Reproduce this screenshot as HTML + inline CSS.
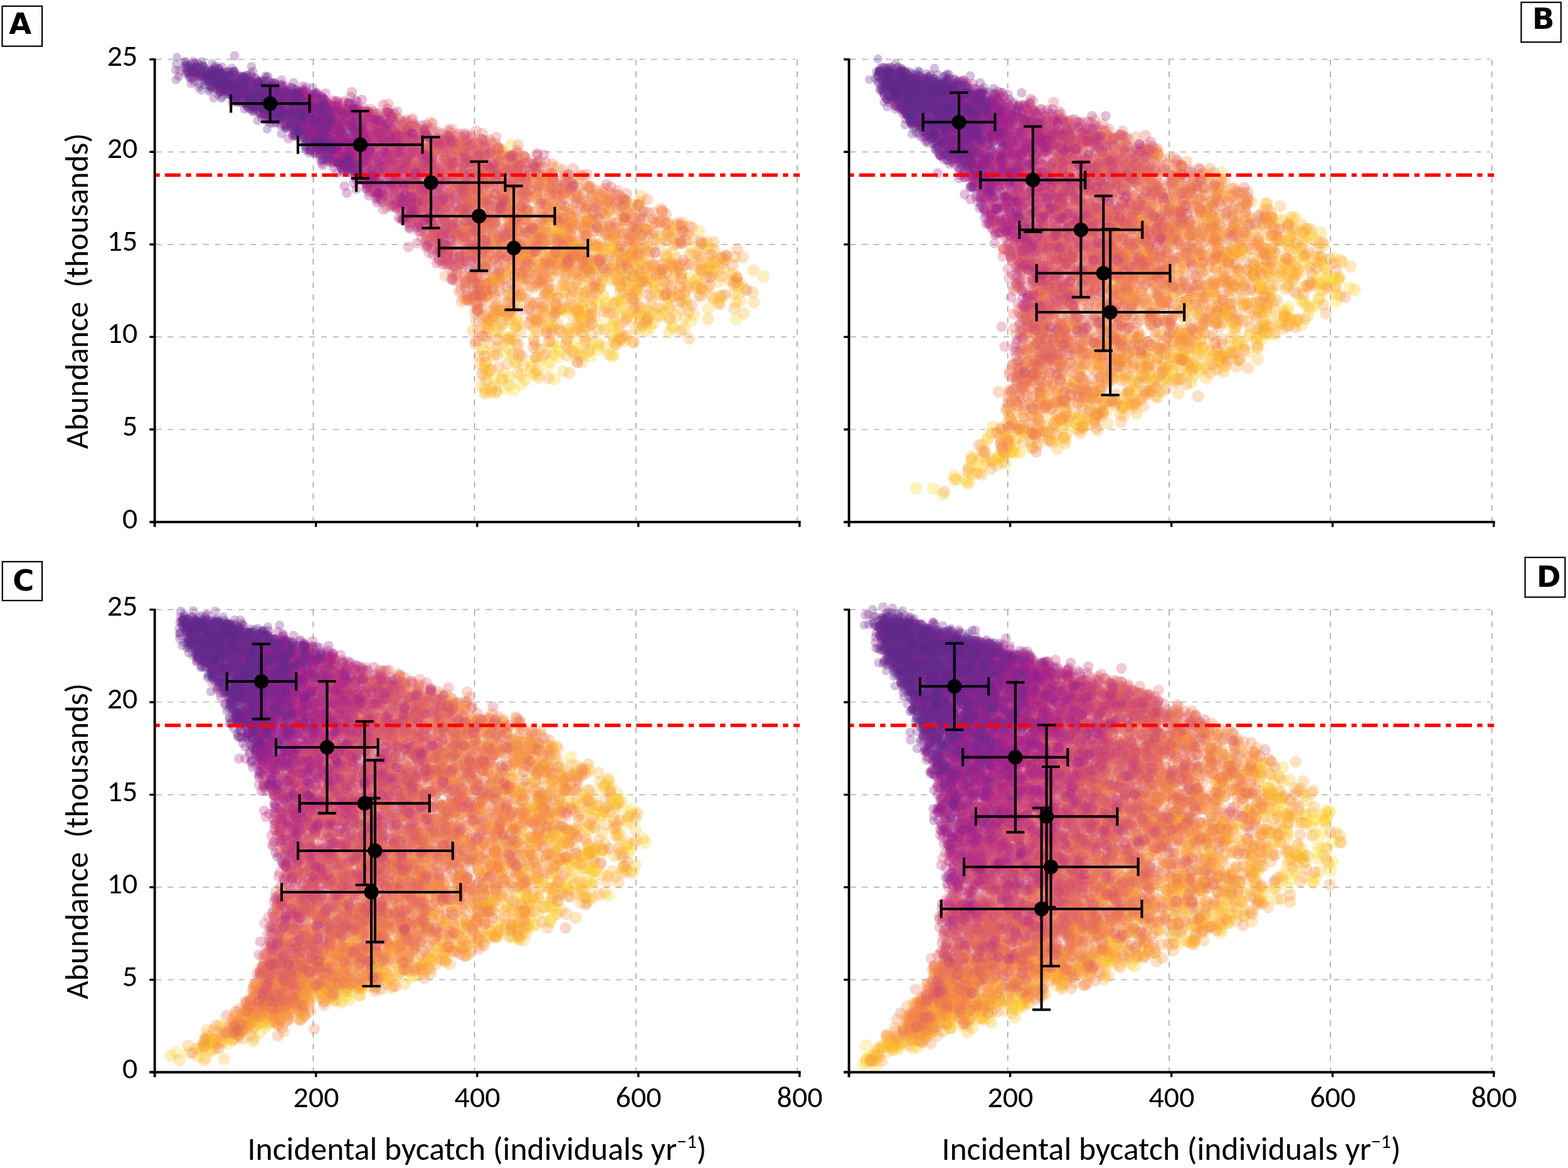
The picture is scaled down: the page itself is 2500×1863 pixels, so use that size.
<!DOCTYPE html>
<html><head><meta charset="utf-8"><title>Abundance vs incidental bycatch</title>
<style>
html,body{margin:0;padding:0;background:#fff;width:2500px;height:1863px;overflow:hidden}
svg{display:block}
.gh{stroke:#b4b6b9;stroke-width:1.7;stroke-dasharray:9 9.8}
.gv{stroke:#9c9ea1;stroke-width:1.5;stroke-dasharray:9 9.7}
.ax{stroke:#000;stroke-width:3.9;fill:none}
.tk{stroke:#000;stroke-width:3.4;fill:none}
.rl{stroke:#ff0000;stroke-width:5.4;stroke-dasharray:8.4 8.2 25.2 8.3}
.eb{stroke:#000;stroke-width:4.1;fill:none}
.tl{font-family:Carlito, 'Liberation Sans', sans-serif;font-size:48px;fill:#000}
.tt{font-family:Carlito, 'Liberation Sans', sans-serif;font-size:51px;fill:#000}
.bx{fill:none;stroke:#000;stroke-width:2.2}
.pl{font-family:'DejaVu Sans', 'Liberation Sans', sans-serif;font-weight:bold;font-size:46.5px;fill:#000}
</style></head><body>
<svg width="2500" height="1863" viewBox="0 0 2500 1863" xmlns="http://www.w3.org/2000/svg">
<rect width="2500" height="1863" fill="#fff"/>
<line x1="248.7" y1="94.7" x2="1268.1" y2="94.7" class="gh"/>
<line x1="248.7" y1="242.3" x2="1268.1" y2="242.3" class="gh"/>
<line x1="248.7" y1="389.9" x2="1268.1" y2="389.9" class="gh"/>
<line x1="248.7" y1="537.4" x2="1268.1" y2="537.4" class="gh"/>
<line x1="248.7" y1="685.0" x2="1268.1" y2="685.0" class="gh"/>
<line x1="499.4" y1="95.2" x2="499.4" y2="830.6" class="gv"/>
<line x1="756.6" y1="95.2" x2="756.6" y2="830.6" class="gv"/>
<line x1="1013.9" y1="95.2" x2="1013.9" y2="830.6" class="gv"/>
<line x1="1271.1" y1="95.2" x2="1271.1" y2="830.6" class="gv"/>
<line x1="1355.6" y1="94.7" x2="2375.6" y2="94.7" class="gh"/>
<line x1="1355.6" y1="242.3" x2="2375.6" y2="242.3" class="gh"/>
<line x1="1355.6" y1="389.9" x2="2375.6" y2="389.9" class="gh"/>
<line x1="1355.6" y1="537.4" x2="2375.6" y2="537.4" class="gh"/>
<line x1="1355.6" y1="685.0" x2="2375.6" y2="685.0" class="gh"/>
<line x1="1606.8" y1="95.2" x2="1606.8" y2="830.6" class="gv"/>
<line x1="1864.1" y1="95.2" x2="1864.1" y2="830.6" class="gv"/>
<line x1="2121.3" y1="95.2" x2="2121.3" y2="830.6" class="gv"/>
<line x1="2378.6" y1="95.2" x2="2378.6" y2="830.6" class="gv"/>
<line x1="248.7" y1="972.4" x2="1268.1" y2="972.4" class="gh"/>
<line x1="248.7" y1="1120.0" x2="1268.1" y2="1120.0" class="gh"/>
<line x1="248.7" y1="1267.6" x2="1268.1" y2="1267.6" class="gh"/>
<line x1="248.7" y1="1415.1" x2="1268.1" y2="1415.1" class="gh"/>
<line x1="248.7" y1="1562.7" x2="1268.1" y2="1562.7" class="gh"/>
<line x1="499.4" y1="972.9" x2="499.4" y2="1708.3" class="gv"/>
<line x1="756.6" y1="972.9" x2="756.6" y2="1708.3" class="gv"/>
<line x1="1013.9" y1="972.9" x2="1013.9" y2="1708.3" class="gv"/>
<line x1="1271.1" y1="972.9" x2="1271.1" y2="1708.3" class="gv"/>
<line x1="1355.6" y1="972.4" x2="2375.6" y2="972.4" class="gh"/>
<line x1="1355.6" y1="1120.0" x2="2375.6" y2="1120.0" class="gh"/>
<line x1="1355.6" y1="1267.6" x2="2375.6" y2="1267.6" class="gh"/>
<line x1="1355.6" y1="1415.1" x2="2375.6" y2="1415.1" class="gh"/>
<line x1="1355.6" y1="1562.7" x2="2375.6" y2="1562.7" class="gh"/>
<line x1="1606.8" y1="972.9" x2="1606.8" y2="1708.3" class="gv"/>
<line x1="1864.1" y1="972.9" x2="1864.1" y2="1708.3" class="gv"/>
<line x1="2121.3" y1="972.9" x2="2121.3" y2="1708.3" class="gv"/>
<line x1="2378.6" y1="972.9" x2="2378.6" y2="1708.3" class="gv"/>
<defs><marker id="k0" markerUnits="userSpaceOnUse" overflow="visible"><circle r="6.5" fill="#582c8c" fill-opacity="0.3"/></marker><marker id="k1" markerUnits="userSpaceOnUse" overflow="visible"><circle r="6.7" fill="#5b2c8c" fill-opacity="0.3"/></marker><marker id="k2" markerUnits="userSpaceOnUse" overflow="visible"><circle r="6.8" fill="#5f2c8d" fill-opacity="0.3"/></marker><marker id="k3" markerUnits="userSpaceOnUse" overflow="visible"><circle r="7.0" fill="#622c8d" fill-opacity="0.3"/></marker><marker id="k4" markerUnits="userSpaceOnUse" overflow="visible"><circle r="7.1" fill="#652c8e" fill-opacity="0.3"/></marker><marker id="k5" markerUnits="userSpaceOnUse" overflow="visible"><circle r="7.3" fill="#6b2b8e" fill-opacity="0.3"/></marker><marker id="k6" markerUnits="userSpaceOnUse" overflow="visible"><circle r="7.5" fill="#78288f" fill-opacity="0.3"/></marker><marker id="k7" markerUnits="userSpaceOnUse" overflow="visible"><circle r="7.6" fill="#852590" fill-opacity="0.3"/></marker><marker id="k8" markerUnits="userSpaceOnUse" overflow="visible"><circle r="7.8" fill="#952390" fill-opacity="0.3"/></marker><marker id="k9" markerUnits="userSpaceOnUse" overflow="visible"><circle r="7.9" fill="#a6218f" fill-opacity="0.3"/></marker><marker id="k10" markerUnits="userSpaceOnUse" overflow="visible"><circle r="8.1" fill="#b32889" fill-opacity="0.3"/></marker><marker id="k11" markerUnits="userSpaceOnUse" overflow="visible"><circle r="8.3" fill="#be3482" fill-opacity="0.3"/></marker><marker id="k12" markerUnits="userSpaceOnUse" overflow="visible"><circle r="8.4" fill="#c8407a" fill-opacity="0.3"/></marker><marker id="k13" markerUnits="userSpaceOnUse" overflow="visible"><circle r="8.6" fill="#d14c72" fill-opacity="0.3"/></marker><marker id="k14" markerUnits="userSpaceOnUse" overflow="visible"><circle r="8.7" fill="#d9586a" fill-opacity="0.3"/></marker><marker id="k15" markerUnits="userSpaceOnUse" overflow="visible"><circle r="8.9" fill="#e06461" fill-opacity="0.3"/></marker><marker id="k16" markerUnits="userSpaceOnUse" overflow="visible"><circle r="9.1" fill="#e87158" fill-opacity="0.3"/></marker><marker id="k17" markerUnits="userSpaceOnUse" overflow="visible"><circle r="9.2" fill="#ef7e4f" fill-opacity="0.3"/></marker><marker id="k18" markerUnits="userSpaceOnUse" overflow="visible"><circle r="9.4" fill="#f48b46" fill-opacity="0.3"/></marker><marker id="k19" markerUnits="userSpaceOnUse" overflow="visible"><circle r="9.5" fill="#f9993e" fill-opacity="0.3"/></marker><marker id="k20" markerUnits="userSpaceOnUse" overflow="visible"><circle r="9.7" fill="#fba735" fill-opacity="0.3"/></marker><marker id="k21" markerUnits="userSpaceOnUse" overflow="visible"><circle r="9.9" fill="#fcb72d" fill-opacity="0.3"/></marker><marker id="k22" markerUnits="userSpaceOnUse" overflow="visible"><circle r="10.0" fill="#fdc627" fill-opacity="0.3"/></marker><marker id="k23" markerUnits="userSpaceOnUse" overflow="visible"><circle r="10.2" fill="#f9d725" fill-opacity="0.3"/></marker><marker id="k24" markerUnits="userSpaceOnUse" overflow="visible"><circle r="10.3" fill="#f5e823" fill-opacity="0.3"/></marker><marker id="k25" markerUnits="userSpaceOnUse" overflow="visible"><circle r="10.5" fill="#eff821" fill-opacity="0.3"/></marker></defs>
<g id="clouds">
<g id="cA" fill="none" stroke="none">
<path marker-start="url(#k1)" marker-mid="url(#k1)" marker-end="url(#k1)" d="M308 114l6 4l38 3l-10 9l-6 8l18 6l55-19l-7 7l4 2l17-13l42 53l23 63"/>
<path marker-start="url(#k2)" marker-mid="url(#k2)" marker-end="url(#k2)" d="M318 135l20-19l0 4l-4 1l16 15l-1 1l-2 14l20-37l-1 5l11 3l-17 8l3 16l54-4l-5 23l3 3l29 3l-20 13l39-11l17-9"/>
<path marker-start="url(#k3)" marker-mid="url(#k3)" marker-end="url(#k3)" d="M285 122l26-21l-10 5l5 7l14 5l-19 1l21 3l-13 8l29-19l-3 11l7 4l-9 1l19 3l-12 2l5 1l-3 4l-4 4l25-28l0 5l25 4l-23 14l22 1l-14 0l14 10l2 4l-13 4l14-21l14 2l4 6l4 1l-12 0l2 1l15 8l-21 3l17 2l-22 8l15 7l34-27l-19 5l2 5l26 0l-8 12l-11 19l11 2l9-21l20 11l-4 0l4 37l15-62l0 59l9 12l-6 16"/>
<path marker-start="url(#k4)" marker-mid="url(#k4)" marker-end="url(#k4)" d="M281 102l18 14l29-5l-3 1l-18 1l-2 4l22 2l-11 2l12 3l15-8l8 3l-21 11l18 2l-2 0l-2 0l2 5l13 7l-2 0l25-23l-22 0l18 4l-5 4l16 4l0 1l-11 8l9 2l-16 5l-10 2l21 0l18-23l-7 0l23 1l-25 7l0 1l11 2l6 1l-18 11l6 2l22 0l-4 4l-17 0l16 0l-3 2l0 1l5 2l-11 7l-3 0l15 12l19-49l4 13l5 1l-5 0l-18 4l2 5l13 2l4 2l-7 1l-2 0l-7 7l10 5l13 5l-6 0l-7 1l-2 3l8 1l-9 0l-8 0l18 5l-9 1l4 9l-10 9l32-39l-3 10l21 9l-4 16l7 11l9-48l16 5l-11 9l16 21l-13 18l-8 6l19 12l15-7l-8 6l19 5"/>
<path marker-start="url(#k5)" marker-mid="url(#k5)" marker-end="url(#k5)" d="M296 117l-15 10l35-26l-4 6l3 16l-13 1l39-11l-4 1l-5 6l27 3l-7 2l-2 6l7 3l-9 0l5 1l-21 0l14 6l-1 1l9 1l5 0l-3 0l18-29l-12 7l0 1l23 3l-10 3l7 3l-11 1l2 1l-1 0l-12 2l16 1l3 0l-2 0l-14 1l26 2l-2 6l-4 3l0 2l0 1l-14 0l10 11l-1 1l23-57l-1 12l3 20l15 7l-28 1l28 5l-2 2l-1 2l-10 1l9 0l3 4l-23 4l14 0l8 4l-8 1l10 1l-23 2l24 2l1-39l3 5l12 1l6 1l0 3l-2 5l-15 4l2 12l19 1l-19 2l17 1l-8 7l-15 1l20 4l-4 3l-3 3l4 3l-6 5l16 4l2 13l6-67l4 3l15 5l-24 1l19 14l-15 7l7 2l-3 4l3 8l-4 1l2 1l5 3l-2 2l1 1l16 2l-25 0l22 1l-9 0l-12 1l22 6l-7 1l28-69l2 17l-10 6l7 2l-1 13l10 10l-7 5l-11 6l6 9l0 19l-8 6l21 1l4-39l8 2l-9 8l7 23l-4 4l3 2l37-44l14 43l-27 19l14 19l31-49"/>
<path marker-start="url(#k6)" marker-mid="url(#k6)" marker-end="url(#k6)" d="M293 108l8-1l14 8l-7 9l21 1l-23 1l28-8l9 6l6 2l8 3l1 11l1 5l11-36l3 5l0 0l16 11l-2 5l-1 0l-2 0l-7 1l-17 4l18 0l4 3l-14 1l-5 0l17 1l-4 4l-9 7l8 0l3 2l-2 3l1 1l13-32l21 6l-5 1l7 0l-15 1l17 5l-20 2l-3 2l23 3l-25 4l16 7l-2 1l-4 1l6 11l22-40l15 15l-23 0l15 5l5 4l-8 1l1 0l-12 3l28 0l-15 1l5 7l10 19l-2 3l-23 1l26-52l0 3l21 11l-9 3l6 7l-2 4l12 3l-19 0l-8 9l22 5l3 16l-6 4l-12 4l15 2l1 1l10-61l19 4l-15 5l4 1l4 1l7 2l-19 9l-2 2l-1 0l10 1l13 6l-15 1l4 3l12 3l-20 6l-4 2l11 1l-6 1l18 1l-12 1l9 2l-16 4l18 1l-1 0l-11 5l-1 1l-5 9l15 4l2 9l-7 8l26-69l-3 21l-4 22l19 25l-21 1l4 3l6 2l0 10l10 0l8-23l4 1l14 14l-10 1l14 8l-13 4l6 8l44 39l9-12"/>
<path marker-start="url(#k7)" marker-mid="url(#k7)" marker-end="url(#k7)" d="M317 139l37-32l-5 3l9 6l-22 3l5 5l18 18l-18 14l19-30l16 4l-11 5l19 3l-21 7l8 9l35-30l7 9l5 13l-5 4l-4 1l-15 0l-1 2l16 1l10 8l-27 2l0 1l18 1l-16 4l18 1l-4 3l11 0l-8 18l28-49l-15 3l12 6l-1 2l12 7l-1 3l0 4l-20 4l4 2l19 4l-27 3l20 1l3 1l2 4l1 10l28-52l-24 6l20 6l-11 2l-3 0l4 2l-6 2l16 9l-7 4l8 6l0 4l-23 2l18 6l10 3l1 3l-5 7l3 1l2 0l-2 1l8-66l-5 5l24 3l-1 14l-22 2l22 0l-22 0l28 1l-17 1l10 8l-10 2l-8 1l10 9l12 5l-7 3l1 0l-7 0l-10 1l3 1l22 0l-27 3l13 6l1 1l14 6l-27 0l7 7l5 1l10 0l-2 4l-1 1l-2 1l5 0l-2 7l-7 1l20-66l3 1l3 3l9 8l-8 6l4 0l-8 11l0 0l-4 10l11 10l-11 2l3 1l-1 3l15 1l0 9l-5 0l-3 1l-3 3l-5 24l48-71l-17 36l6 13l-11 1l5 3l3 2l-2 2l-5 3l-1 1l10 0l-9 5l7 5l-1 0l9 3l11 35l2-36l17 10l2 31l12-94l14 19l-13 41l-1 34"/>
<path marker-start="url(#k8)" marker-mid="url(#k8)" marker-end="url(#k8)" d="M342 108l-12 5l21 33l23-8l11 26l14-33l6 32l-6 4l50-39l-12 4l-1 5l-11 3l-2 7l11 14l-8 9l0 10l22 11l5-45l-3 1l1 1l15 2l-13 0l16 1l7 16l-3 5l-14 3l7 4l10 1l-24 2l5 1l18 3l1 16l-9 13l21-76l20 19l-21 4l9 0l0 0l9 4l-12 1l-2 4l17 1l-5 1l-11 0l-7 5l3 1l11 0l-1 1l-9 9l10 1l-10 6l7 1l7 3l-9 3l8 2l-1 0l3 4l2 0l3 3l-16 2l16 5l-16 3l16 5l0 7l-15 5l8 6l13-88l3 11l0 2l-8 5l20 0l-10 8l0 3l8 21l-7 4l-5 2l23 8l-11 3l-13 1l16 2l-5 2l-5 4l3 1l-3 6l-5 0l5 3l14 0l-21 3l23 10l-11 2l11 18l28-91l-19 25l2 10l-1 1l12 7l-3 0l-12 1l24 2l-27 15l8 2l13 12l1 7l6 3l2-87l7 3l-3 22l13 4l-17 8l0 8l4 5l15 1l-16 21l-1 24l14 9l8 17l34-125l-29 40l29 10l-16 4l15 68l-18 18l24-104l3 4"/>
<path marker-start="url(#k9)" marker-mid="url(#k9)" marker-end="url(#k9)" d="M416 135l2 20l22 10l5 13l-21 8l5 4l41-46l5 3l1 1l-22 1l23 1l-13 6l5 5l8 4l-23 23l25 11l2-50l18 2l-19 5l18 3l1 21l-6 2l-11 9l27 5l-18 16l11 5l34-56l-17 6l-1 3l20 0l0 0l-2 5l-22 6l21 4l-2 0l-1 3l-19 1l15 4l-5 2l14 2l-21 1l-4 1l23 3l-9 2l9 1l1 7l-15 3l18 6l-24 2l18 4l5 1l-2 1l-9 1l3 7l1 1l5 0l-8 2l8 4l-5 1l-9 12l10 10l34-93l-1 11l-5 2l-16 3l25 0l-11 4l-17 0l17 3l1 13l-13 8l16 2l-20 0l8 0l1 15l3 4l8 1l-15 1l16 3l-12 2l-10 2l26 1l-6 9l-10 2l-8 1l0 1l-3 1l29 25l-16 20l23-130l9 16l-4 5l6 7l-15 4l18 18l9 15l-20 0l-7 9l17 5l-7 3l13 6l1 1l-11 2l-11 9l10 8l10 3l-5 1l-1 2l11 14l11-96l-9 5l1 3l10 12l10 4l-9 7l0 22l5 11l-2 4l2 17l-8 16l53-60l9 18l15 51l25-65"/>
<path marker-start="url(#k10)" marker-mid="url(#k10)" marker-end="url(#k10)" d="M445 185l11-47l4 83l20-63l8 20l1 20l12 0l-15 5l15 8l1 32l17-94l6 29l2 9l-16 4l9 8l12 7l-9 18l0 10l-11 5l22 9l-1 9l30-84l0 2l-12 2l15 4l-20 1l20 2l-26 3l18 11l-6 3l1 4l-11 1l2 1l15 10l4 3l-18 7l14 1l5 8l4 8l-3 6l0 1l2 8l-22 2l2 11l15 5l23-90l14 0l-22 2l5 7l-4 4l-5 0l-1 3l5 1l-7 10l26 9l-14 10l0 9l-9 3l-3 0l17 0l-6 3l6 10l-13 8l6 5l-5 1l1 2l8 12l-10 0l24 3l-13 4l33-114l4 17l-14 0l-6 8l10 2l14 0l-10 22l-3 19l-7 8l13 23l2 1l-21 9l4 2l7 2l3 1l-11 14l26 1l-15 5l8 3l30-84l-17 26l-5 11l22 26l3 10l3 14l-19 6l34-125l-2 13l-4 5l10 44l-16 45l57-51l-23 64l-5 43l0 43l33 19"/>
<path marker-start="url(#k11)" marker-mid="url(#k11)" marker-end="url(#k11)" d="M454 158l45 12l-3 25l6 14l20-45l17 2l-19 10l17 0l-3 1l-1 15l-9 8l14 0l-17 10l48-47l-14 4l14 3l-24 6l6 3l-1 4l-1 2l0 2l8 12l-16 6l2 12l14 3l-15 3l7 12l19 2l-7 3l4 2l-21 7l35-72l11 7l-13 6l18 14l-25 8l12 1l-2 17l-2 3l7 3l3 2l-10 15l0 9l16 18l-3 2l0 17l6 7l21-133l-1 6l-17 2l24 1l2 5l-19 6l0 8l18 4l-6 17l10 11l-11 14l-1 1l6 3l-20 13l21 3l-9 6l-13 25l8 25l32-116l-9 4l9 12l-11 14l7 1l1 9l16 1l-2 24l3 8l-9 8l2 3l-13 1l17 4l-16 6l-2 20l17 34l1 6l20-145l-4 6l7 16l-11 27l15 7l2 21l-10 7l17 49l-13 7l-3 8l12 22l16-164l2 9l-12 29l-1 45l28 0l-9 0l-14 21l13 43l-10 18l7 11l-8 2l5 2l15 18l12-182l6 2l35-11l-17 37l25 120l19-48l70-92l33 47"/>
<path marker-start="url(#k12)" marker-mid="url(#k12)" marker-end="url(#k12)" d="M454 186l84-20l-20 18l3 19l7 9l-9 2l7 12l6 4l19-55l8 1l7 1l-5 21l8 15l-3 63l25-90l-7 31l14 13l0 8l-22 1l17 7l-2 9l-1 18l-5 6l-5 10l9 5l6 0l-10 3l30-117l5 2l4 8l-3 13l-14 7l-2 1l17 0l-14 6l-8 8l16 2l-12 4l17 30l-16 1l5 6l15 4l-21 2l20 53l0 3l9-152l9 21l-6 1l14 10l-14 4l-5 10l16 1l-16 1l26 4l-3 6l1 0l-24 3l28 0l0 31l-12 1l-17 2l1 5l5 8l2 33l-7 6l27 12l-5 4l-4 7l-7 1l9 45l9-196l29 38l-9 19l0 9l-12 6l-6 2l18 5l-7 1l-9 3l20 12l-2 5l-9 0l3 4l-5 2l3 2l-1 1l-6 7l-4 10l14 5l-15 4l7 11l-3 1l20 6l-3 19l15-160l11 12l-17 5l26 36l-21 2l6 2l10 3l-16 5l5 1l-3 17l-8 4l5 2l22 9l-17 13l-9 2l1 2l21 17l-3 10l-16 28l13 10l-9 5l-3 25l42-196l-9 16l-8 34l5 4l14 2l-3 1l-3 35l-7 1l2 58l-2 15l-3 19l24 20l14-201l-5 41l14 1l-7 3l7 65l-14 23l5 108l21-226l7 30l-6 95l3 5l14 32l11-156l12 26l-1 75"/>
<path marker-start="url(#k13)" marker-mid="url(#k13)" marker-end="url(#k13)" d="M523 166l25-4l20 50l27-34l-8 0l0 2l2 27l1 0l-6 31l10 6l-5 19l0 7l22-103l14 43l-15 11l12 13l5 10l0 18l-3 4l3 9l-23 1l-4 16l23 7l-9 9l15 1l-12 6l-1 16l29-136l-12 24l12 9l-2 16l7 15l-11 3l0 2l7 3l9 4l-12 4l3 4l-3 12l11 14l1 5l-10 0l-9 4l7 4l-11 12l0 2l10 1l-5 2l10 15l14-148l4 2l-5 29l26 5l-17 7l-3 1l18 14l-22 2l-2 6l12 8l-6 11l-2 2l23 2l-27 6l14 6l5 17l-11 1l-5 5l11 4l-13 4l25 15l1 1l2 11l-17 19l43-173l-1 10l-1 1l3 1l-3 7l3 0l-8 4l-12 3l-1 6l-2 3l26 0l0 1l-8 3l-4 3l12 23l-15 7l6 1l6 16l-12 11l12 16l-17 0l8 9l-6 9l10 1l-12 6l12 17l0 2l-13 3l10 2l9 1l-13 1l-14 2l19 15l5 1l-5 8l4 8l28-180l-4 12l-3 8l13 7l-19 2l-4 4l14 9l-12 21l11 7l11 3l-12 5l12 16l-1 13l-17 31l7 4l5 15l-18 33l44-141l-18 17l15 4l-6 1l2 1l11 20l-16 15l18 19l2 10l-11 13l6 21l-14 32l47-165l-10 4l-13 11l18 26l10 37l-10 21l26-120l-10 70l17 27l9-51l0 45l29-53l1 8l16 132l153-73"/>
<path marker-start="url(#k14)" marker-mid="url(#k14)" marker-end="url(#k14)" d="M560 184l23-6l5 4l-5 22l13 6l-23 3l16 19l9 14l28-26l1 24l-9 6l9 14l-13 13l-9 41l36-124l-10 8l4 11l2 5l18 7l-15 38l15 9l-20 1l24 14l-24 19l14 6l6 9l2 3l-1 25l5-149l7 20l17 10l-21 3l11 7l3 5l-10 12l21 5l-6 9l6 10l-3 12l-9 4l6 3l1 4l-15 5l0 2l14 7l-12 7l-11 2l22 4l-2 5l-14 12l0 20l15 11l8 0l-10 8l0 7l40-183l-8 4l-15 5l10 6l1 9l4 20l-18 3l13 1l-5 10l10 3l-18 4l10 12l-3 1l6 17l7 3l-12 0l5 9l0 6l3 8l10 27l-26 2l0 10l-3 18l9 21l8 2l4 4l21-203l11 3l6 14l-19 18l15 10l4 1l-13 2l5 6l-1 3l-8 11l-9 9l1 7l25 6l-8 0l-2 9l8 8l-7 3l2 8l-19 28l18 6l-12 5l11 7l6 6l0 17l-7 21l-18 22l1 3l19 5l-6 11l23-236l15 11l-10 1l-11 5l7 5l4 20l-1 16l9 1l-14 12l5 12l-8 5l22 6l-22 3l15 0l-10 8l15 12l-14 7l16 5l-13 9l3 5l-12 2l22 14l-17 4l20 7l-27 10l14 63l18-241l11 7l-3 28l8 8l-4 4l10 17l-20 4l4 51l11 24l-7 5l1 11l-4 11l-7 19l41-150l-1 5l12 4l-13 4l-7 20l6 39l4 28l-13 7l18 2l25-131l-12 41l-3 9l21 23l2 21l31-12l0 12l-20 12l40-57l3 30l0 22l-13 79l88-109"/>
<path marker-start="url(#k15)" marker-mid="url(#k15)" marker-end="url(#k15)" d="M596 182l20 44l20-36l8 21l-10 30l15 5l-4 20l11 32l2 8l-5 53l24-149l8 27l3 21l-16 10l17 12l-6 1l-19 13l3 9l10 4l-8 21l-2 2l10 13l1 31l26-161l9 5l-23 12l19 23l10 3l-11 26l-17 3l10 11l18 2l-12 17l-3 16l4 2l-7 5l-4 26l14 0l-11 11l4 15l10 12l-3 19l3 1l11-184l9 5l-6 7l14 8l-18 5l-3 14l3 21l10 3l6 3l9 2l-9 2l-13 6l10 12l0 7l-6 4l-10 0l14 1l-4 14l14 4l-5 3l5 5l-3 7l-14 9l3 1l11 61l0 6l3 28l0 2l4 2l20-267l-15 19l13 2l-2 13l7 0l2 3l-20 12l0 13l22 4l-7 1l2 10l-2 12l-16 8l23 1l-10 1l6 4l-13 1l-2 1l12 3l-14 22l14 0l-14 9l14 12l-18 2l25 6l-20 21l-4 6l2 8l14 12l-4 10l8 4l-11 18l-1 1l-2 20l-5 0l38-253l-10 4l13 15l-1 15l4 3l-6 21l15 5l1 19l-16 8l2 1l9 4l0 24l6 2l-19 11l2 2l-3 24l7 30l0 7l-7 15l14 18l-6 17l23-205l17 1l-20 14l2 13l13 7l2 4l4 10l-6 3l-8 4l3 35l-5 4l-7 9l12 25l6 16l-17 23l22 1l28-162l-21 5l3 8l13 14l-3 8l10 44l-5 27l-21 15l23 6l-16 8l14 47l7 20l-25 25l4 15l22-249l6 23l11 11l4 8l-15 15l19 8l-11 3l8 48l34-96l-22 121l21 2l-22 88l37-190l9 3l-3 8l-13 11l1 11l-4 41l29 37l9-89l31-2l-3 6l4 11l28 0"/>
<path marker-start="url(#k16)" marker-mid="url(#k16)" marker-end="url(#k16)" d="M631 186l17 26l10 78l-11 28l24-110l14 15l3 7l-25 62l7 57l43-119l-22 16l8 2l16 14l-6 17l-19 31l26 10l-16 12l-7 32l-2 8l10 6l16 17l-4 15l7-204l9 10l-4 9l20 18l-5 19l-15 29l12 45l-8 4l2 0l-3 7l16 7l0 9l-2 6l-16 4l21 2l-3 4l-6 37l11 28l7-215l12 34l-4 22l15 1l-16 7l-10 5l4 1l6 14l-10 5l15 4l6 23l-4 10l-12 3l20 31l-20 9l3 9l15 4l-22 27l20 16l7-208l21 1l2 8l-19 7l6 21l1 3l-10 3l17 5l-16 5l12 24l5 2l0 2l1 6l-16 17l1 3l4 8l15 17l-14 12l2 51l4 54l38-246l1 2l-25 12l15 3l-4 23l-8 27l-3 6l20 4l-16 5l17 1l-18 15l-4 2l26 1l-24 8l25 15l-26 22l27 12l-11 27l5 3l0 7l-16 8l16 115l22-289l8 17l-1 14l-7 57l4 15l-13 3l1 25l-6 25l14 22l-9 2l35-197l18 10l-18 14l2 1l-6 17l-4 29l23 16l-21 23l-3 0l25 11l-12 22l-11 14l8 10l13 66l-14 33l-10 38l44-296l-13 11l3 3l-4 34l26 13l-9 7l-14 19l19 30l9-78l12 5l-2 49l-11 65l13 32l31-150l7 0l1 3l-9 43l4 10l-6 43l-2 6l38-81l-1 16l9 21l-3 0l-18 3l17 14l-21 43l95-42l71 82"/>
<path marker-start="url(#k17)" marker-mid="url(#k17)" marker-end="url(#k17)" d="M656 193l20 102l11 67l28-83l3 117l4-179l8 20l10 16l1 36l5 39l3 34l-25 4l22 6l-4 33l-10 60l44-234l-13 10l1 24l10 19l-18 27l19 3l-4 16l-11 22l11 2l-4 4l-12 3l5 10l-7 1l6 3l8 0l-2 17l1 7l8 2l-23 11l11 1l15 18l1 21l-25 2l12 1l5 10l8 5l-20 13l3 10l-3 51l41-305l-10 5l13 19l-17 3l3 7l13 3l-1 38l-4 4l9 9l-22 4l19 47l-3 15l1 4l-19 0l12 9l-5 36l-7 2l1 5l4 2l3 19l0 19l-3 21l36-248l-8 10l7 27l13 4l-16 31l19 4l-11 15l-7 6l0 16l-3 3l7 12l-7 2l15 4l-5 10l4 1l-10 10l6 12l9 16l-8 19l-11 26l2 2l14 2l-20 4l43-218l-9 24l21 33l0 3l-9 21l-8 19l-2 17l18 0l-24 10l-2 7l28 8l-2 23l-4 69l-11 29l-1 11l32-286l0 21l-2 12l-3 0l19 2l0 7l-3 2l-6 33l1 4l9 7l-27 6l19 8l-2 7l-11 5l22 23l-15 0l11 13l-18 13l-1 10l29-162l17 32l6 13l-27 14l15 22l-14 1l6 12l-7 51l12 1l-12 1l13 12l-11 1l2 103l33-244l14 25l-16 6l-2 4l0 6l4 51l12 2l-12 32l3 5l-9 38l53-163l3 7l-15 7l0 0l1 7l14 3l-3 3l-22 2l9 4l-6 24l-5 2l17 16l-16 62l5 50l40-151l-12 6l-3 29l14 13l-1 18l-8 8l23 20l-4 66l28-161l1 64l0 19l-18 21l1 71l-3 6l49-147l-11 11l18-25l23 128"/>
<path marker-start="url(#k18)" marker-mid="url(#k18)" marker-end="url(#k18)" d="M684 248l0 45l-4 33l35-72l-25 136l59-139l-11 157l1 68l9 1l-12 4l42-217l-14 55l-5 1l20 39l-29 33l11 47l17 12l-14 0l13 3l-13 10l1 2l10 2l-14 18l16 24l-19 39l34-269l-9 57l26 23l-11 21l-13 4l14 7l-16 1l9 45l9 0l6 5l-21 2l-6 6l12 36l-10 9l20 0l-8 58l33-269l-11 13l15 12l-21 3l17 3l-8 7l1 19l-1 14l10 41l-6 1l7 14l5 4l2 9l-21 3l5 18l9 24l-20 3l1 29l2 8l14 55l42-274l-14 18l5 15l-20 12l2 1l24 13l-21 1l16 13l5 6l1 13l-2 1l-13 3l-1 6l3 21l-8 0l15 20l-6 3l-13 3l25 49l-20 14l-3 12l34-238l0 9l2 38l-10 2l11 6l1 1l13 19l-3 33l6 1l-21 17l-7 10l3 58l14 18l-5 32l30-235l4 28l4 1l3 1l-13 40l-3 0l10 2l-9 17l-7 2l-1 4l24 2l-20 7l21 7l2 13l2 15l-22 106l17 37l10-273l11 19l12 12l-11 37l-8 32l16 25l-16 3l11 5l-2 23l8 10l-20 5l14 1l-7 5l-10 50l40-188l-6 6l5 20l12 4l-4 8l8 1l-13 2l-3 7l14 26l0 39l-23 50l30-158l6 7l0 5l4 9l8 28l-2 22l-18 5l3 3l6 21l4 31l-4 39l41-77l-20 58l43-116l16 14l-5 85l6-118l23 8l-16 25l41 9l-17 8l23 2l-18 23l19 2l-20 39l26-54l7 67"/>
<path marker-start="url(#k19)" marker-mid="url(#k19)" marker-end="url(#k19)" d="M750 320l2 84l16 20l-2 26l9 22l-24 3l11 6l14 25l2 18l-15 19l1 25l16-260l4 61l-4 40l12 36l5 1l10 37l0 20l-27 8l4 2l25 68l16-336l3 20l-6 107l12 10l-15 6l13 1l-15 28l9 19l1 5l-6 18l2 11l4 3l-11 91l29-250l24 56l-10 10l-6 65l12 11l4 12l-15 15l-9 0l20 8l-2 4l-6 15l15-214l8 9l-7 42l14 2l-11 7l16 30l-9 20l-11 3l14 1l6 5l-4 15l-12 55l19 6l-6 2l-15 21l18 13l-17 76l32-292l4 36l8 17l-4 26l10 6l-17 5l19 5l-16 0l-8 0l0 4l-1 13l23 15l-23 7l-1 21l16 24l12 21l18-189l-6 28l-10 3l5 1l-5 13l20 22l-5 1l-6 24l-1 18l18 26l-12 17l19-161l17 65l-9 4l5 13l-15 3l4 25l23 42l9-141l21 2l-5 37l-8 10l-6 6l12 22l-3 32l2 22l-8 6l-8 6l24 48l-9 30l16-197l1 15l5 2l1 0l-4 1l5 13l9 1l-11 12l-6 2l10 7l-2 10l-13 5l19 7l-1 50l25-117l-3 9l4 5l-10 10l16 41l3 3l-21 12l6 12l9 58l20-152l-1 10l17 16l-11 40l-9 50l54-85l-6 20l-17 9l4 19l30-23l5 0l30-1l-10 40"/>
<path marker-start="url(#k20)" marker-mid="url(#k20)" marker-end="url(#k20)" d="M763 467l10 56l-19 5l21 7l29-287l3 97l-22 70l22 5l2 71l-15 8l-2 32l-11 17l37-223l-7 3l18 24l-5 63l9 33l-22 90l35-252l23 73l-14 6l13 19l-12 67l-6 8l17 15l-3 36l-19 8l17 39l-10 39l37-329l4 66l6 9l-1 25l-11 1l8 87l-13 8l-8 2l7 3l-3 6l1 31l-5 18l49-239l-14 48l3 15l0 40l11 19l-9 10l-9 5l0 10l24 2l-14 2l-15 21l13 8l-1 8l-1 15l12 11l0 6l-8 3l-9 17l17 0l-6 5l-11 25l5 6l28-210l17 2l-22 1l16 5l-13 3l6 46l6 24l-10 19l-6 97l31-181l23 24l-12 5l1 33l8 15l-4 2l-1 68l8 15l0 11l-5 10l-11 16l26-206l21 72l-18 6l-5 10l19 13l-15 16l9 8l10 2l1 13l-19 6l21-183l20 34l-6 69l-6 2l-2 15l46-80l-6 8l11 42l0 10l-6 3l-19 11l11 18l4 55l31-103l0 54l-10 19l5 0l41-62l-5 25l-17 11l22 20l21-58l-6 56l20-17l17 6l-16 8"/>
<path marker-start="url(#k21)" marker-mid="url(#k21)" marker-end="url(#k21)" d="M774 579l0 0l-3 7l2 13l27-359l-2 148l-14 128l11 11l6 78l-13 12l-5 9l56-212l-23 25l-3 32l2 33l13 9l-6 9l2 57l1 16l6 3l-19 17l56-188l-14 81l3 49l7 12l-17 17l44-217l7 1l-19 40l18 2l-17 4l6 14l10 45l-18 19l27-61l15 19l-14 4l20 6l-1 22l-1 21l3 12l-5 5l16-173l18 17l-17 58l6 4l9 33l-24 20l21 2l-14 20l-7 33l24 11l-14 11l32-160l-10 50l17 37l-5 49l11 9l32-215l-19 12l1 54l4 15l6 20l-14 10l30-21l23 19l-16 7l-10 6l-1 1l12 41l-2 24l30-110l-2 14l14 6l4 6l-19 7l-4 55l-4 8l28 1l-27 2l51-111l-13 29l5 29l-11 41l45-107l9 50l-8 73l29-101l17 34l2 14l24-25"/>
<path marker-start="url(#k22)" marker-mid="url(#k22)" marker-end="url(#k22)" d="M767 615l37-177l-5 112l24-61l0 22l-2 11l-9 80l47-27l20-221l8 15l2 127l9 96l18-201l41 62l-20 10l17 88l23-128l-15 18l0 30l22 9l-18 4l12 82l40-124l-24 18l-2 27l20 20l27-56l7 17l-24 36l9 24l48-162l-6 155l-6 9l48-132l14 94l17-43l1 28l33 3l-7 3l44-42"/>
<path marker-start="url(#k23)" marker-mid="url(#k23)" marker-end="url(#k23)" d="M771 559l5 30l1 4l-2 31l29-109l3 25l0 24l-20 41l18 14l26-6l-12 9l50-103l-23 57l2 16l9 6l33-44l-11 1l14 5l-4 9l-12 8l-3 8l27-87l14 51l7 7l21-7l45-68l-1 20l-26 17l16 1l3 1l31-75l2 4l37-72l17 99l67-80l-23 50l36-29l23 20l11 16"/>
<path marker-start="url(#k23)" marker-mid="url(#k23)" marker-end="url(#k23)" d="M790 528l14 68l-14 31l24-89l37-1l5 34l26-51l2 85l70-208l-3 89l3 72l-24 8l11 2l32-172l-8 83l13 56l-2 33l31-141l-12 29l6 46l27-103l-2 48l20 9l-1 1l-8 65l28-37l1 8l-9 8l15 21l29-9l30-86l14 5l33 36l-4 41"/>
<path marker-start="url(#k22)" marker-mid="url(#k22)" marker-end="url(#k22)" d="M769 557l22-109l4 52l-9 63l-2 27l30-358l-1 325l8 20l17 29l18-271l0 75l26 136l0 20l42-66l4 2l-18 23l-5 15l14 36l33-179l-13 20l41-24l-18 11l0 33l25 12l-14 49l-9 55l49-182l-10 40l3 5l-12 3l11 28l-13 30l26 52l2-162l1 130l14 7l-4 5l42-127l0 21l19-29l-6 62l13 7l-7 31l14 28l-16 23l24-157l9 22l1 42l-14 25"/>
<path marker-start="url(#k21)" marker-mid="url(#k21)" marker-end="url(#k21)" d="M779 519l-14 61l8 40l19-177l-5 125l12 36l-16 16l37-256l-10 67l14 88l-10 21l11 11l2 17l7 15l10-174l2 17l23 72l-11 31l1 74l36-194l2 55l-13 15l13 52l23-139l-5 26l12 66l-20 7l-5 3l18 2l1 21l-7 45l8 1l6 15l9-156l-6 52l12 16l-12 5l10 8l-10 0l6 17l2 41l25-219l22 60l-10 45l11 72l-24 7l16 20l37-84l0 8l-2 2l-17 24l10 1l6 27l-20 12l0 2l3 6l14 2l12-233l2 105l14 69l-3 10l-3 7l9 11l22-108l-1 4l12 33l-11 25l-12 2l53-64l4 18l-13 63l-3 20l37-87l9 8l-12 0l-15 17l7 14l20 16l28-38l-16 35l-5 12l41 15l16-18"/>
<path marker-start="url(#k20)" marker-mid="url(#k20)" marker-end="url(#k20)" d="M764 386l-4 85l16 46l0 90l-3 21l34-164l-15 31l-2 5l10 12l19-265l17 89l-21 26l17 35l2 77l-4 54l-9 13l45-151l-2 16l-1 14l-1 9l-3 64l-7 31l4 67l22-224l9 8l2 17l-12 19l-7 29l11 0l17 9l-15 55l6 12l-18 12l3 18l36-170l10 12l7 17l-12 1l6 60l1 28l-3 3l7 32l-22 38l4 28l26-224l7 10l16 7l-2 7l-22 46l7 5l3 44l5 14l-6 5l12 17l-11 7l-9 10l32-213l10 15l13 6l-13 24l11 19l-1 10l3 23l-9 2l0 7l8 21l-7 26l-11 17l12 49l16-228l20 5l-10 1l-13 19l20 42l-1 8l5 4l-2 9l0 6l-27 14l27 19l-1 15l-6 1l31-71l-1 29l-17 12l13 8l6 8l-11 63l21-124l12 35l-14 7l26 9l-24 21l18 3l-10 8l26-27l-3 19l-1 6l16 27l1 43l34-119l-16 0l-6 36l17 1l-6 6l-5 9l34-62l3 18l9 18l9-37l-2 40l1 42l29-26"/>
<path marker-start="url(#k19)" marker-mid="url(#k19)" marker-end="url(#k19)" d="M710 440l24-94l1 103l29-89l12 59l1 53l-3 1l0 8l-2 22l-9 22l12 13l32-231l-21 70l21 56l-21 27l2 5l0 29l20 4l-21 6l14 14l8 25l-17 23l3 20l-14 4l11 34l42-372l-2 163l-4 3l10 36l-15 24l-8 18l10 53l30-279l2 18l0 21l-15 2l8 5l-3 45l-3 4l1 6l4 14l-1 12l-7 8l19 17l9 17l-25 52l21 6l-12 13l19-232l-1 40l10 72l13 18l-12 10l-9 42l14 38l5 28l-15 6l31-234l17 50l-9 10l-13 8l5 18l-3 22l2 1l-3 10l6 13l13 14l-3 3l-10 28l-8 74l39-250l17 13l-8 18l-4 8l-12 19l17 36l8 1l-25 2l20 20l-18 0l-4 10l15 5l-3 85l-2 2l21-200l7 2l15 15l-3 43l7 28l-7 4l-5 14l2 76l13-184l2 10l18 16l7 12l-10 13l0 34l-10 5l3 13l15 11l-27 26l21 24l-15 33l3 22l-9 7l42-115l17 63l7-152l1 13l15 29l2 11l-21 31l6 26l12 25l-4 17l22-129l4 22l-7 61l11 13l-5 8l-6 63l34-141l-4 22l2 20l8 13l-8 19l22-61l12 21l-3 20"/>
<path marker-start="url(#k18)" marker-mid="url(#k18)" marker-end="url(#k18)" d="M644 263l42-68l-1 71l54-44l-10 12l6 136l2 11l3 2l-8 38l11 57l30-129l-11 33l-2 17l2 58l13 8l-18 33l11 9l-9 5l14 56l-5 29l27-329l13 75l-17 37l10 2l6 26l-13 40l2 2l-5 28l7 17l-5 47l34-278l10 59l-1 27l-21 11l24 2l-20 8l1 20l18 3l-22 10l6 58l9 8l-14 5l35-211l9 16l3 2l-2 18l-5 18l-10 28l-6 1l13 12l2 18l-9 25l0 15l8 11l-3 5l-7 3l14 11l-18 30l18 6l-3 30l32-198l2 0l-17 12l11 7l-12 13l18 8l-3 44l-1 1l4 20l1 13l-18 17l2 7l11 28l-15 46l6 13l52-263l-28 11l17 14l-16 1l26 9l-20 25l1 1l3 11l-4 4l-4 5l16 40l4 7l-13 4l8 21l-7 24l47-153l-7 4l6 7l-15 36l-7 1l11 2l-16 10l26 4l-23 9l24 36l-9 0l7 3l3 5l-28 13l12 65l23-199l20 62l-19 11l5 55l32-48l14 3l-1 19l1 3l-10 1l0 69l4 14l22-151l14 16l-8 19l-19 0l5 8l5 76l3 13l-2 38l24-172l8 18l-12 0l18 64l-13 11l6 5l7 21l29-95l-2 13l-11 13l-3 36l3 13l-1 21l32-72l15 70l36-33l8-25l0 53"/>
<path marker-start="url(#k17)" marker-mid="url(#k17)" marker-end="url(#k17)" d="M649 198l-2 55l28-10l-4 18l26-31l1 4l19 100l28-115l2 8l-11 7l4 41l-5 7l8 10l-1 5l5 4l-12 28l3 6l-16 15l17 11l-9 8l7 8l-5 28l10 36l6 3l12-208l4 20l9 4l4 16l-25 19l16 3l11 25l-26 3l23 12l-17 17l2 42l5 19l8 9l-20 13l12 55l-3 2l33-250l-6 3l17 9l-8 22l-18 13l26 6l0 3l-9 3l6 14l-19 1l19 1l-4 13l-10 22l-2 2l-4 34l16 13l-7 20l11 1l22-194l-10 22l7 10l13 25l-26 7l4 5l-2 36l21 4l-2 1l-14 1l7 13l-3 5l-6 2l-2 12l3 9l7 1l7 6l-7 4l-1 12l-10 2l20 25l1 2l-23 47l51-223l-5 2l4 27l-19 3l6 1l14 13l3 43l-15 19l12 12l2 2l6 36l-2 19l-9 15l6 0l-14 36l3 62l1 21l39-274l-12 4l-4 9l0 1l-1 32l23 6l-7 7l-8 28l-14 4l18 0l-8 28l-10 7l19 53l17-173l4 3l1 29l1 30l-1 13l-5 8l14 13l-4 5l13 2l-14 4l14 4l-22 6l17 2l16-125l-3 31l11 15l8 6l-26 15l6 16l17 34l-16 15l5 7l9 13l12-140l7 14l12 2l-17 48l1 62l46-85l-16 2l18 6l-12 15l5 3l-12 23l-4 24l10 6l9 13l-12 8l34-131l-10 26l22 11l-15 11l15 5l-14 29l16 39l8-106l8 8l-10 12l9 4l1 110l-2 4l22-43l3 54l33-93l15 53l58 21"/>
<path marker-start="url(#k16)" marker-mid="url(#k16)" marker-end="url(#k16)" d="M610 226l47-24l-26 11l27 45l-4 23l17-47l15 4l-6 7l5 11l-25 9l24 26l3 33l-2 2l10-90l15 15l-13 17l14 54l-7 8l7 67l33-168l-4 4l-1 4l10 8l-5 6l2 1l-18 6l-2 13l5 6l-4 21l10 34l4 4l-19 14l2 18l12 4l-3 25l-2 26l-1 8l-2 4l16 16l-2 7l1 1l23-237l3 1l-10 21l4 6l-4 11l13 1l-9 7l2 4l-8 0l6 10l-8 7l17 3l-1 9l1 20l-10 1l2 16l-8 0l-2 5l19 2l-2 1l-14 3l-2 1l12 7l9 5l-21 3l10 12l11 0l-1 5l-21 8l19 3l-2 8l2 25l-12 1l3 13l-4 0l-7 1l1 21l0 13l14 3l-8 3l1 12l0 2l29-267l3 6l-12 8l16 25l9 4l2 45l-9 3l7 1l-11 1l-5 8l1 8l15 27l-11 43l1 22l-11 32l30-208l21 6l-20 8l4 4l-2 7l13 5l-7 0l4 17l0 1l7 2l-5 3l-19 19l24 0l-10 1l-9 1l5 20l15 1l-12 0l-12 13l17 7l8 1l-21 1l12 21l1 2l-13 19l13 10l-9 17l33-178l-9 52l18 41l-5 25l-1 20l-4 1l-12 16l1 28l36-168l10 24l2 9l1 71l-14 40l8 79l39-201l-23 9l12 100l-8 15l17 155l32-252l0 21l-6 22l-13 7l3 35l-7 7l52-62l-9 5l26-52l-7 21l24 35l-13 18l-3 39l23-47l2 74l31-19l29-71l4 10l0 1l0 45l10 7l76 21"/>
<path marker-start="url(#k15)" marker-mid="url(#k15)" marker-end="url(#k15)" d="M589 219l7 18l23-71l-14 49l22 2l-18 4l13 34l5 21l-10 42l37-115l-6 1l1 0l-5 4l5 2l8 15l-16 3l-5 1l-2 7l4 4l20 28l-27 1l7 3l-7 12l5 2l1 33l13 10l38-125l-10 3l-14 9l18 10l-7 10l8 11l-2 36l-8 7l-10 25l16 45l19-139l9 3l-8 8l20 19l-5 12l-9 27l-12 38l1 2l23 19l-25 24l22 4l-14 12l11 25l-10 2l22-186l-3 3l7 2l14 8l2 4l-18 12l-2 47l21 3l-6 17l4 4l1 3l-17 31l23 26l-7 6l1 2l-10 5l6 4l-2 7l-10 25l18 33l14-263l-8 7l23 9l-8 21l8 3l-8 11l12 9l-3 2l-10 10l10 3l-24 18l28 15l-26 4l3 3l-6 8l12 6l-11 13l8 3l6 29l8 6l-5 10l11 5l-12 0l-17 3l4 6l22 2l-2 13l-20 16l2 7l8 3l-3 8l15 1l-7 73l25-299l2 19l-11 13l8 7l1 5l14 8l-11 2l-3 8l-14 1l3 17l16 16l-9 9l-4 13l-1 5l24 13l-5 2l1 1l4 4l-9 8l2 27l-6 20l12 23l17-218l-8 8l-3 0l25 4l-12 27l8 1l4 1l-25 23l19 9l6 2l0 16l-28 5l25 28l-24 6l48-102l-2 29l-18 10l27 18l-25 46l39-95l-1 8l14 4l-17 10l20 2l-11 10l3 41l-2 52l25-111l0 5l6 21l-17 11l2 82l3 6l30-139l12 53l-3 8l10 76l-6 42l38-137l-27 20l2 88l48-67l-20 31l35-54l-3 12l63 34l73 23"/>
<path marker-start="url(#k14)" marker-mid="url(#k14)" marker-end="url(#k14)" d="M564 192l27-18l1 8l-8 28l-10 27l2 2l-4 1l22 66l11-113l-2 12l2 5l-2 5l11 11l-5 9l0 34l14 34l33-89l2 9l-16 5l9 2l2 16l-5 4l7 9l-17 3l8 4l7 34l-17 8l12 11l2 5l3 8l-6 16l6 0l29-143l-15 8l13 3l9 6l-28 8l20 7l8 16l-13 1l-5 12l18 3l-15 0l13 12l-23 6l24 2l-3 9l-11 12l-1 1l1 1l5 2l-13 7l6 9l-7 2l24 7l-24 1l15 10l-13 5l6 3l8 13l-1 12l4 20l6-206l2 15l26 12l-2 0l-22 16l13 1l-7 2l16 20l-2 1l-15 4l-3 4l22 0l-17 2l2 3l-9 0l-4 12l1 6l18 21l-6 8l10 7l-7 8l0 7l3 3l-6 5l0 1l9 1l-14 11l-5 12l1 3l25 0l-11 3l-10 6l6 8l11 3l0 8l19-192l-9 9l8 0l8 18l-2 22l-13 3l19 11l-4 7l-21 2l18 2l11 3l-16 3l5 4l-5 8l7 0l-2 3l6 4l-23 3l4 9l21 2l-2 3l4 18l-28 11l6 9l-5 30l13 6l1 12l-3 0l-9 4l14 3l-10 21l24-228l22 31l-4 2l-19 32l28 6l-9 3l-8 10l8 19l10 22l-10 2l3 3l-13 18l0 1l-3 25l-2 35l4 41l23-232l17 9l-11 14l-3 3l25 5l-23 1l23 3l-19 17l8 37l-18 0l15 53l-6 33l36-162l3 14l0 1l-14 5l-2 7l15 5l2 0l8 4l-22 5l4 2l-6 1l7 56l22-92l17 19l-13 24l5 35l-3 26l1 1l7 29l-3 8l-10 20l55-30l11-101l1 11l64-3l22 21l21 8l28 76"/>
<path marker-start="url(#k13)" marker-mid="url(#k13)" marker-end="url(#k13)" d="M537 180l14-5l11 13l-18 0l9 2l2 10l25-27l-4 13l20 9l-7 29l-4 1l13 0l-8 17l9 4l-13 11l-15 0l28 2l4-78l1 5l18 1l4 21l0 17l-12 6l10 1l-3 10l6 3l1 6l1 5l-16 19l13 18l-15 41l47-145l-24 6l24 7l-5 11l-16 6l22 3l-13 13l-1 21l-5 7l16 1l3 1l-26 1l21 12l4 9l-16 0l-9 4l25 1l-22 13l13 17l31-123l-20 46l16 1l-11 3l18 3l4 7l-24 5l20 2l-15 6l-3 21l14 4l2 2l3 2l-20 3l15 10l-2 6l7 11l-11 9l9 10l-3 0l-11 4l-3 9l0 25l34-164l19 3l-10 3l3 7l2 0l-5 17l-6 21l-12 6l22 3l-4 9l-3 19l11 2l-25 8l10 0l-10 3l15 5l-7 10l-1 6l9 4l4 6l4 6l-9 13l-8 5l21 6l-15 4l12 10l-16 1l14 3l-14 10l17 3l27-192l-20 4l-3 22l0 9l-1 5l29 14l-9 15l-6 6l5 1l-14 11l9 21l6 7l2 3l0 10l-21 4l10 17l-10 60l-1 12l49-224l-18 9l22 3l-16 22l-7 1l2 2l1 95l1 17l20 11l-21 6l3 7l1 17l-7 4l17 56l24-191l-2 28l12 14l-21 6l19 3l10 77l8-160l9 12l11 9l-5 60l-14 65l39-138l-7 4l4 8l-9 4l17 51l45-46l7 19l38 66l15-69"/>
<path marker-start="url(#k12)" marker-mid="url(#k12)" marker-end="url(#k12)" d="M501 169l21-5l11 9l0 3l2 17l0 42l23-69l-16 7l4 9l9 2l11 4l-23 20l8 28l27-58l0 4l8 0l8 15l4 15l-10 9l-11 20l3 8l-6 1l10 17l6 25l11-93l7 3l9 3l-10 10l8 4l-8 1l17 6l-6 24l1 5l-4 3l2 1l1 3l1 11l8 1l-16 1l-9 3l5 1l22 14l0 8l-26 10l46-104l-1 4l-12 6l7 1l15 2l-7 2l-20 3l3 18l3 2l17 3l-4 2l-12 1l-7 2l17 8l-8 2l-6 6l12 0l-9 4l17 10l-6 1l5 9l-7 2l-16 17l24 3l2 10l-24 5l19 4l-3 2l-9 14l16 5l22-143l-10 13l-1 0l-1 6l-4 11l13 4l1 2l-2 3l7 5l-4 2l11 4l-5 3l0 8l-21 15l3 6l8 5l9 1l-9 1l1 3l6 1l-13 22l14 10l5 4l1 6l-5 1l-5 4l4 8l-12 0l21 38l20-174l-16 5l-3 24l2 17l7 15l1 12l16 21l-16 43l5 29l0 26l2 6l34-209l5 21l-24 26l17 16l-15 6l25 5l-22 38l-6 9l19 45l-8 31l-9 3l20 4l16-176l5 8l11 13l-24 15l14 2l16-34l7 15l15 58l-8 15l18-82l44-4l-6 19l145 81"/>
<path marker-start="url(#k11)" marker-mid="url(#k11)" marker-end="url(#k11)" d="M345 140l100 43l53-27l2 6l4 15l-20 14l7 2l-5 13l45-37l-14 1l5 6l14 32l3 9l-5 16l-21 6l15 5l4 3l-22 1l29 7l22-108l-2 8l-11 9l6 9l8 15l-14 8l14 7l5 5l1 0l-22 1l0 14l-2 12l19 2l-6 6l-11 25l22 2l3-96l10 16l14 1l4 2l-12 11l-13 0l20 13l-14 2l0 0l16 12l-2 3l1 14l3 14l-14 2l-10 14l13 1l-14 2l17 4l7 14l15-110l16 4l-23 3l14 1l-7 2l5 3l-5 4l-10 1l27 3l-28 0l19 4l2 6l-1 8l-17 0l-1 1l3 18l20 10l-17 3l1 15l19 10l-26 6l2 1l18 5l-3 4l-12 4l4 5l17 6l-22 1l12 4l29-130l2 27l-10 14l11 1l4 10l-23 0l16 10l0 4l-18 22l9 13l7 3l-14 1l1 26l20 3l-14 8l15 4l4 2l-22 8l18 1l25-134l1 3l-11 23l15 12l-9 8l-3 16l-8 10l13 11l12 18l-25 7l-2 14l0 1l-2 0l1 6l27 12l-22 0l4 14l12 22l-1 2l36-175l-25 70l2 20l5 1l-4 21l-3 8l-2 26l23 7l-10 6l14 5l-7 9l-8 9l18-176l21 27l-1 10l-12 95l53-88l11 10"/>
<path marker-start="url(#k10)" marker-mid="url(#k10)" marker-end="url(#k10)" d="M401 164l55 33l36-46l-1 3l18 17l-21 10l15 0l-1 12l-8 10l36-43l-19 1l27 1l-25 16l13 1l10 3l-7 6l-15 10l2 0l8 5l11 6l4 13l-12 8l9 9l3 6l28-85l0 14l1 14l-8 13l2 2l-19 0l-2 10l5 3l15 1l2 4l-9 6l0 15l-3 8l-7 3l7 3l-3 9l20 6l-4 21l13-133l12 28l-2 3l9 8l-18 0l0 12l21 1l-16 1l-9 1l3 0l14 4l-21 0l7 0l8 8l-5 16l9 8l-3 4l-5 3l-4 31l14 0l-6 7l3 18l32-132l5 7l-14 7l-8 18l19 10l-20 28l-2 3l12 3l13 1l-16 9l17 23l-2 2l-21 5l-2 18l26 13l29-114l-25 2l6 2l-6 12l5 1l4 10l-3 4l6 27l-11 15l11 8l0 5l3 11l1 3l-7 10l36-117l5 42l-20 30l0 36l13 8l10 25l-17 15l32-133l11 60l-14 5"/>
<path marker-start="url(#k9)" marker-mid="url(#k9)" marker-end="url(#k9)" d="M287 113l75 27l49-10l11 13l27 0l-2 12l17 5l13 16l-24 3l2 1l19 7l8-49l7 10l16 0l-2 4l-11 3l12 21l-16 2l0 2l-4 4l24 4l-18 4l14 1l5 4l-23 3l1 1l5 18l12 0l5 9l7-69l-6 9l27 1l-9 0l5 2l-22 17l14 0l-11 5l-3 0l8 2l-6 1l19 0l-13 1l-5 0l10 2l14 0l-13 5l8 2l5 3l-11 1l-11 0l7 2l15 3l-4 1l2 8l-23 4l4 2l-2 0l-1 6l21 1l3 0l-5 7l-1 13l-19 3l17 0l33-86l-21 3l1 0l20 3l-13 12l16 2l-2 1l-21 6l1 21l13 1l-8 0l20 2l-28 1l23 14l-3 1l-6 2l-3 1l-3 10l20 7l-25 4l1 3l9 1l16-95l17 4l11 14l-20 11l-8 4l9 7l7 8l-6 7l-1 10l9 1l1 2l-5 5l-13 1l10 8l-7 5l-3 11l22 4l2 3l2 2l0 2l-27 2l26 0l-5 7l-6 8l-2 1l16 16l1-127l6 2l11 5l6 22l-12 2l-2 2l1 20l4 0l5 1l-15 14l13 32l-11 17l4 0l34 3l12 5l-14 9l14 1l-9 2l9 11l-14 11l1 2l20-76l19 74l24-31"/>
<path marker-start="url(#k8)" marker-mid="url(#k8)" marker-end="url(#k8)" d="M314 110l31 14l6 21l27 0l1 10l21-24l4 21l1 2l0 0l-9 5l4 8l15 15l12-60l19 16l-7 6l-2 0l0 8l0 4l8 1l-17 5l9 13l4 4l23-39l-7 3l13 5l-12 4l-8 0l1 5l16 3l12 1l-10 2l2 3l-5 4l13 1l-11 2l-10 0l18 1l-25 2l23 3l4 0l-14 2l6 1l-4 4l-3 7l12 3l-17 3l18 2l6-57l5 2l18 3l-24 2l6 3l10 0l-13 7l11 9l12 3l-25 1l1 0l7 3l-6 2l4 2l-6 6l6 1l20 1l-12 1l8 3l-18 2l16 2l2 5l3 1l-7 0l-20 3l22 0l-18 1l19 1l-5 6l-8 0l7 4l-17 8l25 10l-10 4l26-75l-3 1l-6 5l-2 4l14 0l-5 1l19 3l-25 6l11 0l4 0l-2 2l-3 1l3 3l8 1l-10 0l-12 3l0 6l10 2l-5 2l-6 5l11 10l4 1l-16 1l15 5l4 2l-16 1l14 9l-11 15l23 5l0 1l17-96l-1 1l9 2l-11 11l-3 2l-5 4l12 10l-9 1l-3 2l18 2l-3 2l-17 11l1 0l5 5l18 7l-4 3l-9 3l3 3l0 13l-1 2l-8 3l7 8l4 0l-1 0l-17 1l13 2l8 2l-1 6l-15 0l16 0l5 8l-18 19l24-93l3 19l6 6l-10 8l18 1l-12 22l14 11l-22 8l8 3l26-14l-1 41l-2 14l57-110l-6 130l1 22l31-145"/>
<path marker-start="url(#k7)" marker-mid="url(#k7)" marker-end="url(#k7)" d="M308 98l4 17l-8 7l14 1l-13 10l26-17l24 2l-16 20l40-17l5 4l-19 3l-5 5l16 0l1 6l2 7l-18 0l24 1l-9 13l27-46l-7 13l4 11l-8 5l26 4l-26 12l22 2l-1 0l-19 3l21 4l-3 11l27-45l-4 3l-3 1l-10 4l19 1l-20 2l6 7l19 3l-6 3l-3 1l-5 4l6 3l-8 6l10 0l6 1l-1 2l-18 3l6 1l14 2l-5 1l0 3l26-53l-3 16l4 2l5 0l3 3l-1 0l-11 11l3 8l1 1l8 6l-24 1l26 2l-21 0l6 10l1 10l5 7l31-61l-6 16l-13 3l15 4l-10 1l5 0l3 6l8 1l-4 1l-16 13l20 5l-4 1l-12 12l1 1l10 2l7 17l3 6l-4 3l8-87l2 2l3 3l-4 1l6 10l-4 0l-2 17l9 6l-9 1l17 0l-18 2l5 11l-7 1l10 3l-2 9l3 1l11 9l6 4l-24 6l11 13l1 1l-14 3l53-81l-9 6l12 6l-4 20l-22 1l11 20l-13 5l21 21l-8 1l3 7l5 3l-8 4l14 5l0 7l23 2l26-76l24 108"/>
<path marker-start="url(#k6)" marker-mid="url(#k6)" marker-end="url(#k6)" d="M299 114l10-11l4 4l13 1l-15 6l8 5l0 2l19-9l5 4l9 0l2 3l-15 1l-5 5l4 5l36-41l-11 26l24 8l-19 4l-5 2l21 2l-5 1l-17 2l19 2l-18 9l26 5l-11 4l-6 2l8 1l-10 6l31-41l7 13l4 6l-5 14l4 2l0 0l-13 1l4 3l7 3l-5 0l-14 10l13 3l1 1l12 2l9-56l6 19l11 2l-7 2l-12 2l18 7l6 2l0 7l-10 1l10 4l-14 10l-3 4l16 6l-20 3l14 2l17-51l0 2l21 12l-20 0l13 6l-5 1l-15 1l28 7l-11 1l11 1l-16 5l0 1l1 1l-8 2l-4 3l12 9l12 1l-14 4l10 9l-3 4l-2 3l5 0l9-56l10 3l12 5l1 2l-15 16l-7 1l20 5l-21 1l25 1l3 14l-23 10l18 2l-8 11l-3 12l12 0l17-69l5 2l-14 1l3 4l1 4l7 2l-3 12l-10 6l6 6l10 10l-8 5l2 2l-11 1l4 1l23 0l-19 3l6 0l0 2l7 2l-21 8l15 0l-6 3l-5 6l54-43l-19 50l18 0l-13 8l-8 5"/>
<path marker-start="url(#k5)" marker-mid="url(#k5)" marker-end="url(#k5)" d="M294 98l2 6l2 5l24-5l-8 4l-11 2l-2 5l8 1l12 2l7 3l15-11l7 2l-14 2l15 3l-12 3l18 6l-9 6l39-11l-22 7l19 6l1 1l-12 7l5 0l-16 1l3 0l17 3l-11 2l18 1l-10 4l-1 5l7 4l9-42l-4 3l9 5l13 2l1 3l-22 2l1 9l22 1l-9 5l0 2l-10 1l1 8l20 1l-7 0l-12 1l16 7l4 18l6-60l0 2l14 2l11 2l-14 1l-7 1l18 16l-7 2l5 6l-2 1l-18 1l-2 0l12 4l-12 2l1 6l24 4l0 3l20-41l4 2l2 6l-1 6l8 3l-3 5l-14 0l15 20l-24 4l-2 1l16 0l11 4l-10 1l5 12l0 2l-4 2l5 10l13-43l-4 6l-2 1l10 5l11 4l-1 0l-10 9l-8 21l24 2l-19 3l13 2l-13 6l28-67l-5 4l3 9l-2 49l-2 0l4 0l7 4l6 4l-8 16l36-43l1 43l-4 2l-9 5l13 15"/>
<path marker-start="url(#k4)" marker-mid="url(#k4)" marker-end="url(#k4)" d="M280 112l42-14l3 7l-18 3l-1 2l0 4l22 7l17-8l6 3l2 0l-20 5l24 2l-21 3l23 2l-5 1l-16 1l17 5l-4 0l3 2l-20 1l1 5l19 11l-1 3l19-40l-5 3l0 1l-5 7l26 5l0 2l-21 0l4 1l9 0l-16 1l12 2l2 5l-14 6l9 1l-2 1l8 6l13-30l25 1l-5 3l-5 3l-17 0l22 2l-4 7l-12 2l-1 1l12 3l-7 2l18 2l1 0l-29 2l12 1l-10 1l6 3l1 2l3 2l-5 0l3 3l-4 2l9 5l14 8l5-44l3 6l-5 0l20 1l-14 13l18 4l-23 0l-2 3l28 1l-24 1l11 4l-9 2l13 11l1 6l34-40l-7 5l0 14l-7 9l15 4l-26 2l0 0l19 6l-11 12l-3 2l21 1l3 4l5-25l18 37l0 7l26-35l-5 11l-10 15l0 14l15 1"/>
<path marker-start="url(#k3)" marker-mid="url(#k3)" marker-end="url(#k3)" d="M296 99l8 3l17 14l5 10l-5 18l23-39l3 12l-17 1l15 8l3 4l-14 1l25 6l-8 8l24-26l14 11l26 19l-17 0l19 1l1 7l-17 4l12 9l-9 3l14 0l7-38l11 31l-6 17l13 5l3 2l13-41l-5 5l-1 26l28 2l14 0"/>
<path marker-start="url(#k2)" marker-mid="url(#k2)" marker-end="url(#k2)" d="M282 91l15 12l20 3l9 24l-1 6l13-35l11 7l-5 14l13 3l-25 2l26 10l-9 1l2 10l22-14l-3 5l8 18l15-37l13 34l13 15l-20 6l32-6l-5 2l8 1l0 1l2 6l102 81"/>
<path marker-start="url(#k1)" marker-mid="url(#k1)" marker-end="url(#k1)" d="M324 106l-3 6l22 5l-9 2l3 6l14 4l-4 6l-14 11l33-9l57 22"/>
</g>
<g id="cB" fill="none" stroke="none">
<path marker-start="url(#k1)" marker-mid="url(#k1)" marker-end="url(#k1)" d="M1401 113l0 3l33 3l-9 37l-3 4l19-31l2 13l-3 5l18 11l16-34l12 10l17 3l12 26l-1 3"/>
<path marker-start="url(#k2)" marker-mid="url(#k2)" marker-end="url(#k2)" d="M1419 117l20 13l-25 2l14 19l0 1l4 9l12-49l-2 2l2 1l9 2l8 1l-10 10l18 5l-27 2l3 0l6 9l0 7l12 6l-21 5l21 6l-5 0l-8 25l10 10l17-86l18 11l-24 6l16 2l0 18l9 28l28-52l-6 6l4 3l-9 5l-9 0l11 14l-10 41l21 6l22-5l-11 20"/>
<path marker-start="url(#k3)" marker-mid="url(#k3)" marker-end="url(#k3)" d="M1406 125l0 16l1 3l11-32l3 8l2 3l15 5l-22 1l11 1l9 0l-17 5l2 2l-1 1l8 1l9 4l-7 6l2 10l1 12l12-55l7 9l2 4l-4 1l5 3l-3 3l-12 4l13 3l0 5l16 0l-18 7l-1 2l-3 6l-2 11l14 3l-13 6l44-58l-16 1l1 2l-3 11l8 2l3 1l9 1l-22 2l16 4l-3 6l5 9l-17 4l10 3l2 2l1 0l-2 1l3 0l4 3l9 3l-8 0l8 3l-28 4l1 15l6 7l-4 1l2 8l52-86l-4 12l3 3l-12 3l-8 2l9 5l1 0l-12 0l23 13l-4 2l6 18l-21 1l-8 1l2 2l9 9l-4 2l0 2l7 12l-6 2l20 36l12-107l14 3l-14 4l-10 98l33-59l-1 12"/>
<path marker-start="url(#k4)" marker-mid="url(#k4)" marker-end="url(#k4)" d="M1404 108l-1 4l1 4l3 9l23-17l-12 2l8 2l9 2l-1 1l-14 0l0 2l6 3l9 1l-1 2l-11 2l5 3l0 5l-5 0l-5 1l12 4l-6 5l10 1l-8 0l6 3l0 1l-8 4l-6 3l46-42l2 9l-22 3l13 1l-9 2l2 0l-9 2l19 2l-17 3l20 0l-17 3l-4 2l11 3l-6 3l16 4l-22 1l6 1l-1 3l13 6l-15 2l10 0l15 2l-20 1l-5 2l-2 0l19 1l-11 3l15 2l-17 2l20 15l-14 5l10 2l1 3l-4 11l-7 2l26-90l1 5l2 1l-8 2l0 3l9 4l15 0l-8 0l-5 6l-5 1l13 6l-18 1l9 2l-9 5l5 1l-9 0l8 2l18 1l-24 12l-3 1l14 1l-12 1l-1 1l10 16l4 0l6 6l-20 2l10 9l8 0l1 3l5 16l17-114l-3 0l-6 4l11 18l-5 5l-7 1l4 6l-1 1l2 1l-8 12l21 3l-17 12l11 0l3 3l-2 0l6 5l-19 5l15 2l0 2l-2 3l3 3l-12 1l-2 2l7 2l-2 5l13 14l-10 6l6 14l-8 2l24-108l20 31l19 5l-7 78l36-34"/>
<path marker-start="url(#k5)" marker-mid="url(#k5)" marker-end="url(#k5)" d="M1403 113l4 16l13-22l17 2l-22 5l13 1l8 2l1 6l-4 3l3 5l-11 4l13 0l-26 0l26 2l-17 0l-9 1l9 3l-7 0l1 3l9 0l15 6l-14 1l9 3l-20 5l13 10l4 2l35-56l-14 7l-2 2l19 8l-4 0l-16 1l-5 11l17 0l-9 3l-8 2l23 1l0 0l-23 6l2 0l-1 4l10 4l9 4l-6 4l9 5l-11 0l-12 1l17 0l5 4l-14 6l9 3l-10 1l5 2l6 1l4 9l13-82l4 0l-8 3l12 8l10 2l-18 7l20 2l-12 2l12 2l-8 2l-8 2l10 3l-7 4l-3 2l15 4l-26 1l2 1l7 5l15 2l3 1l-24 0l20 2l2 1l-24 2l22 6l3 1l-23 2l0 0l22 4l-26 2l15 1l-9 2l10 1l1 13l0 9l3 9l3 4l13-108l-1 4l2 2l-6 3l3 1l21 3l-8 6l3 1l-6 4l-15 0l3 3l20 1l-19 1l25 2l-19 2l2 5l17 3l-6 1l-21 9l26 0l-9 1l0 3l-2 5l-8 11l8 2l-13 4l23 6l-11 19l13 21l24-108l-22 13l17 1l-10 5l10 8l-9 1l-1 0l5 1l14 21l-25 8l22 14l-4 1l9 28l-20 16l-3 18l-5 4l32-128l-1 5l4 59l40-39l3 21l26 42"/>
<path marker-start="url(#k6)" marker-mid="url(#k6)" marker-end="url(#k6)" d="M1396 125l32-24l-17 12l24 4l-7 1l-12 3l12 7l-12 4l16 4l5 11l-9 2l-6 1l8 6l2 10l5 3l1 5l16-50l12 2l-6 1l-7 2l16 3l-16 3l14 1l-8 2l-5 1l-6 0l9 1l-1 1l11 2l0 3l-23 2l1 3l-5 5l7 1l16 3l-1 4l-19 5l10 0l-11 4l3 4l19 7l2 5l-22 1l25 2l-1 1l-14 6l13 5l16-78l-6 3l16 1l-8 4l11 1l2 2l-1 4l-19 1l9 3l9 3l3 3l-3 1l-7 8l-7 2l3 1l-9 1l8 1l5 3l-16 0l8 4l16 7l-24 6l5 4l-5 3l-2 1l7 2l21 0l-5 1l-12 6l-10 8l14 4l6 5l-7 1l-6 4l17 0l-3 11l4 8l0 4l18-121l8 1l-4 9l-6 2l0 3l6 4l-7 6l17 0l-19 1l6 2l-4 1l16 5l-16 0l-1 5l14 1l-21 0l8 3l-4 10l2 0l2 0l3 0l5 1l-3 1l-10 1l-4 0l5 2l11 2l-1 6l4 1l7 9l-25 0l13 3l-7 0l11 1l-17 5l7 0l-7 2l3 6l1 6l-6 4l0 0l18 4l-6 1l2 7l0 1l-2 20l45-113l-19 0l5 0l11 1l-3 1l4 5l1 1l-7 2l-5 0l-5 6l0 0l12 1l-15 0l5 0l-6 1l17 2l-17 3l8 12l8 1l3 2l-21 4l22 0l-4 8l-10 6l-3 4l-9 1l16 2l12 9l-16 3l-9 12l13 1l-9 2l14 3l-18 4l13 5l-17 1l15 4l4 2l-7 4l8 1l-8 1l15 14l2 8l5-143l20 6l-3 13l-1 7l-18 4l6 0l-3 11l-4 1l0 15l6 6l7 15l-10 6l7 27l-2 2l-2 7l12 29l30-134l-18 16l-1 1l6 93l5 25l-9 5"/>
<path marker-start="url(#k7)" marker-mid="url(#k7)" marker-end="url(#k7)" d="M1405 115l4 1l7-3l23 1l-22 2l15 37l-11 7l-6 10l36-55l9 44l-15 1l5 4l2 2l13 5l-2 5l4 0l-5 2l-16 2l23 13l-4 0l5-67l2 6l24 10l-13 7l-13 0l13 2l-11 4l21 12l1 4l-19 1l22 2l2 4l-23 7l0 5l9 6l3 11l11 5l-4 5l4 5l11-94l12 7l-7 10l9 2l-18 4l-6 8l15 2l6 1l-2 1l-15 1l-3 5l1 0l23 10l-13 3l6 10l11 9l-24 0l17 0l-15 6l22 5l-14 5l-15 4l24 1l-8 1l11 4l-23 3l23 3l-6 7l1 2l-15 1l7 4l-14 1l25 0l4 37l2-137l5 2l10 3l3 1l5 3l-8 11l-5 0l13 2l-9 3l5 3l6 0l-16 2l16 5l-23 0l21 4l-20 4l-1 3l22 7l-6 3l4 2l4 1l-18 4l16 4l-22 1l13 0l9 3l0 1l-20 4l-3 2l-1 8l21 1l-14 1l2 2l10 4l7 5l-19 1l-3 5l5 1l7 4l5 1l3 4l-2 8l-2 7l4 7l0 6l11-142l-2 8l2 4l12 0l-14 4l9 11l2 2l2 5l-15 1l17 3l-6 6l-1 2l2 2l-7 5l21 11l-20 36l-7 5l12 1l2 0l6 30l1 9l-16 6l7 6l2 1l-3 26l32-144l-14 1l7 6l0 11l3 41l8 7l-11 4l-5 18l16 34l9 38l12-201l19 27l-21 148l29-137l4 23l10 108"/>
<path marker-start="url(#k8)" marker-mid="url(#k8)" marker-end="url(#k8)" d="M1407 108l-7 24l14 8l14 11l38-22l2 15l26-5l-8 17l-13 12l11 3l11 1l-14 12l0 22l3 14l-4 8l11 9l8 11l-4 28l16-147l-5 6l-3 12l-3 5l18 5l-3 16l-10 9l16 1l2 2l-4 8l-3 2l-6 10l-6 15l16 2l-10 4l-5 1l18 2l-16 0l18 7l-15 2l10 5l-7 5l29-115l13 9l-16 4l3 4l3 0l13 5l-17 0l17 1l-25 15l10 0l1 1l-4 1l4 11l6 3l0 2l1 0l2 2l5 2l-17 5l-11 10l8 5l5 1l-3 1l18 12l-20 4l7 0l-3 8l-1 3l18 3l-6 1l-21 1l14 5l-5 2l-11 5l19 6l-17 4l10 11l9 2l-13 1l12 9l1 6l6 11l-1 5l24-154l7 1l-21 25l11 1l-11 4l15 20l6 0l-7 2l2 6l-6 11l-12 11l20 10l3 7l-13 3l-3 2l-2 25l-6 3l10 1l-9 8l-3 1l2 15l6 2l7 24l-6 5l29-199l-2 15l19 0l-15 13l18 1l-29 4l2 2l10 4l2 4l11 7l-21 2l-4 7l17 4l6 11l-12 2l6 25l7 20l5 7l-17 5l-4 2l-4 17l13 21l-11 38l32-172l-4 0l7 10l-4 6l11 40l-12 32l2 57l6 13l34-153l3 29l-9 123l39-62"/>
<path marker-start="url(#k9)" marker-mid="url(#k9)" marker-end="url(#k9)" d="M1455 133l-8 9l17 42l3 33l22-30l1 27l-12 1l45-11l-4 5l9 8l-28 6l27 11l-20 4l12 4l1 9l6 1l-3 10l25-111l-6 1l10 3l-7 0l0 6l12 5l-13 12l7 2l3 0l-1 2l-4 3l4 2l-18 15l13 5l-9 1l-3 18l-5 13l9 9l4 6l7 13l4 5l3 0l-6 15l-14 23l9 8l24-165l-1 9l8 12l-3 0l0 1l3 8l-3 3l-15 4l10 0l15 24l-9 5l-13 1l1 4l2 22l23 2l-12 6l-7 6l-10 0l15 2l13 7l-5 4l-22 4l1 0l22 2l-22 1l18 1l1 8l6 9l-4 1l-15 1l7 2l2 22l3 7l2 13l-10 13l35-206l0 14l-8 3l10 3l4 3l-11 3l-8 1l6 10l15 5l-7 21l-14 0l17 4l-4 0l6 10l-10 3l-6 8l-3 21l2 3l12 14l-9 1l0 10l4 9l-8 74l22 11l26-218l4 13l-25 9l-2 8l24 4l-13 1l15 19l-25 3l28 0l-16 4l-4 30l-2 5l-2 8l7 8l-11 3l8 5l9 3l7 2l-17 1l17 13l5-126l1 2l3 19l12 3l-14 5l4 1l-5 26l4 9l-1 34l1 26l3 53l9 68l24-215l4 9l9 12l-18 64l31-71l-4 36l21 20"/>
<path marker-start="url(#k10)" marker-mid="url(#k10)" marker-end="url(#k10)" d="M1410 152l111 43l-3 42l9 9l24-112l-8 17l8 1l1 3l-8 6l11 4l-10 17l-8 1l19 1l-7 5l-9 1l9 6l8 47l-27 4l20 3l7 39l2 33l30-166l-23 1l3 10l-8 1l26 1l-13 2l13 2l-14 7l-1 10l1 5l-13 0l27 6l-14 1l-13 22l3 3l16 0l-12 14l6 1l16 1l-25 1l18 6l3 6l-7 5l9 2l-5 1l-6 14l1 18l-5 1l-5 20l3 1l13 4l-1 22l-1 0l6 3l-3 5l-5 0l4 3l-4 4l9 13l3-226l9 8l-4 2l21 14l-26 14l12 2l-6 6l-5 10l-2 0l6 2l3 5l19 1l-27 4l6 11l11 2l11 1l-14 12l-2 4l-11 1l12 5l2 1l-12 7l23 1l-8 1l-16 1l24 11l-2 8l-23 13l12 32l4 2l-10 4l12 2l-20 1l9 11l-2 9l15 0l5 6l-12 2l8 7l5 9l-9 11l-3 1l34-207l1 5l0 4l4 6l-3 9l-11 14l9 7l-5 1l5 2l-15 5l7 1l-4 9l2 3l-2 1l18 6l-15 0l9 4l-17 5l0 4l0 2l26 1l-10 12l-1 1l-6 0l-7 17l18 19l-20 0l8 5l1 13l-6 30l11 30l-12 29l4 59l41-312l-4 9l-12 11l1 20l12 1l7 0l-14 16l8 11l0 21l40-59l0 38l-13 27l5 36l-1 23l9 111l-9 13l11-252l29 66l-19 27l3 25l12 21l6-155l56 79"/>
<path marker-start="url(#k11)" marker-mid="url(#k11)" marker-end="url(#k11)" d="M1518 220l23-83l2 39l7 92l8 23l24-134l-4 27l3 9l-16 11l8 1l12 5l1 2l-4 3l-18 48l-4 9l18 26l9 4l2 3l-24 1l18 6l3 22l-14 8l10 12l-5 2l9 32l8-236l-4 20l1 4l25 15l-14 0l-3 8l-7 6l26 5l-21 3l-5 4l20 2l-10 17l12 2l-13 9l12 1l-13 4l-3 11l8 2l-15 9l16 2l2 9l-14 11l23 14l-15 2l4 2l-1 1l12 1l-25 5l24 4l-12 23l6 18l-16 5l16 5l4 19l-2 79l21-306l3 4l-3 1l13 8l-25 3l15 13l13 2l-11 8l-8 2l7 10l12 4l-3 5l-18 17l-5 0l2 17l20 6l-6 3l-16 1l4 4l11 10l-11 13l11 10l-2 16l5 5l-20 5l26 6l-8 2l-8 18l18 6l-10 4l-11 6l8 11l9 44l-6 39l-2 5l-3 27l-8 13l48-336l-5 16l-6 1l-10 1l9 2l-5 5l20 3l-21 0l15 4l3 4l-16 2l18 19l-13 3l3 1l-2 2l-7 13l4 0l0 6l0 18l9 10l9 12l-23 4l-4 1l16 24l1 4l0 4l-14 1l16 19l-15 13l9 1l0 20l-7 1l-6 17l25 1l-24 10l4 12l15 33l1 13l-19 50l9 2l42-340l-19 5l4 16l15 1l-6 3l-10 0l4 13l-5 4l-5 54l0 42l12 6l-11 29l13 46l8 48l-5 22l35-287l-14 1l-5 28l0 13l6 1l-6 11l14 24l-11 22l7 6l-8 10l16 46l6-161l56 81l-17 69l18 62l14-148l5 38l48-6"/>
<path marker-start="url(#k12)" marker-mid="url(#k12)" marker-end="url(#k12)" d="M1545 228l27-15l-7 7l1 14l-4 2l18 7l-9 26l0 2l18 14l-20 47l14 32l5 6l7-206l15 20l3 15l-15 7l10 2l7 15l-8 26l-15 13l3 2l-2 0l8 1l17 4l-20 3l4 4l-9 14l3 6l3 9l9 17l11 0l-29 5l12 3l-7 5l15 5l-8 23l11 0l-10 3l1 5l2 27l5 10l3 8l13-224l7 12l0 5l10 2l-20 1l6 6l12 19l5 5l-15 4l7 23l-14 6l-1 3l1 3l-2 1l16 4l6 4l0 11l-19 1l2 7l-5 6l25 1l-22 11l-3 4l2 11l20 0l-4 17l-5 18l13 12l-8 13l-2 3l-16 3l11 8l7 2l-18 6l9 1l13 21l-20 2l15 46l29-307l-19 10l7 6l4 8l9 5l3 4l-17 2l20 3l-22 4l6 3l17 1l-18 6l9 18l-16 6l19 5l-5 7l10 1l-18 7l-8 0l1 7l15 8l9 1l-24 4l17 0l2 3l-18 22l10 31l-3 6l9 13l-1 7l8 1l-21 6l7 3l-9 16l12 16l4 15l-8 5l6 17l1 23l-16 2l14 10l3 15l-16 11l37-347l-2 5l1 8l14 3l-19 18l20 3l4 4l-11 1l0 0l-2 3l8 3l-12 11l-5 12l4 1l-6 10l1 10l3 0l21 14l-25 17l13 1l2 6l-2 5l-1 11l-9 3l-4 11l19 2l-21 13l6 24l1 4l-7 1l1 15l4 16l-3 4l19 3l-21 12l3 0l-1 1l4 12l3 24l-2 58l27-336l9 7l15 9l-9 11l8 2l-19 14l21 2l-29 11l5 10l18 5l-23 3l3 0l11 11l-3 6l17 2l-14 9l-2 24l2 2l0 8l6 12l-17 13l10 1l5 0l-5 7l-12 47l23 129l9-329l7 0l-4 11l20 40l-25 9l23 20l-10 8l9 8l6 34l-19 3l-5 50l24 4l-9 37l-14 16l8 26l37-256l-7 67l-6 70l46-111l2 7l-22 8l20 17l-11 1l7 4l-4 77l-11 19l38-101l-10 15l32-12l34 120"/>
<path marker-start="url(#k13)" marker-mid="url(#k13)" marker-end="url(#k13)" d="M1555 240l0 44l24-33l9 4l-27 4l12 51l43-121l-8 13l6 36l-8 23l9 15l-9 36l6 33l-4 3l-7 18l2 14l4 49l38-257l1 11l0 15l-7 4l3 9l-13 26l-6 16l8 9l-2 1l13 20l-16 14l9 26l11 19l-21 4l17 22l6 0l-17 2l-11 9l10 3l8 5l-15 5l8 2l2 6l-9 3l-4 4l19 11l-12 32l-7 4l21 39l-9 7l0 11l6 1l3 3l-14 14l3 46l29-400l20 13l-28 11l0 9l2 5l15 0l0 23l-1 1l4 0l3 12l-23 5l11 19l-1 1l14 5l-5 3l-15 4l11 12l1 5l-13 4l14 4l2 7l-15 0l10 11l-11 5l-1 1l16 0l5 25l-10 3l8 4l-21 4l27 5l0 1l-24 15l9 1l0 2l-4 22l7 13l-2 1l4 1l-8 7l12 2l-17 1l10 5l-10 1l22 16l-16 9l-2 7l7 11l8 4l-1 9l-12 45l-8 0l38-361l4 2l6 7l-19 6l22 9l-13 5l4 6l-4 5l17 6l-15 3l0 21l-12 0l11 1l-7 8l16 12l-16 13l22 13l-26 1l3 1l10 1l-4 9l15 7l-16 3l14 3l-7 16l-6 2l-3 22l-3 4l-2 1l8 2l-10 24l13 31l14 19l0 21l-25 5l14 17l6 20l-11 37l1 14l30-353l16 5l-8 0l-19 5l20 4l-20 11l23 15l-1 2l-2 7l6 1l-5 1l-19 7l17 28l2 5l-11 18l-2 5l19 32l-27 1l-1 24l18 14l6 50l-14 4l6 1l-15 17l3 50l12 9l9 11l-16 94l39-425l-6 10l15 8l-13 1l13 16l-6 10l-15 7l16 9l-8 41l15 2l0 8l-19 4l10 5l-16 11l-4 30l9 5l-7 16l-2 4l1 28l24 7l23-194l4 1l-16 21l6 5l-3 17l3 6l-5 5l3 1l2 38l-10 22l9 91l27-152l11 41l-3 2l-8 3l7 23l19-115l10 70l3 44l-10 25l-3 41l53-117l-26 43l0 129"/>
<path marker-start="url(#k14)" marker-mid="url(#k14)" marker-end="url(#k14)" d="M1588 175l23 11l3 54l-5 6l1 10l-9 60l12 32l0 10l-8 18l-4 21l-2 1l10 5l3 4l-10 146l13 29l32-393l-10 58l-14 11l17 9l-2 11l4 20l-4 12l8 21l-20 13l9 20l-13 10l16 17l-3 2l14 5l-21 7l3 1l18 15l-9 4l1 1l3 2l-11 9l-3 20l8 24l-2 5l8 15l0 2l-3 6l-9 18l-12 21l19 15l-6 23l-3 17l38-418l4 12l0 41l5 27l-3 20l-23 16l10 1l-1 3l2 5l2 3l13 9l-2 9l-12 10l-9 6l1 11l4 6l1 12l1 10l17 8l-10 5l-8 5l5 1l13 10l-26 3l10 1l14 29l-12 6l4 1l9 9l-18 4l12 3l-20 12l16 3l3 17l-11 9l4 0l0 10l-10 4l7 7l0 1l-7 3l15 3l3 11l-11 16l17 7l-26 25l29-436l12 19l9 15l-1 0l5 12l-24 7l4 5l8 0l-13 3l11 32l-11 14l20 5l-19 7l23 3l-8 0l-2 5l-10 1l24 8l-26 9l19 1l-12 4l4 7l-3 4l17 22l0 14l-6 5l-16 2l-3 5l8 16l-7 9l24 1l-19 2l12 1l-6 6l-10 1l11 13l-8 12l-4 13l-3 1l24 3l-1 2l-17 2l23 8l-2 1l-16 21l0 31l-8 14l-2 2l13 21l32-357l-2 29l-11 9l9 0l-11 1l0 19l1 2l2 23l23 13l1 9l-25 16l17 20l-19 1l16 0l8 27l4 17l-24 5l9 10l-14 10l0 2l24 5l-1 1l-20 17l19 1l7 12l-6 2l-19 52l1 27l16 109l20-431l12 6l-9 12l12 29l-16 2l17 13l-18 13l14 1l-13 5l5 4l-2 2l5 4l-1 8l3 4l-8 5l14 4l-8 8l-17 16l14 1l-12 12l-2 13l1 9l18 3l-15 19l5 3l9 11l-6 13l-9 9l9 12l3 48l-2 109l30-385l-2 4l-6 32l8 1l-13 12l19 10l-18 4l17 7l2 46l-12 5l19 6l-19 16l14 1l-23 16l4 11l9 14l-11 2l25 36l-5 38l-22 17l27 1l-23 44l37-303l8 1l-4 5l1 6l4 21l-16 12l-4 3l11 3l-6 25l16 5l-6 5l-15 4l14 2l-2 18l7 0l-10 3l-6 11l11 17l1 30l12 47l-21 10l34-219l2 14l5 44l-12 1l13 58l4 12l-4 5l-16 29l5 42l47-185l-15 15l5 1l15 16l0 21l-15 1l-10 11l20 0l-8 8l7 40l-16 4l-7 156l32-235l21 14l-15 58l16 54l58-118l-14 26"/>
<path marker-start="url(#k15)" marker-mid="url(#k15)" marker-end="url(#k15)" d="M1616 396l-15 0l8 202l8 23l-9 86l38-506l-22 109l12 4l12 39l-10 1l-13 62l4 17l19 23l-5 47l-2 4l8 10l-10 33l-7 7l4 1l-16 10l15 28l-7 14l4 11l46-397l0 74l-23 8l4 8l7 19l4 6l7 2l2 0l-17 7l-4 17l19 17l-5 5l-1 1l-2 12l2 25l-15 22l-4 2l1 8l1 16l1 1l6 2l4 2l6 11l-14 2l-6 2l24 7l4 7l-28 2l3 0l16 9l-3 1l4 13l-21 2l20 37l9 3l-20 6l15 15l30-378l-12 4l9 4l-9 15l16 14l0 1l-15 5l8 20l0 19l-1 1l-6 27l-10 6l20 0l-22 25l4 9l4 4l11 20l-20 2l20 1l2 11l-8 4l3 1l-14 0l16 2l7 3l-1 20l-12 14l-10 5l18 5l-11 3l10 4l-13 13l-3 16l-2 1l-3 3l17 10l-7 11l2 12l-11 13l16 9l-6 23l-10 7l28 9l-24 3l25-405l25 37l-7 33l5 19l-3 2l-18 10l-2 5l28 6l-5 4l-21 11l19 8l8 14l-2 1l-3 7l-2 2l-10 3l17 6l-29 5l17 12l-8 5l2 10l-10 9l22 5l0 23l6 4l-2 0l-12 1l4 0l-7 1l-3 1l-4 4l4 7l17 16l3 0l-18 9l4 9l-13 5l0 27l24 8l-4 2l-6 32l2 27l-3 68l43-443l-3 17l-19 5l0 3l14 16l-6 1l8 7l-2 8l-9 8l-1 2l4 2l-9 1l2 4l12 1l-19 19l16 12l-3 1l-7 18l21 3l-4 3l-9 2l15 5l-18 0l-3 0l8 1l7 18l1 5l-2 15l-9 4l5 1l10 12l-26 4l22 9l-12 19l-12 3l4 8l12 5l2 20l-12 15l0 22l-6 9l15 6l-10 26l43-326l-12 17l17 7l-17 15l-3 6l12 24l14 1l-15 2l-8 10l12 1l-11 34l9 12l13 48l-11 11l0 16l-13 4l10 14l13 1l-10 2l0 2l-8 14l19 2l-20 5l-1 3l1 25l16 7l31-287l-23 18l18 20l-20 8l22 9l6 5l-18 15l16 4l-2 26l-22 3l18 3l-16 18l20 8l-11 5l15 4l-6 2l-2 14l-11 9l-5 6l4 6l3 20l3 0l8 3l-5 2l7 12l-24 8l13 29l-2 7l-10 0l8 5l3 53l13 65l14-358l11 8l-19 15l25 3l-22 7l-5 3l12 13l-2 14l-5 16l-4 14l20 21l-5 5l11 8l-3 8l-24 13l2 3l5 8l18 19l-25 4l15 10l-9 5l-5 8l19 55l10-243l19 1l-10 18l6 14l13 7l-23 29l13 3l0 3l-1 13l9 1l-3 5l-18 17l9 8l-1 31l2 6l-4 37l48-179l-7 2l-16 99l14 29l-14 8l1 134l23-224l3 10l-1 10l27 71l-9 82l-16 10l43-133l-11 0l33-14"/>
<path marker-start="url(#k16)" marker-mid="url(#k16)" marker-end="url(#k16)" d="M1617 458l-5 166l22-278l14 22l-17 64l18 93l-8 0l7 27l-3 3l-3 34l-19 5l1 8l5 16l9 14l26-293l-6 7l1 1l-1 51l17 33l0 13l-5 15l-15 1l13 8l-4 20l-12 9l0 21l6 1l6 6l-6 20l-3 2l24 9l-21 2l5 4l14 1l-16 8l1 17l6 6l6 0l-9 35l13 23l-1 33l-25 36l41-475l-9 7l18 23l6 76l-6 17l2 13l-7 9l0 6l-2 9l-2 7l9 45l-17 3l21 14l-3 4l-1 29l-20 4l5 5l10 6l-8 0l9 2l-9 9l-5 31l11 7l-3 4l1 7l-2 21l-7 22l52-406l-10 16l-1 7l2 16l12 20l-5 22l-1 16l3 3l-14 10l16 14l-28 13l10 4l13 10l-18 8l18 31l-3 21l1 15l-21 30l23 16l-17 12l0 11l1 7l12 21l-6 6l-1 71l23-429l15 32l-5 23l-12 24l22 29l-6 45l-19 23l24 4l5 0l-1 5l-5 7l6 7l-27 19l20 13l6 11l1 6l-16 0l6 4l-11 4l1 36l18 10l-5 6l-14 13l-2 34l13 4l5 1l-8 58l31-394l-6 10l8 16l-4 2l-11 3l19 1l-21 51l18 41l-5 7l11 3l-22 7l-3 23l24 16l-17 3l21 26l-17 2l-8 1l14 28l6 4l-2 18l-16 18l-1 1l21 7l31-263l-16 30l18 2l-13 4l-7 2l-3 5l-3 2l24 21l-27 1l28 19l-3 14l2 8l-8 6l9 1l-13 6l-6 4l19 7l0 14l-28 0l5 3l22 27l-18 22l0 40l17 5l-22 4l2 29l2 13l-5 22l3 23l39-337l-2 2l-3 9l12 26l-16 11l-4 12l-2 7l16 26l-1 19l-2 2l1 22l-9 9l20 28l2 23l0 0l2 49l-3 29l-7 1l35-249l-1 1l-2 18l8 21l-29 4l26 13l2 8l-25 5l6 21l6 3l-11 15l13 12l-14 3l17 76l-15 67l35-235l8 2l2 33l4 13l-24 23l27 8l-5 7l-22 28l26 25l-6 16l-11 21l45-172l-12 44l-11 34l20 5l-4 5l-17 70l9 56l27-133l4 85l26-127l0 109l22 34l-12 2l25-150l12 70l58 33l21 19"/>
<path marker-start="url(#k17)" marker-mid="url(#k17)" marker-end="url(#k17)" d="M1618 389l-11 244l26-251l12 100l-8 24l-1 25l0 3l-5 6l10 12l-11 0l4 11l13 11l-10 18l9 5l1 4l-8 1l-19 3l10 15l-8 20l25 75l4-300l16 55l-1 17l7 6l-16 18l-6 38l16 2l11 1l-7 15l-4 50l-3 29l-8 8l2 18l-1 5l48-376l-2 62l-11 19l4 6l-14 18l15 17l-4 59l-11 18l-2 6l15 12l2 7l6 24l-13 31l0 2l-1 15l4 0l5 21l-7 50l5 29l21-477l-7 12l27 81l-1 13l-1 69l-18 9l1 3l-6 32l25 10l-19 16l8 81l-7 9l4 16l-2 9l0 8l0 15l16 11l0 19l-17 9l49-391l-14 36l11 50l-11 7l-6 9l-7 62l5 0l1 23l4 12l-12 2l17 60l-1 14l-3 21l-8 2l13 1l-14 13l25 0l-14 3l-14 3l14 1l-2 14l-4 8l-4 32l15 35l21-375l4 1l1 72l-16 43l27 1l-17 7l-9 1l11 17l-8 36l9 7l12 2l-8 7l-13 4l20 1l-22 3l13 25l-13 3l22 11l-14 13l17 3l-3 15l-17 5l18 15l32-344l-15 13l-12 43l26 0l-20 45l15 4l-10 1l12 10l-21 1l8 12l1 5l18 29l-29 1l17 6l11 3l-5 1l-17 0l9 4l14 1l-6 6l-21 14l11 3l-7 10l23 33l-25 8l14 26l-4 29l8 9l-1 14l-15 16l-6 21l0 24l11 19l21-404l14 8l-1 12l-8 33l1 25l7 9l-9 4l23 10l-20 4l8 2l-1 21l-3 8l-11 6l15 47l7 1l0 5l-8 0l13 18l-12 11l10 8l-3 9l1 6l-21 26l20 50l-8 9l20-320l7 1l11 14l-9 4l8 8l-14 11l-1 3l7 25l-6 41l-6 2l9 1l9 3l-21 7l12 0l-2 19l-7 7l1 10l15 4l2 1l-20 4l3 101l16 18l1 37l-16 11l-4 21l52-322l-10 7l4 6l7 42l-7 8l-12 47l9 9l-12 78l-1 1l27 74l-25 3l36-288l6 6l14 24l-14 1l13 19l-24 40l22 2l-9 18l5 19l-8 17l4 17l-9 21l19 34l-18 10l-4 3l12 2l-18 8l18 7l2 38l14-210l3 6l6 12l14 26l-21 3l12 8l6 59l16-152l-4 23l1 15l-1 7l21 38l-7 51l1 3l5 14l-14 33l22-133l-2 35l15 6l-4 28l-5 46l35-110"/>
<path marker-start="url(#k18)" marker-mid="url(#k18)" marker-end="url(#k18)" d="M1543 752l18-42l31-85l18 2l3 13l-2 29l20-303l14 168l-14 30l12 26l-16 1l-2 40l23 21l-13 1l13 10l-22 16l29-211l10 48l5 40l-8 10l-12 28l24 9l-4 5l-10 12l-4 44l-3 17l21 22l31-491l-12 172l14 21l2 8l-15 105l-4 12l12 11l-3 6l-15 2l8 24l2 18l12 3l1 37l-22 31l53-273l-3 152l-8 64l0 7l2 3l4 52l18-373l15 70l-13 46l-13 30l22 9l7 25l-18 42l13 2l2 1l1 28l-7 6l-20 12l1 21l11 19l4 17l-2 43l-9 3l3 14l27-340l8 20l15 8l-20 7l0 16l3 6l9 0l-13 3l21 1l-8 18l8 1l-28 36l17 7l-13 27l15 21l10 2l-18 4l1 27l11 2l-5 5l-11 16l19 11l-13 3l-1 10l29-374l-8 109l19 52l-2 1l-20 0l16 53l13 1l-7 23l2 19l-20 18l6 5l5 47l12 56l-2 28l-20 11l41-397l4 26l1 37l8 23l-3 10l-25 52l9 7l10 6l-17 6l2 4l23 14l-27 1l14 6l-9 8l3 8l6 6l3 15l-7 25l-7 7l3 0l17 42l-9 7l17-294l12 53l-6 3l1 13l14 19l2 7l-8 15l-2 0l-5 3l-6 42l16 14l-15 6l18 16l-21 12l-2 10l23 9l-23 38l2 17l20 11l-14 2l18 14l1 7l5-314l26 40l-13 30l-10 30l10 2l-4 11l-8 11l25 18l-25 3l25 15l-28 2l1 60l5 45l18 1l-17 16l9 44l15-303l6 1l4 35l0 3l-8 16l14 11l-2 14l6 4l-13 0l2 2l11 5l8 2l-23 3l22 23l-8 10l-10 3l13 35l6 21l0 8l-8 9l-19 25l43-204l3 48l9 24l-6 6l4 1l-4 14l-8 5l16 1l-27 4l6 5l-6 2l0 11l22 1l2 1l-7 1l-18 1l28 27l-22 42l2 3l13 10l-8 43l19-189l6 21l-8 8l17 12l10 50l8-116l1 4l22 16l-2 13l-8 52l-18 22l21 79l71-143l26 70l1-28"/>
<path marker-start="url(#k19)" marker-mid="url(#k19)" marker-end="url(#k19)" d="M1581 691l25-40l4 5l-1 7l5 10l-3 9l-15 21l1 10l8 0l-7 24l47-185l4 33l-11 21l-15 42l9 10l0 19l9 17l23-182l-8 14l2 100l0 9l9 15l9 3l-21 16l15 22l-15 16l45-187l1 19l-11 24l-8 15l20 3l2 37l-14 25l-7 3l17 11l-15 13l16 2l-4 27l30-262l-14 87l12 29l-9 8l15 1l5 2l-7 8l9 56l-19 15l19 10l-2 4l28-200l2 25l-12 9l-8 10l19 2l-18 54l10 24l10 23l-14 19l-2 34l42-331l-21 24l8 28l3 86l12 3l3 75l-11 33l-8 54l17 14l-9 30l26-326l5 12l9 51l-21 11l-5 19l14 3l-14 13l20 11l-3 67l8 47l-7 19l-10 44l-6 1l45-353l-5 40l-6 18l6 67l14 56l-16 26l-9 12l13 2l14 0l-9 43l9 64l20-257l-17 3l27 51l-28 10l4 0l-5 18l0 3l11 2l4 25l3 50l7 7l-6 7l6 1l4 7l-26 3l24 14l-4 41l-9 5l39-339l6 32l-25 6l7 10l1 13l16 28l0 123l-3 10l2 34l-8 7l6 10l-5 23l-18 10l44-274l12 9l-7 0l-15 26l-1 3l17 54l-8 6l-5 5l17 1l-2 2l-21 21l0 15l10 4l-1 13l6 3l-5 22l9 25l-1 3l3 7l-24 9l21 29l-3 19l27-278l0 13l-10 13l15 27l5 3l-2 43l-10 1l4 7l10 69l-24 16l2 2l21 14l-12 3l-14 56l33-262l8 14l-4 56l18 4l-16 16l19 30l-25 30l4 6l-5 14l18 26l-10 85l25-252l13 11l-1 0l-6 20l14 10l-6 19l-1 1l-14 15l16 6l-19 11l1 29l24 22l-6 3l-17 0l41-125l1 35l-7 29l5 35l36-91l-16 30l6 14l7 49l41-38l-11 16l-2 64"/>
<path marker-start="url(#k20)" marker-mid="url(#k20)" marker-end="url(#k20)" d="M1570 719l10 13l-8 4l-7 21l35-70l-5 11l10 0l1 24l50-150l0 14l22 30l-18 17l-1 2l4 21l7 31l8 19l17-37l3 38l37-136l-9 18l-14 21l25 36l-10 20l1 7l-1 7l-1 1l0 4l30-264l-6 151l16 2l-21 59l24 7l-8 3l-15 20l34-128l19 0l-2 31l-10 6l0 5l11 5l-10 25l-16 1l26 19l-1 1l-19 9l42-255l1 46l-20 24l5 18l-3 5l3 6l18 7l-9 48l-5 28l-9 0l7 43l4 18l6 12l0 1l-9 0l-3 9l32-239l3 39l2 63l12 63l-4 34l-9 1l-6 16l12 0l-16 4l46-325l-4 14l12 111l-19 8l5 22l-12 0l14 43l12 3l-2 24l0 10l-13 2l11 11l-7 6l7 4l-15 8l15 25l-6 10l3 0l37-266l-5 22l-19 15l15 1l10 59l-17 51l9 6l1 10l1 0l-20 9l27 7l-24 65l41-286l6 0l6 78l-4 27l-5 51l2 21l0 42l-10 43l6 7l9 3l22-226l8 19l-24 7l12 33l-3 12l8 15l-3 31l-2 37l-12 1l4 1l12 15l2 18l7 40l-25 21l30-264l23 38l-19 6l22 8l-26 12l13 28l5 0l-14 32l19 29l-21 4l21 63l24-173l6 3l-15 17l17 59l1 59l-10 7l-3 10l17-202l25 66l-10 3l1 17l-2 9l-8 7l19 4l-5 13l-3 60l-4 11l28-135l-6 2l5 70l-11 53l31-113l6 14l-7 41l37-36l0 57"/>
<path marker-start="url(#k21)" marker-mid="url(#k21)" marker-end="url(#k21)" d="M1612 669l-17 22l11 7l38 16l63-107l-21 18l-5 50l19 16l23-68l-8 52l51-66l-16 25l36-60l-12 25l16 37l-4 24l29-308l6 52l1 141l-4 38l-11 1l9 4l41-1l-4 15l-14 6l16 15l-13 9l35-296l4 91l1 19l3 13l-15 11l3 59l8 43l4 0l-4 3l-6 2l-5 14l5 16l4 20l13-144l12 14l9 48l6 9l-11 1l-13 13l21 5l-11 11l-3 16l40-297l-11 22l15 110l-20 129l20 8l26-171l-2 4l-16 42l13 8l-7 21l1 9l1 9l0 45l12 5l1 3l20-225l5 109l-11 82l14 26l1 0l19-188l-1 25l3 26l-5 3l-2 0l2 29l7 10l0 11l-14 42l3 32l1 4l42-187l-14 5l15 25l-2 33l-9 12l17 16l-10 2l-15 1l5 56l22 15l31-128l-26 22l21 7l12-2l4 53l-7 13"/>
<path marker-start="url(#k22)" marker-mid="url(#k22)" marker-end="url(#k22)" d="M1583 681l-9 21l-14 32l23 2l-21 16l55-40l-24 14l10 13l33-51l-10 34l64-53l29 0l31-51l-4 40l31-203l46 111l10-135l-1 165l1 2l44-105l9 75l-9 15l-16 7l3 16l50-192l-1 5l-22 72l11 39l7 25l-10 28l-4 3l17 6l-13 18l49-335l-6 73l-15 117l-4 7l53-26l-16 70l-1 56l33-222l1 84l16 27l-19 22l18 14l-17 64l27-236l-5 189l47-164l-4 25l-10 41l7 20l0 8l-5 56l-4 16l-2 1l49-145l-1 7l-1 45l-18 7l0 6l19 55l-15 27l31-148l-6 46l7 35l14 3l39 8"/>
<path marker-start="url(#k23)" marker-mid="url(#k23)" marker-end="url(#k23)" d="M1488 779l61-51l1 28l-5 13l66-48l8 1l-23 5l72-35l29-36l1 20l19-9l-1 16l105-81l-13 22l33-59l73 24l6-30l25 5l-22 19l44-60l32-90l5 14l26 31l2 56l-20 7l42-51l-2 5l11 19l17-149l3 7l-2 5l-4 33l3 9l19 22l10-17l7 20l-13 33l49-18l-22 22"/>
<path marker-start="url(#k23)" marker-mid="url(#k23)" marker-end="url(#k23)" d="M1461 779l61-14l-19 24l73-92l-12 48l52-24l12-35l71 14l-13 1l49-26l30-20l24-5l19-44l2 5l54-47l-4 39l38-37l-4 31l47-87l2 77l13-173l23 134l-6 6l-19 30l55-128l-16 77l13 21l22-207l9 5l-22 167l47-129l11 8l26 48l-21 32l-4 2l23 8l11-66l21 21l-3 3l-10 1l-11 16l28-18l1 2l-3 23"/>
<path marker-start="url(#k22)" marker-mid="url(#k22)" marker-end="url(#k22)" d="M1521 759l28-24l-4 13l-6 17l4 6l24-43l28-45l24 18l-28 30l31-49l3 16l51-29l2 33l16-19l94-38l2 3l2 3l37-90l25 27l-19 28l52-62l-21 37l43-31l16-203l9 23l5 47l0 75l-8 70l10 2l5 2l17-209l-1 183l-11 20l34-167l23 9l1 43l-1 77l30-118l-23 31l12 20l-4 2l-11 20l14 14l-16 21l55-175l-9 13l11 7l-26 16l12 1l24 75l3 26l5 18l42-92l-13 17l16 36"/>
<path marker-start="url(#k21)" marker-mid="url(#k21)" marker-end="url(#k21)" d="M1525 765l20-20l21-35l15 26l8 6l17-68l4 24l3 22l-14 9l31-67l34 18l0 17l42-32l0 7l-20 44l41-76l-4 21l20-73l10 42l-12 4l19 10l-7 11l-7 14l-5 1l25 5l10-101l-4 25l23 3l29-44l-13 3l14 7l-14 47l17 8l-26 8l5 20l5 9l28-166l5 77l-12 10l0 13l12 7l-8 8l40-314l-5 88l13 110l-9 79l43-259l-17 101l7 7l-16 47l8 7l-10 58l10 49l-9 15l34-317l2 256l8 11l-13 56l50-243l-9 35l-2 7l3 62l-14 34l11 3l7 62l-15 1l-4 3l36-250l21 76l-25 42l16 3l7 34l-23 13l1 3l23 8l3 3l-19 37l-7 17l22 20l15-249l-6 29l6 2l-6 41l12 19l-5 12l-8 1l10 7l-5 32l1 24l15 5l-18 23l41-142l-2 8l-12 10l17 23l-19 12l17 0l-3 25l-5 47l6 6l-8 0l19 3l-10 2l-4 7l22-162l14 92l6 5l-9 34l25-98l30 27l12 7"/>
<path marker-start="url(#k20)" marker-mid="url(#k20)" marker-end="url(#k20)" d="M1557 755l52-107l-1 35l-3 19l-7 17l26-139l21 65l-16 43l16 2l-13 15l11 1l13-87l21 2l-17 4l9 12l-18 28l4 19l-2 28l34-71l17 1l-13 0l-1 25l-7 14l54-147l-23 35l9 20l-6 17l6 17l10 4l-5 11l-10 47l4 6l31-119l8 16l-3 4l-1 54l-1 13l-6 27l46-278l-23 131l3 14l6 23l13 21l-7 3l5 5l-1 58l34-344l-15 27l-10 117l-1 8l21 99l4 14l-2 64l14-128l15 12l-3 4l-18 37l27 15l-12 46l14-276l4 98l16 74l3 11l-13 3l-4 27l40-181l7 7l1 21l-9 22l-6 100l9 7l-13 31l36-248l5 22l2 35l-13 68l9 10l2 4l2 7l-6 17l-3 16l19 32l-25 47l6 7l28-282l18 91l-24 10l19 33l-9 2l-3 1l-7 42l19 31l-8 39l15 12l-23 9l18 2l31-221l-8 18l7 47l5 3l-9 6l-7 61l36-150l6 16l-7 12l2 28l-8 14l19 15l-15 6l-4 46l-1 10l-1 16l2 9l-6 6l47-163l4 9l-23 10l23 40l-19 17l4 21l18 8l16-64l5 21l-19 3l11 80l28-122l-2 30l29 25"/>
<path marker-start="url(#k19)" marker-mid="url(#k19)" marker-end="url(#k19)" d="M1506 784l44-53l16-12l14 29l39-89l-11 43l2 8l-9 12l38-156l-17 46l-2 31l21 41l-10 0l15 6l24-153l-19 63l16 40l-7 0l-3 48l-6 10l47-180l-3 11l-1 15l11 2l3 33l-18 27l-3 13l4 7l3 2l13 1l-22 9l-1 3l14 1l8 2l-10 22l-5 4l-10 5l3 19l52-227l-24 56l10 41l4 40l13 14l-24 0l23 17l0 18l-25 6l11 21l38-136l-10 27l-4 9l12 1l-8 0l15 11l-3 3l-14 41l12 3l11-240l25 4l-20 23l15 25l-20 13l9 44l-11 25l2 4l12 6l11 21l-15 10l5 3l-7 7l-4 20l24 18l-28 17l7 7l12 2l28-255l9 75l1 25l-9 10l-4 27l-5 13l-9 19l28 24l-7 13l4 29l21-383l4 111l-6 16l-13 5l27 7l-13 61l-8 32l13 5l-16 17l0 0l5 21l2 19l1 15l9 2l7 9l-13 5l-14 11l11 1l9 1l-20 3l18 11l10-281l4 21l23 21l1 16l-25 20l25 2l-8 14l-9 56l12 13l-18 5l-2 33l29-211l19 12l2 22l-15 20l15 17l-14 30l-9 46l14 12l10 2l1 7l-10 2l11 32l-5 13l-3 11l-12 6l-6 4l7 12l3 36l-8 23l18 19l38-346l-2 0l-21 1l17 1l7 18l-28 36l11 2l5 11l-4 4l0 3l2 6l4 17l-5 25l15 40l-13 6l-16 11l22 22l6 26l-4 52l-11 14l7 9l13-299l9 21l4 22l8 19l-14 67l11 6l-21 21l28 2l-21 5l14 56l-4 54l7 11l9-255l1 19l6 37l13 10l-17 34l12 19l-4 20l-6 26l21 7l-28 20l12 9l12 33l21-215l-16 4l19 10l-19 50l15 59l0 14l-3 8l46-95l-18 22l13 33l-15 61l17 17l-18 2l36-159l2 36l-5 7l-2 61l23-60l19 4l-4 46l-6 27"/>
<path marker-start="url(#k18)" marker-mid="url(#k18)" marker-end="url(#k18)" d="M1589 690l-19 32l49-142l-1 50l-14 24l-6 60l26-219l25 79l-13 6l-10 8l20 11l-12 11l4 7l4 3l4 12l-6 13l7 8l-3 12l-3 11l7 17l14-340l5 61l-4 56l-13 19l29 59l-23 21l2 20l2 7l10 10l-13 0l1 10l15 7l-16 21l12 2l-3 4l-15 42l20 10l29-406l-1 189l-4 57l7 4l5 8l-18 52l12 7l7 6l-10 17l-13 5l-5 0l18 11l1 11l30-330l6 115l-7 29l-9 4l-6 18l7 6l-1 35l-7 24l20 16l-17 5l7 15l-9 9l18 13l24-361l14 74l-13 1l-3 25l-2 42l9 3l-15 4l-2 50l12 18l10 24l-4 23l8 5l-14 20l-6 16l20 2l-12 32l-3 16l-1 7l-4 37l1 2l-4 13l43-439l9 18l-20 56l16 18l-13 52l-7 13l22 14l-2 10l4 9l1 14l-19 3l14 3l-20 3l5 22l4 12l-5 8l4 27l17 5l-22 12l11 7l-16 0l20 28l-13 3l0 12l0 57l41-302l9 20l-4 7l3 29l-11 16l8 26l-14 19l-2 14l20 14l-14 53l2 13l2 35l-13 1l9 23l11 13l15-316l2 42l-7 66l4 2l15 1l-13 39l4 12l-3 10l9 2l-2 6l-8 42l-11 16l4 5l18 44l-21 30l41-342l7 6l-11 47l-1 29l6 11l14 53l-10 11l-10 14l-5 30l17 14l-12 10l18 67l22-278l-8 1l0 5l0 7l-7 8l22 2l2 40l0 21l-6 20l5 5l2 2l-3 47l-7 1l6 8l5 12l0 11l-27 12l7 19l19 1l-16 9l-8 4l47-222l-10 43l-11 34l23 1l-10 3l11 19l-16 16l9 1l0 22l-1 4l-15 22l18 39l29-213l2 5l3 16l-3 6l3 18l-2 28l0 5l-16 24l-3 38l2 4l9 4l5 8l-11 4l3 25l34-138l-9 24l22 14l-6 6l-6 6l5 26l4 83l1 19l-21 33l39-201l7 6l8 21l-11 35l-12 54l49-8l13-95l22 58l-14 27l60 19"/>
<path marker-start="url(#k17)" marker-mid="url(#k17)" marker-end="url(#k17)" d="M1616 418l-2 164l-4 9l-1 31l6 55l-20 31l36-203l-11 28l27 36l-8 7l-3 3l-2 3l10 24l-9 1l-9 24l20 2l-24 13l11 20l-8 18l-3 1l23 6l22-475l11 164l-9 57l-1 14l-9 29l18 10l-15 50l-3 11l17 9l-10 17l2 1l-15 1l15 8l-16 11l19 47l-17 1l13 3l-2 39l-14 5l39-393l14 63l-15 31l18 19l-10 59l11 12l-9 3l-6 21l-5 26l3 3l-10 5l20 12l-18 11l2 8l12 12l33-282l-11 40l7 13l-8 15l12 9l-8 33l3 8l13 15l-28 22l29 19l-4 4l-19 13l16 4l-19 1l16 24l-1 30l-15 1l10 47l11 22l-8 1l3 10l34-425l-4 2l-6 56l-8 54l1 10l17 78l-3 13l9 1l-16 1l8 33l2 27l-15 7l10 35l-1 14l-6 7l-6 2l-4 55l23 8l-19 14l0 12l14 17l40-420l-9 23l-7 54l6 11l-1 28l5 1l-8 10l-1 8l7 0l-7 5l6 0l6 16l-24 10l3 2l21 6l-4 3l-3 12l2 4l-8 12l3 20l7 21l-8 3l-5 7l19 5l-4 5l-2 10l-6 31l0 7l-8 1l7 2l-2 13l-14 29l3 46l43-380l-3 14l-4 6l15 12l-9 5l3 6l-9 11l-3 3l-2 45l17 1l-2 15l-13 11l15 55l-1 3l-15 4l-5 9l20 4l-14 13l11 7l12 18l-1 61l10-305l-5 28l14 7l-7 7l10 0l2 10l-17 3l10 6l11 2l-22 12l4 12l10 33l9 10l-18 18l0 28l17 0l-16 4l1 1l2 26l15 23l-16 2l-7 14l-1 46l25 4l-12 2l-5 62l34-355l-7 14l16 2l-9 3l9 11l-16 7l9 8l10 20l-9 8l-7 0l7 1l1 2l0 12l0 2l4 5l-5 31l3 10l-19 5l3 18l-2 8l24 15l-4 15l-5 0l-16 44l5 5l14 35l1 30l18-292l3 4l-2 29l6 4l8 15l-18 18l-4 11l24 2l-18 3l9 2l-5 3l-7 1l1 20l-7 0l19 1l-15 9l18 2l-5 49l31-140l0 3l4 4l-7 2l11 5l-10 5l8 8l-13 21l4 15l-1 4l1 32l5 84l-7 37l4 12l37-240l1 25l-12 6l1 9l2 15l-1 6l-5 2l8 51l-4 63l7 16l-16 76l25-267l7 14l-1 3l19 18l-14 12l2 3l-13 11l13 93l25-116l10 27l-16 27l3 4l3 10l-8 22l43-79l-14 8l12 47l38 39"/>
<path marker-start="url(#k16)" marker-mid="url(#k16)" marker-end="url(#k16)" d="M1617 621l1 18l-10 41l-12 4l37-269l-8 44l12 9l-8 36l6 31l13 20l1 26l-23 16l17 1l-5 7l5 1l0 3l-9 7l-6 1l2 18l3 12l24-216l5 22l17 11l-3 3l-22 4l1 4l20 12l-20 1l14 33l-13 5l15 14l8 8l-8 6l3 16l-24 6l0 4l11 29l-4 8l36-363l4 13l-1 71l9 20l-3 23l4 30l-14 6l-8 9l23 1l-6 2l-14 5l21 6l-26 16l3 1l18 8l-11 2l-6 3l6 0l-2 1l19 16l0 13l-19 30l13 2l-13 8l-3 25l19 13l-16 7l-6 2l7 21l5 17l2 14l-5 0l26-407l13 51l-6 17l-9 10l15 26l-14 12l12 0l-2 20l-10 27l-8 16l24 5l0 15l-6 3l-16 7l27 3l-3 5l0 9l-9 9l-8 3l11 2l4 0l-14 2l-4 41l16 49l-6 0l-9 59l3 10l45-417l2 1l0 4l-19 13l9 7l-7 24l15 2l-4 29l-11 12l19 3l-9 1l-12 35l13 5l-19 17l26 12l-21 3l10 12l7 11l-9 6l5 7l2 3l-19 3l9 20l7 11l-13 6l19 29l-16 13l1 24l-2 9l9 17l2 12l40-346l-4 5l-19 4l0 18l1 2l16 21l5 0l-25 10l13 12l5 9l-8 30l-6 21l20 1l-23 14l17 11l-12 4l15 9l-16 10l5 3l3 4l3 10l-19 0l1 1l18 15l-15 3l22 15l-12 6l12 0l0 4l-25 1l4 30l2 1l-5 6l7 4l16 21l-14 0l11 27l-22 25l16 7l39-345l-11 3l-5 11l-5 1l21 7l-19 5l-5 11l4 4l9 4l0 23l4 18l-3 7l-11 20l20 10l-2 18l-12 8l5 25l10 8l-8 1l-1 2l-7 0l14 2l-15 8l8 17l-10 50l7 12l-3 34l-3 10l12 5l16-332l-4 7l6 2l-3 6l3 20l-7 17l15 13l-6 12l19 27l-22 5l16 1l-5 15l-9 1l7 4l-14 7l15 2l6 9l-13 11l14 7l-15 10l11 1l-2 1l4 1l8 16l-9 5l-16 6l13 4l6 8l-7 22l17-176l10 44l-4 2l-6 1l11 20l-14 0l18 21l5 8l-13 23l5 79l-10 17l5 11l-5 11l32-262l13 18l9 10l-2 1l-14 29l-13 4l24 1l-17 18l-7 52l8 13l4 8l-2 13l7 3l-14 19l13 25l-5 39l34-226l-2 30l11 31l-5 46l9 143l7-208l3 78l-8 60l39-163l12 42l-13 73l22-80"/>
<path marker-start="url(#k15)" marker-mid="url(#k15)" marker-end="url(#k15)" d="M1619 363l-10 81l7 19l0 38l1 22l-3 79l-7 41l39-441l-6 47l5 91l-14 19l11 15l-3 5l5 14l-10 7l2 10l-1 13l-5 7l18 17l-1 17l-9 45l10 11l-18 5l-2 33l-4 29l1 6l-4 7l0 8l24 42l11-454l0 8l3 10l-2 48l6 35l4 14l-13 25l18 31l-11 13l0 2l15 1l-10 5l13 2l-27 6l3 1l20 7l-3 31l3 20l-16 6l13 32l-11 7l8 3l-6 25l7 1l-13 12l-4 5l9 8l15 11l-18 9l13 2l-13 25l19 11l-21 14l30-422l4 31l13 20l-17 5l16 6l-18 6l23 15l-1 19l-15 15l-5 22l21 23l-5 1l3 1l-26 4l27 7l-26 4l10 9l-4 7l0 3l20 17l-1 1l-19 27l7 2l0 5l-3 16l12 12l6 5l-25 3l15 37l-2 3l3 8l9 5l-13 6l10 81l29-408l2 4l-9 7l-15 2l24 13l-20 1l13 22l6 2l-12 12l15 6l-4 2l-20 33l4 29l9 3l-17 4l27 2l-22 4l6 17l-8 25l10 4l-11 10l1 14l19 6l-21 20l2 31l2 11l14 5l-5 2l-6 17l-1 8l1 18l39-358l-14 24l12 15l-11 13l-2 14l26 3l-3 5l-22 6l13 1l-12 11l21 13l1 24l1 2l-17 19l18 11l-13 9l11 0l-17 7l17 21l-11 10l6 2l-12 0l11 17l-17 4l5 5l20 1l-24 25l-5 10l3 33l24 27l23-321l-17 12l0 0l3 1l16 12l-22 26l24 4l-23 1l13 3l14 1l-21 4l5 6l-12 15l24 7l-3 2l2 1l-3 18l7 25l-6 6l-6 0l9 5l-21 1l23 7l-20 8l15 8l-19 3l1 7l9 7l-3 12l-5 1l0 23l10 3l-9 36l12 15l-8 14l4 1l-2 15l46-266l-8 2l-9 6l-1 1l7 1l10 2l-10 4l-2 2l-6 7l2 6l-7 1l2 0l12 2l-14 1l16 32l9 10l-24 16l1 5l4 3l14 12l4 3l0 12l-26 3l24 0l-9 3l-15 2l10 10l6 12l-5 2l16 5l-24 74l25 54l-10 13l13-287l13 10l-2 14l3 5l-4 3l10 3l-16 3l1 1l19 11l-13 44l-11 25l3 7l16 3l7 1l-17 20l7 12l-3 7l11 14l-22 63l36-226l2 10l15 18l-23 16l19 18l-20 15l9 11l-8 65l23 4l-21 67l32-241l-3 0l-5 9l10 16l-2 7l-7 21l2 13l2 16l6 29l17 32l-17 38l-4 8l25-153l36 11l6 55l20-78"/>
<path marker-start="url(#k14)" marker-mid="url(#k14)" marker-end="url(#k14)" d="M1588 244l3 34l17 49l39-166l-11 10l1 13l0 0l9 100l-14 5l5 52l-8 26l17 4l1 12l-4 4l-9 6l-7 0l19 7l-20 12l-5 2l26 6l-10 3l-3 1l10 29l-20 4l15 29l-8 2l12 6l5 1l-12 15l-10 9l19 0l-8 2l4 1l-14 14l-3 25l53-355l-5 13l-10 10l12 36l-12 11l-9 52l19 24l-9 5l6 2l-16 24l-1 10l21 5l-6 10l9 4l-4 3l-16 4l-6 5l22 0l-3 0l-5 1l6 3l-2 1l-6 8l-8 10l3 6l17 6l-16 6l15 19l-17 5l6 0l16 0l-19 5l13 1l-10 21l-11 2l15 23l8 16l-17 5l8 3l2 6l9 0l19-331l6 14l-1 3l6 6l-16 10l0 11l7 8l-10 1l4 21l-4 1l1 5l12 2l-17 4l7 8l5 1l3 2l-6 2l16 0l-13 9l-7 0l1 3l14 12l-6 6l11 39l-25 8l18 2l-11 0l7 11l3 10l-3 19l1 16l-14 6l10 7l-3 32l13 40l-16 6l-3 33l27-392l15 5l12 9l-14 1l2 2l7 3l-21 15l19 11l-22 9l16 25l3 2l-12 4l10 5l-1 6l4 0l-17 14l8 3l-8 0l2 5l20 14l4 1l-13 10l-2 10l3 0l-7 1l4 7l5 8l5 11l-6 4l8 2l-26 6l4 1l20 36l-9 20l-3 11l17 1l-4 23l-17 12l8 21l1 6l37-290l-5 13l-14 6l5 7l6 0l-9 12l0 0l-1 11l23 9l-22 4l-5 4l17 4l0 1l0 7l-13 7l3 6l-5 1l12 5l9 6l-15 13l11 1l-12 0l15 6l-16 0l-3 9l-3 4l-2 13l10 0l-3 4l17 10l-7 0l-9 4l-4 6l15 10l-1 10l-17 11l11 12l-7 7l8 50l34-298l-11 4l-6 11l26 1l-20 4l15 22l-16 8l3 5l-5 3l19 18l-14 5l19 8l-19 3l19 7l-1 18l-7 2l-15 6l12 7l7 10l3 3l-7 22l2 29l-10 6l-2 125l24-297l10 20l-9 27l-2 31l14 5l-10 13l-2 25l17 50l-13 1l17 10l-19 15l-6 80l38-287l-5 28l22 6l-14 3l15 44l-24 22l19 8l-2 4l6 6l-2 7l-10 1l12 21l-20 116l42-245l-15 59l23 22l-2 2l2 8l-15 111l38-156l-15 40l7 79l37-127"/>
<path marker-start="url(#k13)" marker-mid="url(#k13)" marker-end="url(#k13)" d="M1564 237l18 79l4 3l-4 15l7 29l11-131l12 10l-6 2l-1 4l0 24l-12 8l16 11l6 21l-13 20l14 18l1 20l-3 32l-15 7l20 29l-4 1l-18 82l21 39l26-367l-15 1l10 0l-3 45l-14 1l3 24l16 34l-19 9l10 5l4 9l13 2l-23 0l-6 26l9 0l-1 4l20 8l-5 17l-23 3l14 0l-3 16l0 11l10 1l2 4l-15 8l6 2l6 7l6 11l1 5l-18 1l17 4l1 19l-5 1l-3 0l7 13l-23 0l14 5l-12 11l23 95l28-384l-14 3l4 15l-6 11l-2 2l21 7l-3 18l-23 4l-3 8l25 18l-16 1l-9 11l25 20l-19 16l12 1l-15 12l9 18l2 5l-12 5l4 15l3 23l10 10l-18 1l12 4l8 15l-13 51l-8 21l4 57l40-391l-14 0l23 13l-4 2l-18 2l21 5l4 3l-3 4l-1 0l-12 4l-10 7l6 0l19 10l-5 2l-10 3l0 1l3 7l-3 4l-6 14l21 8l-8 1l-9 16l14 2l2 4l-22 8l12 4l-1 9l-2 1l-8 9l23 6l-3 0l-16 16l17 3l-20 1l23 0l-7 3l-17 4l15 3l0 1l7 14l-22 2l2 26l-1 45l12 9l-15 6l16 3l-12 4l21 0l-21 43l-5 16l15 10l11 16l18-364l-10 5l19 3l-4 4l5 1l-9 34l-5 5l1 8l-3 14l20 5l-14 7l-1 1l-9 3l3 10l-6 5l1 7l4 5l13 8l-1 7l-11 7l5 4l-2 0l-5 9l0 2l23 6l-18 0l15 6l-17 19l11 3l-8 4l7 4l11 8l-22 26l-7 45l5 1l3 49l30-306l-5 8l18 3l-15 12l18 17l-15 18l12 10l8 7l-9 1l-7 9l-5 3l-3 5l-2 40l1 4l5 13l8 19l-1 26l-14 2l13 48l-12 80l52-327l-19 13l-1 19l15 2l-5 5l-11 7l17 4l-18 8l13 1l-5 17l15 17l-23 3l17 8l-6 11l-7 10l8 4l-5 65l4 3l8 15l-4 89l28-290l4 4l-12 16l-6 4l2 17l1 13l23 21l-6 9l-20 12l10 9l23-109l-3 14l22 75l-6 68l-3 7l39-82l28-40l3 19"/>
<path marker-start="url(#k12)" marker-mid="url(#k12)" marker-end="url(#k12)" d="M1548 161l0 76l31-40l3 9l-4 13l10 42l-24 7l16 10l2 35l-1 25l8 14l-7 13l10-154l-1 1l20 23l3 6l-17 17l5 25l8 2l-10 5l18 2l-2 10l3 19l-29 1l16 23l-11 10l-5 0l19 1l-12 2l11 3l7 1l-2 9l6 6l-2 13l-7 11l8 153l11-386l3 23l8 12l-6 7l14 1l-14 15l12 12l-10 0l-14 36l5 2l-3 1l2 5l-2 2l19 1l-21 4l26 15l-20 12l15 1l-23 11l11 3l5 33l2 1l-5 2l2 13l7 16l-11 3l5 1l6 22l-22 4l1 17l0 9l9 12l0 0l4 27l-4 49l30-366l18 9l-9 10l-10 3l8 3l-9 18l2 4l10 12l-1 1l0 4l-14 7l-1 10l7 8l0 12l9 0l2 4l-7 6l-10 3l-3 3l-2 1l8 5l-3 1l14 20l-12 6l0 0l16 9l-22 5l11 13l-6 4l8 7l0 70l-10 8l17 7l-13 40l1 5l22-304l22 23l-10 1l-1 4l15 2l-23 10l0 14l20 2l-5 12l-4 5l0 8l-1 5l9 8l-16 1l17 3l-1 1l-3 5l8 12l-19 18l12 20l-10 4l6 2l8 30l-9 4l-9 12l2 2l13 1l-13 40l4 20l24-262l19 9l-10 8l0 0l1 15l-12 10l1 1l13 15l-4 16l13 3l-13 24l5 3l6 5l1 20l-9 18l-10 9l0 3l-4 20l6 12l-10 25l16 18l-8 0l7 22l-14 39l21 34l17-307l0 3l4 1l-6 3l5 8l12 1l-18 0l12 8l10 15l-17 5l-7 8l23 52l-2 30l2 39l1 96l-16 29l40-274l-21 15l26 24l-12 30l-14 54l35-123l19 9l-24 176l38-81l-4 30l11 140l38-237"/>
<path marker-start="url(#k11)" marker-mid="url(#k11)" marker-end="url(#k11)" d="M1511 200l-5 35l53-87l-11 19l7 4l3 56l-7 13l2 40l0 16l33-90l3 5l-7 4l-7 1l10 7l-16 14l-4 21l12 13l-9 7l7 7l-8 3l6 29l10 25l4 33l28-208l-8 4l1 13l0 0l10 1l-19 20l11 1l-5 3l4 7l-18 0l11 2l1 8l13 2l-5 1l-2 12l7 8l-6 27l5 2l-18 0l20 2l-27 2l19 8l0 5l8 4l-10 17l5 5l4 12l-6 5l9 10l-5 0l-1 8l-1 2l0 53l31-253l-11 11l-2 20l-6 2l8 1l5 2l-12 0l14 4l-14 12l7 5l10 5l-1 14l-20 0l27 21l-28 3l26 2l-10 6l9 9l-1 6l-1 1l5 11l-24 7l7 0l-7 1l24 4l0 11l-26 2l21 16l0 10l-16 0l9 12l-12 12l12 18l8 0l-15 15l20 2l-22 17l7 2l15 5l-26 5l25 39l-10 3l8 8l-13 6l-11 54l1 34l10 18l27-414l-7 16l-2 1l0 5l11 3l15 10l-9 4l-8 1l2 3l8 0l-16 2l19 5l-9 11l-13 6l21 34l3 6l-8 6l-9 5l18 13l-15 4l-7 11l21 18l-16 4l3 0l-5 18l14 29l-20 41l29-233l22 4l-12 7l-10 2l16 1l5 14l-10 5l4 3l-5 49l9 1l-19 2l27 3l-24 21l-3 1l15 0l-13 34l9 0l6 12l-17 15l10 19l5 15l4 11l7 27l-1 23l26-265l7 17l-16 39l5 5l-15 21l25 6l-24 16l-2 29l22 5l-22 5l14 24l0 59l21-233l-4 6l10 30l2 54l7 26l-11 15l-6 84l27-135l22 35l-17 11l42-84l33 137"/>
<path marker-start="url(#k10)" marker-mid="url(#k10)" marker-end="url(#k10)" d="M1450 129l73 32l-2 33l-3 62l18-128l12 60l3 29l-8 13l9 12l-7 2l9 3l-10 16l11 4l-18 1l10 2l8 8l-8 1l-3 3l-6 1l15 5l24-125l5 3l-2 10l-20 3l29 0l-11 5l-16 0l16 5l11 1l-2 20l-12 8l7 2l3 2l-7 16l-9 24l-9 2l2 0l10 25l14 1l-21 17l8 3l10 5l-6 5l-15 12l27 1l-13 23l28-192l-13 7l28 3l-23 5l-5 1l22 2l-5 1l9 3l-18 3l-1 3l-7 1l6 5l11 3l-9 11l16 5l-4 7l-6 4l2 3l11 4l-22 9l16 1l2 2l-24 5l18 1l-13 1l6 10l-11 5l13 1l-6 2l17 2l-2 1l-11 0l12 26l-15 6l7 13l6 19l-8 11l-8 1l16 2l5 6l-10 2l6 6l-6 2l31-196l-13 2l19 7l2 13l-12 9l-9 7l-4 3l14 5l-9 4l13 4l-2 2l8 0l-11 10l7 4l-13 3l-4 4l0 28l10 5l-2 3l3 28l-6 15l-7 8l28 0l-23 42l-5 0l17 2l-11 9l17 5l-5 35l-8 44l47-300l-24 7l22 26l-13 3l-7 3l0 7l-2 1l0 4l7 1l5 9l-2 0l6 6l7 20l-16 15l15 22l-13 9l8 8l-1 9l5 7l-11 106l-5 11l16 74l21-328l-7 15l14 26l-8 71l-15 27l14 15l-10 27l-2 65l37-237l-4 21l18 1l-18 13l40-21l-7 81l3 89l66-157"/>
<path marker-start="url(#k9)" marker-mid="url(#k9)" marker-end="url(#k9)" d="M1426 163l15-36l9 12l14 59l23-68l-10 31l32 0l3 22l-8 4l24 27l-5 5l-9 6l13 1l1 3l-19 1l-5 20l33-121l0 18l12 17l-17 3l11 4l15 14l-4 9l-14 6l14 8l-14 3l17 7l-9 1l-15 8l19 0l7 6l-28 4l3 3l25 16l-28 0l6 2l2 5l20 26l-11 9l9 0l-10 1l38-146l4 9l-23 1l15 1l-9 5l-5 2l14 1l-16 30l1 1l16 1l5 4l-6 0l6 2l-14 2l6 9l-17 1l4 6l8 3l5 2l-8 19l7 4l-18 6l8 2l0 1l8 3l-8 3l13 2l-16 2l4 5l-1 3l9 4l11 0l-7 4l0 3l-3 1l-6 7l9 0l-13 0l8 7l11 23l-19 1l21 1l-10 8l16-194l-5 8l2 4l3 4l7 25l14 1l-18 4l11 5l-5 1l8 0l-12 11l-6 4l-2 2l5 7l-2 0l11 8l-16 16l10 6l-6 5l22 6l-18 8l3 2l9 5l8 7l-23 1l16 9l-8 16l11 9l-12 7l-6 20l2 14l7 6l-12 3l16 3l32-210l-11 14l-1 4l-7 24l12 27l-7 4l4 4l15 2l-19 3l13 5l4 8l4 1l-5 2l-4 1l-15 5l22 13l-4 24l-19 38l0 2l0 16l9 15l15 13l12-201l-3 7l-1 9l0 11l21 4l-8 3l-1 0l-16 8l0 17l3 27l10 69l-9 33l30-185l-5 2l7 2l-7 35l17 10l24 22l10 26l32-104"/>
<path marker-start="url(#k8)" marker-mid="url(#k8)" marker-end="url(#k8)" d="M1434 122l-6 52l31-49l4 3l-17 8l13 4l5 30l5 3l-16 24l14 2l21-51l-5 5l8 9l7 24l-7 4l-18 11l26 0l-18 4l3 0l3 2l4 0l1 7l36-78l-14 3l-13 13l15 10l-8 1l17 9l-24 9l17 9l-3 5l-1 5l-10 0l10 1l4 1l-4 1l2 1l1 5l5 5l-7 6l10 0l-13 1l7 6l7 1l-15 3l12 2l2 1l-11 6l3 4l-11 1l23 1l-18 9l18 14l0 1l4-140l6 9l1 9l8 2l8 7l-16 1l15 4l-9 13l-1 0l9 5l2 16l2 6l-8 3l6 3l-16 14l6 3l-8 5l-1 0l4 1l9 4l0 1l-15 1l-5 1l15 3l-14 3l18 1l-18 1l1 3l9 12l11 5l0 3l3 3l-17 1l17 6l11-133l11 2l-17 1l3 1l0 3l-2 5l22 5l-3 1l1 0l5 3l-17 8l8 0l3 8l6 2l-11 6l12 1l-3 1l4 8l-26 2l22 1l-8 3l11 6l-14 10l0 5l8 12l-8 4l6 21l-12 6l10 11l-15 1l5 4l10 15l9 12l-23 1l1 8l24 10l-18 3l32-166l-5 2l-3 2l4 4l-5 2l19 1l1 4l-17 5l14 3l-12 9l21 24l-25 1l14 13l8 6l-20 3l2 3l-3 5l2 6l9 5l6 8l1 1l-2 13l-9 24l15 0l-19 1l-4 15l14 3l16-163l10 27l13 8l-19 7l-5 12l23 11l-23 17l7 9l-10 3l10 11l17 8l-10 73l22-129l8 8l6 52l-12 1l75-43"/>
<path marker-start="url(#k7)" marker-mid="url(#k7)" marker-end="url(#k7)" d="M1409 146l10-18l10 4l6 10l-14 1l9 6l-20 2l17 4l-5 0l7 14l17-42l1 10l6 12l3 3l8 3l5 2l-14 3l1 16l-12 4l1 3l22 6l-1 3l-12 5l24-69l16 11l-16 3l3 3l5 1l13 5l-15 3l-1 5l8 2l-1 0l0 4l5 2l-2 10l-20 3l6 8l5 3l-4 8l1 3l11 1l2 7l-19 2l5 4l-7 4l3 6l19 8l26-108l6 10l-16 3l-7 3l19 6l3 4l3 1l-5 4l-20 0l0 4l8 3l15 2l-13 8l12 2l-5 1l-8 1l-4 6l-2 2l15 0l-3 6l8 0l-19 5l4 3l11 3l-9 4l-12 1l3 2l5 6l9 4l-3 5l8 2l-2 1l-10 7l11 2l0 1l-4 2l4 1l-1 4l1 8l-3 2l-2 4l22-123l-6 0l10 10l0 4l-13 8l19 11l-5 2l-11 5l5 6l19 0l1 4l-16 0l-5 1l-5 4l19 2l-10 1l-8 1l15 9l-7 3l17 2l-1 5l-4 3l-8 2l-14 6l12 1l3 3l-7 18l7 5l-1 6l-1 0l4 2l-4 13l9 5l-6 19l15-165l6 8l-5 10l23 0l-14 2l0 12l-9 1l14 4l-10 1l5 6l-6 3l2 4l-8 3l23 2l-5 1l-19 1l14 6l10 0l-22 1l23 1l-24 17l0 2l22 1l-20 4l21 5l-22 15l15 9l-13 1l5 9l16 15l-19 5l7 1l6 25l-15 22l31-119l-5 1l15 3l-7 22l0 11l16 41l4 52l6-172l-2 10l11 11l12 4l-24 128l4 26"/>
<path marker-start="url(#k6)" marker-mid="url(#k6)" marker-end="url(#k6)" d="M1432 107l-16 1l-4 1l12 7l-13 4l1 2l23 1l-9 5l-7 5l10 2l10 1l-28 2l15 2l3 1l8 8l-2 6l-21 3l5 6l17 5l0 5l3 7l20-55l2 1l1 7l-2 2l0 0l-6 3l2 2l-6 12l4 1l7 4l-7 0l-10 1l22 2l-15 4l-7 3l24 1l-16 2l-12 2l1 1l3 1l-3 2l17 1l9 0l-6 3l-13 3l12 9l-5 2l14 2l-1 0l-25 2l37-70l-7 4l18 1l-13 1l2 2l11 1l-6 2l-5 6l-7 0l-3 3l18 2l-2 1l-6 5l-9 0l0 1l-1 3l10 7l3 3l-1 3l10 0l-19 2l20 1l0 2l-8 13l-11 4l21 1l-5 12l0 4l-5 9l8 3l19-101l2 17l7 1l3 2l-21 5l26 5l-5 1l-12 6l17 1l-3 1l2 1l1 1l-3 2l-16 4l-2 5l5 0l11 8l-14 0l-7 0l5 2l-7 2l16 1l-1 6l-12 1l0 4l15 1l-10 0l12 6l-16 11l8 0l9 4l-17 5l8 0l-13 1l14 11l-2 2l-8 0l23 5l-14 2l-13 1l11 7l36-135l-10 25l-6 6l3 1l22 5l-16 0l11 1l4 8l-9 4l-5 1l-5 3l1 0l6 0l16 3l-10 2l-3 2l7 8l-11 0l5 5l-14 2l12 2l7 0l1 1l-18 1l5 3l6 0l8 4l-12 4l7 2l0 0l-18 6l9 5l-5 17l21 1l-22 0l8 1l-6 12l-3 6l31-114l7 12l-11 5l12 9l-7 0l9 6l-13 13l8 9l-9 11l2 2l12 1l3 34l-17 13l22 43l11-129l4 36"/>
<path marker-start="url(#k5)" marker-mid="url(#k5)" marker-end="url(#k5)" d="M1402 115l-3 6l9 7l-7 2l7 8l-5 6l6 4l14-40l14 3l-22 7l17 0l-6 2l12 4l-26 3l22 4l-19 3l17 3l-17 1l4 3l12 5l4 7l-21 4l21 1l0 8l13-45l18 0l-7 4l-15 5l20 6l-14 0l1 0l4 3l3 0l-10 5l16 0l-17 4l15 1l-1 0l0 2l0 1l-7 0l15 1l-24 2l23 3l-1 0l-3 1l1 6l-20 4l19 0l-9 2l3 2l-12 3l10 6l-7 5l17 26l24-104l5 10l-11 0l2 10l-11 1l0 14l18 0l-3 1l-2 1l-4 1l-9 0l14 14l-7 0l7 1l-13 1l4 1l-6 5l-1 1l16 4l-15 0l24 0l-19 4l-3 6l8 0l10 6l0 3l-1 2l-3 1l-10 0l-6 3l11 1l-15 1l25 2l-13 2l3 2l6 6l-3 1l-6 1l10 25l15-119l13 12l-16 2l14 2l-1 5l0 2l-4 5l-3 1l-6 1l23 0l-13 4l14 3l-3 2l-6 1l-12 3l16 3l-9 4l7 4l-17 2l8 1l9 8l-17 0l3 0l6 0l9 4l-4 3l-8 1l4 2l-14 1l1 1l7 6l-7 21l3 14l17 2l-7 2l-9 1l0 11l31-123l-5 4l14 5l-4 1l1 7l-3 0l17 16l-7 10l-2 0l9 6l-25 3l0 3l-1 12l16 6l11 6l-25 6l1 0l24 3l-9 3l-12 8l15 6l-19 2l6 4l4 6l42-108l-17 18l0 2l8 15"/>
<path marker-start="url(#k4)" marker-mid="url(#k4)" marker-end="url(#k4)" d="M1401 114l-2 6l10 1l-23 6l22 6l-4 10l34-31l-1 4l-18 3l6 15l-12 3l6 1l8 7l-10 7l10 0l4 0l4 0l-12 5l17-38l24 0l-16 0l-3 1l-3 3l2 4l18 4l-18 3l10 5l14 7l-24 3l25 4l-18 7l-7 2l21 10l-23 4l15 3l0 5l-5 2l-2 1l12 8l23-60l-1 2l0 6l1 2l-3 4l4 6l-3 3l4 9l4 1l-8 2l3 19l-11 4l17 1l6 0l-21 1l15 0l-17 0l23 1l-1 2l-2 0l-25 2l25 3l-17 10l3 4l47-88l-25 2l-3 2l9 0l-7 3l26 7l-26 6l5 16l8 6l5 1l-15 1l17 0l-15 4l-4 5l10 12l-6 5l1 12l43-64l-11 2l6 8l13 1l-15 14l-4 6l14 2l-2 18l-16 7l-6 43l19 2l-6 17l27-121l2 26l-9 58l21 5l14-5"/>
<path marker-start="url(#k3)" marker-mid="url(#k3)" marker-end="url(#k3)" d="M1400 94l-3 20l7 23l6-30l26 7l3 6l-22 4l-3 1l15 1l-16 6l8 2l-8 4l7 0l1 1l10 1l4 1l-6 1l-13 11l22 9l20-29l-8 8l-1 5l1 5l16 2l-5 1l6 13l-25 2l7 0l8 1l4 1l3 1l-12 11l4 0l33-58l0 6l6 1l-12 10l0 1l16 2l-12 0l-3 1l-3 3l-2 1l16 4l-15 4l-8 2l3 1l-1 2l25 1l-27 3l1 0l20 2l-5 6l-4 0l10 5l-8 14l5 20l-2 5l5 8l16-98l-6 11l13 2l-10 2l3 1l-6 0l3 3l-3 17l18 6l-16 6l15 1l-9 4l5 3l5 5l-10 2l14 5l11-21l10 17l-13 4l11 11l6 92"/>
<path marker-start="url(#k2)" marker-mid="url(#k2)" marker-end="url(#k2)" d="M1409 163l9-47l-5 2l6 2l4 6l-10 2l26 1l-25 1l22 8l-8 2l-1 0l1 7l-13 2l12 2l4 10l24-42l-14 9l16 2l-6 0l13 3l-18 6l19 4l-9 0l3 0l-9 2l2 4l-9 2l-1 1l15 6l11 6l-14 30l2 12l17-75l25 2l-26 0l2 7l22 39l-5 6l6 6l-8 27l-1 12l20-92l0 33l-5 22l-2 35l55-76l5 20"/>
<path marker-start="url(#k1)" marker-mid="url(#k1)" marker-end="url(#k1)" d="M1400 124l13-11l25 7l-17 4l-8 5l6 6l0 6l10 1l1 4l-3 8l30-10l-5 13l-5 0l7 6l-3 22l0 10l30-54l16 1l-12 1l10 8l-22 24l47-23l-7 18"/>
</g>
<g id="cC" fill="none" stroke="none">
<path marker-start="url(#k1)" marker-mid="url(#k1)" marker-end="url(#k1)" d="M313 992l7 1l-16 9l9 13l2 2l-12 13l33-36l2 5l16 6l-22 4l3 5l-2 22l-1 1l5 31l-6 10l9 7l23-91l5 17l3 14l2 59l14 26"/>
<path marker-start="url(#k2)" marker-mid="url(#k2)" marker-end="url(#k2)" d="M329 991l-18 12l16 2l-18 2l-5 2l8 10l6 3l-7 2l11 4l-19 1l4 4l17 15l28-36l-15 5l9 2l7 22l4 27l-19 11l0 1l0 1l10 6l28-84l-13 6l3 0l2 19l2 3l-9 41l0 3l15 60l23-118l-8 33l25 3l-26 44l0 11l47-72l-8 28"/>
<path marker-start="url(#k3)" marker-mid="url(#k3)" marker-end="url(#k3)" d="M294 980l1 8l-4 1l2 4l4 4l-1 2l0 6l-9 9l20-30l-7 3l16 4l11 1l-9 5l4 1l-18 2l0 14l-2 4l23 0l-15 0l1 6l-4 0l3 5l16 13l-15 1l16 4l3-49l25 1l-3 0l-14 8l21 6l-23 8l11 2l-8 7l12 0l-5 7l-9 3l3 2l-9 3l13 8l12 1l-16 0l-6 2l6 6l2 4l0 3l7 4l-7 1l13 16l-1 6l-8 2l24-101l10 9l-16 0l16 1l-19 3l8 0l17 3l-14 3l14 14l-20 2l5 1l-8 2l19 2l3 2l-16 5l12 14l-1 17l-19 1l19 2l2 5l-3 13l-13 7l0 1l12 1l11 11l18-112l-7 4l14 7l-5 0l4 15l-21 21l15 14l-14 5l13 6l-2 1l13 9l-27 12l7 19l28-93l-2 4l8 10l-10 57"/>
<path marker-start="url(#k4)" marker-mid="url(#k4)" marker-end="url(#k4)" d="M298 992l0 42l18-49l-4 3l15 4l-14 1l4 5l-5 1l-11 0l14 1l-13 1l-1 0l7 3l11 3l1 2l-7 3l-2 9l14 1l-21 3l11 10l11 7l-6 23l10-77l27 1l-14 1l3 8l2 0l9 1l-19 1l-6 0l19 5l-15 1l-5 2l24 1l-23 11l9 4l-10 1l2 4l-1 3l4 5l21 7l-6 4l-8 4l0 0l16 2l-28 2l15 2l7 0l-21 1l19 11l-15 4l8 2l11 11l-12 0l5 1l7 7l2 10l4-108l4 3l17 2l3 0l2 13l-18 0l17 0l-10 4l5 2l-4 5l-15 1l5 1l8 0l8 1l-11 2l17 1l-2 6l-3 2l-18 0l19 0l-25 4l22 7l3 3l-16 6l16 2l-10 2l-12 7l15 9l-1 4l9 0l-4 6l5 3l-10 3l3 4l-8 4l15 5l-18 16l-4 6l6 0l-10 3l14 2l4 4l4 5l34-135l-6 1l-16 6l-2 2l-2 0l0 1l17 3l2 4l-17 1l8 1l-3 0l-3 4l5 2l-3 3l1 4l0 3l-3 17l20 1l-18 2l5 4l16 3l-11 10l0 1l-8 5l-7 5l13 7l-9 1l14 9l-14 2l0 2l4 6l15 19l-14 8l10 25l1 36l21-183l-5 7l-7 8l25 8l-21 12l14 34l3 1l-19 72l-2 21l43-149l23 0"/>
<path marker-start="url(#k5)" marker-mid="url(#k5)" marker-end="url(#k5)" d="M298 997l-5 5l15-28l15 15l-20 2l20 1l3 4l0 4l-9 4l8 3l-25 2l23 6l-9 1l-13 2l-1 5l24 2l-4 7l8 2l-3 9l0 1l1 11l30-71l-11 3l-4 9l16 1l-12 5l11 1l-9 6l1 0l-5 1l-6 1l4 2l0 1l8 3l4 4l-22 3l0 3l23 7l-5 1l-10 5l18 0l-10 2l1 1l-6 1l-11 5l8 1l-1 9l20 1l-20 1l13 4l-13 0l8 1l-9 1l5 1l2 1l9 2l-15 2l12 1l-17 1l11 2l14 2l-6 9l6 7l-9 1l37-102l-18 1l-1 1l0 14l22 0l-10 2l-12 2l7 4l-5 6l10 5l-11 0l20 10l-18 0l5 1l-7 2l15 3l1 3l2 3l-10 6l-5 1l2 1l11 1l-3 1l2 1l-17 0l21 0l-14 1l-13 3l7 1l-5 1l7 3l19 7l-18 3l6 1l13 3l-23 0l9 4l9 9l4 1l-9 6l5 1l1 1l-2 0l1 5l1 2l-18 4l10 3l6 8l-15 0l10 7l0 1l9 9l-11 2l23-136l-3 0l6 1l-2 4l12 8l-7 8l3 3l-10 4l0 1l20 6l-20 8l12 3l-1 5l-15 0l17 0l-2 0l-5 3l-7 4l21 2l-2 0l-21 4l7 5l-1 1l-10 6l15 4l11 3l-27 2l27 2l-19 3l18 5l-10 14l8 1l-23 11l22 10l-1 8l-18 2l9 8l-11 15l9 2l-1 10l3 5l43-196l-23 15l6 7l10 0l3 7l-8 11l-1 0l-10 8l4 1l12 4l-14 7l15 4l-16 7l5 3l-8 2l27 4l-26 0l7 11l18 4l-22 2l3 3l8 12l-1 12l-1 8l-14 28l6 12l14 9l-19 7l32-165l20 14l-8 2l-7 25l1 11l-7 19l4 25l2 78l14 4l11-168l4 1l6 81"/>
<path marker-start="url(#k6)" marker-mid="url(#k6)" marker-end="url(#k6)" d="M288 975l9 29l2 6l28-25l-27 3l23 2l-7 4l3 2l-2 5l-14 4l26 10l-28 5l2 2l10 1l7 1l-10 1l3 2l13 5l0 2l-9 6l1 4l6 3l-9 2l11 0l-8 4l25-78l5 15l3 8l-16 4l21 2l-23 4l4 3l11 0l-12 2l4 4l0 1l17 2l-7 3l-13 4l15 1l-2 4l-18 0l5 1l3 5l18 1l-12 4l-11 5l19 8l-21 1l12 1l11 16l3 0l4-79l23 2l-16 3l-1 1l0 5l8 6l2 1l-11 0l-2 3l5 1l8 1l-12 0l-2 1l23 1l-11 3l-10 5l17 5l5 4l-8 2l-3 4l-16 8l0 0l6 7l18 3l-1 3l-1 3l-23 3l0 6l12 5l9 2l2 3l-17 27l17 2l-5 4l5 11l-12 10l11 4l4 2l-10 0l4 6l36-141l-9 6l-3 3l0 1l11 7l-15 0l-9 5l2 5l4 2l7 4l-13 1l5 0l-6 3l5 7l20 5l-3 1l0 3l-16 1l2 3l9 1l-12 0l16 3l3 4l-23 2l11 3l7 4l4 3l-12 0l15 2l-13 10l-5 2l-2 3l-3 0l25 1l-17 5l12 12l-6 2l-16 1l19 2l5 1l-10 16l-11 0l17 1l-15 1l4 4l-1 3l-8 5l14 3l-11 7l4 0l-4 2l20 4l-22 2l14 20l21-191l-6 0l7 8l7 6l0 7l-4 9l-11 3l27 1l-3 1l-18 4l7 2l11 4l-8 1l-12 2l5 1l1 11l16 1l-2 1l-17 4l10 1l2 16l-7 1l-3 3l10 13l5 2l-4 1l-20 14l19 4l-7 11l12 11l-5 9l-15 4l-3 5l-1 9l20 40l-10 30l8 0l-4 16l17-248l6 8l2 9l-10 0l8 4l-1 2l7 3l10 2l-22 3l0 10l19 9l-8 0l-12 6l6 2l11 2l-11 0l20 1l-16 3l-8 1l9 0l-2 10l0 8l5 47l11 1l-5 4l-7 42l34-159l-15 8l0 132l29-132l-1 103"/>
<path marker-start="url(#k7)" marker-mid="url(#k7)" marker-end="url(#k7)" d="M291 989l17 3l-2 10l14 5l-19 14l19 8l-7 9l4 7l18-54l8 3l7 3l7 2l-4 4l-16 5l0 4l20 0l-5 9l-7 0l-4 2l-1 16l11 6l-6 0l1 2l2 2l2 1l2 0l-19 4l9 2l-10 2l8 5l14 2l-10 3l9 3l3 2l-12 7l30-91l14 20l-6 3l-13 2l7 1l-7 1l0 1l18 4l-5 1l-4 2l-13 4l15 4l9 1l-9 5l-12 6l12 8l-3 10l-10 1l7 1l5 16l-1 9l6 3l3 1l-5 4l-1 5l0 6l0 7l-3 5l11 13l-11 9l-1 6l-9 7l46-141l-24 8l20 3l-15 3l6 9l1 2l-9 4l23 0l-12 5l5 2l3 0l-20 2l21 7l0 4l5 1l0 3l-20 5l20 0l-2 2l-12 22l13 6l-14 4l-2 2l4 8l-2 8l-12 0l9 9l-5 1l4 0l12 2l0 7l-7 3l9 1l-3 6l-17 0l-2 3l10 4l4 2l11 0l-20 3l11 2l12 5l-6 10l-3 1l9 6l-2 4l1 3l-6 40l26-217l4 9l-16 3l1 1l11 1l-1 2l11 5l-8 4l-12 2l-4 0l10 0l9 4l-18 1l13 3l-10 3l6 0l-1 1l-8 1l19 4l2 4l-14 6l15 2l-14 4l10 1l1 4l-15 0l-9 7l25 0l4 3l-7 1l1 7l-22 2l8 1l3 2l-4 1l3 2l4 0l-13 5l-1 5l21 0l0 4l-21 4l24 0l0 1l-20 1l6 1l12 7l-4 2l2 10l-10 8l9 5l-1 18l6 5l-23 4l8 8l-9 40l32-218l3 3l0 2l-2 2l6 1l-5 7l-3 1l13 6l1 1l2 0l-13 4l-4 1l6 21l20 1l-26 1l11 14l10 2l-1 1l-13 0l1 2l7 1l4 10l-3 4l-16 1l3 12l13 1l8 2l-1 3l-3 6l-16 13l5 12l8 3l-14 5l3 1l12 10l-13 23l-6 3l0 178l16 16l39-363l-18 1l5 8l12 4l-12 4l11 4l-21 1l11 4l7 8l-19 11l4 3l20 1l-4 13l-6 7l-9 14l4 7l-6 26l0 42l-1 6l31-153l13 7"/>
<path marker-start="url(#k8)" marker-mid="url(#k8)" marker-end="url(#k8)" d="M293 1001l17 22l6 28l-2 3l17-73l2 18l15 26l-13 41l15 30l22-68l8 7l-19 2l26 16l-1 3l-7 7l4 16l-21 22l23 13l2 22l-12 2l11 7l-2 0l4 5l-8 26l7 9l21-160l-7 6l1 0l13 4l-15 4l7 16l-6 9l18 8l-13 22l0 5l-3 3l-2 1l13 9l-7 6l3 12l-10 2l-2 2l14 14l-1 9l-3 7l-5 2l-1 0l-7 4l23 13l-10 12l0 0l7 10l12-189l-2 22l1 5l18 1l-19 2l7 6l4 2l-7 13l6 0l-6 1l18 1l-18 1l11 0l6 0l-1 6l-16 16l9 1l-11 0l18 11l-2 1l-17 2l13 5l-7 0l5 1l-7 4l6 4l-6 3l19 12l-19 3l8 0l-16 1l6 0l-1 3l5 19l-1 1l-11 2l1 18l12 37l15 14l-13 25l12 4l0 7l4-259l-1 14l13 8l-6 5l17 1l-14 3l-1 0l4 3l6 1l4 4l-1 4l-21 2l28 2l-2 0l-8 8l-18 0l21 2l-22 8l8 0l11 2l-11 1l20 14l-23 3l8 3l4 2l-12 3l1 1l7 1l8 7l-19 8l11 2l11 2l2 12l-22 3l17 49l-20 2l11 7l4 30l-11 21l5 105l37-324l-14 14l9 1l4 5l2 17l-12 4l11 3l5 10l-5 13l-2 7l-14 7l7 2l9 1l-14 1l25 4l-3 2l-1 9l-22 1l21 7l-10 9l-5 16l18 10l-20 1l21 10l-5 18l22-172l-12 40l4 5l-1 9l4 2l-6 82l16 66l-11 2l43-127l-14 22l6 20l11 10l29 24"/>
<path marker-start="url(#k9)" marker-mid="url(#k9)" marker-end="url(#k9)" d="M318 1047l35-17l25 0l-4 11l12 5l-12 4l-5 57l12 44l2 14l18-145l8 24l0 15l-17 8l24 12l-22 14l20 7l3 17l-2 15l4 4l-25 13l24 4l-14 5l6 10l6 0l-1 11l-4 4l-8 0l6 7l6 1l-7 12l11 11l-19 2l16 14l-3 10l29-205l-4 5l3 0l6 4l-14 4l8 38l-9 4l-3 7l7 1l10 1l-24 0l-2 3l20 17l-12 4l9 2l3 9l-6 7l-5 3l3 3l-4 2l-3 0l12 2l-2 16l-2 3l-11 5l2 4l6 1l0 6l0 7l-3 2l1 14l1 6l11 0l-13 4l-6 4l-1 3l14 0l3 7l-5 2l7 1l-6 6l10 9l-22 2l27 10l-9 7l0 90l29-346l-18 2l15 12l-14 2l11 27l-6 2l-5 12l11 7l5 5l10 1l-18 1l-1 8l8 0l4 6l-20 5l17 4l1 4l-1 13l5 4l-2 3l-12 4l9 3l-8 3l-6 0l11 10l12 7l-16 2l-7 4l4 2l8 1l11 1l-24 3l1 4l14 1l-8 3l5 12l-3 8l9 1l-18 0l16 3l-15 1l16 5l8 4l1 3l-8 13l8 4l-20 36l9 9l-17 18l1 3l5 39l-3 14l33-320l3 13l18 13l-21 1l-5 10l16 4l-14 17l3 16l4 8l-2 16l18 0l-25 1l5 0l21 3l-26 7l20 11l0 4l8 4l-10 2l3 2l-3 5l3 5l-21 4l12 4l12 4l-24 19l26 12l-11 0l-1 6l3 6l5 53l-21 39l-2 50l41-330l10 0l0 1l-13 5l16 4l-23 7l9 7l19 2l0 19l-24 2l23 1l-13 8l10 1l-23 12l4 2l19 4l-17 9l11 1l9 2l-7 18l-20 2l5 5l15 18l-3 43l9 17l-16 17l46-188l-3 37l-19 22l20 5l-15 0l11 46l-2 71l-13 42l5 43l53-231l1 69"/>
<path marker-start="url(#k10)" marker-mid="url(#k10)" marker-end="url(#k10)" d="M338 1088l32-76l-6 91l26-88l16 28l-3 21l8 42l5 8l-11 4l-10 25l7 31l7 26l8 0l-8 21l26-187l-1 45l-3 7l13 2l-1 44l-12 2l-10 5l3 0l15 5l-5 10l-11 17l-3 2l19 10l-11 0l13 0l-19 1l-2 7l3 3l6 12l-6 1l23 2l-18 1l3 1l16 3l-15 13l0 7l10 7l-22 8l9 5l-8 2l28 0l-8 10l-4 3l8 8l-24 16l26 2l-11 13l11 7l7-294l11 16l-6 7l10 5l9 19l-1 15l-8 1l3 15l1 0l-19 6l-4 1l13 0l-5 7l0 6l12 1l-18 1l20 8l-5 1l-1 2l10 4l-15 0l7 5l2 1l-14 19l5 23l5 16l2 1l-18 8l24 7l-21 5l17 8l5 5l-10 2l-4 5l4 6l-4 11l13 0l-24 8l20 7l-14 4l0 35l15 3l-12 4l14 9l-6 10l-1 12l11 38l-12 13l1 57l34-426l-10 9l10 2l-19 6l19 16l7 2l-26 13l19 0l-14 1l-3 5l14 12l6 0l-11 14l9 1l8 19l-8 2l5 7l-21 3l-4 11l2 12l-2 5l3 16l16 1l-2 3l-17 6l7 1l13 2l-8 2l-8 1l8 10l15 1l-28 16l12 8l-4 20l-6 13l6 11l-4 7l0 26l-4 10l14 17l29-305l-13 14l16 0l-4 5l7 2l-16 1l1 8l0 1l18 11l5 16l-24 15l-2 4l5 5l4 1l3 13l14 7l-19 1l1 3l18 13l-21 47l8 21l10 0l-11 13l14 146l15-318l8 20l7 2l-17 4l17 2l-15 13l-2 2l-6 28l1 9l23 11l-16 13l0 20l1 13l7 41l-20 63l32-236l8 46l-10 9l0 54l23 11l-7 11l-15 104l31-210l2 12l5 106l29-109l12 8l-13 72l19 66l68-123"/>
<path marker-start="url(#k11)" marker-mid="url(#k11)" marker-end="url(#k11)" d="M413 1220l3 13l30-175l-9 44l9 23l-22 3l16 7l8 9l-14 31l-6 5l-3 20l6 17l3 2l9 6l1 6l-13 13l6 12l-4 1l12 11l3 21l-3 16l-5 5l5 14l1 0l-9 143l3 4l6 0l21-393l-7 20l-4 3l15 3l8 11l-2 8l-27 2l25 12l-6 3l7 3l-14 0l9 10l-12 10l0 6l9 11l-1 8l-4 0l10 2l-12 6l18 3l-23 6l12 1l-16 7l6 3l18 5l-4 2l0 1l-14 9l6 5l-8 8l20 1l-24 10l20 4l-11 10l-4 18l14 1l-4 1l-2 6l6 7l-15 31l4 4l18 4l-12 6l13 1l-11 5l-8 14l16 5l-19 36l-5 35l38-405l-1 5l19 14l-9 1l-5 6l4 1l-10 6l21 6l-3 0l3 4l-20 6l17 6l-24 2l16 1l-9 0l14 1l-7 2l1 0l9 0l-21 19l-4 11l17 1l-17 0l27 0l-21 8l-7 6l18 25l6 26l-13 10l14 4l-9 3l-6 4l14 0l-9 3l10 2l-17 4l-4 3l21 10l-15 5l-3 13l8 17l-8 8l7 12l-7 16l7 7l10 39l-13 12l16 3l-1 11l3 6l-19 29l3 3l-8 28l9 39l35-442l-9 10l11 5l-11 9l-4 1l-5 1l12 11l-1 4l17 5l-23 1l16 7l2 2l1 3l-20 2l15 0l-9 4l18 1l-15 0l4 8l-2 3l-7 3l12 3l5 2l-16 9l7 3l3 2l1 4l8 11l-2 4l0 2l-8 18l4 8l2 1l-1 8l-3 1l5 6l-2 22l0 11l-9 5l-2 1l3 7l9 0l1 4l-25 14l12 10l-13 35l23 13l-4 14l-9 8l16 12l-1 45l20-354l-7 1l9 8l-16 9l5 2l2 3l5 9l-2 1l-5 12l9 3l1 1l7 2l-12 0l7 4l-15 2l16 4l6 11l-8 5l-16 6l5 12l7 7l9 6l-1 0l-11 4l0 3l11 15l-8 2l-4 14l6 12l2 41l11 25l-17 72l45-287l-13 6l-13 7l4 4l15 7l4 7l-13 6l-8 12l7 1l9 0l-15 3l-1 12l15 17l-9 11l6 4l-12 16l25 3l2 6l-22 5l-2 5l17 11l-20 7l15 4l9 2l-1 23l-21 9l8 67l-3 35l10 56l21-274l-1 17l-8 9l12 12l7 46l-6 13l-13 1l9 3l4 3l-12 5l13 3l5 5l-2 25l7 21l-19 13l46-199l-2 9l9 0l-20 15l14 17l-19 8l20 38l-10 16l-12 52l0 30l15 26l15-195l3 50l10 18l5 41"/>
<path marker-start="url(#k12)" marker-mid="url(#k12)" marker-end="url(#k12)" d="M419 1545l26-378l-3 13l-16 0l0 31l0 1l16 0l-11 9l17 2l-22 8l22 6l-28 16l17 11l7 6l-20 33l23 18l-7 4l1 7l-8 1l1 14l10 51l-1 31l-9 27l10 73l31-468l-6 36l-3 25l13 27l-7 7l-6 2l-7 2l1 52l-9 28l17 2l-5 5l15 8l-28 6l23 31l5 3l-11 7l7 5l1 2l-5 1l-9 2l-7 3l12 6l10 2l-10 12l-15 5l24 10l-20 10l6 3l2 0l-7 19l1 16l8 2l8 2l-20 2l26 24l-6 5l-6 2l-6 27l16 13l14-439l6 17l7 30l0 17l-16 3l-5 9l20 1l-1 10l-2 17l7 1l-1 5l0 5l-6 13l3 6l-14 9l6 4l-5 15l19 4l-11 0l-8 1l-4 1l19 11l-19 4l12 4l-7 7l1 2l11 6l-7 1l-2 11l5 12l3 6l-21 1l15 2l-5 1l-10 4l3 1l8 3l0 6l4 5l-14 2l25 2l-1 12l-3 1l-10 20l-3 10l-6 7l0 38l9 5l6 33l-16 19l24 1l-24 5l3 4l-6 14l28 43l-14 8l-3 60l34-519l-11 3l11 18l14 10l-2 2l-4 14l-5 9l3 10l-16 6l19 10l1 0l-20 2l14 21l9 4l-4 6l-10 3l2 1l-8 6l-1 2l-5 4l3 1l13 4l-15 24l20 15l-1 7l1 35l1 14l-11 3l-4 16l17 3l-15 2l12 1l-20 32l17 8l2 19l-22 17l26 32l-21 1l8 29l14 4l6-386l3 1l22 33l-2 2l-6 21l2 0l0 3l6 0l-17 2l-4 40l2 2l14 3l-3 4l-13 3l10 1l0 5l9 8l-14 1l1 1l12 3l-23 3l23 3l-6 1l-1 7l7 8l-25 7l20 13l-17 6l6 4l14 5l4 11l2 10l-8 19l6 3l-25 0l21 21l-17 4l6 21l10 2l-9 5l14 18l-20 107l32-398l3 4l8 1l-2 17l-7 5l-11 3l1 3l7 1l4 3l-8 36l6 8l-5 22l8 6l-8 10l21 19l-9 1l-2 3l2 26l-17 9l21 20l7 90l-25 2l16 2l7 10l-4 1l-1 25l-21 53l20 1l22-392l-7 15l-4 31l9 4l-10 24l2 2l24 10l-18 8l8 1l-10 8l12 7l-7 1l16 101l-16 123l40-293l-17 24l-4 67l1 33l6 13l7 16l6 13l-9 25l0 0l37-139l1 10l-3 30l-6 5l-9 55l40-126l4 105l-11 41l80-64l-4 105"/>
<path marker-start="url(#k13)" marker-mid="url(#k13)" marker-end="url(#k13)" d="M417 1216l1 325l11-361l1 37l-7 31l2 2l11 17l2 30l6 1l4 43l-12 9l9 11l1 30l-11 90l5 1l9 13l-5 1l-14 6l19 5l-24 4l13 8l8 1l3 10l-24 11l-2 28l55-360l1 29l-7 6l1 28l-4 4l-4 4l0 2l-2 7l-11 3l16 0l3 7l-20 26l24 33l2 3l-2 6l-16 12l-3 0l6 8l9 0l6 36l-18 2l17 1l-26 5l7 7l7 11l12 3l-21 17l22 5l-17 7l1 4l-3 17l-2 3l22 24l-25 2l14 10l-12 2l-5 39l37-544l3 44l5 28l5 7l-14 53l19 2l1 14l-10 18l-3 4l0 15l-5 0l14 30l-6 12l-15 3l11 3l-11 1l2 2l6 3l10 7l-6 7l10 0l-5 8l4 2l-4 12l-15 2l8 1l11 16l-21 15l9 3l13 7l1 0l-7 19l9 7l-21 38l19 13l-21 10l22 16l-15 99l42-482l5 3l-11 5l4 14l-14 9l2 19l-7 8l14 7l-8 17l9 43l6 9l-17 4l-1 2l25 7l-6 8l-6 2l-11 3l11 16l-5 4l-3 4l-2 11l9 3l-3 2l-4 0l-3 15l22 2l-24 0l0 6l3 2l11 6l7 4l-12 1l-5 6l12 9l-8 0l9 1l1 1l7 16l-29 10l17 0l-3 8l-13 10l6 1l19 13l-25 13l15 10l3 3l-8 57l10 15l-3 4l15-420l12 23l-1 13l-5 32l13 39l-22 6l16 1l-6 7l6 0l-5 5l4 0l2 0l8 2l-19 14l7 6l-10 3l19 3l-9 2l-1 4l-11 1l7 2l12 1l-6 17l-9 7l10 18l6 5l5 1l-18 2l3 18l-1 9l3 5l-2 18l17 2l-11 0l6 4l-13 5l-9 0l0 14l9 34l-7 8l22 20l-17 2l-3 17l9 13l1 8l-12 3l9 14l-11 11l21 26l30-437l-2 11l-2 2l-13 12l-5 23l16 0l-4 3l8 2l1 0l-16 12l18 2l-21 10l18 1l2 9l-14 6l1 16l5 11l14 20l-3 0l-12 2l-2 2l-10 4l18 0l-3 3l10 0l-1 5l-4 9l-13 1l5 7l7 1l2 19l-11 73l17 4l1 1l-4 8l-21 17l-3 1l5 8l5 13l14 1l-3 22l3 15l-13 17l-4 14l36-379l-11 1l26 7l-9 1l-12 4l8 3l3 10l-3 4l13 3l-29 0l24 15l-5 1l-6 10l3 0l-16 1l2 3l11 0l10 3l-21 6l27 0l-6 25l-10 23l3 7l1 15l-11 4l-3 6l26 17l-4 3l-6 4l-3 15l11 19l-16 14l9 15l-13 9l21 16l-14 3l14 94l-21 20l32-355l17 13l-13 15l3 4l-3 4l2 1l14 1l-20 3l11 5l-20 10l26 3l-4 66l-8 4l1 30l-12 14l22 33l0 5l4 26l-17 27l8 75l1 60l34-410l1 3l-21 1l3 15l-7 17l8 8l6 28l13 10l0 10l-1 6l-18 7l-5 4l21 16l-5 1l-16 2l10 55l-5 3l24-175l0 18l-1 4l-2 3l23 20l-19 3l7 62l-5 5l15 56l-17 4l0 19l4 58l-6 55l29-287l7 19l-7 43l10 235l27-269l3 92l9 185l16-257l8 18"/>
<path marker-start="url(#k14)" marker-mid="url(#k14)" marker-end="url(#k14)" d="M415 1582l25-281l9 137l0 0l-7 5l1 10l-13 44l19 24l-28 1l22 47l1 1l-16 5l15 5l-20 15l53-388l-1 72l-5 21l5 12l-11 12l-12 16l18 7l-16 2l24 3l-8 10l1 6l-6 1l-12 8l11 11l-7 5l4 23l18 9l0 14l-24 0l10 10l11 5l-1 4l-12 19l2 1l10 5l-15 5l4 22l-12 2l20 4l-4 6l1 9l-7 14l17 18l-19 1l19 27l2-391l3 15l12 3l9 35l-11 9l3 9l7 38l-8 2l-5 2l14 2l-2 14l-1 1l-22 2l0 11l26 11l-10 7l-13 9l0 16l16 4l-4 1l3 3l-16 0l4 6l22 1l-12 7l4 1l-5 10l-5 8l14 0l-22 5l21 17l-16 7l18 41l-24 0l4 14l12 13l-8 4l17 27l-12 20l40-517l-4 21l4 7l-13 5l13 13l-6 14l7 4l-5 20l2 4l-21 27l23 11l-12 13l11 27l-17 16l15 15l7 14l1 1l-18 5l-11 1l6 1l-3 2l-1 4l13 12l-7 1l9 0l-8 2l12 2l-6 2l-12 0l8 1l3 11l-5 34l6 8l8 5l-17 0l11 8l-12 4l-5 9l27 7l-3 10l-24 1l12 6l0 1l17 0l-16 0l12 18l-22 16l24 21l-19 0l11 7l-4 5l13 8l29-412l-3 42l-7 10l9 2l0 0l-15 0l-8 20l11 4l-12 1l19 19l-21 21l25 2l-8 2l0 0l-7 4l-7 3l14 2l5 2l-9 4l-1 21l-5 3l13 6l1 2l-16 0l3 4l0 6l3 7l5 13l-11 6l19 2l-14 16l13 12l3 3l2 8l-3 16l-19 2l11 1l-6 15l18 5l-15 6l15 2l-14 32l14 10l-1 5l-11 23l-14 5l21 16l-6 6l-6 18l8 7l-20 2l25 6l-15 42l4 42l37-495l1 3l-2 12l-12 6l-1 5l11 1l-14 8l2 1l0 23l20 6l-5 1l6 1l-5 7l7 14l-11 1l-16 1l17 3l-2 1l11 4l-15 5l-3 0l8 5l-7 8l14 25l-25 3l13 13l15 2l-5 3l-21 8l16 23l-18 20l26 19l-21 1l6 11l13 2l5 6l-27 8l19 2l6 17l-21 6l4 1l5 8l14 2l-20 3l17 10l-24 6l13 0l12 3l-9 8l-13 4l24 28l-27 19l44-390l3 32l-16 0l19 4l-8 1l-6 4l14 1l-19 2l22 8l-14 10l5 8l-5 12l-1 9l-6 5l-3 4l20 2l3 6l1 3l-16 15l16 2l-19 8l-5 20l19 27l-15 3l17 3l-16 7l17 4l-8 22l5 3l-6 3l15 38l-2 5l-26 2l27 2l-16 4l15 10l-22 11l14 14l6 32l-2 2l-9 8l-4 11l3 1l6 18l-14 16l6 1l17 3l-27 21l11 3l28-412l6 6l0 7l-5 2l1 22l6 11l-18 12l25 4l-25 3l13 17l14 1l-12 1l-14 20l22 8l-15 38l21 6l-8 15l-2 3l6 35l-10 0l3 2l-5 1l-11 2l-2 6l25 6l-6 2l-18 36l1 4l18 9l-20 4l10 23l14 14l-7 11l11 19l-1 6l-23 0l25 6l-28 10l22 12l-12 2l46-369l-19 4l-3 10l18 2l5 2l-10 3l-6 10l-8 1l23 9l-21 4l4 7l17 10l-13 10l-9 12l18 18l-11 6l6 4l-2 3l-11 15l10 5l8 9l-13 20l-5 11l13 2l-7 3l-10 17l22 22l-22 19l6 11l4 4l13 1l-6 20l4 5l-6 18l26-278l12 15l-8 7l2 20l-7 37l2 11l0 7l-9 6l2 2l7 2l2 4l-9 19l11 58l8 47l-9 13l-15 3l10 30l29-184l-10 24l8 84l-8 6l3 21l11 39l42-204l-12 10l-7 15l14 33l-11 10l16 4l-10 29l-12 59l16 68l-9 45l28-266l-2 6l-5 47"/>
<path marker-start="url(#k15)" marker-mid="url(#k15)" marker-end="url(#k15)" d="M376 1613l-15 7l54-67l0 25l4 17l0 4l-22 6l46-381l3 91l1 41l0 71l-2 7l0 19l-23 20l15 7l-4 30l-2 0l18 13l-29 18l6 21l1 3l16 17l-3 4l-10 5l-2 3l-1 0l-5 1l8 10l-5 3l8 12l44-315l-3 0l-3 16l-3 66l10 62l-2 4l-9 2l4 26l-18 32l20 14l5 4l0 25l-25 20l0 30l33-329l22 12l-18 11l14 3l-12 27l-9 25l21 2l-18 66l-6 6l20 1l-6 2l-11 11l-3 2l29 2l-19 5l5 32l-5 8l9 5l-2 7l2 1l-13 3l12 0l8 5l1 7l-12 9l6 11l-1 0l-16 6l10 3l-4 0l7 2l12 18l-24 4l48-515l-2 55l-17 66l15 20l-5 76l3 4l5 9l2 10l-1 8l3 2l-21 7l5 43l12 9l-9 0l13 3l-26 6l17 6l9 17l-23 6l20 25l-5 2l-1 6l2 4l-2 11l-12 10l23 8l-5 1l-6 4l3 8l4 6l-22 2l6 1l2 15l8 0l0 9l-14 22l7 21l42-467l-8 6l-5 4l-4 6l14 30l-2 7l-10 102l-8 7l12 17l2 12l0 5l8 9l-17 10l1 3l2 20l-2 15l-5 4l9 4l18 2l-9 2l2 7l-11 13l-5 7l2 0l-5 1l10 10l8 2l-1 2l-12 16l14 11l-16 5l16 9l0 22l-5 6l-12 26l14 13l6 23l26-441l-17 0l19 14l-6 11l9 18l-22 11l21 4l-9 3l4 41l-6 35l9 6l-10 25l15 21l0 1l-7 7l0 6l-5 5l-14 10l25 3l-12 8l11 8l-1 28l1 9l-5 2l-14 4l20 6l-8 2l-5 6l-11 13l11 5l-2 12l9 2l-15 4l24 18l-14 14l-6 15l17 6l-14 11l-11 22l13 4l14 4l-24 14l32-459l14 0l7 26l2 5l0 2l-29 21l15 26l-8 8l17 14l0 4l2 3l-9 2l7 2l-19 28l21 10l-22 5l15 2l-6 4l1 2l-4 1l11 2l8 5l-1 6l-2 2l0 10l-10 2l-16 3l12 22l-4 1l1 24l20 8l-21 7l1 15l-2 25l-3 0l22 8l-24 8l3 6l4 6l-6 3l21 20l-16 23l-4 5l1 8l-1 1l11 6l6 19l-15 2l1 11l-4 27l-2 2l34-439l-4 15l14 1l5 12l-14 21l2 13l15 4l-23 21l3 7l15 22l3 9l-20 11l20 16l0 1l-4 4l-13 15l22 1l-20 5l14 4l-3 1l-6 2l-5 5l13 2l-6 3l3 1l11 8l-9 2l7 4l-13 21l-5 8l20 4l-6 4l-9 6l7 13l-18 6l16 1l-3 2l12 12l-23 0l16 14l-15 1l11 9l-7 3l13 1l-18 9l7 11l5 9l0 6l2 62l21-402l14 20l-5 7l-13 18l1 29l7 4l-8 5l4 9l21 13l-12 1l-13 8l21 5l-11 0l-1 10l-13 9l15 14l-13 3l26 21l-27 1l12 7l15 24l-19 28l19 18l-7 9l8 10l-24 38l0 15l8 19l-3 2l3 14l12 28l23-369l-3 5l-5 0l10 7l0 7l-9 14l17 7l-26 1l12 9l-4 11l7 6l-11 17l6 0l-4 16l15 11l-10 8l7 5l-12 3l-4 13l5 39l7 11l-4 8l14 9l-5 1l-16 14l17 1l-7 13l-3 8l12 21l-13 22l-1 15l-9 4l28 29l25-328l-3 1l2 34l-17 21l4 8l5 5l12 3l-21 13l23 8l-28 16l-1 3l5 25l13 7l-3 9l-11 14l3 8l7 19l-8 3l15 1l-7 19l0 31l-13 20l13 18l8 16l-19 52l38-335l5 18l-7 4l-7 3l26 26l-5 29l-12 2l17 11l-20 7l-8 17l15 77l-12 13l18 1l-19 24l3 4l-2 56l32-273l-3 4l9 14l-6 29l17 75l-13 77l9 18l-2 20l58-225l2 51l-9 90l19 92l34-158"/>
<path marker-start="url(#k16)" marker-mid="url(#k16)" marker-end="url(#k16)" d="M389 1627l0 1l-8 3l38-79l-9 1l7 3l-5 5l6 25l-11 3l-7 9l14 5l-24 29l58-176l-9 5l3 45l-8 9l-8 6l13 14l-6 0l15 2l-15 6l-10 3l14 5l-1 37l-13 1l-3 2l0 0l15 3l12 0l25-351l-1 11l-5 16l-15 26l28 74l-6 16l4 4l-6 47l-6 4l0 3l-15 15l20 4l-17 22l26 30l-27 18l7 4l-7 4l11 12l12 1l-17 22l13 3l2 19l-4 1l-6 2l3 8l-7 10l46-280l-2 13l2 28l-13 3l-1 5l7 24l2 6l-5 27l-3 5l5 2l10 5l-23 3l9 9l13 19l-19 0l12 1l-1 13l-1 7l1 7l5 13l-21 5l17 14l8 1l-2 2l-25 9l11 0l8 7l-11 6l21 2l23-482l-14 175l5 41l1 20l8 51l-11 10l-7 4l13 7l0 10l-1 1l1 8l6 21l-18 16l-1 7l-1 6l13 15l-1 2l-3 3l15 0l-2 9l1 3l-10 12l10 1l-7 1l-14 1l22 0l-23 5l-2 1l0 6l6 9l-4 5l-3 9l16 5l-15 35l49-380l3 29l5 25l-16 13l3 7l-4 15l-4 7l15 40l-13 20l-6 0l-3 10l23 16l-7 4l9 2l2 10l-17 0l11 1l-10 0l-3 8l1 6l-6 9l3 2l3 5l-4 6l12 7l-1 9l-13 1l-3 7l20 0l4 18l-4 4l-13 19l15 6l-22 17l20 33l-8 8l24-466l17 35l5 2l-21 1l5 81l-4 1l-9 41l15 10l-1 5l-13 24l15 3l3 21l-7 15l1 28l8 4l4 5l-17 27l16 6l-18 20l18 0l-21 6l6 10l1 4l11 2l-6 3l-11 3l2 3l9 6l-12 2l22 10l-5 2l-19 23l18 6l0 13l-16 3l34-464l-7 33l11 1l-8 40l8 3l-2 16l16 1l0 18l-24 13l26 4l-16 34l14 0l-22 21l6 3l15 14l-11 8l-11 3l17 4l-9 11l17 4l-21 13l3 9l6 7l-7 1l-5 16l4 16l5 1l-9 15l15 6l-1 13l-13 10l19 12l-14 7l11 28l2 10l-10 9l-8 6l5 1l11 3l-13 2l6 5l13 23l-8 9l21-437l18 47l-4 9l-10 5l-8 9l16 13l-15 20l23 2l-27 16l13 14l14 16l0 2l-14 3l2 6l-2 10l4 8l-11 1l17 0l-7 7l-1 13l-7 5l6 5l-4 5l-12 20l0 3l17 12l-11 28l6 4l4 15l-15 26l3 5l16 2l1 9l-3 0l9 6l-10 2l8 13l-13 3l3 1l-8 0l5 15l-5 17l14 1l-13 12l-3 17l5 7l34-427l1 16l6 10l-8 10l-8 12l6 0l5 15l-10 16l2 3l17 5l-16 25l5 2l3 18l4 12l-14 21l-4 8l6 16l15 2l-4 19l8 2l-19 0l17 2l-26 11l17 6l-13 6l10 3l-7 4l2 5l14 3l-22 18l10 23l12 19l-17 3l-1 1l6 2l0 14l-1 16l-1 37l9 5l2 40l-7 23l20-431l20 22l-14 2l18 3l-22 2l18 4l-9 24l8 3l7 21l-7 10l-5 2l-3 5l5 8l-5 1l8 6l-12 0l18 11l-8 8l-13 15l9 21l11 5l-3 10l-5 3l-19 5l14 4l-7 2l-4 22l15 0l10 25l-25 0l-2 7l0 22l6 11l2 6l9 14l-18 0l26 71l14-371l12 5l-2 7l-6 2l4 19l0 1l9 5l0 5l-17 5l17 2l-21 8l13 11l10 1l-21 0l1 3l19 4l-26 3l2 23l-1 1l13 10l1 9l-5 8l-10 8l2 1l1 0l22 11l-26 2l18 4l-15 2l-3 4l24 6l-7 49l-7 10l16 60l15-257l-11 7l13 0l10 8l-12 2l1 21l12 15l-6 4l-4 7l-7 8l20 9l-28 8l6 3l6 8l8 14l-3 5l-15 22l16 2l-11 14l5 1l-12 28l0 13l26 68l-1 24l19-300l3 18l0 5l11 3l-14 8l0 9l-4 15l17 15l-22 7l0 26l-1 5l23 6l-18 3l-6 23l6 16l14 2l-22 2l5 44l21 8l-18 3l4 2l-1 23l39-227l-5 17l-1 6l-12 0l5 24l-4 45l-4 4l2 8l18 1l-13 49l5 15l-12 11l9 2l-8 22l5 14l4 12l13 11l29-228l-19 6l4 8l1 40l5 22l5 25l-6 42l6 18l6 4l-8 48l15-115l22 6l28-31l-2 16l-12 72l2 98"/>
<path marker-start="url(#k17)" marker-mid="url(#k17)" marker-end="url(#k17)" d="M382 1609l-8 26l6 13l-7 10l42-113l2 16l2 10l-11 2l-14 25l3 6l16 6l-6 2l2 6l-12 5l2 3l41-204l-11 97l-9 8l24 2l5 3l-17 21l6 12l6 6l-3 3l-1 8l4 12l-17 0l5 3l8 3l4 8l5 0l0 10l11-112l19 6l-24 14l21 3l-23 4l11 9l3 8l1 7l1 5l3 7l-7 1l-14 3l-1 2l13 10l-9 7l6 6l9 4l-14 4l24 21l21-309l-16 48l11 24l11 10l-13 52l-10 32l18 3l-10 10l-10 4l3 7l16 10l-17 40l3 8l4 18l-4 34l51-249l-13 20l12 12l-14 1l13 15l-16 19l20 2l-21 103l6 9l-7 1l-2 1l10 4l-9 9l10 4l7 7l-23 8l24 1l35-399l-22 181l12 27l-10 15l4 20l4 17l-8 3l8 12l-13 13l15 7l-9 31l-1 17l5 14l-4 2l3 14l1 1l4 1l2 6l20-425l5 149l-15 1l27 15l-3 33l-14 1l9 9l-2 49l-14 2l-1 10l2 7l14 4l3 22l-12 16l20 26l-17 2l-2 4l11 15l-9 4l37-389l-2 58l-3 104l12 69l1 2l0 5l-25 2l24 22l-23 9l2 4l0 7l5 2l-2 42l4 3l15 2l-15 1l-6 13l14 5l3 37l-19 22l-3 11l43-447l5 8l6 34l-6 12l6 2l-12 4l6 16l-7 12l15 34l-10 3l4 29l6 4l-7 22l-15 53l23 15l1 1l-19 8l3 2l-9 11l11 4l-5 0l19 9l-16 5l3 20l-10 10l-2 2l17 1l-7 2l5 10l-10 10l-2 5l14 17l-4 12l12 40l-18 2l-3 5l-1 9l2 8l27-437l15 20l-11 16l16 20l2 24l-17 9l-5 2l-6 0l12 2l5 3l-13 8l21 15l-22 1l12 57l-6 6l19 34l-22 16l14 4l-14 0l-6 0l14 19l4 15l-13 1l24 1l0 29l-3 13l-21 3l-3 9l-1 13l28 3l-8 10l-18 41l36-390l12 35l0 18l8 29l-4 13l-8 2l9 8l-5 23l-16 7l-1 1l25 1l-15 45l5 18l-7 23l13 4l-10 22l9 11l-7 6l-8 33l2 25l13 2l-1 2l-3 2l-8 1l-2 16l-1 10l21-346l21 29l-11 10l-10 0l17 9l0 10l6 7l-10 1l11 8l5 7l-10 23l-15 22l0 14l5 3l-9 14l11 7l-7 3l-2 15l26 0l-13 3l-4 1l14 7l-22 14l-2 5l19 2l5 14l-12 9l0 2l13 10l-24 10l17 4l-17 1l18 2l6 14l-8 0l-1 2l-6 0l11 3l5 4l-17 3l18 5l-22 77l2 29l22-371l27 21l-19 6l20 12l-6 27l-3 2l-14 5l12 7l9 31l-16 3l17 10l-14 8l11 34l-15 4l17 2l-6 25l-14 17l15 10l-10 3l15 16l3 5l-8 16l5 30l3 1l-27 40l51-331l1 10l-23 6l22 36l-9 1l10 23l-3 2l-2 4l-9 1l-5 5l11 11l-5 14l-5 2l9 15l2 13l1 3l-5 2l-13 0l22 6l-7 12l-14 16l1 3l23 2l2 4l1 1l-26 39l5 11l7 16l-5 31l38-245l6 4l-16 0l7 75l8 17l-13 5l12 3l-15 27l23 13l-26 38l22 24l-25 1l12 78l38-293l-14 2l-4 32l13 15l3 21l-12 12l16 18l-9 48l9 3l-18 7l1 19l11 29l-16 10l34-198l1 19l23 18l-13 5l-1 82l3 63l-1 23l42-181l-28 8l3 18l13 0l-9 90l-5 131l84-127"/>
<path marker-start="url(#k18)" marker-mid="url(#k18)" marker-end="url(#k18)" d="M344 1659l-2 5l44-49l0 15l-10 3l9 10l21-73l1 0l7 8l2 5l-11 4l1 0l2 15l6 14l-8 1l-6 1l-6 20l48-72l5 4l-11 17l12 9l-27 1l11 2l24-159l14 51l-19 10l2 9l24 3l-17 29l6 1l1 4l-14 1l24 0l-19 5l9 1l5 2l-14 1l-3 0l-4 5l9 2l19 0l-5 1l-13 0l2 0l16 5l-15 23l3 7l-10 1l22 16l-24 3l5 6l30-255l7 43l10 29l-2 13l-3 4l-14 23l-1 49l22 1l-25 7l24 3l-16 6l-2 0l1 3l14 17l4 10l-17 14l1 7l40-333l-7 219l6 8l-4 6l6 16l1 4l-21 9l4 6l0 4l6 0l4 3l-2 7l13 5l-14 14l6 8l-13 6l-1 1l-6 1l6 19l40-293l-16 86l11 64l11 17l-13 25l15 3l-6 6l4 20l-4 6l-6 28l-3 7l31-130l-7 7l20 6l-16 15l3 24l-7 35l-3 10l1 8l20 12l-17 11l28-244l24 22l0 32l-22 7l-5 12l24 18l-24 34l27 10l-21 13l9 1l5 8l-12 8l7 7l13 11l-28 5l14 0l9 27l-4 18l-3 11l25-307l17 22l-13 20l-6 18l0 30l17 36l-11 11l6 27l-7 1l10 12l-18 15l2 10l-5 12l17 10l-8 2l13 3l4 7l-14 1l5 8l-9 1l-11 19l17 2l6 19l-19 7l50-416l-1 89l-8 12l-5 18l-7 18l14 9l8 1l-10 22l-4 37l6 1l8 9l-21 12l21 17l4 5l-17 12l8 15l9 0l-28 13l24 9l-21 1l16 12l-7 2l14 4l-24 6l14 31l-1 8l-10 6l-5 35l34-426l17 0l-13 36l4 7l6 21l9 13l-14 6l-6 3l1 3l14 1l1 34l-22 13l11 30l11 12l-17 21l3 12l-3 5l0 15l21 4l-14 11l4 46l4 7l-10 6l-6 6l17 49l-10 9l13 21l-8 14l-7 7l33-402l0 62l0 18l-9 21l14 40l-7 32l-1 31l3 19l4 13l-1 8l-17 1l7 29l-7 20l10 12l-6 41l-4 15l17 23l4 11l9-374l0 1l0 9l17 6l-13 1l5 25l11 7l-20 8l9 48l-9 10l11 18l4 4l1 1l-11 23l17 34l-19 4l12 2l-11 19l7 12l17 5l-11 12l10 8l-15 29l3 5l-3 0l12 9l-16 9l9 12l-16 46l30-370l9 8l-10 17l25 19l-7 58l-17 3l27 5l-10 25l5 14l-19 21l-2 2l21 5l-18 10l4 5l3 8l-5 10l9 9l-13 16l19 10l-22 36l2 11l23 23l-14 32l31-350l9 18l3 2l1 28l-16 14l6 9l-12 14l7 48l-7 24l25 7l-20 47l16 8l-22 14l20 4l-5 10l8 19l-6 3l-18 18l25 18l18-264l4 3l-9 4l11 5l-8 11l15 13l-11 11l9 1l-9 0l-3 2l1 9l8 66l3 3l-7 32l-15 20l7 63l15 42l17-210l17 2l-22 5l14 18l-3 18l-13 4l-5 23l8 35l19 31l-20 20l13 12l37-202l-7 13l-17 153l27-112l22 5l-15 62l9 8"/>
<path marker-start="url(#k19)" marker-mid="url(#k19)" marker-end="url(#k19)" d="M327 1658l21-13l-15 9l56-35l-4 6l-11 8l29-52l16 15l-10 3l1 0l9 1l-6 14l-20 5l0 23l50-80l-17 33l4 22l14 5l-12 8l28-140l-6 4l5 22l13 37l-17 9l10 30l2 8l-10 29l41-148l-7 96l-8 11l-2 12l11 7l-6 14l35-102l-5 9l10 15l-8 8l8 11l-6 4l6 26l-10 6l28-152l6 38l13 6l-10 27l8 3l0 6l7 17l-20 4l38-252l4 37l-2 39l11 102l-23 19l-5 2l16 18l-5 1l16 14l-6 10l-12 19l-8 20l36-132l-2 43l21 26l-15 10l7 8l-14 1l52-358l-21 56l22 23l-17 87l-5 23l-5 10l-1 6l8 7l14 37l5 2l-16 41l5 3l-8 12l-5 27l14 25l-17 3l59-301l-6 28l-3 19l8 90l-28 7l6 26l15 51l-9 9l-12 1l4 32l10 40l0 2l0 13l37-445l6 21l-12 88l5 14l-3 75l-9 143l-7 9l17 18l-3 17l11 2l-25 4l10 0l5 3l-12 6l28-384l2 8l6 28l18 53l-3 16l-7 104l-13 71l7 17l3 1l12 17l-18 28l14 1l0 5l3 6l-16 11l8 8l2 5l6 20l29-374l2 14l-22 10l4 9l16 36l-5 5l1 50l-21 20l7 1l6 24l0 3l5 38l9 30l1 52l-19 4l11 9l4 6l-11 48l33-269l-10 8l23 11l-9 9l-7 7l3 47l-3 8l9 3l5 35l-13 9l5 17l2 16l-2 17l0 4l7 23l-7 19l-5 16l35-334l7 29l-26 2l7 1l6 11l-7 24l5 37l4 4l5 7l-14 27l1 26l-4 50l11 22l4 1l3 15l4 4l-16 24l-3 11l0 27l-3 16l33-307l-3 11l21 19l-5 8l-5 1l7 1l-20 31l21 14l-5 10l10 7l-14 10l1 40l0 5l13 9l-21 7l-6 9l2 5l2 9l8 2l1 16l-11 16l16 16l-16 44l37-278l9 13l-17 5l23 20l-15 8l3 0l0 1l15 40l-3 21l-20 22l0 12l25 4l-17 11l3 2l4 51l-11 40l10 11l24-238l-11 28l-1 13l20 13l-17 51l12 0l-9 20l1 75l31-201l-3 56l8 13l1 16l-4 57l16 16l-26 9l40-141l-5 29l17 15l3 47"/>
<path marker-start="url(#k20)" marker-mid="url(#k20)" marker-end="url(#k20)" d="M327 1668l28-30l4 14l-15 6l-10 0l18 3l-16 14l51-61l-14 5l-2 7l9 1l0 22l15-37l3 3l-3 3l10 7l3 8l36-90l-19 35l1 14l14 31l-20 3l27 1l31-74l-21 28l-4 37l23 8l13-61l-1 26l50-139l-4 74l-8 8l10 34l-14 9l-9 0l26 5l-20 5l14 0l22-75l-6 11l-9 24l1 22l5 5l25-85l1 11l26 5l-13 9l4 7l2 28l-1 1l7 5l-8 18l-15 14l29-224l22 15l3 64l-13 42l13 14l-7 16l5 59l5-179l-1 76l6 20l2 18l21 20l-23 24l45-24l-1 18l7 7l17-398l13 162l-10 34l-4 69l-8 118l25-410l22 32l6 185l-11 53l-7 18l-4 20l9 13l-4 5l-8 30l8 22l42-325l-15 9l13 27l7 53l1 44l-16 76l6 23l9 26l-27 7l11 20l3 22l43-319l-23 62l12 22l11 40l-11 65l-11 8l1 9l19 6l-7 11l-13 41l1 4l21 8l-28 7l14 33l-14 8l43-335l16 54l-11 46l-8 5l12 5l-13 20l16 1l0 16l-12 7l8 86l-7 46l5 27l-12 9l11 19l17-317l6 0l-11 69l27 15l-6 11l-2 27l-4 4l2 17l-9 11l7 21l1 13l1 5l-15 55l45-240l-17 0l10 0l13 47l-1 18l-17 50l0 13l3 10l15 12l1 8l-21 15l18 9l-2 8l-14 6l15 50l18-203l8 2l4 2l-17 87l18 1l-17 1l7 11l4 2l10 67l2 5l27-178l-19 86l-3 20l15 29l-8 17l33-127l3 14l7 11l-20 10l10 2l-6 20l16 17l-13 66l-5 26l46-77l-11 2l6 43"/>
<path marker-start="url(#k21)" marker-mid="url(#k21)" marker-end="url(#k21)" d="M330 1651l7 12l20 26l21-42l-7 11l45-57l-19 12l20 0l-11 24l-1 19l41-47l-25 22l36-23l51-29l-28 20l57-76l-5 48l-12 24l13 1l26-24l-11 10l-3 17l79-229l-9 183l3 2l-9 5l49-108l-7 70l-12 22l38-119l9 106l-21 3l13 2l34-66l-20 13l25 25l-9 11l-10 3l27-280l1 88l11 135l-10 47l41-118l-4 28l-3 6l18 2l4-239l8 236l3 18l41-235l-9 25l-4 85l13 7l-8 55l8 69l1 3l-23 41l43-277l0 68l5 1l-19 2l21 8l-14 45l14 73l-20 22l23 10l-24 33l31-291l1 63l25 6l-12 40l-1 39l-13 4l23 2l2 17l0 60l-19 14l16 18l5-108l26 22l-16 9l18 0l-18 6l1 19l7 25l8 3l0 12l31-192l-20 13l9 7l13 31l-9 56l0 34l-6 1l-9 18l0 23l27-176l25 26l-13 1l-10 13l15 11l1 4l0 55l-19 30l40-51"/>
<path marker-start="url(#k22)" marker-mid="url(#k22)" marker-end="url(#k22)" d="M272 1684l66-8l40-21l17-16l8 22l23-113l18 21l-5 44l0 10l4 2l0 9l16-77l15 44l19-11l60-83l-13 88l149-62l-21 21l24-91l20 6l20 12l17 13l48-164l12 119l-28 35l53-144l-1 23l-14 10l18 101l-16 4l12 4l2 3l-1 15l14-215l11 121l-19 26l3 11l15 16l-4 17l21-230l20 3l2 33l-6 7l0 36l-1 0l-5 30l-2 64l-5 20l34-158l8 5l7 11l-13 115l21-140l9 10l8 12l-6 11l-6 18l0 28l-2 12l-8 1l14 9l1 16l2 16l-7 29l30-192l14 24l-6 17l-14 12l0 63l36-49"/>
<path marker-start="url(#k23)" marker-mid="url(#k23)" marker-end="url(#k23)" d="M281 1679l40-10l30-34l-18 23l33 0l53-50l-18 19l11 5l11 6l60-38l70-11l50-43l34 0l70-76l29 27l42-55l50-14l-12 54l4 13l49-270l-27 19l56 98l-15 50l2 57l-8 22l52-203l-28 147l2 4l55-62l-22 3l49-85l-15 154l38-129l-9 13l-9 36l3 35l16 7l20-47"/>
<path marker-start="url(#k23)" marker-mid="url(#k23)" marker-end="url(#k23)" d="M329 1672l-13 13l17-23l-1 3l32-1l50-17l79-58l28-56l-3 46l38 3l1 12l21-18l-5 12l55-24l25-5l60-120l-11 70l8 19l98-179l-13 121l29-287l32 13l8 209l-11 32l43-215l-2 98l-17 18l3 70l2 17l-12 21l15 3l-4 12l-4 7l33-260l4 116l-12 45l2 9l21 1l-13 12l15 1l12-99l-2 29l5 63l6 2l-8 20l34-153l-10 4l20 71l23-38l-6 4l4 60l-4 5"/>
<path marker-start="url(#k22)" marker-mid="url(#k22)" marker-end="url(#k22)" d="M317 1673l-16 6l27 9l14-30l39-23l15-6l3 1l16 1l32-7l-24 0l3 9l46-28l48-37l-10 18l105-122l70 20l-11 53l-13 20l71-173l11 130l36-59l-12 27l6 11l9-15l23 3l10-245l22 151l-5 45l2 24l-6 40l27-250l-12 49l2 169l6 11l20-202l49-51l-4 61l-13 128l33-183l3 0l20 74l-21 54l6 56l32-141l9 9l-4 41l32 59l12-42"/>
<path marker-start="url(#k21)" marker-mid="url(#k21)" marker-end="url(#k21)" d="M286 1691l38-21l-10 3l11 17l5-47l23 21l-10 8l36-37l-9 9l-6 11l41-24l0 7l16-11l53-30l-15 18l20 0l20-43l-15 24l50-70l0 69l33-145l-20 62l-2 58l9 11l40-94l-19 48l16 4l-6 12l8 10l-19 11l0 5l48-62l-12 30l6 6l4 11l-4 3l8 11l25-177l-15 107l11 64l28-184l-2 86l16 46l8-9l18 3l-23 12l0 4l21 4l11-87l24 30l-14 11l14 22l14-139l-1 48l36-218l0 187l8 0l-13 28l6 70l-2 5l0 4l-4 2l46-191l-9 45l-8 0l18 72l-22 13l4 18l9 2l9 1l-3 2l-18 19l7 8l4 9l29-223l-5 21l-9 41l7 18l9 49l-7 3l-4 1l-7 29l19 1l-8 0l15 14l-22 6l48-220l1 38l-12 20l1 5l2 35l12 46l-16 17l-6 23l29-167l3 16l17 43l1 23l-20 38l13 0l2 6l-2 33l10 11l26-135l-5 30l11 41l-13 1l-8 1l-4 7l-3 55l14 11l-9 8l29-187l-4 77l28 3l-24 14l11 44l6 8l9-120l22 45l-20 37l0 32"/>
<path marker-start="url(#k20)" marker-mid="url(#k20)" marker-end="url(#k20)" d="M300 1668l38-6l9 2l39-25l5-29l6 0l11 4l-12 9l36-34l2 22l-13 2l17 13l5 8l8-98l5 62l23 1l-7 2l-20 44l44-254l-13 170l8 10l-9 4l13 3l-13 4l6 4l1 3l6 6l-10 23l-5 7l45-165l9 119l29-80l-11 42l-9 6l8 7l-9 5l26 16l19-129l-2 112l9 7l-19 9l27-92l12 55l-6 12l-7 17l47-476l-17 324l26 66l-12 5l-8 22l20 7l20-183l-10 13l9 31l-12 21l12 3l-1 80l-2 61l13 7l23-250l-5 65l-13 91l7 37l19 22l-6 1l-5 17l11 8l27-411l2 113l-10 99l4 89l-10 5l-4 13l21 30l-5 49l11-380l0 37l18 43l4 4l-2 64l-9 2l8 101l-3 48l-13 10l8 45l-5 4l11 1l30-351l-12 19l16 66l-1 26l-7 62l-2 21l-13 27l0 33l13 20l6 3l-19 54l7 8l-7 4l54-301l-15 17l-4 31l15 12l-17 4l14 3l8 15l2 20l-22 18l16 3l-11 5l8 1l-7 15l-8 67l15 48l-12 12l3 1l6 5l-1 12l14 5l23-323l4 43l2 20l1 2l-23 25l15 13l5 15l0 4l-1 5l-15 8l14 7l0 32l-7 39l-13 5l16 33l-8 37l28-260l9 0l-5 9l-1 8l-3 13l15 3l-21 1l7 26l7 15l-15 35l14 53l-7 6l18 6l-21 5l7 8l-2 4l10 20l24-170l-13 57l26 15l-29 35l17 20l-12 65l13 36l22-204l-3 17l0 12l18 50l-1 10l-14 11l15 67l-22 4l29-76l26 7l-21 45l19 1l27-103l1 35l-20 42l2 0l3 7"/>
<path marker-start="url(#k19)" marker-mid="url(#k19)" marker-end="url(#k19)" d="M326 1662l18-26l-3 7l13 9l32-31l-1 8l-16 3l14 2l-1 2l-12 2l-5 0l22 4l-22 3l6 4l7 1l9 7l31-66l-15 28l8 2l7 0l-18 30l40-117l-20 8l17 15l-12 30l14 11l-7 1l6 7l-7 0l3 12l9 16l22-127l5 39l8 36l-24 7l23 0l-6 3l-5 2l-13 14l23 3l15-128l9 41l3 5l-21 8l21 33l-12 4l-8 4l4 15l-7 12l2 10l56-211l-27 133l0 28l2 12l4 19l31-120l0 47l3 2l-7 7l2 5l16 10l-16 4l23 2l-28 17l44-276l10 56l-1 32l-18 89l-4 12l13 51l-4 8l0 16l7 3l10 13l4-227l0 149l18 15l-9 8l11 9l-17 9l-4 12l52-171l-16 1l6 10l11 7l-21 4l23 22l-11 26l0 45l-2 29l-7 3l16 7l-3 2l1 8l-7 4l18-397l26 62l-14 130l7 1l-10 14l11 11l-15 1l2 17l3 11l5 22l-1 47l-2 2l-6 7l11 1l6 5l-16 5l17 2l-25 28l24 28l-18 1l1 1l52-430l-28 89l26 38l-2 43l-16 25l16 57l-9 15l3 30l-16 1l2 11l12 28l-8 17l5 8l2 34l4 23l19-412l12 32l-1 33l-12 14l4 6l7 14l-9 23l6 77l6 82l-3 13l-11 1l13 25l-5 68l41-310l-3 19l-23 8l10 13l7 41l-3 5l-1 95l-2 6l10 34l-17 5l14 28l-8 9l0 7l17 2l-21 3l-4 1l2 13l7 7l40-348l4 10l0 7l-23 25l14 60l-11 1l16 40l7 17l-11 9l-10 32l0 10l5 13l3 26l-6 9l19 0l-25 45l-4 1l10 4l16 18l18-298l14 30l-10 3l-6 4l6 3l-7 1l15 12l-16 12l-9 13l0 17l9 1l13 4l6 27l-13 1l-5 41l6 10l-9 1l18 31l-2 19l-6 1l-13 6l5 3l19 0l-3 60l5-301l12 21l-3 9l-9 4l6 12l6 39l12 6l-1 6l1 5l-1 4l-15 5l9 8l-5 15l10 11l-5 9l1 2l-4 18l-13 8l25 30l-10 12l-10 45l-7 14l37-232l1 34l0 16l-1 20l-2 17l7 3l-2 19l10 33l1 35l-10 12l0 16l-8 48l38-243l16 1l-21 1l15 17l-16 5l13 33l0 27l-9 5l7 3l-9 15l10 10l9 24l-23 80l36-181l9 43l-13 19l12 35l41-66l-9 13l37-24l-14 6"/>
<path marker-start="url(#k18)" marker-mid="url(#k18)" marker-end="url(#k18)" d="M327 1657l-2 11l51-48l-3 10l6 1l-6 12l12 2l20-72l-1 4l9 1l2 2l-7 4l-9 12l12 5l7 5l-17 3l-9 5l11 3l-1 12l-6 5l-6 4l38-101l17 10l-6 13l8 1l-24 2l20 1l-16 4l7 7l-2 6l-7 3l24 12l-6 2l2 1l-22 4l12 3l11 10l-10 0l-6 2l8 11l5 23l26-160l8 7l-2 28l-1 14l-9 10l13 15l-22 1l1 0l19 3l-23 8l15 12l-9 6l-3 9l13 2l-4 7l-5 10l20-170l9 28l19 56l-18 2l-4 16l5 3l2 4l-4 4l9 12l-14 10l11 24l33-283l-18 137l11 2l5 31l6 45l1 10l5 2l1 3l-10 29l38-213l-13 6l-6 23l11 19l-9 11l-8 68l9 5l8 9l-7 0l1 1l-9 24l7 0l-5 7l1 3l4 3l14 12l-13 1l47-280l-26 162l9 22l-5 2l20 1l-20 0l4 35l11 10l-16 1l-2 0l17 7l-5 0l-2 5l-11 3l-3 19l3 8l3 7l23 5l-1 5l30-360l-15 122l-12 21l0 2l2 3l20 3l-3 5l-4 4l3 26l6 3l-14 3l13 14l3 8l-21 11l-3 32l3 8l2 5l11 16l-9 15l-1 12l-6 26l-2 3l6 16l28-503l24 73l-19 42l6 1l3 14l-15 198l10 9l8 8l-3 2l3 52l2 1l-15 32l18 10l-13 21l6 10l-20 25l37-375l11 27l-4 66l-7 37l-2 3l24 1l-23 13l11 13l-3 9l-7 21l12 2l-13 18l20 10l-11 13l-1 7l-1 5l9 10l0 27l-1 3l-20 10l10 6l-9 13l14 5l0 43l35-435l-18 24l25 15l0 20l-21 15l6 3l-7 6l7 8l1 28l1 12l-11 12l21 45l4 10l-17 16l11 1l-15 16l6 45l3 8l-9 4l-4 22l19 0l-3 31l-20 0l29 30l5-371l-1 3l5 8l9 42l-4 21l9 1l-1 6l-12 14l-4 1l20 3l-12 47l-5 14l-4 9l10 2l-13 2l4 5l24 13l-4 15l-24 17l18 17l-6 23l11 11l-13 9l10 7l-7 7l7 14l-21 18l1 3l23 11l-4 13l-6 15l9 13l-23 8l5 2l53-371l-13 1l0 6l3 48l-12 45l13 28l-17 22l17 5l-14 16l21 4l-11 13l8 7l-3 2l-8 10l2 10l14 6l-4 3l-17 53l0 13l15 29l-8 24l-13 4l21 11l-8 5l21-374l-3 15l23 4l-7 6l-6 25l15 2l0 41l-6 3l-18 34l-2 6l11 2l16 14l-6 0l-10 0l-9 14l25 1l-2 1l-10 2l1 5l-5 6l0 1l4 7l-4 5l-10 18l3 29l7 4l-10 33l9 0l27-237l13 4l-21 14l11 0l5 3l13 3l-4 4l-14 9l15 1l-2 12l3 39l-2 25l-23 3l21 13l-9 15l1 18l-1 0l11 8l-5 24l-8 17l2 23l7 27l5 12l0 14l-10 25l22-329l0 9l12 24l-17 6l24 18l0 21l-8 29l-12 64l1 28l28-182l1 25l-4 25l24 16l-13 29l14 12l-5 5l-13 2l5 20l7 4l-18 43l-4 4l1 4l22 2l-8 8l-14 12l26 33l-8 12l39-208l-10 16l-8 6l2 40l-8 10l-2 20l2 46l26-141l4 8l7 81l32-52l-6 25l16 28l10 51l7 8"/>
<path marker-start="url(#k17)" marker-mid="url(#k17)" marker-end="url(#k17)" d="M307 1680l51-34l-9 26l12-24l20 4l32-69l6 6l-28 8l2 4l6 3l-3 7l22 2l-4 7l28-176l6 103l-16 5l-6 9l-3 1l7 14l-3 0l16 21l3 30l15-195l6 1l3 100l-20 20l23 6l-17 3l-6 0l11 10l1 5l-10 1l-1 1l21 5l-7 5l-1 9l-2 1l10 1l6 2l-25 4l-3 5l0 28l31-213l25 2l-12 7l13 31l-4 6l-20 24l23 10l-13 5l11 23l-23 2l3 2l19 2l-19 2l25 26l-3 1l-24 40l19 32l25-302l5 6l0 27l-12 6l16 22l-13 39l3 64l1 1l-8 8l-3 9l-5 5l20 5l5 1l-6 10l1 16l-13 7l4 13l26-493l3 178l13 114l-11 7l9 13l-19 25l8 38l1 4l-6 10l16 3l8 6l-24 5l3 23l3 10l17 1l-28 2l22 27l-8 3l4 15l12-255l2 10l2 20l20 3l-22 12l6 27l15 14l-19 8l21 0l-18 14l10 5l-3 7l-11 7l23 10l-24 4l17 6l-15 2l11 1l13 0l-14 3l1 6l-6 15l20 17l-15 1l-6 10l20 2l-17 11l14 30l-22 2l24 1l-15 5l21-387l-3 139l3 22l22 8l-10 5l-4 9l9 12l4 19l-8 20l-13 4l12 14l5 6l-11 14l5 3l6 17l-16 0l3 1l3 0l19 6l-9 4l-9 13l7 6l-1 2l-17 15l2 5l-1 36l35-481l10 45l-4 34l-1 18l7 46l-9 10l11 4l-9 1l18 5l-25 1l21 13l-13 11l8 20l5 48l2 21l-7 4l-12 18l9 8l2 4l-7 7l0 9l17 10l-10 9l-16 5l12 33l0 3l8 26l-18 0l12 1l1 2l11 8l-24 5l5 1l5 38l36-441l-10 24l-7 87l24 13l-12 27l-9 11l6 3l-11 11l18 1l0 2l-8 4l1 13l-13 0l14 6l8 3l-14 14l-4 3l15 0l3 1l-14 5l0 5l3 0l10 4l-21 1l15 17l-13 8l2 19l6 4l-4 2l13 7l-1 0l-3 4l-12 4l6 5l-4 3l-3 11l22 3l-14 13l-4 16l7 10l10 3l0 35l-12 14l-10 26l40-440l2 40l15 12l-4 2l-17 1l-4 20l0 1l13 6l-14 25l9 17l-1 1l-4 22l8 30l3 5l-4 6l-3 22l12 2l-20 4l9 0l-9 3l17 11l-4 27l10 7l-18 9l17 4l-17 6l3 17l-5 18l10 10l12 50l-22 7l-2 5l52-394l-10 35l7 20l-1 1l-9 1l8 12l-4 15l-6 14l19 13l0 4l-12 15l9 4l-24 6l26 16l-16 14l12 4l0 5l-4 1l-13 0l19 2l-20 41l4 4l-5 12l8 0l15 24l-17 10l-10 22l9 1l0 27l4 8l0 87l45-378l-21 8l-1 23l10 2l-5 10l9 10l-9 19l-3 0l8 6l7 18l-21 19l21 7l-15 22l-8 0l7 1l-8 15l28 19l-27 22l2 19l12 4l0 31l-6 13l10 4l-19 5l28 32l-16 0l-3 16l-4 14l54-313l-1 7l-17 11l12 3l-13 4l8 4l-11 17l-7 1l6 26l5 23l17 14l-13 11l-11 1l13 16l5 19l-1 23l-10 10l2 21l3 1l-14 16l22 5l2 10l-15 8l33-275l2 5l-9 39l12 0l-19 63l22 26l3 18l-7 0l8 16l-18 9l-2 47l-3 115l35-316l11 18l-10 8l17 11l-6 23l1 36l4 42l-7 0l-11 6l4 4l8 8l6 28l-14 23l23-178l6 37l-7 46l23 15l-22 1l27-37l9 29l12 14l-3 59l-18 6l58 10l-25 66l37-90"/>
<path marker-start="url(#k16)" marker-mid="url(#k16)" marker-end="url(#k16)" d="M384 1634l35-60l-7 12l-13 8l20 11l-15 1l-11 7l49-161l-4 11l10 14l-2 3l-7 3l-2 25l-5 8l5 9l-6 10l-5 9l2 3l-6 1l23 6l-11 22l-10 2l15 11l9 2l-7 0l2 7l-23 4l23 7l13-336l9 64l12 69l-11 38l12 17l-1 3l-12 12l14 31l0 12l-25 4l25 3l-17 1l-5 11l11 1l-14 7l8 2l4 2l8 1l-18 8l9 9l12 5l-25 12l15 6l2 2l-9 2l49-228l-16 1l-9 29l15 44l-16 8l14 1l-6 1l-11 0l15 0l-1 3l9 23l-13 2l12 14l4 1l-8 1l-14 0l12 21l1 20l-15 6l1 2l1 1l7 6l-7 53l39-333l12 21l-10 7l14 5l-19 34l6 31l-7 12l-9 18l22 16l5 10l-1 31l-18 13l0 6l16 11l-7 8l-1 7l-15 9l7 13l17 0l-2 33l-22 11l28 2l-11 2l2 14l12-451l12 80l-2 19l-8 41l2 3l10 12l7 7l-11 4l-2 27l-9 19l20 10l2 9l-13 2l16 7l-12 4l1 10l3 7l9 3l-17 2l2 6l1 13l3 27l13 2l-3 9l-18 1l1 2l7 12l6 6l-14 1l1 1l-6 3l1 26l22 3l3 1l-23 54l45-478l8 38l-6 33l-8 6l11 15l-4 9l-1 16l-11 32l18 11l-12 15l-4 8l9 17l-18 3l-2 34l2 10l25 0l-3 6l-6 14l-2 4l-14 4l-3 2l26 4l2 5l-23 3l2 10l-3 4l9 4l-12 23l22 6l-22 2l2 30l3 6l23 15l-1 13l-20 3l0 16l0 2l9 24l-3 9l3 8l22-473l13 13l4 23l-4 19l3 10l0 66l-1 15l-14 22l-8 2l16 12l-1 18l-15 6l15 2l6 25l-20 6l5 1l-5 21l24 8l-6 3l-12 11l7 1l-2 6l-3 23l11 2l-19 2l12 20l13 15l-11 3l-6 9l-1 2l-1 5l17 18l-17 29l-4 2l9 28l-3 5l33-453l13 7l-20 8l17 18l-12 5l-5 15l1 5l18 3l-12 17l-1 9l-13 2l27 1l-21 2l0 1l19 5l-6 3l9 17l-6 2l-15 7l11 16l-11 9l22 0l-2 12l0 32l-20 4l5 4l4 3l-1 5l5 30l-15 9l16 6l5 15l-14 17l-1 2l10 5l-11 1l-2 4l-5 15l20 6l5 11l-20 16l17 5l-19 9l21 8l-14 5l14 19l-3 4l-5 20l3 27l17-442l-2 12l-5 6l-2 5l3 12l4 7l10 1l-11 7l13 6l4 10l-6 8l2 2l-14 4l11 5l-16 23l1 6l17 7l6 29l-10 1l11 0l-24 7l27 1l-21 15l20 5l-12 20l-7 0l3 4l-11 7l10 6l16 1l-24 7l16 0l-9 8l18 15l-10 29l-6 1l4 7l-7 7l-8 4l12 11l11 9l-11 2l7 1l5 1l-9 8l-8 4l-3 3l11 4l14 22l-13 7l-1 15l-6 1l13 12l-1 8l-13 6l1 9l-8 6l51-384l0 3l2 10l-21 8l7 19l1 3l10 1l-12 5l8 30l-3 4l-6 0l9 3l9 20l-8 25l-13 0l15 2l-5 2l-11 2l20 2l4 7l-18 10l5 7l-15 0l28 4l-13 12l1 8l-15 3l-1 6l20 1l0 8l4 17l1 1l-21 1l12 1l1 8l-15 2l18 22l-14 2l16 10l-7 38l7 28l-19 26l5 2l16 23l35-398l-27 41l7 0l19 3l-12 6l-9 6l7 5l-11 19l7 6l3 30l10 4l-10 16l1 10l3 1l0 0l-3 7l4 6l-1 3l-6 4l18 0l-4 8l-21 9l-2 22l27 31l-12 7l1 1l-8 4l0 6l16 3l-21 3l-3 5l25 37l-15 20l8 17l11-323l12 17l4 4l-11 17l22 6l-23 16l23 2l-1 1l-16 5l13 6l-6 10l3 1l1 5l-18 14l-4 6l10 5l-3 5l11 29l-4 2l-13 7l14 18l-14 29l7 1l16 26l-19 58l16 7l4 28l-2 20l18-325l-5 7l18 5l2 33l-21 12l13 18l-3 17l8 7l4 41l-8 24l-10 21l2 77l-6 53l54-242l-27 35l5 38l-3 6l6 22l-2 17l-3 0l-3 11l-1 12l7 11l-1 3l22 29l29-229l-1 113l23-67l7 95l23 17"/>
<path marker-start="url(#k15)" marker-mid="url(#k15)" marker-end="url(#k15)" d="M379 1643l-5 4l45-67l0 3l27-268l3 51l-3 78l3 5l-12 2l9 38l-19 2l16 6l1 2l-10 3l8 1l0 15l-11 9l-5 0l6 8l-11 0l17 15l5 14l-18 14l22 4l-8 7l-8 6l-4 2l51-341l1 108l-3 27l-2 4l-6 0l6 6l-22 15l8 9l7 0l-17 6l28 10l-13 8l0 21l-11 4l14 7l-5 1l10 5l2 4l-11 2l-12 10l18 0l-3 0l5 16l-7 2l-7 7l12 27l-10 2l2 2l-9 3l11 4l-7 4l10 2l3 6l-18 18l48-493l-19 38l1 103l21 77l1 5l-19 8l7 4l1 2l1 1l-2 16l5 17l0 33l-6 2l-1 4l12 10l0 4l-2 8l-3 2l-14 2l5 10l-8 5l21 3l-2 2l-11 4l20 3l-22 4l-2 13l7 15l2 7l-8 0l9 3l10 5l-8 16l11 12l-21 4l6 4l12 23l24-514l8 129l-6 22l2 9l-16 6l-6 7l15 25l10 3l-25 3l28 38l-8 20l-12 9l20 9l-24 20l19 5l-2 1l-18 25l-1 2l13 1l-1 5l-6 8l4 5l-7 14l24 11l-26 6l3 12l3 3l-4 1l5 5l3 3l-2 12l5 1l6 4l-16 2l20 2l-12 22l-5 45l48-417l-20 20l-1 39l17 12l-19 40l3 15l13 13l5 3l-4 7l4 2l-23 9l25 3l1 47l-4 5l-22 25l0 4l3 11l7 2l14 2l-1 0l4 1l-20 11l6 1l-3 10l3 1l10 12l-9 11l8 17l-20 18l5 15l-2 1l19 27l-9 12l-8 2l35-469l-3 17l-4 42l7 9l-4 14l8 7l-10 10l4 3l9 20l-13 20l11 9l-1 38l6 12l-16 18l20 2l-20 4l4 6l1 8l0 8l6 10l-6 8l10 23l-14 5l-7 2l24 5l-3 2l-20 42l-2 17l17 8l-4 5l11 5l-7 2l-1 0l-4 10l0 38l-4 34l14 14l30-462l-7 7l-9 0l22 10l-2 21l-22 0l0 7l10 7l7 6l-19 8l9 27l8 24l5 13l-24 7l0 29l27 4l-18 1l14 1l-4 21l-7 1l15 3l-11 3l-9 3l16 5l-9 3l-7 12l-7 1l25 1l-22 3l4 9l-2 24l4 2l18 5l-23 13l0 0l-1 4l8 8l-8 2l13 2l-2 11l-14 2l21 4l-2 10l-17 14l26 40l-13 18l-6 17l-6 1l50-408l1 30l-22 0l19 18l-1 10l-19 3l9 2l11 9l-15 23l12 5l6 48l-17 3l14 6l-8 7l3 15l12 4l-6 16l-6 7l-3 1l8 7l4 1l-4 30l-20 5l5 3l9 2l-6 5l-10 4l5 7l4 2l-9 1l1 12l18 5l0 6l10 3l-22 33l15 5l-15 31l-7 1l7 11l21 1l-18 7l4 10l9 14l-10 36l37-446l-20 22l5 14l2 4l16 2l-7 5l-6 14l5 6l-12 14l12 8l14 2l-22 1l3 20l-8 7l18 20l-2 10l-11 22l17 3l-4 1l-1 3l-3 1l2 0l0 9l-3 6l-15 18l2 22l-1 7l5 8l6 2l3 3l-7 67l1 29l-8 0l14 1l1 14l-8 28l47-385l-19 34l1 2l21 2l-19 20l-8 23l8 16l20 39l-22 2l9 7l8 10l-5 5l9 99l1 7l-20 31l6 40l9 0l4 1l-12 2l32-296l-17 1l12 7l-8 19l-2 0l-2 1l3 11l4 5l-3 20l-3 1l6 7l14 1l7 2l-6 4l-1 4l5 9l-7 13l-8 18l-1 10l-11 5l12 2l-1 38l1 8l-12 19l29 29l-18 9l-7 75l-1 29l45-340l-15 59l5 12l-4 6l16 4l1 1l-6 23l13 14l-14 0l-1 71l-3 1l4 68l27-252l-8 15l18 4l-20 22l1 19l27 6l-3 37l-13 4l2 60l34-173l-17 8l1 207l12 0l-1 16l-1 2l33-187l15 125l32-23"/>
<path marker-start="url(#k14)" marker-mid="url(#k14)" marker-end="url(#k14)" d="M374 1637l40-83l7-429l21 137l4 9l-7 10l-2 157l-1 24l-8 1l3 22l14 8l-14 21l11 19l0 4l-13 1l6 0l-2 8l15 3l-18 4l-2 6l1 3l-2 8l-2 3l4 15l8 10l-2 12l28-381l-7 37l21 19l-3 29l-19 0l7 38l-3 42l-5 35l25 2l-13 30l-5 10l16 21l-5 11l-13 6l-4 1l-1 13l16 10l-10 2l5 13l-15 8l2 8l48-431l0 39l-7 35l-12 30l-1 32l3 12l1 7l20 0l-13 16l4 2l-6 3l7 5l5 11l8 7l-12 21l1 3l-16 6l19 8l-5 4l6 4l-2 1l-19 2l27 1l-2 9l-22 2l19 7l-2 3l0 10l6 4l-5 1l-14 2l2 3l13 2l-2 2l-18 4l-1 0l18 2l7 4l-1 43l2 4l-21 8l14 17l-18 8l22 3l-6 2l-7 5l6 1l-18 12l28 4l-15 7l33-487l2 1l-15 24l8 25l9 40l-20 3l7 12l22 0l-16 13l4 18l7 6l-3 1l-3 19l0 28l1 5l-7 2l8 6l-9 4l-5 1l17 4l-1 1l-9 15l11 15l-15 8l4 4l4 1l-13 12l18 11l-12 18l-2 8l-1 34l20 3l-13 3l8 38l-8 3l-8 6l10 38l-8 12l28-447l21 15l-9 8l-9 29l-2 16l21 8l-6 4l3 11l-6 2l-3 12l-6 2l12 10l1 2l-8 26l-12 6l16 1l-13 32l11 1l7 19l-13 1l2 14l12 1l-7 1l-3 6l6 2l-10 9l6 8l-1 11l-9 1l0 11l22 14l-16 0l1 2l12 12l-12 10l7 6l-4 20l7 6l-14 8l-2 8l-1 8l-2 1l-4 5l12 30l-2 17l2 1l15 3l-18 0l16 3l-2 2l-20 8l18 26l9-439l2 5l23 11l-13 8l16 30l-15 16l-7 6l12 3l-12 1l-4 2l7 7l15 9l-12 2l6 49l-16 4l15 2l9 2l-16 12l3 5l-4 3l15 2l-12 12l8 3l5 1l-9 25l1 4l9 2l-15 9l8 2l4 0l5 4l-28 5l13 7l14 0l-20 3l20 8l-20 2l3 1l9 7l-15 1l0 11l22 15l-9 8l11 1l-8 7l-4 8l-4 10l9 13l-10 23l3 17l-13 1l9 11l6 33l-11 17l-2 9l20 20l10-480l5 12l-6 4l14 10l-12 28l20 17l-8 13l-14 9l0 2l11 5l7 5l-5 8l9 6l-2 3l-13 6l-4 2l23 9l-19 4l-7 4l10 1l-10 11l10 1l0 6l9 1l-6 2l-7 8l-8 2l1 9l1 1l13 4l-6 2l-7 0l22 4l-11 9l-3 18l13 5l-10 4l-12 7l3 10l5 5l0 2l19 1l-20 5l-1 15l7 20l-8 17l-1 5l13 7l-4 7l1 7l11 7l-19 14l10 16l-9 2l29-383l0 22l3 5l-11 11l14 13l-1 3l8 14l7 1l-24 15l15 2l5 2l-8 1l0 3l13 22l-8 3l-2 3l-17 44l18 8l7 21l-17 9l19 34l-21 8l14 3l0 31l-12 3l-7 27l8 1l0 3l4 0l8 17l3 23l-8 23l-8 10l4 21l23-381l-4 6l2 0l10 8l1 3l-8 5l-5 4l26 7l-22 11l-4 7l25 10l-25 16l13 5l-2 12l5 19l2 25l-17 4l-2 13l25 7l-8 7l9 16l-10 8l-2 1l-11 25l-5 12l1 8l15 12l4 43l-5 74l17-355l4 1l0 4l9 4l-5 23l2 2l5 13l4 28l-15 3l23 15l-11 16l-13 4l13 10l-14 30l19 26l0 12l-4 18l-15 5l5 39l10 57l-12 55l27-359l21 49l-20 19l22 19l-26 51l16 28l-1 1l-1 35l-11 8l21 69l-10 16l18-288l4 53l-7 52l7 27l14 3l-18 34l15 14l-1 17l12 71l7-272l3 22l3 22l8 50l7 64l3-93l27 53l8-31"/>
<path marker-start="url(#k13)" marker-mid="url(#k13)" marker-end="url(#k13)" d="M413 1523l2 26l4 37l18-372l5 50l4 48l-6 0l-3 11l10 91l1 28l1 26l-19 11l17 5l-16 19l10 6l7 26l-10 3l-8 2l48-372l-10 63l3 1l-4 5l3 11l-2 11l9 7l-26 4l13 25l-12 15l21 10l-2 1l6 3l-1 5l-18 3l15 7l4 13l-19 2l-1 0l15 13l-7 9l8 2l-16 3l7 9l2 15l4 7l-7 7l0 8l-13 10l4 12l8 8l16 6l-22 3l-2 1l20 7l-21 4l19 33l-6 3l13 4l28-412l-5 12l-6 22l13 2l-6 3l-5 55l0 11l-18 14l3 23l3 3l14 3l-16 15l-1 1l6 0l8 9l-15 2l13 8l13 3l-25 11l6 6l19 9l-1 1l-4 5l-8 42l6 3l-6 0l3 12l-5 3l3 4l-15 6l11 8l12 3l-4 2l-14 2l-2 2l3 15l0 9l9 8l-10 10l23 19l-4 4l34-395l0 31l-27 4l23 5l-2 16l0 13l-21 4l22 5l-19 0l15 2l-7 13l-8 3l19 6l-11 0l-13 7l24 9l-24 0l6 2l-2 1l13 1l4 3l-12 15l17 24l-20 9l3 24l16 12l-1 7l-8 15l-15 0l1 43l17 10l-14 1l7 4l-6 28l13 4l-3 1l7 11l-20 14l18 0l-18 0l4 8l11 10l11 1l-1 21l-16 11l-7 22l7 42l29-473l-11 18l14 24l7 28l2 1l-20 4l17 5l-4 0l-7 1l-2 5l-3 6l20 1l4 11l-2 2l-16 11l-6 11l8 3l10 1l5 2l-4 2l-19 2l5 10l2 4l13 0l-1 6l4 10l-4 3l-22 5l23 0l-1 9l-8 11l10 5l-17 0l11 4l-4 2l7 10l-10 0l5 13l7 1l-3 36l-10 9l-6 4l6 1l0 1l16 12l-23 14l2 20l9 13l-9 3l18 15l-6 18l21-377l-2 19l17 26l2 8l-12 11l12 6l-24 13l23 17l-21 7l14 6l4 1l-4 3l3 37l-11 12l-9 4l8 1l3 6l-3 2l8 5l-3 8l1 6l13 34l-22 43l-6 15l0 8l23 7l-13 14l17 1l-22 14l2 6l4 11l11 17l-16 9l14 86l17-454l5 4l-12 2l24 7l-13 1l-10 4l0 1l26 1l-12 0l1 15l-3 11l14 0l2 1l-12 26l10 4l-6 2l-1 12l7 3l-24 12l9 16l-9 1l5 1l10 3l-11 4l10 3l-11 0l16 5l-9 3l-3 4l-9 10l5 20l12 12l-10 2l-6 1l19 33l-11 16l-8 5l26 20l-21 16l2 6l-2 18l-2 25l0 17l3 20l-7 12l30-375l14 7l-11 2l0 18l-4 2l13 6l-12 12l17 11l-6 8l0 2l-2 8l-10 31l6 2l19 1l4 11l-29 3l28 15l-16 5l6 4l-6 4l-12 16l11 2l16 8l-15 18l10 18l4 14l-23 3l-2 1l1 1l7 26l1 22l0 2l-7 12l4 32l-6 6l56-319l1 4l-7 10l-19 22l1 4l17 1l1 23l-4 14l12 15l-6 1l-8 25l4 12l6 0l-18 3l8 37l39-142l-11 2l13 9l-20 2l2 47l8 61l1 1l0 99l15-216l8 16l11 4l-20 77l27 53l6-112l16 45l-17 94l51-58l-16 24l14 58"/>
<path marker-start="url(#k12)" marker-mid="url(#k12)" marker-end="url(#k12)" d="M419 1085l-6 512l10-427l13 14l6 11l-9 11l0 3l13 10l2 41l-5 29l6 12l-1 7l-2 20l0 0l1 0l2 11l-10 92l-6 46l1 12l0 18l1 9l30-396l9 3l5 9l-4 14l-14 7l17 8l-14 17l-3 1l-4 24l21 5l-15 4l-4 5l-7 3l4 22l2 4l9 5l-6 2l4 12l0 13l2 14l-17 4l5 12l5 10l16 11l-2 3l-19 8l20 6l-10 8l10 17l4 1l-5 2l-21 5l3 3l0 1l-3 18l1 3l18 4l-22 35l15 7l6 7l-15 6l20 1l-24 15l25 21l-25 26l8 14l25-469l14 2l-15 5l21 8l-11 0l11 19l-25 7l15 5l5 4l7 8l-27 2l15 1l4 1l0 11l-1 15l-10 3l3 1l7 7l-17 0l25 1l0 19l-4 1l-22 1l12 2l3 3l11 6l-6 4l-12 4l11 6l-6 3l13 8l-2 20l-13 2l12 2l-23 1l28 7l-21 6l-1 7l17 0l-14 0l10 2l-16 3l23 4l-12 11l6 1l-11 10l0 1l16 10l-10 1l-15 7l22 5l-13 3l6 23l14 5l-13 11l1 60l9 45l3 58l24-483l-9 6l13 17l-17 1l-10 10l18 12l-13 24l12 2l-15 5l3 2l20 10l3 2l-24 2l9 1l-11 0l25 4l1 1l-6 1l-3 5l5 14l-20 1l5 2l2 9l5 11l1 12l-6 5l-11 5l29 5l-5 3l-11 3l-11 3l21 2l-9 8l-5 4l14 0l-3 14l4 9l-11 18l15 5l-22 4l11 20l-4 23l13 10l-20 8l8 5l4 2l7 17l-12 5l-12 2l2 11l-3 25l25 10l-16 22l28-388l17 1l-9 6l-3 12l15 1l-5 1l-17 10l-3 7l19 11l-18 3l1 0l-4 4l23 1l-17 2l6 1l16 2l-13 2l6 7l-20 4l7 3l14 1l1 1l1 3l-12 2l-2 1l-7 10l25 7l-15 19l-11 6l1 1l4 2l3 5l8 4l-7 19l-8 2l14 28l-6 4l0 0l2 2l-11 12l26 9l-18 14l-7 1l20 2l-6 5l7 0l-17 6l2 2l16 1l-8 6l-12 33l20 20l2 47l-12 26l20-379l11 5l-8 14l0 18l4 6l-7 14l13 13l1 11l5 12l-20 4l13 12l-4 10l-1 1l-1 12l0 2l-11 7l18 4l-17 15l11 4l-2 7l1 36l12 0l-18 2l9 5l1 6l-13 5l15 4l6 29l-5 8l4 13l6 8l-14 30l-14 11l5 8l14 55l18-379l0 7l13 4l-17 8l1 9l-1 1l1 8l9 0l-11 5l6 2l-7 3l18 17l-4 4l-4 14l13 4l-9 32l-7 38l15 6l-15 3l11 2l-8 5l-2 20l10 0l-19 34l22 15l-9 16l9 5l-6 21l-7 9l-9 140l57-418l-27 3l27 18l-19 96l12 39l7 5l0 5l-24 6l5 8l13 14l15-133l1 14l2 34l1 5l-7 2l5 9l10 15l-14 8l8 49l-6 2l17 29l-13 41l37-199l-2 20l-13 29l48-20l19-30"/>
<path marker-start="url(#k11)" marker-mid="url(#k11)" marker-end="url(#k11)" d="M417 1053l-8 155l5 11l-1 33l2 250l29-418l-6 21l8 36l-13 9l-13 56l0 6l16 18l-16 4l10 19l14 10l-7 6l-8 29l16 44l4 3l0 29l-9 61l2 69l28-467l1 38l-3 9l3 1l7 25l-1 1l-2 12l-14 5l12 5l2 4l3 9l-28 28l19 6l-2 1l4 9l-9 10l11 6l5 9l1 6l-12 5l-14 18l11 22l6 3l-2 1l3 1l8 7l-28 7l18 3l8 2l-17 7l9 1l-16 0l10 1l6 2l7 15l-19 1l20 1l-11 9l-11 7l14 8l0 6l-3 31l0 20l8 63l24-439l-14 7l12 43l-14 24l11 11l-9 2l0 1l7 21l1 12l16 7l-1 2l-3 2l3 1l-5 8l5 1l-6 2l6 0l0 9l-10 2l-11 5l18 3l-17 3l22 24l-13 0l-10 20l17 2l-3 2l3 3l-16 5l6 8l-10 9l4 2l17 19l-24 20l28 10l-2 3l-10 33l-13 6l9 9l15 133l13-450l11 4l2 22l-10 7l-10 4l23 1l-19 14l14 7l-9 1l13 7l-11 1l-13 20l10 9l12 9l-22 13l8 1l-6 0l1 3l24 1l-25 10l22 29l-4 10l-14 17l15 4l-22 2l5 16l21 3l-24 16l2 0l4 4l-2 11l16 23l-20 70l10 10l21-351l2 8l10 8l12 7l-3 1l-13 6l3 11l15 1l-21 0l17 1l-19 1l4 1l2 1l-7 4l8 6l-13 7l7 5l22 1l-7 4l-15 6l12 3l8 1l-24 3l15 4l-8 0l-10 25l19 6l-6 0l5 4l-13 14l5 4l18 1l-9 17l-16 36l1 35l18 4l-21 0l6 2l4 15l4 22l-15 8l20 3l-3 44l21-309l20 9l-20 8l10 15l-18 10l17 9l-12 3l3 0l21 3l-26 7l7 2l12 17l-7 0l-9 5l17 3l-18 11l-5 0l12 83l13 23l-22 4l15 41l20-235l12 19l-5 12l4 32l-7 45l1 19l-4 24l-4 66l-4 11l45-182l-3 10l-9 13l0 38l-3 33l8 66l14 6l-8 185l42-381l-23 10l13 29l12 50l-18 12l3 1l6 104"/>
<path marker-start="url(#k10)" marker-mid="url(#k10)" marker-end="url(#k10)" d="M368 1026l21 124l25-80l-8 33l-4 30l4 5l8 17l-1 15l-4 26l9 12l-27 2l26 9l0 43l15-177l2 2l15 7l-16 1l5 2l-12 5l18 22l-24 29l7 9l17 7l-6 5l-8 8l10 5l-6 1l12 12l-6 6l-3 8l5 6l-10 6l-4 5l16 15l-2 7l-5 43l1 19l-1 28l35-313l-6 41l8 0l-10 2l-2 7l4 8l-12 0l-2 9l23 1l-10 2l7 2l-10 12l-6 9l1 3l10 0l-5 1l-1 8l4 0l4 4l-17 8l15 7l-4 5l-11 9l21 19l-5 15l-7 13l4 3l-9 4l8 13l7 14l-6 7l-14 18l24 17l4 6l-7 7l1 6l-4 13l2 5l-5 32l1 6l35-320l2 5l-2 8l-1 20l-17 1l1 5l1 2l4 5l15 1l-15 6l7 2l4 19l2 1l-20 2l16 2l8 13l-22 1l15 4l-4 9l-15 6l7 0l8 3l10 9l3 27l-17 16l3 12l-13 10l10 34l16 7l-4 4l-10 7l-12 7l1 11l22 13l-1 65l7-338l14 2l-8 4l16 8l-2 2l0 9l-6 4l14 2l0 9l-26 9l22 1l-9 3l13 2l-3 1l-16 20l13 3l-16 3l20 0l-17 11l-9 9l5 1l9 2l-4 1l-3 0l4 0l-8 1l22 23l-14 2l-5 5l-3 44l0 3l-1 2l15 16l-3 6l2 84l5 8l-6 3l33-291l-7 11l-6 17l2 1l-3 4l-5 5l10 13l-7 31l7 1l-2 20l20 50l-5 5l-21 2l-1 26l14 43l-11 36l26-260l7 8l-2 28l17 7l-20 10l-2 1l4 5l19 1l-7 48l-15 144l6 17l36-225l13 135l19-114l6 59l-6 9l-12 29"/>
<path marker-start="url(#k9)" marker-mid="url(#k9)" marker-end="url(#k9)" d="M341 1026l28 30l9 13l1 10l6 19l-17 4l1 15l-2 8l19 16l-7 13l2 56l32-187l3 12l-23 12l20 7l-22 10l12 3l-5 1l19 29l-4 16l-21 5l2 0l22 5l-14 4l-7 4l19 2l-13 6l11 18l-1 10l2 1l6 1l-9 5l8 7l-5 4l1 1l1 16l2 2l-2 1l2 16l0 15l26-228l-4 12l7 12l-26 13l23 10l-2 9l-20 3l21 6l-15 8l20 15l-17 2l-6 8l14 1l1 0l5 4l-2 1l-9 0l16 1l-13 17l0 1l5 7l-11 2l7 3l9 9l-12 8l3 2l-17 3l22 1l-9 2l15 3l-23 1l9 3l-6 19l-1 0l10 1l-1 3l-12 8l5 2l17 2l-11 2l5 1l-12 1l0 6l11 8l-7 15l9 9l-2 33l-1 3l11 19l8-274l5 4l-7 4l0 3l8 1l-9 7l21 2l-19 3l13 1l5 2l-15 7l13 13l5 2l-2 2l-9 3l9 2l-17 6l21 2l-26 5l21 6l2 6l-13 7l1 14l12 1l-3 3l-7 4l-10 5l15 4l-17 6l25 5l-15 0l5 1l-9 6l6 1l3 1l-17 1l9 1l-7 10l14 8l5 4l-21 1l3 5l0 16l7 1l-5 0l5 7l17 8l-27 41l8 8l-1 30l12 22l-17 30l2 11l-1 85l28-430l2 4l14 9l-12 2l17 0l-8 4l-3 4l6 1l-18 10l-1 2l11 2l2 5l-1 1l-5 1l-4 5l9 1l-10 5l8 2l-8 3l22 11l-8 1l-9 1l-3 5l1 8l-2 3l9 1l7 2l-8 3l12 9l0 5l-4 22l-2 6l2 7l-6 2l-12 2l11 35l14 6l-14 4l-2 21l0 22l9 54l21-277l10 1l-2 6l-3 7l-9 11l-1 7l9 6l-5 13l16 7l-4 18l-15 19l14 8l0 19l-1 35l-18 7l26 3l-14 16l0 17l2 71l21-259l3 16l4 10l-10 26l3 9l8 68l24-102l-3 29l15 129l-10 7l45-164l-18 126l100-102"/>
<path marker-start="url(#k8)" marker-mid="url(#k8)" marker-end="url(#k8)" d="M298 995l-11 24l21-17l19 0l2 14l0 40l17-48l9 17l-7 7l8 57l-10 11l6 6l0 6l7 12l29-126l-25 4l16 1l-12 16l0 6l20 0l-16 5l17 7l-20 2l3 0l18 1l-19 0l13 28l-23 0l13 13l9 3l-5 11l3 2l-9 11l-5 5l10 32l34-118l-5 1l0 12l6 6l-17 1l-3 7l25 6l-8 9l-9 3l5 0l1 4l5 1l-7 0l-10 3l23 10l-6 10l-16 11l13 2l12 9l-13 7l13 1l-7 3l0 3l-4 1l7 2l-19 2l-2 2l13 2l-12 5l4 3l3 7l2 2l0 6l12 1l-22 4l24 8l-5 2l-13 6l19 8l-21 6l12 1l8 1l-16 7l16 0l-1 1l-14 11l31-203l9 7l-6 4l-3 1l-12 18l16 1l-15 0l5 6l17 0l4 3l-10 7l-9 9l16 2l-5 0l-19 3l0 8l24 1l-17 0l-9 2l26 3l-4 3l1 2l6 3l-27 12l0 2l15 0l12 2l0 8l-2 7l-18 1l12 2l6 5l-16 2l-7 2l15 1l-6 3l3 3l-1 5l-12 10l-1 6l21 11l-3 1l-12 1l7 8l-15 3l5 2l13 27l-5 15l8 7l-13 1l5 1l-10 10l14 20l42-261l-29 7l21 2l6 0l-8 5l10 4l-19 3l18 5l-7 3l-1 4l-10 4l1 1l16 2l-9 1l-8 1l-2 2l9 1l-9 10l15 6l-12 0l-8 3l0 1l-1 2l21 4l-17 8l-3 1l14 1l2 2l-2 1l7 3l-18 1l-2 1l8 1l-11 4l7 2l8 4l-5 0l-9 6l10 3l4 10l-15 24l10 0l4 3l-6 10l-4 8l17 9l-8 3l4 8l-11 4l-4 14l6 22l34-211l-11 4l6 5l9 7l-2 3l9 0l-8 1l3 11l2 10l2 4l-20 5l12 23l-6 5l-5 15l6 1l-9 4l3 8l6 5l-7 6l13 1l6 1l-8 2l-8 2l5 29l-10 27l10 18l16 10l-13 28l3 7l2 122l20-316l-6 2l7 14l-9 21l9 16l15 22l-1 10l11-94l7 4l7 2l1 23l-6 17"/>
<path marker-start="url(#k7)" marker-mid="url(#k7)" marker-end="url(#k7)" d="M294 983l-7 9l-1 10l22-14l7 15l-11 1l21 36l-24 1l23 10l-1 2l-10 2l10 0l12-51l-4 8l10 4l5 15l1 4l3 11l-19 9l8 14l23-64l-1 4l15 3l1 36l2 2l-7 5l11 7l-1 2l-8 2l12 0l-14 4l-3 1l15 5l3 3l-3 1l-4 2l-3 5l-16 0l12 3l-4 3l19 5l-9 2l8 6l-12 2l7 2l2 0l-20 4l24 21l-9 2l3 1l0 4l-16 3l20 3l3 1l-9 2l-14 3l18 2l1 10l-5 8l6 3l17-170l-4 2l-2 0l22 1l-27 9l10 3l7 3l2 2l-6 0l7 1l4 1l-2 9l-22 3l10 0l9 3l7 4l-18 0l5 3l13 4l-26 6l18 3l-17 9l12 2l-4 2l16 0l-18 1l-8 7l16 7l-17 3l10 5l11 0l-21 1l12 0l-11 5l11 6l13 1l-6 1l-16 10l12 1l-5 10l18 2l-18 1l9 1l7 7l-22 0l15 0l1 4l-6 3l13 3l1 0l-23 14l14 5l-12 3l13 14l3 15l0 24l10-207l26 1l-3 3l-25 0l20 6l1 2l-8 4l-12 0l26 1l-26 0l5 5l7 0l12 2l-5 3l-14 0l3 2l2 3l5 5l-17 7l21 1l-21 0l28 6l-20 1l0 2l10 7l1 8l-5 8l15 2l-23 3l-6 1l23 2l-22 3l26 4l-1 1l-1 4l-24 0l11 8l8 5l-3 7l-10 9l17 4l-11 2l15 23l-3 5l-22 6l26 18l-4 11l-16 31l12 10l1 107l36-344l-18 0l-8 5l15 2l-9 3l-8 9l7 3l1 1l-5 3l2 3l21 1l0 5l-16 1l-5 3l2 0l-3 9l-3 1l7 8l20 4l-16 1l9 4l-15 10l-2 1l1 3l0 6l2 3l-4 28l22 14l2 1l-19 15l16 0l-17 3l-1 26l11 14l1 54l-8 4l24-245l2 6l18 9l-22 11l2 6l3 0l2 9l11 15l-17 21l3 11l2 30l-3 9l18 9l-13 1l2 86l18-216l15 48l13 136l18-64l-15 45"/>
<path marker-start="url(#k6)" marker-mid="url(#k6)" marker-end="url(#k6)" d="M288 984l7 2l33-5l-23 3l6 7l0 4l-4 5l4 3l17 4l-20 8l0 0l13 1l-18 8l17 3l-11 1l17 5l1 3l-4 3l0 6l-2 17l25-69l5 2l1 2l-6 2l-9 3l0 7l13 2l-2 3l3 9l-8 1l0 2l-11 1l3 8l10 6l2 1l-16 0l21 2l-14 6l5 2l7 1l-10 6l-1 2l12 3l-8 1l9 3l2 2l-5 2l6 15l-2 8l30-106l-21 6l11 0l7 5l3 5l-14 22l3 3l12 3l-16 1l8 0l-10 1l20 4l-20 5l2 1l0 5l16 7l-1 0l-16 4l-5 7l1 0l0 6l1 15l7 10l-11 4l17 4l0 1l0 2l9 2l-9 1l-4 2l-3 3l5 1l12 0l-21 2l4 6l12 5l5 6l-10 3l4 10l-3 1l8 1l3 2l-6 6l14-153l-1 1l20 11l-18 4l13 0l-13 1l5 2l-3 4l-9 1l4 4l8 0l-7 0l18 1l-4 6l4 2l-4 2l7 5l-18 4l1 0l-7 5l20 0l-16 1l18 2l-17 2l11 5l6 2l-21 5l-3 2l26 5l-17 1l6 3l10 7l3 5l-16 12l-12 4l15 1l-3 5l-4 1l18 5l-17 1l6 1l12 6l-19 0l17 7l-19 1l1 6l2 2l0 3l17 1l-11 8l3 1l-7 9l9 10l-20 6l16 5l-9 2l3 16l26-199l3 11l11 2l-16 2l18 3l-17 10l16 0l-13 5l9 1l-17 2l10 3l-3 1l21 4l0 8l-2 3l-9 1l-2 2l13 2l-7 2l-9 4l11 1l0 3l-23 2l14 4l-15 4l27 11l-18 5l-7 10l19 0l-1 14l-16 9l-2 2l-1 8l5 0l0 8l2 2l-5 6l11 10l15 11l-18 11l19-179l7 4l3 5l-10 0l9 2l11 2l-8 8l-12 3l9 1l-7 3l3 2l15 7l6 0l-22 7l15 3l-9 7l-10 2l4 4l15 10l-9 33l1 14l-9 16l9 7l25-136l-1 16l3 10l16 0l-6 51l13-55l1 4l12 11l-10 44"/>
<path marker-start="url(#k5)" marker-mid="url(#k5)" marker-end="url(#k5)" d="M297 990l-8 1l8 4l1 31l21-44l-6 14l10 3l4 0l-20 0l2 1l20 1l-6 1l-17 1l22 4l-24 3l24 11l-9 1l-1 1l3 0l-10 1l15 0l1 4l-15 1l-1 1l10 1l-18 3l12 4l-2 5l-6 2l8 3l7 2l6 4l-5 10l24-72l-9 18l0 2l0 9l11 2l1 4l-2 1l3 0l4 2l-6 0l9 5l-16 3l-1 6l-5 1l8 3l8 3l-12 1l19 9l0 9l-22 0l9 14l2 2l5 2l-17 15l23 19l16-125l6 7l8 3l-15 0l4 1l-18 4l21 2l-7 0l3 3l-12 6l13 8l-15 1l12 3l10 2l-13 1l-9 1l9 0l-12 4l29 1l-11 3l-1 4l-16 5l27 1l-11 4l9 3l-11 1l-6 1l12 2l-6 1l0 2l-6 8l14 4l-2 8l-12 2l16 0l4 2l-12 2l5 0l-18 2l10 1l10 6l-6 5l-3 1l2 14l0 15l5 8l2 1l-11 12l5 8l6 6l15-173l6 6l-3 4l11 5l-15 1l12 3l6 7l-5 1l-8 4l-11 1l0 3l11 1l4 5l1 0l9 4l-6 6l-11 0l8 0l4 1l0 1l-19 1l3 2l22 0l-12 0l5 8l-11 1l7 0l-5 8l-2 6l18 3l-20 0l15 11l3 7l3 1l-16 9l15 9l-14 4l-12 12l15 8l-10 1l21 4l-21 4l7 0l-1 10l-2 12l5 9l9 2l12-188l0 13l-5 1l15 5l0 3l-11 0l0 1l9 3l1 0l-9 0l5 1l14 13l-23 12l23 3l-9 16l9 2l-25 2l10 2l5 5l-14 7l1 5l10 5l-2 1l16 3l-14 22l-9 8l25 2l-18 21l-7 7l2 7l4 5l32-143l0 7l-1 5l-2 0l-5 3l16 16l-7 3l-12 1l3 16l8 4l8 2l-13 1l1 10l7 37l-9 12l29-120l1 10l-2 5l0 13l2 55l25-67"/>
<path marker-start="url(#k4)" marker-mid="url(#k4)" marker-end="url(#k4)" d="M292 986l4 10l0 1l-6 1l9 2l-1 8l-12 2l7 15l16-30l4 3l-2 7l1 2l2 3l-2 0l-3 3l3 4l10 1l-4 1l-16 4l24 1l-12 11l9 3l-6 2l-2 1l0 3l3 1l-6 0l16 19l24-71l-11 1l-4 1l-3 11l4 0l6 3l14 0l-10 1l8 0l-6 0l-3 3l-2 2l-13 3l15 0l4 6l8 1l-20 0l19 0l-20 5l14 0l-14 1l3 3l12 2l1 0l-21 2l22 0l-1 2l-15 2l18 6l-1 1l-13 5l-13 2l23 7l0 1l-1 9l4 5l-14 4l8 0l1 5l8 15l-2 4l4-114l0 4l0 2l5 0l7 5l1 1l-12 8l7 8l1 5l9 5l-13 9l-6 1l13 2l9 2l-17 1l-5 3l9 2l2 3l-5 11l15 1l8 3l-28 0l26 1l-3 7l-11 1l-13 10l11 0l4 4l3 0l0 6l-8 1l-4 1l1 4l-7 2l11 1l-1 0l13 2l-6 1l6 4l-14 1l4 9l12 10l-7 5l-12 8l49-139l-16 4l-4 1l21 1l-3 11l-2 4l-9 0l12 2l-11 0l13 0l-20 4l4 6l9 7l-7 1l-1 6l-4 1l14 9l8 2l-27 1l23 1l-19 1l8 1l-9 3l7 2l-5 1l-6 2l25 1l-24 2l0 2l4 2l9 5l-4 3l0 6l18 6l-9 7l-8 1l3 1l-14 0l6 6l10 15l1 5l6 40l14-164l-4 1l5 3l14 7l0 5l-12 19l-3 2l21 2l-14 6l12 10l-26 13l14 20l2 24l11 4l19-108l-13 24l3 10l5 28l-6 59"/>
<path marker-start="url(#k3)" marker-mid="url(#k3)" marker-end="url(#k3)" d="M299 996l-3 13l-9 0l10 9l-7 12l39-42l-17 1l-2 1l7 3l-10 2l17 0l-19 6l22 5l-22 0l-3 0l3 1l9 2l-7 6l8 2l-4 1l17 1l-16 0l10 1l-1 0l7 1l-3 2l-13 0l5 2l5 1l-22 5l8 1l9 2l1 18l10 5l-1 8l13-76l3 2l11 2l-20 2l17 1l-9 0l8 12l7 1l-19 2l17 3l-20 2l6 1l-1 2l16 7l-22 3l25 3l-25 12l16 2l-4 2l-6 1l8 0l5 16l-22 16l27 9l24-90l-5 8l7 3l-10 0l-5 2l-3 0l4 2l-9 2l28 6l-17 0l10 2l-19 4l12 5l0 0l5 5l-13 2l1 1l4 17l-6 37l17 1l-8 5l3 2l-13 0l21 3l2 1l-17 7l-3 4l4 14l39-131l-4 10l-12 2l-1 7l9 11l-2 2l-3 5l0 6l12 1l4 11l0 1l-15 1l17 3l-17 26l10 13l14-88l16 22l4 10l-9 0l4 2l28-23l-10 46"/>
<path marker-start="url(#k2)" marker-mid="url(#k2)" marker-end="url(#k2)" d="M290 995l6 6l25-7l-2 4l7 4l-1 2l-23 1l18 18l-17 3l21 31l24-66l-11 2l14 17l-21 2l15 0l-10 11l6 0l-1 9l7 3l4 5l4 23l-2 3l-16 2l0 7l2 4l18 4l-2 7l13-89l6 4l-11 3l12 4l11 4l-12 4l4 63l1 23l-9 21l0 22l24-141l-4 9l22 7l-8 2l0 38l5 4l-2 17l-9 39l50-104"/>
<path marker-start="url(#k1)" marker-mid="url(#k1)" marker-end="url(#k1)" d="M292 989l4 6l25-2l-5 3l5 5l-14 4l20 4l-9 12l8 25l32-42l1 9l-5 2l-23 16l10 20l2 2l-3 0l1 23l20-72l16 7l-7 3l-2 11l7 7l9 45l34-72l1 1l-18 35l-6 4l-5 20l12 35l51-43"/>
</g>
<g id="cD" fill="none" stroke="none">
<path marker-start="url(#k1)" marker-mid="url(#k1)" marker-end="url(#k1)" d="M1392 995l9 3l7 12l4-6l4 2l20 5l-14 18l12 4l-15 10l19 26l-3 19l4 1l6-67l14 4l-18 6l16 12l-15 22l5 22l17 20l-6 21l34-100l-20 15l16 31l6 32l20-85l13 22l3-12l42 55"/>
<path marker-start="url(#k2)" marker-mid="url(#k2)" marker-end="url(#k2)" d="M1405 995l-2 9l13-23l-2 2l16 13l-14 1l23 3l-11 2l-15 15l23 19l-5 7l3 12l-1 1l2 16l-5 6l20-81l15 1l-2 6l-19 5l24 8l1 0l-4 4l2 5l-4 11l-20 1l25 9l-7 1l3 1l-23 5l5 3l19 14l-2 5l-14 8l6 8l1 0l-9 11l4 10l41-103l3 4l-10 7l9 6l-19 0l-3 19l16 8l9 14l-7 44l-6 11l-4 14l36-135l-13 16l0 5l7 1l5 10l-6 1l20 30l-14 17l-10 3l-3 16l30-80l25 1l-7 4l-17 11l0 4l36 49"/>
<path marker-start="url(#k3)" marker-mid="url(#k3)" marker-end="url(#k3)" d="M1408 988l-17 3l11 6l-5 2l36-15l-7 3l-1 4l5 1l-13 0l19 13l-17 6l6 3l-15 2l24 3l2 2l-23 2l6 2l15 2l-22 4l18 4l5 0l-15 1l11 1l-13 4l14 5l6 1l-16 3l12 6l1 14l0 6l20-63l11 2l-12 0l8 1l-8 2l0 8l-5 3l8 0l2 3l-11 1l-2 1l-6 1l7 1l10 7l4 7l-9 4l13 2l-13 0l-6 1l14 5l-4 9l7 2l6 1l0 0l-14 5l10 2l0 5l3 9l-20 9l11 12l9 17l-3 5l-2 7l33-141l-19 6l7 9l-9 12l22 0l-13 1l-2 1l-1 2l-6 0l16 1l-10 3l-11 1l15 1l-3 1l-3 2l0 4l-1 6l-2 15l17 7l-19 12l12 7l-2 18l-13 5l25 4l-26 4l22 3l5 8l-25 0l2 5l5 3l-7 19l23 15l12-172l8 2l-4 8l2 0l16 10l-15 3l6 2l-18 8l11 2l-4 2l5 4l4 3l1 3l-8 10l-5 3l18 0l-6 12l7 0l-20 2l-4 8l4 1l13 1l-3 10l-7 62l-8 82l54-224l-10 3l3 5l-13 12l1 2l22 2l1 13l-28 7l19 22l-14 31l0 8l11 2l6 5l-19 99l40-212l-2 42l-4 12l18 7l-9 34l11 76l3-53"/>
<path marker-start="url(#k4)" marker-mid="url(#k4)" marker-end="url(#k4)" d="M1384 980l12 3l6 18l3 1l-1 11l4 0l0 7l1 12l30-58l-13 14l-7 5l3 3l-3 2l15 2l-20 3l12 2l-9 2l-2 2l12 2l1 0l-8 1l16 1l3 6l-11 4l2 7l0 2l3 2l-2 8l-19 0l13 1l-1 1l-10 2l7 14l6 5l-2 2l8 1l34-72l-16 3l-9 3l25 1l-26 2l18 1l3 0l-19 4l3 0l5 0l17 5l-9 0l-19 6l26 1l3 0l-19 2l3 0l-4 2l14 6l-14 2l-7 1l20 1l-22 3l10 1l1 1l-1 1l10 2l9 4l-7 4l-19 1l7 1l-7 2l19 1l-8 8l-5 1l19 2l-1 0l-14 4l4 13l-5 18l8 3l-2 9l11 1l-8 1l-2 16l28-141l-11 8l-4 12l11 0l-9 3l21 7l-6 3l-13 16l9 2l4 3l6 1l-17 1l-8 1l13 7l11 5l-17 1l13 2l-5 2l-8 0l4 2l10 3l-8 1l-5 1l18 2l-6 1l-4 2l-10 3l13 3l-7 6l14 6l-3 23l-6 2l-9 0l18 6l-7 6l-12 1l18 4l2 3l-22 0l3 11l-3 15l-4 4l19 8l8 38l-16 14l44-212l-5 7l-21 0l0 1l15 1l-15 2l8 12l-2 10l6 7l-6 2l-6 2l9 2l5 1l-4 1l-3 3l-2 3l11 0l13 3l-25 0l3 1l6 1l7 4l2 6l-6 2l-6 7l10 9l-13 5l6 3l8 10l-18 13l23 1l-7 13l-4 27l12 10l25-167l-2 7l-7 1l-8 4l-4 4l1 4l-1 0l3 10l5 0l12 1l6 5l-2 5l-22 3l20 0l-22 5l19 6l-6 4l15 8l-21 8l10 21l0 14l-10 7l16 55l-21 49l37-209l2 2l-6 8l8 14l-9 3l1 9l-5 3l23 2l4 19l-27 71l31-104l2 7l4 1l-7 3l7 9l-8 7l8 32"/>
<path marker-start="url(#k5)" marker-mid="url(#k5)" marker-end="url(#k5)" d="M1407 997l1 4l-5 12l4 0l-5 1l7 19l12-56l0 7l12 3l3 4l-5 2l-4 1l-1 1l0 3l12 2l-16 5l8 3l3 1l5 1l-8 1l-8 4l7 4l0 2l-14 3l13 2l7 1l-9 4l-6 6l-4 2l23 2l-4 0l-18 0l14 1l0 0l-21 11l4 8l25 3l-1 22l11-101l17 10l-18 0l7 0l-3 5l-2 7l3 12l4 4l-2 6l2 1l11 4l-25 1l22 0l-22 14l4 0l3 3l-2 1l13 2l-13 1l0 1l-2 9l13 4l-12 0l14 6l6 0l-3 4l-10 1l10 1l-18 2l16 4l1 1l2 1l-2 0l0 5l-21 5l13 0l7 0l-22 4l9 7l14 3l-8 18l13 48l-6 14l19-190l11 2l-11 0l3 1l-12 1l19 5l-3 1l1 2l-8 2l-9 1l20 2l-1 4l-6 3l-6 11l20 1l-11 2l-15 1l18 1l-18 1l0 7l9 2l15 1l2 0l-25 4l24 4l-2 1l-5 5l4 3l-12 6l8 1l-3 0l5 0l-1 2l4 1l-2 1l-19 2l11 1l-1 5l-12 4l-2 3l11 6l8 5l-13 0l-2 1l4 7l16 4l4 6l-13 2l6 2l-4 3l-11 7l13 3l1 4l-11 1l-8 0l10 19l14 4l-11 4l1 3l8 40l19-214l4 1l-14 2l-2 5l24 4l-8 1l0 1l4 0l-3 8l0 1l3 0l7 1l-2 14l3 4l-13 2l6 1l-9 3l11 5l-1 2l0 6l0 5l-8 2l-4 1l0 0l0 3l5 3l0 2l-4 4l16 1l-10 3l6 2l1 5l-19 4l0 4l16 1l-17 3l2 2l17 7l-20 6l-3 1l25 2l-17 1l5 3l-6 6l2 9l-9 5l23 2l2 14l-13 9l0 5l5 11l11 37l-15 7l30-217l-14 1l6 3l-5 3l24 5l-16 1l-7 9l16 6l-1 2l-11 4l5 1l13 5l-23 2l4 0l-5 4l15 1l-11 4l-2 3l7 0l-2 4l-6 1l5 0l-1 0l11 0l-5 4l15 1l-14 2l15 0l-4 0l-22 0l5 3l21 1l-6 0l5 0l1 5l-18 13l6 9l-6 1l15 4l-19 2l1 2l11 3l5 6l-7 8l11 3l-13 4l2 1l-13 6l17 47l-12 2l19 118l8-298l5 1l16 7l-3 6l-4 21l-7 4l4 23l-14 2l-1 3l28 0l-6 19l-16 95l-6 16l34-196l4 5l8 19l-7 5l-5 7l15 2l-14 10l22 1l-4 2l-6 7l-17 9l13 29l15 20l-16 7l15 38l15-148l-4 17l21 24l-20 36l13 103"/>
<path marker-start="url(#k6)" marker-mid="url(#k6)" marker-end="url(#k6)" d="M1401 1000l6 7l-10 3l8 13l-4 34l22-87l-3 23l-7 5l16 2l-10 1l-1 1l13 1l0 8l8 3l-15 2l9 1l-20 6l22 6l1 4l1 2l0 1l-16 1l7 3l-5 4l-6 8l-7 4l16 2l11 1l-21 0l35-75l-3 10l20 1l-19 1l6 0l6 4l6 10l-11 6l-12 8l12 7l-7 3l19 2l-16 3l4 1l13 2l-8 9l-3 10l11 9l-5 6l2 6l-10 6l-6 2l11 21l6 7l-20 5l11 5l13-132l24 14l4 7l-11 1l0 1l-5 7l1 2l-3 4l9 1l-1 1l-5 8l-14 9l27 0l-14 1l13 10l-22 0l25 1l-5 0l-24 1l28 3l-16 6l-12 2l4 4l19 0l4 1l-1 1l-11 0l9 1l-8 7l-9 2l-5 1l1 8l13 4l-3 2l13 1l-15 4l8 1l-19 1l13 0l-5 7l-3 0l4 2l13 4l-21 4l26 0l-20 1l22 3l-22 5l19 1l-15 5l18 2l-12 0l-5 3l-3 8l5 5l-4 2l0 0l6 1l13 2l-5 3l-22 3l10 1l0 10l10 0l-9 3l16 11l-7 3l-14 5l11 1l10 29l-10 72l14-311l12 9l-8 4l14 4l-6 4l-14 2l19 0l3 6l4 7l-25 0l2 2l-4 21l28 3l0 10l-16 2l-10 2l27 4l-9 5l-5 2l-13 2l9 4l9 0l-8 4l11 0l3 0l1 2l-3 5l-18 5l15 0l-6 1l13 3l-3 0l-18 0l-5 1l9 4l0 6l-3 0l-2 3l0 0l8 1l8 3l-12 2l9 6l9 3l-24 4l-4 2l3 0l16 1l-7 0l-2 3l-8 0l8 8l-4 3l11 9l-3 5l9 1l-11 10l16 2l-18 2l15 2l-16 0l15 9l-16 2l10 1l-1 14l5 11l6 8l-27 13l20 12l2 1l-1 16l-1 6l-12 21l47-290l-13 11l-7 1l23 0l-19 1l-2 8l13 1l-9 8l-5 0l5 1l-4 4l5 6l12 5l-14 3l18 1l-5 5l-1 4l-22 0l0 1l28 9l-23 1l-6 0l28 5l-7 2l-19 0l18 8l-3 2l6 1l-5 3l8 0l-26 9l27 1l1 10l-10 3l-5 1l4 5l0 4l-17 0l29 4l-5 8l-9 4l7 0l-8 15l-2 18l-2 0l15 7l-22 7l13 4l11 11l-18 0l4 4l-2 9l1 6l5 42l-16 13l0 47l33-315l18 4l1 3l-18 3l-5 7l7 1l-6 1l15 3l13 5l-18 1l-6 1l-3 1l6 3l19 1l-13 3l8 2l-16 5l-6 3l11 4l-9 0l12 10l-8 9l2 3l4 2l17 3l-28 8l14 1l10 8l-17 1l3 9l-7 6l1 1l4 3l0 11l12 6l-11 53l9 0l-12 3l-3 24l43-192l-3 2l-2 13l15 3l-9 0l-16 7l27 9l-29 4l5 3l-4 11l5 21l-3 1l-2 24l16 21l11 3l-22 10l0 39l31-172l-4 2l12 20l-4 35l10 45l-2 3l16-70l9 159l29-153"/>
<path marker-start="url(#k7)" marker-mid="url(#k7)" marker-end="url(#k7)" d="M1403 1037l29-43l-22 3l0 2l9 7l7 1l1 8l3 5l-19 16l10 4l9 2l-5 23l11 4l22-74l-2 22l-10 7l6 4l17 3l-13 1l-13 8l6 6l7 5l-1 6l13 11l-26 3l2 11l14 0l3 1l-3 2l-15 1l14 4l2 5l-1 9l4 6l5 7l-3 11l10-109l6 5l-7 2l3 6l19 7l4 1l-16 3l-12 4l-1 3l16 6l-6 2l3 17l-3 1l1 5l10 9l-8 0l12 1l-5 0l6 2l-15 1l18 2l-9 6l3 9l-10 4l7 0l-17 1l18 6l3 1l5 2l-11 2l11 9l-27 0l-2 10l29 1l-27 8l12 17l5 0l-13 0l22 2l-9 18l7 4l-18 2l20 0l-3 14l-8 4l11 1l-7 11l14-195l1 18l20 13l-23 2l10 17l-10 3l25 1l-18 2l17 4l-19 2l21 2l-27 2l6 1l-2 2l21 1l-2 4l-4 11l-4 6l8 2l-11 1l2 6l6 7l0 4l-21 5l19 2l2 0l-5 4l-15 0l16 2l-4 16l-11 1l26 3l-8 8l3 1l-23 4l2 9l24 1l-10 4l4 9l6 7l-21 1l9 1l-13 3l20 2l-18 3l-3 1l8 11l15 3l-6 9l-18 17l29 0l-16 3l6 6l-17 1l26 21l-22 1l2 13l21 3l-22 7l22 5l-19 8l45-334l-5 22l-14 1l5 10l-8 1l13 0l0 6l11 2l-12 4l-14 2l17 3l-15 1l22 5l-2 1l-1 4l-12 2l14 6l-14 11l19 2l-5 4l-15 1l-9 1l11 5l-5 2l0 0l13 3l10 2l-24 3l-2 1l2 1l-1 1l15 4l-11 0l7 3l4 2l6 2l-9 7l-2 10l-6 7l-4 10l18 3l3 2l-14 1l14 1l-14 2l3 4l-8 10l22 3l-19 5l-2 10l9 4l-1 3l-1 13l5 2l7 1l-6 11l-12 6l-2 10l0 8l-1 16l36-237l12 0l2 2l-6 1l-8 1l-10 2l2 8l11 1l10 3l-3 2l5 3l-4 0l4 4l-9 1l6 2l4 0l-24 3l11 3l-5 2l-6 8l19 1l-16 0l16 1l-5 4l-12 2l22 6l2 2l-13 1l12 1l-12 0l1 1l-3 0l2 0l-7 2l20 10l-26 3l14 1l-2 3l-8 4l12 1l-17 1l27 8l-29 9l21 5l-7 4l9 10l4 3l-8 10l7 1l-13 7l-5 1l-3 6l23 7l-11 8l12 3l-12 2l-15 6l17 7l-14 5l0 4l-4 13l9 19l-1 8l10 10l17-239l-5 0l10 4l12 2l-15 3l17 0l-14 2l11 4l-5 1l-3 1l-1 2l7 17l-12 1l7 0l-9 8l-2 4l23 0l-25 5l0 1l7 5l11 18l-19 10l7 5l2 5l11 3l8 2l-26 6l15 1l3 6l-18 12l17 4l-12 2l0 6l-1 24l5 15l9 4l-17 23l18 54l-14 32l35-276l10 2l-2 0l-7 5l12 5l-22 1l-1 1l-3 6l0 3l1 1l7 17l16 5l1 10l-10 1l-5 2l12 2l6 6l-8 2l-18 2l11 1l9 4l-4 8l-17 16l12 2l-1 20l0 12l-12 5l2 21l13 139l20-289l22 32l40 23"/>
<path marker-start="url(#k8)" marker-mid="url(#k8)" marker-end="url(#k8)" d="M1408 968l-28 13l58 114l5-41l16 12l-7 2l8 0l8 38l-9 1l-1 29l19-133l22 8l-29 12l10 9l-8 11l5 33l12 32l-2 6l-10 4l19 1l-20 5l11 1l-4 7l4 2l12 4l-2 12l-20 10l15 14l-11 8l11 23l-4 23l4 8l3 31l30-246l3 12l-17 1l-5 0l22 1l-24 8l7 7l-3 7l-6 24l9 4l9 4l-15 4l16 3l-9 7l-7 6l22 3l-20 1l19 10l-2 4l-18 4l4 3l12 7l-15 4l4 2l-10 1l1 1l27 1l-10 15l1 1l9 4l-8 2l1 6l-2 3l0 1l7 3l-7 2l-3 3l-2 3l7 0l-8 11l12 1l-24 0l16 2l3 1l8 0l-17 15l17 1l-13 2l4 1l-17 1l2 10l12 4l0 4l7 11l-5 7l-10 0l3 9l11 15l-10 1l2 16l0 7l-1 6l-2 12l14 14l-1 29l-12 22l31-367l10 5l0 14l5 8l-29 4l4 12l8 5l-6 15l1 3l-3 5l9 4l13 2l-16 3l-5 0l8 2l-2 6l14 1l-3 15l-2 3l4 3l-13 2l11 1l-18 1l20 16l-14 5l-2 2l15 3l-14 1l6 1l3 10l-10 2l19 6l-26 2l4 4l21 5l-23 1l-2 5l19 1l1 7l-11 1l-9 3l24 3l3 0l-6 5l-17 3l19 2l-12 0l12 0l-13 6l3 0l-6 1l14 13l-16 1l14 44l-6 5l0 10l-4 9l-4 4l19 2l-16 35l14 91l32-420l-13 7l17 1l-10 1l-4 6l0 8l14 4l-7 1l4 1l-19 3l-2 1l23 6l-10 4l-12 11l-6 6l26 1l-2 2l-5 1l-16 2l11 15l13 0l-22 3l5 3l16 2l-20 2l0 18l20 8l-3 1l-17 10l21 0l-22 5l-1 7l-1 0l18 9l0 1l0 4l-7 2l-6 8l16 5l-21 0l13 4l7 2l-20 3l17 0l7 15l-19 10l-8 1l5 7l8 9l8 15l-6 1l-6 26l3 9l-9 10l23 27l-1 5l-12 9l16 67l15-402l6 17l-19 5l8 2l17 5l-26 6l27 2l-4 1l-5 1l-12 4l15 7l3 3l-13 2l17 2l-6 3l-4 2l-10 3l17 1l-11 8l-13 5l7 2l15 3l-11 1l11 2l4 5l-13 1l14 5l-7 0l-19 5l15 2l-7 2l11 9l4 4l1 0l-26 4l1 14l18 2l-19 9l1 3l3 11l5 3l-5 16l2 0l15 3l-2 2l-7 8l9 7l-7 20l11 0l-7 7l-5 2l8 0l-17 4l1 6l8 6l12 13l-22 0l-1 26l12 2l-14 6l56-262l-18 3l18 4l-14 1l0 5l15 6l2 1l-6 0l-4 8l-15 13l12 0l13 12l-18 8l9 3l-10 0l14 3l-14 0l7 26l3 11l9 1l-21 3l20 10l1 18l-21 6l18 21l0 19l-22 4l5 26l2 13l10 42l-15 33l1 21l32-302l2 3l-6 5l5 7l7 8l-7 8l4 15l14 3l-14 9l5 9l-2 4l-6 2l-9 12l3 13l4 10l31-105l4 39l-5 65l46-69"/>
<path marker-start="url(#k9)" marker-mid="url(#k9)" marker-end="url(#k9)" d="M1414 1010l48 70l11 5l14 24l-3 30l15 7l-17 64l11 0l0 3l-9 21l14 13l-4 43l2 5l1 1l25-262l-5 46l-8 4l16 84l-4 3l6 0l-1 8l-21 10l10 10l-10 8l-3 1l10 6l3 4l1 13l6 8l-6 0l-1 3l8 5l-17 3l11 1l4 9l-5 4l-1 3l12 3l-12 2l7 7l-19 2l1 2l-2 2l24 1l-10 2l13 0l-27 4l10 6l0 14l9 9l-18 9l7 16l2 28l15 11l-11 56l19-406l24 12l0 24l-27 11l10 17l11 3l-13 7l13 1l-10 34l6 6l3 0l-7 1l-4 1l-2 4l-8 3l12 4l-13 10l15 1l-5 5l-4 10l6 1l-4 2l0 3l20 15l-5 6l3 8l-3 8l-18 9l17 2l-2 3l4 2l-8 0l12 6l-4 1l-16 5l16 1l-16 2l9 2l-17 4l5 16l16 3l-16 4l0 10l19 4l-13 3l-9 3l11 1l1 4l4 6l-7 9l14 5l-23 16l19 4l-17 4l-3 2l-1 2l15 5l-3 3l9 8l-15 32l8 13l-8 19l2 21l32-442l-3 14l20 1l-19 0l13 8l4 12l-24 5l9 1l2 1l16 3l-3 12l-20 3l6 6l14 2l1 11l-9 8l-12 1l10 7l-9 2l1 1l2 2l4 10l-5 3l-7 2l4 4l3 4l-2 9l23 1l-6 3l5 3l-25 5l16 0l0 7l-7 0l15 12l-11 3l5 2l8 9l-11 17l-16 7l2 3l15 1l-15 1l19 5l2 1l-19 0l13 2l-4 1l-2 6l-8 2l22 4l1 2l-3 23l-20 11l4 10l-8 2l4 10l21 16l2 6l-3 14l1 5l0 4l-15 32l-11 19l22 16l30-376l-10 7l10 4l-18 1l-4 2l21 3l6 5l-9 2l10 0l-2 5l-6 15l-17 2l22 0l-14 7l8 4l1 3l-5 7l0 0l-8 4l-2 0l23 0l-23 5l20 6l-16 4l12 2l3 0l-19 5l18 6l5 4l-12 0l-13 3l25 7l-4 4l-6 0l-14 4l13 6l-11 6l23 2l-5 1l-10 3l6 1l-7 1l10 5l-13 0l-5 3l6 3l12 3l-2 7l2 2l-21 0l14 1l1 11l7 3l-20 10l1 4l1 24l0 0l5 8l13 10l-18 28l1 5l-7 14l2 42l3 50l10 12l24-374l11 3l-3 1l-15 4l8 1l-10 14l23 1l6 2l-12 2l6 0l-6 10l-2 0l-14 4l4 4l20 4l-15 0l13 0l-9 4l-7 1l-6 14l12 2l-9 2l20 0l-24 12l3 3l18 4l8 1l-18 2l-7 5l-3 10l19 22l5 26l-7 6l5 2l2 10l-22 9l0 12l9 5l1 41l-6 62l0 43l36-341l-10 2l14 4l-13 5l9 2l-11 0l13 17l-15 1l17 10l-17 8l13 10l3 13l-11 3l18 7l-4 7l3 18l-22 4l18 18l-10 11l-2 28l5 25l-7 3l6 10l-6 69l-4 37l52-306l1 13l-19 22l17 22l-18 58l15 31l-14 81l0 91l38-315l7 53l-14 6l6 5l2 25l32-60l-4 32l-1 26"/>
<path marker-start="url(#k10)" marker-mid="url(#k10)" marker-end="url(#k10)" d="M1424 1060l42 37l-3 27l25-14l3 128l8 38l-10 25l17-139l23 47l-21 2l21 4l-26 3l1 8l22 1l0 3l-16 5l19 2l-29 1l21 5l7 12l-22 9l-2 9l-4 17l28 5l-1 35l-24 6l25 0l-7 9l4 14l-2 4l-2 23l-3 5l-4 10l7 14l6 26l-13 34l25-437l14 27l-9 10l14 6l-10 8l-7 16l5 17l0 14l7 1l-12 0l4 15l3 8l9 4l-20 3l6 10l16 5l-27 8l8 2l3 9l16 3l-5 11l-23 0l20 8l-15 8l8 16l-6 9l12 4l2 4l0 3l-7 3l8 6l-18 17l12 7l9 2l-14 4l6 3l2 2l-20 8l18 2l-17 6l4 6l21 2l3 2l-28 10l19 7l-19 7l23 6l-2 0l-21 1l21 4l7 9l-11 2l-12 3l-6 17l28 2l30-362l-20 0l9 6l-7 2l17 1l-17 29l0 7l14 14l-4 6l-10 25l-10 9l12 5l13 3l-23 4l23 2l-5 0l-12 1l3 9l-4 6l-4 2l18 8l-6 4l-7 3l8 11l7 2l3 12l-23 3l16 2l-5 24l0 1l8 1l-21 1l0 1l22 4l-9 0l-7 2l12 2l10 4l-6 5l-12 5l2 5l5 0l3 10l-18 5l12 4l-8 2l15 8l-10 2l7 4l-1 3l11 7l-21 0l17 0l-5 12l-9 0l-7 6l12 7l-9 9l18 25l-3 8l-15 1l33-359l9 15l9 3l-2 14l-2 2l-9 4l10 1l-11 3l15 13l-13 1l10 15l-1 11l3 3l-1 14l-17 1l19 4l-27 2l13 1l8 11l-20 8l13 7l5 3l0 4l2 2l-12 2l-1 7l14 2l-16 3l-1 5l4 4l-8 5l6 5l2 6l4 3l-12 0l17 1l4 2l0 1l-12 11l-11 9l18 5l-4 3l-4 7l-10 4l13 5l-7 7l21 6l-25 4l0 1l1 5l9 2l-10 4l19 5l-10 4l-9 3l15 8l-8 2l14 4l-18 5l-1 6l3 1l-4 25l20 1l-18 15l21 11l-11 1l1 54l-9 1l-1 5l52-385l-8 1l-2 1l-9 8l1 5l14 4l-17 6l19 5l-10 1l-12 14l21 1l-4 7l-11 4l-6 9l11 1l-12 1l18 0l4 7l-24 7l22 1l-3 3l6 9l0 3l-21 1l16 2l2 3l-20 0l0 13l2 9l19 5l-4 7l-12 5l13 2l5 6l-1 11l-2 14l-21 5l-3 0l5 2l24 5l-4 5l-13 1l-7 15l19 16l-14 3l11 33l8 2l-29 2l25 29l-19 3l-1 28l8 1l5 14l0 86l14-420l9 6l-8 1l22 3l-25 1l27 1l-10 1l-5 2l15 13l-24 3l11 0l-12 2l10 2l-10 8l14 4l3 12l-2 6l-11 0l-2 1l-4 0l13 3l-13 3l7 0l-6 4l24 2l-13 2l-2 1l13 5l-10 1l-9 0l14 11l-12 2l0 1l16 0l-4 3l-10 17l5 2l-10 2l3 1l13 3l-6 11l8 8l-19 4l15 2l-11 13l9 4l-6 1l10 0l-19 10l23 7l-23 1l27 0l-4 18l-20 6l13 3l-6 20l15 15l-9 17l41-273l-20 10l6 8l-10 2l7 1l15 0l3 46l-20 0l3 8l14 1l-15 9l-1 7l-2 10l-4 6l21 17l-22 0l20 28l-19 13l1 7l14 2l-16 7l0 51l-1 11l5 31l-6 20l4 13l27-287l23 16l-23 3l21 10l-22 35l4 11l-3 21l8 20l-1 6l13 1l3 4l-14 1l5 21l-12 44l39-173l-4 1l-5 2l6 23l11 212l23-220l-3 33"/>
<path marker-start="url(#k11)" marker-mid="url(#k11)" marker-end="url(#k11)" d="M1496 1226l-1 25l2 37l12-236l2 31l4 12l-15 139l11 3l-3 16l11 28l6 0l-13 8l10 26l5 2l-23 0l13 17l10 7l-12 6l13 2l-21 11l9 0l6 4l-8 9l6 8l2 18l-2 26l5 25l-5 5l7 4l-1 0l-8 16l6 18l16-440l10 154l-10 1l18 8l-6 0l0 18l-3 25l-3 5l8 4l-11 0l14 1l-24 5l18 1l-1 1l-10 13l5 0l9 12l-18 2l7 7l10 4l-13 4l16 6l1 4l0 3l-2 6l-3 5l-5 0l-13 4l1 2l24 4l-20 13l3 8l10 2l-13 6l-1 3l5 45l-4 11l10 8l9 35l-4 11l18-419l15 19l2 5l-9 17l4 7l-5 1l0 13l-17 25l21 9l-10 3l8 5l3 18l-18 0l7 1l16 1l-23 28l14 20l-17 3l23 8l-5 1l-9 22l-11 5l3 8l18 12l-20 0l7 0l11 0l-2 3l-16 5l14 2l-7 6l11 18l-11 2l-7 19l15 3l-10 19l-3 4l4 8l12 22l-18 11l3 15l9 2l15 4l-9 9l-13 7l16 41l-22 1l13 43l25-469l17 12l1 9l1 2l-19 14l11 0l9 13l-24 11l10 5l-1 23l-7 24l13 1l-19 6l11 9l-3 0l8 8l6 12l-14 6l16 1l-10 1l-13 5l7 4l8 2l8 4l-14 1l-6 8l-5 4l6 1l15 0l5 14l-7 7l5 7l-3 1l-5 0l5 5l-18 2l17 1l8 0l-8 13l-7 6l-9 5l-2 5l19 19l-15 7l-2 22l20 24l-11 4l-1 56l30-403l13 6l-25 6l26 1l-1 4l-23 0l4 1l12 4l-5 5l-12 7l14 4l-4 2l-8 15l12 7l14 1l-7 32l-1 0l8 7l-28 12l5 8l-2 9l-1 23l19 12l-20 1l6 27l12 6l-11 6l-5 13l7 1l14 5l-21 13l1 3l4 6l5 5l9 8l-13 6l14 2l-18 1l-4 7l21 1l1 5l-6 14l7 1l-9 0l-11 3l-5 1l26 4l-26 52l8 55l-6 46l48-464l-4 7l8 18l-17 3l4 0l0 1l-1 7l18 6l-7 3l-10 4l0 2l10 4l3 2l-7 5l-7 0l14 7l-13 3l3 4l-2 1l0 3l-6 1l11 3l6 4l-2 2l-20 3l20 8l4 5l-22 2l22 9l-15 1l2 3l-4 7l20 8l-24 9l4 3l21 7l-10 10l-14 8l-2 9l22 1l-15 15l9 2l-5 1l-2 8l12 8l-8 7l-14 9l27 0l-7 1l-4 29l-1 4l9 1l-22 17l25 7l-15 15l-9 1l-5 13l26 26l-14 0l19-336l2 15l-1 3l1 2l24 11l-5 1l-12 8l-1 1l11 2l-18 9l25 10l-3 1l-9 1l-12 14l6 1l9 12l-13 35l20 4l-24 11l20 2l-13 2l-3 3l23 4l-5 3l-11 12l10 1l-21 3l27 22l-2 5l-12 4l-14 10l3 24l23 1l-2 11l-11 20l-11 27l9 35l44-334l-23 34l3 1l13 7l-7 5l-5 13l18 11l-16 0l3 3l6 2l12 22l-2 8l-8 7l-3 2l-13 2l1 0l11 4l9 23l-14 4l-4 1l7 0l11 11l-4 10l-16 2l8 12l-9 4l1 1l1 3l24 37l-5 6l-11 21l-6 16l23-226l2 7l13 13l-6 10l2 5l-8 0l17 16l0 12l-8 10l15 22l-23 45l17 4l-15 32l40-187l8 15l-15 16l-4 57l1 247l52-303l-14 122l12 33l11-167l4 16l-7 53l40 62l31 20"/>
<path marker-start="url(#k12)" marker-mid="url(#k12)" marker-end="url(#k12)" d="M1488 1148l36 93l-20 15l10 3l0 13l-6 25l11 39l0 4l10 18l-11 3l-2 6l5 16l6 9l1 14l0 7l-6 13l-20 23l0 13l13 4l14 15l-24 3l46-312l-4 89l-13 29l-2 5l9 7l-5 5l3 7l2 1l17 0l-7 7l2 31l0 7l-4 8l-5 3l4 5l4 14l-18 3l21 11l-6 7l0 16l1 32l-14 11l-6 21l37-307l9 18l-10 42l16 4l1 22l2 13l-12 0l4 2l0 1l-9 2l17 3l-1 30l-6 17l-5 9l1 2l-1 16l-10 25l18 5l-2 1l-14 6l4 8l5 0l-13 0l17 9l11 13l-20 13l-5 19l-1 7l-2 10l2 31l9 26l-8 8l55-501l-14 28l2 34l-13 22l17 35l-7 2l-7 30l16 14l-23 8l25 4l-18 18l2 20l8 14l5 8l4 7l-13 0l-9 3l23 7l-2 9l2 0l-18 10l9 2l8 4l3 7l-19 1l16 2l-20 6l10 24l6 6l-6 10l-16 9l1 13l9 2l8 9l9 13l-16 9l-10 1l19 5l-8 13l33-345l11 16l-5 13l1 10l-10 26l16 13l-4 6l-4 13l-10 2l-6 6l4 2l1 0l-6 2l-1 7l14 3l5 4l-12 2l-7 5l17 0l-6 7l-10 5l8 9l15 2l-9 2l3 1l-1 12l-5 8l10 3l-23 13l6 1l-1 11l8 5l-12 6l0 11l0 4l25 1l-14 15l8 0l-7 2l-3 3l7 120l23-400l-1 10l17 3l-1 5l-13 3l2 4l6 7l-9 4l0 14l-11 28l11 22l16 7l-9 6l-7 2l11 2l-6 8l-3 6l-12 4l17 0l10 1l-2 12l-2 1l-16 2l14 5l-11 3l4 6l-2 13l-7 2l10 5l3 0l6 1l0 21l-23 1l11 6l9 14l-17 8l8 14l-12 1l-2 2l11 6l8 11l-9 1l14 2l-17 22l0 2l8 1l-8 5l1 0l-6 23l16 10l-13 23l-3 17l50-381l-16 2l9 16l-8 9l8 4l14 9l-13 0l13 1l-3 1l-12 13l-7 0l-7 4l16 1l9 2l-22 3l5 2l7 8l-1 9l1 6l4 8l1 6l-13 11l-6 2l5 7l16 4l-17 2l11 1l-6 13l-1 7l-1 16l1 3l-3 1l21 16l-7 7l7 7l-16 22l-1 12l3 2l-10 1l17 28l-13 16l8 22l10 55l-25 15l54-376l-1 13l3 9l-8 11l-12 6l-4 2l17 4l10 3l-15 2l15 6l-5 1l-18 12l1 8l11 2l1 1l-2 5l-12 7l6 8l7 6l-8 2l-2 8l16 8l-18 11l7 8l3 0l-1 7l-6 5l9 6l0 2l7 1l-22 7l-2 16l26 3l-26 12l25 7l-19 14l16 3l-3 7l7 3l-26 20l5 11l7 17l1 8l-6 10l-1 3l45-296l3 22l-9 2l13 7l-3 12l-17 11l0 4l16 15l-5 1l-14 4l5 19l11 17l-20 0l13 1l-8 9l2 3l17 3l-8 2l-14 19l1 66l19 11l0 17l-21 12l3 50l43-301l-16 2l15 4l5 16l-2 2l-19 12l7 3l19 2l-23 8l-2 24l3 29l0 3l12 5l-11 9l10 9l-6 5l-1 33l-4 36l6 0l17 1l-7 40l16-189l17 8l-5 20l0 3l5 7l-23 12l4 1l-5 47l3 85l32-193l52 58"/>
<path marker-start="url(#k13)" marker-mid="url(#k13)" marker-end="url(#k13)" d="M1490 1539l9 20l2-245l8 120l-1 8l-5 16l23 6l3 2l-14 10l11 22l-20 24l0 3l-6 73l45-378l1 102l-11 8l12 15l-4 37l-8 0l0 4l3 12l11 6l-14 0l19 34l-2 4l-19 2l-1 3l16 1l1 8l-2 4l-10 0l9 1l-5 9l-11 4l1 4l5 1l0 18l20 10l-15 8l-10 2l33-368l5 85l9 32l10 0l-5 4l-6 11l-4 5l10 21l3 6l-10 1l-3 0l-10 2l14 12l11 1l-1 13l-20 1l-3 2l25 2l-25 5l-2 6l18 10l-9 2l-6 6l20 1l0 0l-3 4l-22 20l6 10l11 4l2 0l2 32l1 8l-8 0l5 1l-12 1l15 12l1 7l1 17l-16 6l4 13l-3 12l18 3l-6 15l17-428l14 23l-11 69l-9 35l18 3l7 13l-19 6l-7 3l27 34l-16 18l13 6l-7 10l11 2l-6 7l-12 3l3 19l-3 8l0 7l6 14l-5 10l16 9l-18 4l6 1l-3 0l-11 3l5 1l13 17l1 5l-4 1l-14 10l-1 3l19 24l-16 1l14 14l-17 22l56-445l-7 46l5 5l-11 11l-12 24l24 21l-26 21l0 6l0 8l19 2l2 3l0 17l-22 6l9 2l11 8l-16 5l17 1l4 6l-13 6l7 7l-5 0l8 8l-8 5l5 2l-1 3l10 10l-1 0l-19 3l1 1l15 8l-9 3l-7 2l-6 18l20 8l6 3l-25 3l12 1l-12 4l9 2l7 9l-16 3l4 2l15 1l-11 5l8 8l-13 1l21 15l-11 8l10 5l-10 12l-2 7l-6 8l5 0l9 5l-20 3l16 13l-4 3l-3 35l18 47l20-486l-2 22l9 48l-17 2l18 22l-16 2l12 0l-9 7l3 7l1 4l5 3l0 6l-21 4l23 16l-17 2l5 2l-2 2l17 1l-21 10l9 2l-4 2l-12 4l24 0l-21 8l9 4l2 0l8 1l-3 2l0 13l-17 2l24 12l0 5l-4 10l-1 1l-4 3l-7 1l0 5l19 2l-9 0l3 1l-1 3l-13 10l10 7l-14 1l10 0l13 5l0 4l-25 0l26 12l-19 11l1 1l11 9l-7 1l-5 20l-8 4l24 6l-12 7l-9 1l10 0l-10 8l11 2l-13 5l16 13l8 3l-24 33l12 41l20-448l10 9l13 18l-9 25l-2 1l9 10l-13 10l8 10l-3 3l4 3l-20 2l0 18l26 2l-5 8l-11 9l-4 5l-2 1l11 2l-4 1l-8 0l15 3l2 5l-8 15l-10 5l-2 3l18 6l5 3l-3 4l-21 9l28 0l0 3l-16 2l2 18l10 10l-5 6l-19 1l10 2l2 2l16 7l-7 9l-20 1l1 28l8 2l-10 1l21 30l6 4l-2 26l-15 7l-2 7l4 5l7 1l4 17l-12 12l8 3l14-370l20 7l-5 1l-9 3l16 6l-5 12l4 0l-14 2l4 12l-4 4l4 3l-9 3l1 1l10 7l-6 6l-11 2l13 11l0 3l-7 4l20 1l-3 6l0 4l-20 1l10 5l3 2l10 8l-17 5l-8 0l14 2l2 6l1 2l1 19l-11 1l11 5l-11 3l0 19l13 6l-5 0l-10 8l13 5l1 17l1 12l-21 2l10 2l-8 0l27 6l-29 7l9 0l-5 3l8 11l0 3l12 1l-23 3l9 4l15 7l-10 5l-4 4l8 4l-18 7l-1 4l8 3l-8 2l13 24l-13 6l0 2l46-347l-12 22l21 6l-6 13l-15 4l11 5l-2 1l-5 5l5 4l-2 4l12 15l-5 2l10 9l-19 2l-6 16l25 0l-13 19l-3 0l7 2l-15 3l10 12l12 3l-10 9l-6 5l-8 3l5 23l7 1l-3 6l9 6l1 5l4 38l-7 7l-2 0l8 33l-5 15l2 56l-20 28l47-391l-4 37l2 6l10 5l-10 9l-13 5l1 1l5 2l12 7l-4 10l-12 1l24 14l-25 22l16 1l-2 39l-15 3l10 0l16 1l-20 13l14 26l-14 15l20 6l-21 20l-6 12l24 14l-12 10l25-243l4 17l-5 7l-1 11l-1 22l15 13l-9 26l12 3l-5 12l-12 13l-4 8l1 61l-3 21l10 8l6 24l2 22l-18 6l34-263l6 15l-4 8l2 14l3 4l7 15l-12 24l7 1l-7 17l-4 36l4 10l10 41l-16 28l46-202l-2 40l-6 29l35-46l-6 8l8 114"/>
<path marker-start="url(#k14)" marker-mid="url(#k14)" marker-end="url(#k14)" d="M1448 1621l50-142l-17 98l46-171l0 34l0 4l-19 6l19 1l-17 3l8 14l10 7l-8 0l6 8l-13 9l14 10l-8 23l-6 6l0 2l-9 7l20 5l-16 14l25-269l15 1l-14 25l23 40l0 7l-8 28l10 9l0 12l-1 29l-20 17l20 1l1 21l-1 2l-11 1l-3 12l-10 10l0 3l4 19l15 3l2 39l28-257l-4 24l1 15l-14 3l7 22l3 1l-12 5l7 34l-2 7l-4 14l17 16l-22 5l0 4l26 3l-9 2l9 13l-9 3l-2 2l-11 1l-4 1l25 4l-25 2l2 14l20 11l-2 4l4 22l11-295l9 0l-5 6l8 31l-9 1l2 4l-4 33l11 10l4 0l6 0l-12 11l-15 9l27 29l-12 3l-5 6l16 1l-12 8l-12 1l18 7l-12 7l-5 1l10 3l-7 4l0 4l14 7l1 4l-11 11l-9 1l22 5l-23 4l17 4l0 0l12 17l-1 15l-14 11l-14 5l13 6l-1 1l-2 1l13 2l-12 7l11 52l27-495l1 53l6 7l0 59l2 20l-5 80l-5 24l5 10l-1 6l-12 0l-2 8l21 18l-25 2l23 4l-2 3l-12 2l-2 2l-3 5l9 4l11 9l-4 56l4 14l-2 1l-4 2l1 8l-1 12l-5 26l7 7l28-473l5 27l-17 50l10 28l6 35l-5 1l-7 23l-7 6l8 6l14 13l-9 21l-6 5l-13 32l10 1l-10 5l1 23l13 0l9 4l-20 9l-1 0l4 17l18 0l-13 2l17 2l-26 3l5 5l-7 3l26 7l-17 1l5 4l-4 9l-8 1l0 1l15 2l-17 2l16 2l-17 12l29 11l-24 3l9 7l13 2l2 17l-24 2l14 18l-9 1l3 11l-8 4l49-414l-22 11l21 3l-22 21l21 4l0 16l-21 22l5 31l2 5l6 24l5 10l-12 4l10 19l-12 3l7 18l-3 6l4 2l-12 14l27 4l-13 5l10 2l-13 9l4 2l-11 6l15 5l-20 3l28 2l-9 4l2 3l-6 10l9 4l-17 11l18 2l-16 3l12 6l6 16l2 0l-12 1l3 15l3 1l-15 2l11 17l1 13l-1 3l7 3l-13 13l-12 6l10 6l7 45l28-429l8 9l0 26l-1 2l4 11l-14 13l4 2l11 3l-2 3l-25 1l6 31l22 4l0 4l-6 2l-7 4l10 23l-16 6l-2 3l6 12l-5 1l13 2l-15 2l8 12l12 4l-11 5l-2 3l-2 10l15 11l0 10l-14 38l13 0l-2 10l-8 9l4 1l9 1l-12 5l-16 13l16 7l-12 9l24 7l-17 5l-12 11l12 5l-6 0l10 23l-15 14l3 4l3 1l12 2l22-390l0 6l5 38l0 6l-10 7l19 1l-10 0l-6 10l8 9l1 6l7 10l-5 1l4 4l-22 3l17 11l-2 6l-11 1l-4 29l1 1l6 0l11 3l-8 0l8 5l6 16l-5 8l-10 3l-8 3l6 6l9 3l-13 1l23 3l-3 4l3 6l-21 2l10 1l7 20l-13 5l-4 38l2 10l-5 13l-3 0l4 15l0 11l11 10l9 0l-4 3l38-325l-15 8l-5 1l-3 9l14 7l-18 13l0 0l8 8l15 0l-23 16l2 6l8 2l6 1l5 1l2 23l-7 2l2 9l8 0l-8 6l6 4l-6 3l3 0l-5 9l1 25l-8 11l-6 2l4 7l-8 3l11 8l-12 6l4 16l5 4l17 1l-21 8l13 3l-5 3l7 7l-10 2l-10 3l25 20l-24 12l26 3l-18 56l11 27l10-325l7 5l-5 4l20 12l-2 7l-11 10l18 3l-20 14l9 4l-5 43l5 9l-15 17l17 20l7 23l-12 5l-11 15l12 17l-11 41l5 4l-1 80l35-344l-2 7l7 15l-11 7l11 7l-17 13l10 2l-8 17l-1 5l3 2l23 16l-23 2l12 3l10 16l-15 6l-6 5l17 7l-13 8l17 2l-23 2l5 53l1 9l20 22l-24 48l46-221l8 12l-9 53l4 62l-4 11l-9 0l9 23l-3 16l30-200l-15 77l20 5l-21 15l14 10l-8 6l22 37l-25 110l35-175l14 43l-20 69l36-124"/>
<path marker-start="url(#k15)" marker-mid="url(#k15)" marker-end="url(#k15)" d="M1498 1462l-10 102l7 5l-3 6l7 4l-29 11l19 11l39-164l-12 0l5 2l6 12l1 5l-7 1l8 6l-20 20l3 32l-3 21l6 1l9 2l-5 8l9 14l-7 0l-1 12l-15 13l-3 4l15 21l21-284l7 9l-12 48l16 12l-8 3l-3 60l6 10l14 9l-3 1l-16 24l15 0l1 4l-17 4l-4 2l3 2l7 10l11 2l3 0l-28 0l29 5l-25 1l18 7l-4 6l-5 6l-9 1l19 27l-19 23l-4 11l34-267l22 14l-14 27l14 5l0 7l-5 20l0 2l-13 12l12 13l5 3l-20 22l9 0l10 4l-16 5l7 1l12 19l-24 6l-2 3l1 45l1 30l43-339l9 56l-12 17l-11 24l17 60l-7 26l0 15l11 0l4 6l-5 4l-17 9l-3 7l22 6l-8 20l-6 10l2 8l1 7l16 1l-18 25l15 13l14-277l11 6l-12 25l-3 21l7 19l-1 19l5 6l2 10l-12 1l-1 2l-5 0l4 27l9 1l11 17l-15 3l11 5l6 15l-4 7l-15 10l13 1l-11 0l14 0l1 13l-16 1l-8 14l23 4l-22 21l2 7l25 2l-16 22l37-375l-9 45l1 1l6 30l9 0l-17 61l-9 16l15 4l-13 4l5 15l16 4l-6 4l-10 9l5 4l5 21l-1 5l0 7l8 23l-12 14l-1 4l-2 20l3 6l7 5l3 9l-17 1l4 5l16 13l-21 1l4 9l42-394l-7 32l-6 64l17 45l1 8l-3 6l-3 3l-8 10l12 18l-24 12l5 2l21 31l-15 0l16 5l-11 35l1 3l11 3l-14 2l5 1l-11 5l6 2l7 1l-11 8l14 8l4 6l-7 1l-21 16l13 13l-9 9l12 0l6 5l-2 2l8 36l-22 21l-1 17l38-474l8 10l-3 6l11 22l-9 1l-17 14l-3 18l6 38l6 23l-5 11l10 9l8 12l-9 36l-9 6l10 5l5 5l3 10l-8 25l-17 7l26 4l2 14l-10 17l1 1l1 4l2 0l-15 3l8 6l-10 1l2 11l10 8l-11 4l18 12l-20 7l10 25l-10 8l19 7l-10 3l-11 9l6 9l18 15l25-432l-11 1l0 46l11 46l-17 13l11 8l-5 3l6 9l-10 9l7 37l-2 0l-3 2l18 5l-18 7l9 13l5 4l-3 31l-17 14l23 2l0 0l3 3l-23 2l17 4l-6 24l-2 0l1 1l13 7l-14 4l-3 13l-4 0l5 1l-10 8l10 40l-10 32l7 6l-8 68l50-450l-9 8l-3 3l3 13l13 1l2 6l-15 1l1 27l-2 6l13 5l-2 22l2 29l-18 6l3 13l9 5l-3 6l0 7l-9 11l18 2l-1 20l5 21l-10 1l-10 2l19 3l-8 1l5 29l-13 12l-5 3l1 0l6 5l11 1l5 11l-28 1l15 0l-13 8l16 21l1 3l8 35l19-349l-16 5l12 6l7 0l7 9l-3 12l-23 1l28 2l-26 7l25 3l-14 13l-13 5l25 8l-24 14l9 12l-1 4l18 8l-21 1l1 3l-6 1l21 18l-15 8l11 5l4 7l-13 9l-8 8l24 9l-12 13l10 10l-3 6l3 9l-8 0l11 28l-5 51l7 2l-2 0l-26 7l2 7l-1 32l45-337l-5 49l-12 7l16 13l-8 6l-7 21l1 28l21 23l4 2l2 3l-20 7l9 3l8 6l-5 0l-18 2l-1 17l1 8l8 10l10 10l-1 18l-8 2l11 2l-17 5l18 28l-24 43l1 2l58-281l-27 13l1 5l12 9l6 3l-6 7l-8 15l11 7l-5 9l-7 46l14 25l-3 17l-15 19l22 12l-13 15l-2 50l5 52l32-298l-5 10l4 5l-5 0l10 3l-6 6l10 4l-23 7l11 15l-10 15l8 19l-5 18l5 36l-4 23l10 188l32-305l-10 25l-6 21l14 3l4 68l1 21l3 34l-15 28l15 12l30-214l1 23l-24 3l23 92l-13 15l13 46l32-135l27-3l-3 141l3 39"/>
<path marker-start="url(#k16)" marker-mid="url(#k16)" marker-end="url(#k16)" d="M1436 1616l-22 34l50-51l21-70l11 21l0 0l-7 3l-4 12l-12 29l2 1l-1 14l11 28l24-132l-2 7l13 1l8 0l-13 35l-10 17l-3 5l5 5l-7 2l7 9l-7 9l8 5l14 18l30-229l-5 80l0 22l1 7l-3 0l12 5l1 6l-19 19l18 7l-17 3l9 34l-5 8l8 23l-21 1l52-339l3 182l-8 6l9 24l-11 0l-1 2l5 4l3 8l-23 4l24 5l-10 1l1 2l-7 9l15 6l-2 8l-6 12l-12 6l6 3l-1 5l4 1l-5 41l-4 31l35-240l18 50l-2 19l1 2l-19 26l18 12l-11 25l9 2l-7 6l6 8l-3 32l-9 6l12 2l14-307l2 100l20 11l-25 18l26 19l-20 3l8 11l1 5l11 2l-24 10l1 18l5 5l8 10l-17 3l14 14l9 9l-3 13l-15 3l5 23l-10 4l13 9l-12 3l5 11l25-286l21 55l2 31l3 19l-2 0l-10 18l6 9l5 2l-10 5l-9 3l4 7l-4 16l15 8l-11 0l7 5l10 11l-16 2l-10 2l13 2l9 2l-6 1l0 3l0 0l-16 1l7 9l-4 0l-4 4l3 22l1 26l13 4l-4 5l44-386l-18 43l10 66l6 11l-10 9l-2 34l-3 8l16 5l-8 4l-12 20l16 8l-3 7l-20 14l-1 5l24 10l-7 16l-17 11l23 4l-3 10l-2 4l-4 13l11 1l-12 2l8 43l-20 15l12 7l25-454l5 34l-4 23l11 30l4 44l4 27l-13 17l1 5l2 6l-15 16l21 17l-3 10l-15 18l-2 1l21 7l-25 8l8 20l-6 23l-2 10l12 28l-9 1l11 24l7 10l-19 8l11 1l-10 2l14 1l-6 16l45-407l-18 12l20 48l-11 27l-3 2l15 20l-11 19l-8 22l17 4l-7 9l-5 2l-5 1l1 2l-9 0l3 12l15 16l7 16l-20 8l2 4l17 15l-24 2l14 14l-4 1l1 5l4 27l-12 8l14 6l0 2l-8 13l8 3l1 7l4 13l-24 3l15 4l-5 1l17 17l-18 17l19 13l-28 12l44-396l12 2l-11 7l-14 14l15 7l7 8l-1 18l-17 15l23 18l-20 22l-8 18l26 5l-4 6l-3 0l-18 18l11 14l-6 33l-1 8l6 18l4 8l-14 9l10 7l15 4l-25 2l26 8l-14 49l1 10l15 0l-23 19l8 10l-2 8l14 16l-10 17l15-369l7 4l13 8l-20 11l4 10l-1 6l-2 14l5 29l0 3l6 5l7 6l8 1l-28 0l10 5l14 9l-13 2l7 2l-15 7l1 28l10 3l-3 15l13 9l-17 3l-2 34l13 3l-1 1l-15 14l23 17l-6 1l-16 17l-2 16l7 70l10 6l13-356l7 7l-3 5l12 6l-7 12l4 15l3 0l-15 9l23 16l-11 4l-3 3l8 1l-11 5l8 12l-9 5l15 2l-3 0l10 3l-26 22l1 12l11 0l0 2l0 7l-9 5l1 0l4 1l11 25l3 1l-18 5l13 4l-16 6l11 9l14 13l-27 20l2 10l5 25l0 45l19 15l17-331l3 2l-1 5l10 7l-24 9l20 0l-5 4l-11 2l1 7l21 4l-14 3l-10 12l4 2l-8 3l9 0l-4 13l10 34l-3 4l-12 0l9 3l-7 9l12 16l-10 25l4 0l14 3l4 9l-2 1l-6 5l-1 0l-14 1l-3 1l9 10l-2 17l15 77l-16 9l2 15l30-267l0 7l5 5l-4 1l8 33l-12 0l-4 9l18 32l1 3l-17 12l13 16l-13 21l13 4l-4 19l-8 75l19 2l-5 2l20-223l3 18l-7 3l8 68l-1 19l1 23l-3 152l20-275l0 1l20 28l-4 0l-4 57l-6 13l1 37l12 18l53-90l42 0l-10 36"/>
<path marker-start="url(#k17)" marker-mid="url(#k17)" marker-end="url(#k17)" d="M1463 1606l2 8l-3 0l0 10l-16 4l12 8l32-93l3 8l5 13l-10 1l-11 6l20 4l-19 5l17 1l-8 9l-2 5l-4 30l8 8l-19 29l58-155l-26 10l5 14l18 6l-21 2l0 0l0 4l14 4l8 8l-9 8l-4 1l-1 4l4 5l-14 4l2 18l39-175l-7 29l14 76l-1 11l1 9l-19 4l25 3l-15 4l-3 2l-8 8l25 8l-20 19l-4 20l10 1l35-207l2 63l-3 7l5 16l-17 4l7 5l-10 10l4 34l11 42l38-132l6 0l-20 1l6 4l-6 22l-7 19l25 0l-14 15l-11 2l-1 8l0 10l4 5l20 1l0 25l3 11l8-236l22 84l-19 70l4 4l6 1l-18 5l12 12l-12 1l-1 2l2 1l23 2l-17 5l10 1l-16 8l11 5l4 15l-14 7l49-256l-12 24l-6 45l-1 42l26 3l-27 25l14 7l10 36l-19 2l-2 9l-1 8l7 2l-9 6l19 11l3 3l-5 7l-3 6l-13 7l36-228l12 21l-1 24l-11 36l8 11l-6 12l9 48l6 10l-9 9l-11 23l14 1l-13 5l-7 19l24 1l15-425l19 111l-7 23l-1 30l9 30l0 8l-17 21l10 7l-15 3l-6 10l17 20l-17 2l20 16l8 15l-5 11l5 4l-10 16l-5 29l-8 8l4 7l-9 17l5 5l9 27l-8 15l11 17l33-448l5 64l-9 32l-14 31l3 1l19 15l-22 20l10 6l6 10l-11 15l-6 1l15 21l4 43l7 6l-5 18l-11 14l-2 14l1 6l3 11l-12 1l24 15l-19 9l22 12l-5 5l0 0l-10 21l-8 24l33-437l7 73l-9 21l20 64l-2 39l-22 1l23 12l-9 5l-15 39l25 14l-19 0l-5 1l9 18l-7 16l7 0l4 17l8 29l-24 2l26 7l-6 5l6 0l-24 3l18 22l-8 17l36-402l-12 18l19 11l1 3l-14 34l8 30l8 15l-2 5l-6 41l-12 1l15 7l-23 4l14 22l13 51l-12 21l13 7l-5 6l-3 4l-8 1l17 13l-24 17l-5 5l17 9l-13 57l17 9l8 4l15-376l-2 11l13 14l-3 21l-19 3l17 6l-3 24l11 14l-3 21l-5 4l-4 1l-6 7l11 8l1 16l-10 11l-9 4l6 37l18 5l0 10l-21 16l2 7l-7 29l10 4l16 1l-14 48l-7 16l18 5l-11 3l-9 3l4 30l4 16l34-374l12 25l-9 2l-3 12l9 1l-20 7l4 24l20 9l-4 14l-19 11l-5 1l6 7l-4 12l18 10l-5 14l2 7l-17 2l28 1l-19 6l-3 5l-4 1l16 6l-3 0l9 19l-20 58l16 4l2 5l-6 4l-6 1l-2 24l6 23l-8 14l-3 11l9 19l24-365l6 32l-1 14l-4 2l-2 3l13 13l-18 13l24 10l-6 3l-13 4l5 1l-6 8l11 8l5 10l-5 4l9 4l-14 2l9 10l-17 1l11 47l-3 17l-11 19l10 28l-6 7l2 2l21 6l-21 21l4 8l13 30l-10 34l17-333l21 5l-9 1l1 38l5 10l-1 12l3 6l6 3l-8 48l-12 20l0 19l18 5l-20 5l4 30l-8 24l20 29l-18 30l37-288l10 19l0 10l4 24l-23 40l28 9l-25 5l13 40l-16 4l3 27l37-136l4 44l-13 3l24 25l-11 33l-8 6l2 21l15 83l-10 8l6 3l-6 23l26-105l34-37l7 71"/>
<path marker-start="url(#k18)" marker-mid="url(#k18)" marker-end="url(#k18)" d="M1392 1692l38-66l-16 27l51-53l0 2l-6 4l-11 24l7 12l-4 1l41-68l-1 4l-18 15l25 2l-8 4l-19 17l11 8l-10 21l12 1l34-116l4 25l-16 19l17 11l-12 2l9 10l-19 2l25 0l-10 1l-15 2l1 2l11 2l7 1l-20 6l25 0l-5 4l25-68l-2 11l15 2l-12 2l2 9l-10 1l-4 21l3 22l45-160l0 77l-19 6l6 8l13 11l3 12l4 15l-22 6l-6 2l4 14l3 4l43-143l-4 13l-3 42l0 23l11 14l-6 21l-18 4l-1 10l59-149l-18 27l11 36l-6 20l-8 5l19 2l-21 1l-6 3l21 11l-21 16l1 2l14 5l-3 21l32-204l-11 20l16 36l4 49l5 5l-19 3l-3 0l18 3l-9 7l6 2l-16 25l3 2l6 27l27-175l5 41l-14 43l5 43l6 5l-4 4l-2 4l14 24l16-146l17 23l-6 12l2 2l-4 4l-10 6l8 15l3 4l-17 9l8 8l16 0l1 13l-24 3l0 10l11 9l-2 16l10 21l14-333l18 2l-6 29l2 45l8 23l-4 27l-10 5l9 8l-20 13l24 18l-22 1l9 14l-2 10l11 1l-4 6l-17 12l10 6l0 3l-9 1l26 17l-22 3l21 4l-15 5l10 21l-1 1l-20 14l7 9l-3 9l43-250l-7 37l18 47l-2 16l-17 27l19 2l-15 18l4 3l3 37l0 26l9 19l13-379l-1 50l8 9l-3 22l12 15l-14 29l15 32l-26 13l1 55l13 8l-9 18l6 15l-5 5l-8 10l9 4l15 10l-2 1l-2 70l-7 12l22-366l5 68l8 17l9 2l-25 6l16 22l-15 9l14 20l9 2l-14 1l-8 30l21 4l-14 10l10 5l-8 8l14 14l-17 33l-4 1l22 8l-14 15l-5 16l-10 6l22 6l27-334l-5 13l11 27l-8 4l4 9l-10 5l-4 6l-1 4l5 33l18 0l-7 5l-10 15l-7 16l5 44l17 1l-14 2l14 13l-24 55l5 18l20 15l-17 18l-10 6l26 8l-27 9l17 19l-8 34l21-325l3 96l-1 57l21 1l-19 19l22 14l-3 16l-23 9l7 12l3 11l4 9l10 34l2 27l16-333l-12 15l24 52l-11 13l10 11l-14 47l15 4l-13 4l12 6l-13 45l6 18l1 14l-16 16l1 38l26 18l-27 3l1 3l33-231l10 4l-15 6l16 19l8 20l5 70l-29 0l28 7l-27 18l20 8l12-199l19 52l-7 31l-7 2l6 20l-14 14l2 80l13 15l28-186l2 24l-1 43l-14 55l21 75l38-147l-26 65l11 29l15 21l4-45l64 13"/>
<path marker-start="url(#k19)" marker-mid="url(#k19)" marker-end="url(#k19)" d="M1401 1682l5 10l28-37l-16 1l50-59l0 2l-22 6l6 13l-2 6l0 2l1 1l0 12l8 4l-8 25l38-72l4 10l-4 5l4 3l5 13l-13 14l10 11l7-105l15 11l-2 22l9 9l-15 11l0 2l-6 1l2 8l-1 3l6 2l3 13l-1 5l19-122l6 8l21 34l-17 3l1 8l2 5l-5 2l-8 8l14 3l-7 1l-7 13l9 2l6 12l9 0l10-86l7 3l8 10l-4 7l-8 6l-1 48l17 11l18-99l15 27l-26 6l15 12l13 9l-27 5l-1 19l4 8l42-65l5 43l2 1l24-75l-4 10l6 5l-5 4l-9 15l15 4l-3 13l-14 0l5 15l-5 7l45-122l10 50l-18 16l6 0l-8 6l7 4l1 19l-10 12l-4 3l17 6l-7 9l37-243l-9 104l-1 34l-9 4l-1 3l2 10l21 37l-3 4l-5 23l-11 15l19 1l34-314l-2 142l-5 23l1 26l0 20l3 8l-9 3l-7 12l-5 9l17 16l-13 16l23-273l23 120l3 50l-23 73l11 17l-4 10l-4 4l10 12l36-246l-1 11l4 8l0 7l-23 51l2 3l23 12l1 18l-1 27l-14 5l-7 11l20 12l-7 2l6 4l3 19l18-268l11 87l0 76l-4 57l-17 33l9 12l8 44l35-341l-18 2l-8 52l22 40l-6 59l-8 21l5 1l11 27l5-206l6 18l20 86l-17 45l18 24l-27 39l16 13l-13 4l21 8l-21 13l3 4l-1 13l10 27l2 0l6 1l-4 3l-8 24l20-328l27 0l-23 26l9 3l1 7l-11 1l5 1l12 59l-4 3l-14 39l1 2l9 7l-5 12l5 40l-9 6l-5 5l23 2l-4 6l-16 14l20 59l33-225l-26 68l2 1l-2 13l16 0l-8 1l-3 8l-1 8l6 54l12 71l27-269l-15 17l8 49l10 4l7 12l-17 13l10 13l-2 4l2 30l-12 2l0 11l6 0l3 36l-18 49l31-223l6 108l10 3l-17 3l26 0l-2 12l-25 40l56-167l-26 48l25 20l-9 18l6 0l-9 13l5 57l19-107l5 48l10 21l28 78"/>
<path marker-start="url(#k20)" marker-mid="url(#k20)" marker-end="url(#k20)" d="M1409 1670l-8 17l28-27l-5 4l32-64l11 0l-2 29l3 4l-14 24l-2 3l-2 0l32-62l0 3l-2 1l-8 2l21 5l-19 22l2 1l-6 0l9 4l10 7l-11 1l50-79l-27 1l16 4l-10 11l5 33l-10 14l44-60l1 3l1 14l-9 28l4 4l0 10l20-84l9 11l13 14l-11 5l7 3l-1 25l1 13l21-78l-12 25l48-32l7 17l3 12l-15 24l-10 7l5 13l1 4l49-125l-28 101l59-103l-19 73l0 3l3 8l2 5l31-63l-16 10l9 19l1 4l9 13l15-121l24 1l-22 40l-4 44l12 7l6 13l4 2l-2 18l18-166l3 71l-8 4l6 34l-4 21l-5 4l4 2l4 10l25-320l-1 239l22 17l-1 34l-10 21l8 2l27-209l-15 123l10 27l41-249l-13 87l-7 32l-6 66l1 24l23 0l-19 14l14 31l-9 42l47-354l0 70l-1 42l-24 31l6 36l-7 17l24 18l-9 11l4 9l-1 51l-11 16l-5 39l39-341l16 35l-11 4l-5 164l16 8l-17 12l12 4l1 11l3 36l-6 3l-13 41l46-277l-12 7l1 11l11 40l2 63l-23 2l10 25l3 35l2 3l9 17l-23 11l12 18l-9 1l14 12l-7 9l7 3l33-266l-1 15l-7 5l-4 12l15 7l-22 1l14 9l9 4l-4 34l0 11l-13 1l11 14l-9 37l-12 35l18 22l9 16l4-185l4 36l17 25l2 27l-17 4l8 5l-2 1l-1 25l3 20l-12 7l50-124l-19 15l-3 41l0 31l8 13l6 2l10 4l2 2l1 1l-24 38l-2 30l35-188l0 153l33-35l4 8l15-44"/>
<path marker-start="url(#k21)" marker-mid="url(#k21)" marker-end="url(#k21)" d="M1406 1669l-9 15l-15 5l12 4l-12 2l38-30l13 0l-17 4l-1 8l39-34l-14 19l41-85l12 34l3 3l-18 4l15 3l-21 2l2 26l2 3l46-70l-19 28l6 8l0 2l6 19l0 1l31-68l-14 21l27 9l-17 44l23-85l13 38l0 2l2 30l35-22l-13 2l43-37l-16 7l37 4l27-12l33-32l-3 1l29-65l16 28l-1 51l32-42l13-91l-4 60l27-43l14 43l-2 4l22-198l15 64l-3 49l-4 19l-17 5l25 0l3 26l10-114l9 153l-4 15l41-231l5 40l-4 7l-21 16l19 32l-7 37l8 42l-10 3l14 21l-1 10l30-254l-23 5l18 9l0 71l-10 3l17 24l-3 1l-13 16l-9 64l12 4l-9 1l4 34l-4 8l45-252l-15 41l15 95l-13 10l8 16l10 8l-10 2l4 23l6 24l-10 15l-13 1l26-231l1 12l14 1l-2 23l3 9l1 1l2 9l-18 13l4 1l19 7l-17 5l-3 29l5 26l10 1l-16 58l27-143l12 26l0 38l1 22l28-60l-2 65l2 12l31-66"/>
<path marker-start="url(#k22)" marker-mid="url(#k22)" marker-end="url(#k22)" d="M1397 1687l31-19l-9 2l38-40l-17 14l19 13l-4 15l27-65l0 24l-2 1l17 1l-11 13l28-30l57-17l22-6l19 7l22 2l41-45l13-7l98-38l17 25l71-93l5 13l52-88l28-152l1 190l0 24l0 40l46-245l2 196l9-201l14 25l-3 20l-9 25l14 41l-17 93l29-201l11 20l-10 2l-4 34l5 4l7 45l5 37l-7 15l13 7l-21 8l49-100l-11 4l10 18l4 13l-2 77l44-65"/>
<path marker-start="url(#k23)" marker-mid="url(#k23)" marker-end="url(#k23)" d="M1376 1698l5-30l49-4l-8 6l13 1l78-49l11 3l-8 14l22-34l2 22l25-32l24 0l-21 27l8 2l31-27l22 3l-8 10l148-107l-12 29l123-43l15 11l26-85l22 9l34-7l61-180l-23 18l23 39l-22 144l41-162l5 117l-4 9l34-93l-22 40l6 20l44-74l5 48l-23 6l-1 11"/>
<path marker-start="url(#k23)" marker-mid="url(#k23)" marker-end="url(#k23)" d="M1399 1677l-12 8l-6 5l15 11l29-36l3 10l33-24l3 19l8-41l84-16l-4 5l6 8l-24 10l48-38l57-7l-14 5l-3 11l148-77l103-222l8 197l42-147l23 130l12-150l-7 107l9 15l41-78l29-39l3 74l-23 19l39-131l5 111l43-109l-16 6l-5 51l3 10l18 26l-5 4l22-111l-3 15l2 4l-5 18l2 22l-9 18l23 4l-3 15"/>
<path marker-start="url(#k22)" marker-mid="url(#k22)" marker-end="url(#k22)" d="M1405 1671l-16 17l24-34l35-20l6 22l54-23l30-45l11 33l1 19l18-35l6 3l-7 16l1 2l29-46l-1 19l22 24l20-28l38-40l89-115l0 100l31-7l15-107l-3 46l15 43l-13 13l-1 13l26-21l38-117l14 12l-24 39l27-147l1 143l28 11l-20 14l-7 7l52-227l-5 7l-18 144l21 48l-11 9l14 14l-9 3l21-145l5 59l6 20l28-180l-9 191l37-168l43 55l-19 10l4 4l-7 73l34-129l5 7l-9 76l43-57l-9 4l6 6l-11 84"/>
<path marker-start="url(#k21)" marker-mid="url(#k21)" marker-end="url(#k21)" d="M1425 1668l38-71l27 23l-2 12l-17 8l1 5l37-94l11 52l7 0l-24 0l2 16l83-43l6-14l20 21l1 7l-1 12l-1 14l31-45l-4 15l36-40l6 7l11 18l-9 1l44-48l7 8l-1 26l25-141l-18 70l16 37l3 11l0 27l21-114l18 7l-17 43l-4 6l19 2l-23 10l10 23l44-177l25-12l-20 165l9 5l39-143l-14 41l9 0l-6 57l4 17l-7 3l32-235l3 25l17 2l-12 63l-3 1l-9 3l18 66l5 53l-14 28l35-191l10 101l-26 8l26 47l-19 5l28-266l7 117l-12 74l21 10l3 30l-7 3l-13 34l23-237l29 3l-20 54l3 2l-10 17l27 39l-15 13l4 11l3 18l3 12l-10 16l-14 17l4 21l12 11l31-253l0 59l3 1l-17 22l17 7l-18 52l21 58l2 18l5-172l2 11l27 18l-17 8l16 3l-27 41l13 29l62-18l2 23l18-44"/>
<path marker-start="url(#k20)" marker-mid="url(#k20)" marker-end="url(#k20)" d="M1399 1673l-5 9l-6 10l40-46l-4 12l8 1l-17 4l21 3l-13 8l21-53l19 1l0 0l-5 5l0 9l-18 3l4 9l8 6l14 5l-8 1l33-57l-21 1l19 7l-5 4l-2 6l10 0l-12 5l-10 6l2 3l14 1l6 8l-18 5l3 4l-1 4l32-90l-3 8l12 24l3 3l0 21l-15 9l40-69l9 20l-16 11l14 5l-15 4l15 10l-16 13l2 2l34-82l12 11l1 1l-20 1l9 34l-9 14l29-38l37-23l10 55l38-140l-25 65l6 17l-4 19l1 28l23-76l8 2l19 7l-8 10l-1 13l0 9l8 3l25-74l-17 59l25 3l-26 1l-1 7l0 0l27 4l25-138l-7 67l9 30l2 8l-12 27l41-79l-22 9l-4 15l5 25l38-69l-6 3l11 6l-9 8l18 16l-20 2l2 25l0 7l14 4l22-247l1 35l-4 23l12 9l-5 67l1 2l-17 41l38-197l7 140l-2 5l12 4l-5 54l10-280l13 79l-3 58l5 8l-19 55l23 53l-3 16l1 20l5 3l-25 4l15 22l13 2l-21 2l24-321l27 59l-15 3l14 3l-23 46l6 31l-2 21l-6 27l11 1l-11 67l5 5l21 4l-4 25l-25 12l58-294l-15 23l-4 24l-9 7l1 4l1 21l-2 42l24 50l2 45l-11 0l-2 14l1 24l26-244l1 27l6 1l-13 36l-2 16l23 15l-16 21l6 44l1 3l-5 24l4 4l7 16l3 31l-22 22l43-199l-4 26l-2 28l-10 14l0 42l28 28l18-104l1 143l17-181l20 3l-3 4l4 22l-11 78l-11 41"/>
<path marker-start="url(#k19)" marker-mid="url(#k19)" marker-end="url(#k19)" d="M1427 1640l42-36l-7 12l-1 3l-7 12l-5 3l14 9l-14 3l3 2l-11 0l24 12l27-115l-5 2l3 5l-3 16l-4 19l-12 5l1 18l10 12l2 1l-12 1l5 5l-2 6l18 2l-16 10l-7 16l58-116l-16 20l-2 20l14 9l-21 3l26 2l-18 7l-2 25l-6 12l39-113l7 32l3 2l0 8l-4 4l4 7l3 2l4 16l-10 3l-11 26l4 3l30-158l17 3l-1 43l-23 4l2 1l-2 33l1 10l10 4l-1 6l1 3l6 4l-15 14l-4 12l50-76l2 36l-20 22l-5 18l31-125l15 21l-2 6l-10 14l8 32l42-97l-14 47l-4 20l0 7l-1 1l5 10l14 14l-24 7l9 16l3 1l39-313l0 196l2 66l-9 2l7 7l-14 9l44-153l-7 78l6 49l5 2l34-244l-18 81l6 61l-9 16l-5 16l7 32l11 16l-9 9l-4 2l43-221l-11 58l1 30l-6 7l10 19l-5 2l-10 14l27 10l-3 90l18-311l11 63l-19 51l25 29l-12 7l-1 33l-9 35l-6 9l18 2l5 0l0 7l-21 29l10 4l-11 0l22 15l0 1l1 22l-14 1l35-355l2 7l5 7l-4 18l8 74l-9 17l-12 15l-3 39l18 4l-1 25l-5 16l-12 25l21 33l-2 55l-8 27l28-359l-11 66l23 28l0 16l-12 44l5 3l-13 44l15 9l-14 16l15 8l-14 8l-4 4l8 44l6 10l-6 1l6 10l-13 21l27-334l14 30l7 42l6 23l-9 12l9 34l-16 8l-4 6l13 2l-17 33l3 5l4 6l10 29l-1 11l8 1l1 6l-5 44l-10 1l40-297l-8 10l4 19l8 1l-10 46l-3 17l11 3l1 1l-16 5l9 13l-12 52l10 11l-8 10l7 9l-14 39l13 39l-2 34l-7 2l40-309l6 8l-6 9l-7 36l11 24l-20 1l15 11l10 0l-15 5l13 5l-21 29l10 39l2 24l-11 1l-1 29l6 24l16 3l27-218l-19 36l27 26l-26 12l8 25l2 6l-4 32l20 22l-14 12l9 10l-17 22l21 33l4-155l25 21l-19 42l16 19l-22 2l1 2l9 80l18-206l8 29l21 77l-12 81l18-116l0 57l8 18l38-60"/>
<path marker-start="url(#k18)" marker-mid="url(#k18)" marker-end="url(#k18)" d="M1389 1691l40-38l38-54l-7 2l8 8l-16 7l4 4l5 5l-8 3l-12 13l20 7l5 0l-21 3l52-85l-17 3l19 13l-2 12l2 6l-1 21l-15 1l4 5l-15 5l12 32l32-176l-13 57l16 8l1 16l-10 7l12 6l-12 4l15 0l3 4l-12 3l2 1l-2 1l3 12l-14 1l5 9l-10 2l29 4l30-120l-23 34l20 10l-10 0l-5 1l1 6l9 15l-16 3l16 1l-16 6l4 2l-9 3l13 2l13 14l-16 1l18 4l-28 3l16 18l43-138l-22 15l-5 18l25 24l-23 9l13 0l-16 15l16 4l3 21l-2 10l-8 1l21-150l2 57l7 16l8 11l11 16l-11 39l15-115l8 39l-9 3l8 7l10 0l2 7l-5 4l-11 1l16 3l-5 5l-4 7l14 31l-9 4l-3 1l33-138l-6 49l14 6l-7 17l-3 6l9 3l0 6l-21 5l14 7l-17 5l12 21l24-180l13 7l-17 37l-3 30l22 10l-19 24l0 15l16 6l-10 4l6 19l13 26l6-253l-2 11l17 24l-8 30l-6 59l-5 3l26 6l-2 1l5 21l-9 14l-19 0l6 8l4 1l4 7l-6 12l6 1l14 7l-24 9l15 10l7 5l24-323l-8 65l9 2l-19 75l10 27l-12 11l16 10l-11 44l0 3l13 2l-9 3l-8 9l12 2l-10 3l11 4l1 13l9 15l-19 0l34-406l2 252l3 2l-15 0l20 32l7 4l-6 11l-19 2l13 15l10 38l-2 11l-1 14l30-347l-9 1l-9 33l21 20l-21 67l20 4l4 34l-19 90l-2 1l-7 25l8 6l16 12l4 4l-27 75l45-331l-3 22l-3 6l-6 34l25 9l-20 10l-5 0l11 8l-15 32l24 13l-14 36l-8 61l8 7l10 13l-13 0l3 3l-5 12l14 20l-18 33l10 8l-10 5l41-374l-11 30l10 21l7 6l-12 55l-5 11l9 5l8 17l-1 16l-11 19l-2 7l-4 33l13 8l-7 6l19 12l-8 20l-8 7l19 24l-8 31l38-312l-2 5l-25 10l3 7l4 8l15 1l-9 52l13 7l-20 9l14 2l-4 9l8 20l-9 2l8 21l-8 1l13 19l-14 7l8 1l-16 7l12 12l1 9l8 18l-11 27l-13 22l24 47l30-319l-9 8l-14 20l5 1l1 1l-9 9l11 0l2 13l-9 9l23 20l-8 14l4 2l-22 13l12 48l-1 1l-14 13l18 0l7 1l-22 7l2 5l19 3l-23 20l12 28l8 0l-21 8l14 2l8 13l-18 22l16 39l16-312l-2 6l4 59l3 14l9 9l-18 79l13 55l-6 9l10 0l-1 1l-13 62l26-267l14 18l-12 5l0 19l18 17l-4 42l12 47l-27 47l23 48l-8 16l-15 18l29-200l-1 48l28 8l-27 80l2 29l58-154l25 104"/>
<path marker-start="url(#k17)" marker-mid="url(#k17)" marker-end="url(#k17)" d="M1460 1578l-4 37l0 5l10 3l-10 15l-1 4l34-100l10 12l-1 8l-12 11l7 2l3 2l-7 10l-14 14l23 2l-14 3l0 18l-13 7l17 8l-11 5l41-141l3 34l-17 3l-4 1l1 3l25 4l-6 25l8 3l-28 1l19 8l-10 6l-2 12l52-142l-2 73l-26 45l3 3l3 18l-5 2l24 2l20-202l3 64l-7 4l-2 5l16 19l-9 6l-15 6l21 8l-17 4l18 16l-21 1l12 3l11 21l-7 3l-19 4l15 50l17-253l25 106l-14 5l-11 0l3 27l0 0l15 4l-8 6l-10 2l-2 12l11 8l4 7l-5 4l19 25l-2 3l-5 1l-15 5l-5 5l49-197l-5 42l-3 18l15 5l1 30l-12 3l-17 4l15 20l7 44l6 28l-8 1l-11 3l31-243l-2 43l20 41l-25 27l24 33l-23 9l15 2l-17 12l18 4l-18 33l48-372l7 24l-15 254l-11 2l11 19l14 4l-24 2l21 17l3 6l-22 3l-4 7l26 2l-21 8l23 29l9-423l0 123l2 4l14 57l-4 8l-4 11l-14 22l3 22l-4 34l26 38l-20 2l10 2l-8 16l-7 1l15 8l6 11l-13 16l18 38l18-366l11 5l2 54l1 5l-14 24l5 37l-10 22l9 0l10 22l-21 29l20 0l-22 41l3 2l-1 1l20 16l-25 43l14 28l-5 48l-6 13l39-421l-2 40l10 21l-16 3l-3 3l-1 10l26 15l-10 7l7 31l-16 18l-5 46l24 28l-5 3l-13 3l-11 6l28 28l-8 2l-19 20l19 16l-5 19l-7 4l10 1l-9 3l-1 8l-7 0l22 18l-1 28l11-401l26 1l-10 2l-12 9l1 10l5 14l-13 8l23 16l4 9l-13 2l-14 6l19 3l-6 5l7 12l3 11l2 2l-21 0l16 3l1 34l-5 25l-12 1l21 21l-6 5l-7 9l1 4l-2 2l3 2l-8 7l8 14l-9 25l6 3l12 10l-15 0l19 0l-10 4l11 8l-7 1l6 8l-12 8l14 16l-24 1l-4 0l8 15l15 8l0 23l-6 7l-2 3l20-372l3 11l-2 4l-2 18l-5 17l6 0l-6 13l18 10l4 32l-1 19l-7 29l12 2l-26 4l1 2l4 29l15 4l-4 23l0 8l8 27l-9 24l-12 26l25 38l-20 3l1 17l30-352l7 15l6 15l-21 18l15 3l-16 2l15 19l13 8l-20 20l18 10l-23 10l6 11l17 1l-12 7l7 0l-1 15l4 32l-13 1l18 5l-7 18l5 30l-20 15l22 45l-13 1l0 1l7 48l22-342l8 8l1 2l4 3l1 21l-14 0l-6 47l3 15l-11 7l7 50l4 12l-12 7l5 7l13 4l-16 46l16 14l-8 33l-5 7l6 13l9 25l-20 5l37-307l-7 7l21 21l-10 4l-2 10l0 3l11 11l-5 54l2 4l-13 0l21 12l-11 25l-4 62l-8 12l1 19l17 3l9 12l-12 14l28-267l2 20l-16 26l15 7l-2 7l-9 0l8 4l15 10l0 6l-10 38l-1 13l-13 99l20 23l-11 4l37-224l9 4l-14 16l-3 5l6 4l-3 18l7 43l-14 15l4 11l7 31l28-135l-14 72l44-9"/>
<path marker-start="url(#k16)" marker-mid="url(#k16)" marker-end="url(#k16)" d="M1468 1604l1 18l-19 9l14 6l33-77l-4 5l-8 19l-8 2l-6 12l3 18l-3 15l0 6l36-190l21 62l-20 7l-8 4l12 7l-2 4l-6 1l4 8l14 1l-17 8l4 0l5 4l-11 21l26 5l-29 19l10 11l36-117l5 10l-2 12l-14 15l10 0l-9 0l21 18l-15 3l16 3l-18 7l4 10l-5 14l3 8l-12 17l17 3l-15 4l4 17l43-236l8 39l-23 2l22 41l3 0l-13 10l9 2l-13 11l8 11l4 10l-17 8l9 5l-4 0l2 5l-11 24l42-244l0 30l5 43l4 74l-3 1l5 7l-10 6l-8 12l-6 0l22 1l-7 0l-9 13l19 21l-11 3l1 18l-3 21l31-217l-12 25l11 6l10 41l4 25l-24 6l21 10l-19 2l23 6l-5 0l-5 21l-16 4l23 13l-6 3l-6 4l2 2l-8 4l10 14l-8 12l4 30l29-309l8 26l-18 5l0 35l12 11l12 2l-6 6l3 20l2 9l0 4l-8 6l-18 30l20 6l-20 10l29 5l-13 16l-16 14l21 8l-10 1l6 3l-3 6l-11 11l25 8l-19 30l2 32l-9 17l43-463l13 10l-13 86l11 82l-11 38l-5 23l2 7l-8 0l14 12l-4 27l7 6l-16 2l19 2l-19 9l6 9l-5 3l22 9l-17 6l10 7l0 10l5 3l-15 0l-10 4l0 3l5 0l19 4l2 12l-22 9l6 0l15 12l-13 12l20-378l10 38l8 3l-3 38l-7 9l17 7l-8 54l6 10l2 0l-18 8l3 47l7 9l1 5l-11 15l14 3l-15 3l-5 20l0 6l3 1l0 4l-5 8l0 1l5 5l14 8l8 3l-27 1l9 1l15 72l-2 3l32-435l-23 3l4 43l9 55l5 6l-4 34l-6 5l17 0l-5 25l-20 2l17 5l-19 2l19 3l-17 9l18 6l0 22l-18 19l-2 9l6 41l22 3l-28 2l16 20l-13 22l24 13l-8 31l-9 6l-4 8l11 14l29-428l-10 21l-6 17l17 21l1 12l-12 1l9 26l3 2l-11 25l11 46l-17 4l19 14l-7 10l6 6l-16 20l-3 3l19 2l-11 0l-2 4l-5 7l17 49l0 22l-16 6l6 4l20 4l-4 8l-5 3l-16 0l1 3l15 2l-12 5l3 4l6 5l-5 5l3 2l-6 8l3 0l-4 1l-8 3l6 3l12 27l0 0l-6 3l47-388l-7 2l-1 39l-5 1l-9 4l6 7l16 2l-18 1l18 25l-29 8l3 1l0 13l25 25l-5 2l-21 20l13 7l-4 16l-3 4l15 2l-14 1l-6 13l26 22l-8 18l5 3l-23 3l6 5l-7 7l18 2l-2 17l9 20l-4 0l-2 1l-12 8l4 3l11 3l-18 27l3 0l6 12l-9 2l13 6l-15 3l4 18l-4 28l6 3l36-393l-4 20l-1 4l3 10l-4 4l-5 10l15 2l8 15l-13 5l4 1l-9 3l14 6l-8 11l-12 4l16 13l-18 12l6 1l13 7l-9 27l-2 22l14 10l-8 14l-15 1l5 2l8 5l-4 24l10 1l-17 39l17 3l-19 10l2 13l-1 17l34-293l5 12l-4 20l8 7l7 5l-7 22l-2 3l16 2l-10 4l-5 11l-5 3l-7 2l5 1l17 11l-2 10l-3 17l8 7l-9 3l-14 11l9 3l-12 4l0 16l-1 10l20 14l-6 108l26-313l12 24l-10 3l1 19l6 35l0 12l-19 6l3 9l-1 1l-2 35l15 8l-12 7l5 12l14 6l-5 34l-17 27l10 17l0 49l28-271l-7 13l10 38l-11 19l26 4l-7 22l-18 12l25 46l-1 21l-10 69l15-231l19 39l-10 3l10 11l-12 2l21 21l-4 40l-17 27l38-138l-10 79l-4 10l20 41l-17 46"/>
<path marker-start="url(#k15)" marker-mid="url(#k15)" marker-end="url(#k15)" d="M1460 1638l-20 6l56-92l-2 32l-5 2l-12 2l0 7l2 1l-4 26l6 0l36-219l1 58l-4 2l11 18l-21 14l21 22l-14 11l9 3l-2 14l9 9l-14 5l13 6l-21 14l7 25l35-281l0 53l8 31l-21 34l7 8l-9 0l0 2l13 5l-5 5l4 18l7 2l-11 2l3 1l10 6l-14 25l17 19l-20 6l16 13l-15 18l50-280l-5 112l2 8l-5 11l-1 7l-18 7l20 1l0 4l2 4l-15 4l8 6l12 3l-17 1l-9 6l21 6l-15 2l11 1l-9 2l9 4l11 2l-22 3l-3 3l0 1l13 8l-6 4l13 7l-1 4l-22 5l25 14l1 8l0 7l-13 3l14 6l8-333l10 51l5 44l-7 19l-6 20l2 16l-3 12l19 7l-7 22l-9 4l14 8l-14 15l-8 15l14 13l11 16l-10 0l2 4l-13 27l14 33l-11 6l44-334l0 48l-22 18l22 50l-20 41l-3 5l14 13l-12 3l18 20l-1 8l8 10l0 13l-15 3l7 2l-8 22l6 4l-16 6l0 5l14 4l12 22l-16 12l-1 12l11 0l-5 23l-14 10l46-446l5 27l2 67l-17 13l-2 29l1 20l2 2l9 5l-12 2l13 21l-6 17l13 17l-17 22l7 0l13 16l-4 28l-1 3l-1 6l-14 19l-5 12l5 9l6 0l4 4l6 5l1 4l-24 3l17 40l5 23l25-439l-3 32l1 79l4 1l-12 4l5 14l-5 9l11 12l-4 1l13 0l-18 29l2 15l2 3l13 5l-6 3l-12 48l15 3l-16 16l7 4l-15 1l3 6l4 2l17 5l-14 10l2 5l2 5l14 8l-5 2l-24 0l8 15l17 14l-9 3l9 4l0 1l-20 17l-3 7l16 4l5 6l3 14l-6 37l13-435l12 10l11 12l-16 20l8 1l5 55l-21 16l16 13l-8 12l5 12l-6 13l-5 10l8 15l2 8l3 0l9 1l-15 4l13 20l-8 1l-1 3l3 2l-3 6l-11 12l-3 3l14 9l-9 1l8 2l7 6l-7 16l-14 5l12 3l13 1l1 10l-4 2l-6 8l3 13l-13 3l3 7l20 5l-21 12l8 14l1 24l-3 24l-14 33l50-466l2 2l-13 9l-3 20l17 8l-3 24l-3 3l-4 25l-6 5l-6 5l13 6l7 0l-1 11l-11 14l19 18l-14 9l15 1l-8 22l-1 4l2 17l6 6l-3 6l3 4l-22 7l17 13l-1 13l-22 3l0 2l7 8l16 33l-23 13l11 49l-4 10l-1 2l0 4l4 10l-7 63l38-455l-8 4l-1 8l-2 21l18 7l-3 27l14 4l-26 13l19 9l1 2l-10 0l14 1l-16 4l-10 1l6 14l18 4l-1 41l-7 2l0 8l7 2l2 23l-26 8l5 27l20 2l4 4l-10 0l-8 11l-2 14l17 8l-14 24l-10 17l20 12l-7 4l-3 13l5 25l23-347l16 8l-19 2l-5 2l10 4l-1 14l-3 17l-5 45l-3 0l14 5l10 13l-22 6l12 0l1 11l14 7l-20 4l14 5l-4 7l6 11l-12 4l-3 22l-6 5l20 11l-3 1l-13 4l20 1l-23 2l7 4l8 17l4 3l-12 1l14 0l-4 1l-19 10l5 15l6 5l-12 3l3 32l53-268l-6 0l-10 9l-6 20l15 4l-11 7l11 1l-9 4l12 9l-16 10l-1 5l10 12l-9 74l13 21l-17 16l8 1l7 5l-6 17l-1 37l11 57l-22 17l32-326l-3 3l20 28l8 59l-9 39l-9 9l-8 29l2 29l-2 16l10 10l4 17l-7 1l7 24l17-259l1 12l12 36l4 2l-17 1l6 12l6 12l5 39l-3 1l-6 3l-6 14l10 8l6 3l-7 7l-10 13l-4 8l24 25l-13 30l2 78l26-52l-4 21l42-214l-8 96l39-33l-9 0l-7 38l35-107"/>
<path marker-start="url(#k14)" marker-mid="url(#k14)" marker-end="url(#k14)" d="M1495 1524l0 41l-6 9l1 8l0 8l36-216l-14 41l9 25l5 12l-13 9l-5 4l12 18l-12 7l9 3l7 0l2 0l-16 11l11 5l4 5l-16 2l16 2l2 36l-23 32l49-328l-7 58l10 75l-22 10l13 0l9 11l-10 14l-13 7l23 15l-9 4l12 4l-22 3l4 3l11 9l-15 9l3 3l5 5l-3 8l-6 32l-2 3l15 52l0 1l35-412l3 112l1 8l-12 9l-8 3l17 26l-12 25l12 31l-6 23l5 6l-10 3l11 6l-21 9l19 14l-7 6l-10 8l7 1l8 3l-5 5l-5 12l3 4l7 0l-14 4l22 2l-3 4l-22 7l4 3l17 4l-15 18l38-243l8 39l-8 29l-5 22l2 15l5 16l-16 10l23 1l-18 10l12 18l0 2l-2 0l10 6l-8 0l0 1l1 5l-15 10l17 1l5 9l-22 3l12 16l2 21l-11 38l36-392l-1 39l-9 12l11 20l-8 46l-5 7l18 6l7 0l-25 2l12 13l11 12l-25 1l25 3l-18 6l5 4l-8 1l0 3l10 0l-9 24l8 2l-4 7l13 42l2 5l-23 9l-3 2l4 6l1 3l3 4l18 6l-12 3l-7 2l-5 2l0 3l23 20l-24 10l1 15l27 11l-21 16l1 21l42-470l-15 88l5 14l7 11l5 11l-15 8l7 1l-6 17l19 0l-23 20l13 17l-12 18l11 6l-5 3l7 20l-2 10l-8 1l-6 7l19 24l-12 1l12 3l-1 2l-1 15l-20 4l23 1l-8 2l-3 4l0 6l-7 2l2 1l22 7l-9 30l0 5l-11 15l5 10l-1 26l-11 6l21 13l-11 15l14 17l26-475l-3 16l-1 52l-7 4l11 20l5 11l2 8l-14 3l-8 9l18 5l-5 11l9 6l-27 6l15 2l-13 12l21 3l4 4l-29 18l15 5l9 4l-24 10l10 11l19 3l-3 6l-15 1l7 6l-18 2l29 3l-10 1l-13 17l-6 4l14 3l-10 2l0 3l-4 4l17 2l-13 8l10 4l-9 4l-3 6l14 1l-2 8l-7 8l17 1l-16 14l-5 1l11 1l0 15l-9 1l13 9l-12 0l-3 4l-2 12l5 29l7 12l-12 10l4 14l-4 14l1 0l31-428l8 2l-2 9l5 7l15 15l-4 4l-12 14l-5 3l3 10l14 14l-18 22l16 6l-21 2l22 31l-9 6l9 16l-14 1l1 12l2 22l15 6l-13 2l-6 3l-2 1l22 15l-28 1l5 20l6 0l12 2l-6 2l-11 2l14 3l-14 10l2 16l-1 32l11 1l-14 0l7 7l4 2l-10 1l4 44l11 14l27-366l-3 2l-8 0l19 2l-15 14l-10 2l23 10l-2 1l5 15l-19 4l-7 8l17 1l0 1l5 4l-11 6l14 6l2 2l-3 2l-2 14l-21 3l12 2l-5 5l19 2l-22 6l7 2l1 1l-2 15l-6 3l-5 9l17 20l-5 3l-12 2l21 4l7 0l-24 2l-5 6l2 6l14 11l-10 2l-1 10l17 8l4 3l-18 6l19 3l-13 9l-6 1l-1 11l-5 14l13 2l11 15l2 16l-13 8l9 14l1 2l-22 15l-2 6l20 17l-19 16l56-387l-25 4l0 3l-2 1l-1 5l15 5l8 10l1 10l-13 1l-9 13l1 10l0 7l-1 20l21 8l-14 11l7 18l5 11l-8 0l10 4l-8 0l-15 16l25 14l-11 16l-3 8l2 7l-13 12l28 5l-16 10l-11 23l4 7l16 1l-18 10l-1 2l2 55l1 8l4 12l-1 47l27-388l-5 3l29 5l-26 4l0 6l-3 8l14 2l-1 1l5 1l-17 2l3 0l6 5l-1 4l4 0l-2 34l-4 18l3 1l15 8l-21 11l1 3l17 46l-13 2l5 17l7 3l-18 5l11 3l-4 69l0 12l14 19l-2 40l-2 52l10-366l25 3l-20 1l-5 7l25 18l-23 6l10 9l1 3l-4 20l-7 2l24 8l-9 0l5 2l-8 16l-7 11l1 7l-7 1l4 18l16 51l-8 24l-10 56l28-250l18 7l-18 5l12 13l13 42l0 25l-4 8l-16 4l1 5l0 2l16 0l-8 77l-8 4l44-171l-2 50l-13 54l-1 53l-1 67l4 26l64-109l31 33"/>
<path marker-start="url(#k13)" marker-mid="url(#k13)" marker-end="url(#k13)" d="M1498 1466l0 105l30-318l-13 96l-12 20l-2 11l26 45l-11 6l-3 10l3 16l-12 31l-2 16l7 21l18 17l22-333l9 77l-10 44l-5 1l7 17l-17 6l26 28l-1 2l-17 4l14 2l-13 14l8 15l-20 17l11 8l15 5l-18 5l18 3l-4 6l4 18l-7 29l9 16l27-314l4 39l-27 30l12 8l13 36l-3 14l1 26l-6 2l8 9l-25 3l5 1l-5 1l4 1l-2 10l13 2l-9 8l10 11l-1 27l-7 1l-1 6l11 66l8 0l-24 3l-1 1l18 6l-20 5l1 20l7 13l46-427l-3 1l-5 43l11 2l-8 36l-4 4l5 5l-3 9l-4 23l13 7l-1 7l-4 7l1 4l-10 14l0 3l-12 7l-1 1l18 11l2 8l-2 3l-1 7l-4 6l-4 6l1 9l-1 6l12 2l5 9l-14 2l-9 1l13 1l-16 8l24 8l-13 3l3 8l15 9l-5 10l-10 2l0 9l2 3l7 3l-4 8l-13 6l14 24l9 13l-5 37l26-449l-9 37l9 32l7 1l-7 11l3 10l-9 6l-8 17l16 2l-10 18l-6 0l21 11l1 1l-8 6l9 3l-8 8l-5 0l-1 6l-14 0l3 2l5 27l15 8l5 0l-27 15l8 13l6 2l-15 2l8 32l5 11l-14 4l25 2l0 3l-15 4l8 8l4 8l-7 20l-10 30l4 7l-8 7l21 9l0 8l-22 17l28 3l-15 26l27-444l12 6l-10 11l-6 18l-6 0l26 4l-4 20l-7 7l7 7l-3 14l0 6l8 8l-15 2l-1 15l4 0l14 5l-23 10l12 13l-17 4l21 2l-7 4l-13 9l3 3l11 16l13 0l-2 1l-6 5l-2 1l-2 7l-14 4l22 2l-1 2l-12 7l2 0l-8 2l15 7l-1 8l7 4l-16 1l7 7l6 1l-8 4l-3 4l-8 1l-5 11l26 2l-3 3l0 1l-22 9l-1 5l23 1l-23 19l1 7l16 14l-10 1l13 0l-15 7l5 2l17 33l-18 10l3 3l-11 3l18 30l34-397l-19 6l23 4l-14 3l16 31l-4 0l-15 18l19 7l-10 5l-9 5l19 9l-8 19l8 5l-21 4l18 5l-12 5l-10 0l16 12l-1 3l-1 3l-18 5l19 3l7 3l3 5l-15 4l-7 9l8 21l-14 6l13 7l-10 2l4 1l20 4l-23 3l-2 0l20 8l-20 21l5 11l-8 25l2 12l6 27l-4 1l22 2l-8 9l-7 16l-3 1l7 25l4 9l36-395l-23 10l19 7l-10 8l5 1l5 1l-6 3l-2 3l-11 2l-2 1l25 2l-20 31l-2 2l25 9l-24 1l4 8l-2 1l15 4l-10 2l-2 0l-4 18l5 9l0 3l-8 13l4 10l13 2l-11 2l15 2l5 14l-10 18l-1 1l-10 13l-4 0l11 4l3 9l12 21l-7 1l-14 5l21 4l-23 11l16 13l-20 24l8 9l-9 10l15 33l12 12l9-351l-3 8l-1 1l6 9l17 12l2 4l-28 8l6 1l15 5l-18 5l7 11l2 5l-9 0l16 2l-10 8l-2 28l8 11l13 4l-13 6l2 2l5 3l-18 7l4 3l10 0l-13 14l19 57l5 3l-24 16l-1 10l15 2l-2 13l8 7l-1 0l-20 73l19 27l12-364l19 15l-18 0l3 6l4 3l14 13l-16 6l9 0l-6 5l-9 36l5 21l9 7l-16 4l19 1l5 3l-18 6l15 2l-2 61l-16 2l14 12l-13 19l5 2l13 1l-20 2l14 12l-9 10l13 11l4 10l19-249l5 11l-4 3l-6 1l-5 1l15 1l-15 6l20 9l-8 2l2 7l5 2l-24 10l-1 13l28 27l-20 11l-2 7l22 2l-23 3l-1 13l12 2l-8 31l13 37l-19 65l43-244l0 9l-10 12l-4 31l-1 29l6 18l-5 16l10 84l13 24l33-184l-23 8l3 15l-1 14l23 18l-20 10l-3 76l-1 54l33-209l17 25l-22 84l28-112"/>
<path marker-start="url(#k12)" marker-mid="url(#k12)" marker-end="url(#k12)" d="M1495 1256l4 76l-1 250l25-276l-7 54l6 10l1 9l2 20l-7 24l8 3l-1 19l-9 15l5 4l-9 23l-8 34l16 8l26-347l-5 26l-2 43l5 2l-2 24l1 21l11 2l1 15l3 9l-18 13l9 6l-9 4l-3 7l16 1l-8 7l-7 1l21 2l-9 8l-16 5l14 6l8 4l-6 6l1 27l1 21l-1 3l-21 10l27 1l1 5l-19 2l-8 0l26 6l-17 0l-8 36l48-358l-15 59l-3 25l24 3l-6 36l-6 15l13 5l-10 9l-7 2l-1 2l17 1l-22 10l25 4l-17 3l10 1l2 10l-8 4l-12 7l23 6l-25 0l5 0l12 7l6 1l-16 1l19 7l-17 4l2 3l-5 5l18 4l-24 0l2 7l-3 2l9 1l7 0l2 2l-19 13l26 2l0 4l-13 25l-13 9l3 4l21 11l-16 50l31-437l13 21l-8 34l-12 8l-2 1l20 9l6 26l0 10l3 2l-1 10l-10 20l-11 8l8 1l-3 9l4 0l-14 2l3 3l1 0l11 14l3 4l-10 3l5 3l9 2l2 3l-8 1l-7 3l-11 2l14 12l10 12l-5 15l-4 27l-6 7l8 4l2 1l2 1l-18 0l14 3l3 3l-4 19l5 1l-19 2l1 6l0 0l25 2l-16 7l2 5l11 2l2 9l-21 8l8 9l13 1l-11 20l-12 27l8 4l17 6l-2 37l-9 6l1 2l32-483l-17 1l16 7l-9 4l11 9l7 21l-11 22l7 5l-12 6l4 20l-4 34l-8 3l8 18l2 2l2 0l11 12l-22 0l5 15l-6 25l18 3l-3 1l-18 1l18 4l5 0l-21 13l25 7l-25 4l0 9l-1 5l6 3l-6 2l15 11l7 1l-4 3l-16 31l14 12l-4 12l13 17l-12 3l10 6l-21 3l11 6l5 1l-20 3l5 2l-3 2l9 26l13 3l-24 13l2 3l9 6l0 3l30-410l9 3l-9 8l7 31l-11 5l10 1l-10 5l-1 3l6 4l1 17l-9 10l12 9l7 9l-17 22l-7 13l8 1l3 8l-5 9l2 6l-1 6l4 5l-7 0l18 1l-2 1l-17 3l20 7l-1 6l-20 6l-2 1l8 4l21 2l-26 13l15 1l-6 20l2 11l10 3l-22 15l23 12l3 1l-9 0l-3 20l-7 31l-3 59l21 0l-17 19l2 9l21-428l21 13l-2 14l-3 10l-12 5l22 1l-11 2l-4 40l5 5l0 2l-1 7l-17 2l2 14l4 1l-4 4l14 5l-6 8l1 3l9 7l3 9l-10 3l6 0l4 9l-19 15l3 2l-8 0l10 1l13 10l4 0l-5 4l-16 4l2 4l20 2l-25 0l17 4l-1 28l3 2l-18 20l17 8l-14 7l8 4l3 14l-2 29l10 35l-10 31l22-371l5 9l6 7l-1 25l6 0l-9 2l2 3l1 2l4 1l2 1l-21 1l19 3l-22 11l8 8l13 2l-18 20l0 1l22 17l0 18l-8 1l-2 3l2 7l-4 3l-5 2l13 3l-14 4l22 14l-15 7l-14 29l2 5l5 6l15 4l1 8l0 23l-19 6l10 7l-5 59l6 10l15-313l11 0l9 19l5 2l-14 2l16 12l-11 10l0 2l9 2l-12 2l-3 11l18 7l-24 4l6 0l6 1l-2 10l-11 1l14 4l3 5l4 1l-5 4l-15 11l25 1l-13 21l4 23l-14 20l-4 8l3 38l16 10l3 39l-1 13l0 27l12-305l-1 1l-1 12l-2 3l3 6l2 4l-3 3l23 24l-8 42l-8 11l-6 51l11 5l8 12l-12 9l-1 9l-4 5l43-170l6 0l-3 8l-14 13l18 49l-15 10l0 13l-5 12l-6 27l33-145l14 11l-1 17l-7 2l6 26l-4 13l125 4"/>
<path marker-start="url(#k11)" marker-mid="url(#k11)" marker-end="url(#k11)" d="M1498 1209l-12 23l36-118l6 96l-12 8l-12 23l20 15l-1 3l-12 18l1 5l11 12l-18 4l4 6l-4 2l23 10l-21 6l4 4l-1 3l13 16l-18 1l7 3l17 6l-16 6l-5 38l18 10l1 4l-15 24l-10 5l0 30l7 36l4 27l44-433l-5 69l-16 14l18 13l-9 9l-1 9l-11 27l23 36l-22 2l-1 3l-3 2l27 0l-5 1l-12 6l-6 12l17 4l-12 4l-9 7l25 25l-18 2l9 2l0 9l3 5l2 0l-20 0l26 6l-13 3l-7 1l1 0l8 2l8 6l-21 17l20 12l-23 4l3 6l9 3l6 0l5 1l-5 10l-12 7l16 3l-19 0l2 22l31-353l2 2l14 4l-2 5l4 1l-13 4l-7 22l25 1l-6 4l-5 7l-17 17l20 25l-10 1l-3 4l13 1l3 12l-2 4l-3 12l7 1l-11 3l-7 13l5 6l-2 6l12 3l-3 1l-18 16l1 6l13 1l2 18l-11 5l16 3l-12 1l18 3l-11 8l-14 2l5 3l5 3l1 2l7 1l1 7l-23 1l2 6l13 1l-11 10l-3 0l5 3l2 7l-8 6l2 9l24 1l-20 1l3 5l7 2l-5 1l-2 9l16 6l-16 30l17 52l-7 6l30-424l0 1l-6 13l3 33l0 24l12 2l-21 11l21 5l-20 6l17 1l-25 6l27 4l-4 0l-10 10l-5 11l17 7l-17 5l10 6l-14 10l17 5l-4 1l12 5l-6 1l-15 1l10 5l-12 0l-4 8l-1 4l28 1l-12 4l1 2l-4 11l-7 2l5 1l-2 5l0 4l7 1l8 16l-15 30l-4 5l3 2l11 4l-3 15l-12 3l-1 2l14 8l0 47l0 6l6 66l24-464l11 22l-29 3l27 15l-1 1l-12 14l-3 15l1 7l10 7l7 1l-12 21l-16 4l27 3l-1 2l-6 3l6 12l-4 3l-10 10l-8 0l3 1l0 3l15 5l-7 1l7 1l-9 8l15 2l-11 7l-9 4l-8 4l2 18l20 0l-2 1l-3 0l-8 5l-1 2l10 15l-15 2l6 0l-8 1l2 0l0 7l-4 6l28 10l-9 4l2 26l-17 5l1 4l-1 11l1 6l17 11l-9 5l4 23l-17 29l21 10l-5 2l4 37l9 19l-15 17l34-438l-7 1l-2 2l5 9l1 2l5 1l6 1l-19 1l12 4l0 0l3 1l-10 9l-11 4l21 6l0 4l-22 5l17 2l-11 2l-6 13l6 3l6 2l-5 1l9 7l5 7l2 1l-13 1l17 14l-8 7l-18 0l8 0l-4 2l2 13l-5 1l8 5l5 9l0 1l0 6l-2 4l11 5l-4 0l9 3l-24 7l10 12l7 7l3 3l-14 10l-10 15l14 2l-5 1l19 23l-19 40l-9 9l7 22l-6 28l4 15l0 1l46-342l-5 9l10 1l-18 16l3 1l2 15l-12 0l11 1l10 2l5 4l-6 6l-2 3l-13 3l7 11l-5 1l-4 1l22 9l-21 5l-2 0l3 6l12 2l9 6l-19 0l9 1l-10 2l9 11l-9 1l-5 17l15 10l-9 26l1 2l11 11l-2 19l1 2l-16 12l-4 4l24 9l-4 41l2 14l-13 16l8 4l-9 51l37-338l-2 2l-9 2l-3 5l28 2l-17 1l17 5l-23 12l13 1l-11 11l2 6l4 1l3 1l-15 1l2 16l24 4l-13 5l11 2l-9 1l-13 1l22 1l-6 17l-8 3l15 18l-18 2l1 11l-9 19l11 1l-8 21l3 19l20 3l-17 95l39-248l3 0l-10 15l-11 18l20 0l-12 10l8 3l-15 7l3 10l16 8l-10 2l11 8l-15 8l16 14l-19 60l15 8l1 28l-12 27l22-262l29 18l-20 16l3 22l16 3l-20 1l17 88l-11 84l20-137l10 41l-13 12l8 29"/>
<path marker-start="url(#k10)" marker-mid="url(#k10)" marker-end="url(#k10)" d="M1496 1254l1 37l2 32l30-146l-23 44l13 17l3 1l-7 6l-7 11l-5 10l25 4l-5 2l-16 19l1 6l9 30l11 7l-8 12l-5 11l3 10l8 8l-18 9l11 15l5 7l-14 4l8 1l8 2l2 5l-8 31l0 19l0 11l23-418l1 44l14 19l-11 8l-10 3l22 5l-29 11l22 6l1 2l-18 2l8 0l12 5l-13 16l2 0l15 3l-11 1l-2 6l8 2l5 9l-10 2l-3 0l8 2l-12 8l9 5l-10 4l10 5l-11 2l18 8l-24 0l22 3l1 0l-3 2l3 4l-20 3l-2 5l1 4l22 4l-28 1l17 7l-6 8l4 7l10 16l-2 4l-9 15l-1 1l9 1l-9 1l-10 0l6 5l17 1l-26 0l17 6l2 4l-19 28l21 0l1 5l2 7l-14 21l15 10l-9 7l-4 24l0 2l10 10l-14 53l48-460l-23 35l8 25l18 3l-25 12l2 8l-3 12l12 3l12 0l-9 1l-16 1l5 13l1 18l10 10l9 4l-16 2l5 0l-7 7l13 11l-2 8l3 2l4 2l-4 5l-8 0l-12 2l5 8l21 1l-19 6l8 16l-1 7l4 7l-11 3l16 37l-15 5l-10 8l17 10l-15 40l2 2l-4 24l36-368l13 30l-14 2l17 7l-7 3l0 1l-2 11l12 1l-16 19l8 32l-5 4l-11 7l9 0l15 1l3 1l-9 22l-2 8l0 6l-16 4l13 3l-11 0l7 4l14 5l-13 2l-1 4l-9 1l15 1l-16 7l11 9l9 1l1 4l-4 0l10 1l-6 16l-12 3l-9 11l6 9l5 9l13 2l-25 3l8 0l2 5l9 16l-12 3l3 33l-6 15l3 13l-6 1l27 16l-12 22l-14 111l38-478l-8 8l18 8l6 1l1 4l-2 4l-14 2l12 4l-4 0l7 1l-22 10l23 0l-17 14l15 6l-8 7l5 6l-9 16l-1 3l-8 3l13 6l-11 2l7 0l-5 9l10 0l11 4l-19 6l9 3l-3 3l-2 2l2 4l-6 2l13 2l-7 10l-6 10l1 6l-10 2l15 0l-11 4l-5 4l22 1l7 9l-19 4l-5 11l14 6l1 2l1 14l-3 28l-18 5l7 44l1 10l-7 8l13 15l-9 26l14 61l29-402l-17 2l16 2l-11 3l10 2l-6 3l-9 2l4 0l18 3l-5 6l6 9l4 3l-27 1l25 12l-13 4l-9 2l0 6l7 3l8 5l4 11l-13 4l-2 14l4 2l4 7l-15 0l20 1l6 25l-10 4l-14 1l-2 3l15 0l10 10l-20 8l14 7l-11 4l5 0l9 13l-22 11l1 4l6 3l-1 20l15 3l5 33l-17 5l13 6l1 62l35-324l-6 3l-2 4l-20 4l10 18l-9 4l26 0l-1 9l-8 1l-17 4l14 7l-4 4l-12 2l5 7l20 5l-17 9l4 15l-12 2l25 4l0 6l-17 12l0 0l0 4l-7 27l2 97l28-228l0 4l1 12l19 4l-8 9l14 10l-11 9l1 58l9 6l-7 8l-11 4l21 13l-25 11l-4 42l21 4l-2 109l21-233l2 10l18-63l1 43l44 191"/>
<path marker-start="url(#k9)" marker-mid="url(#k9)" marker-end="url(#k9)" d="M1414 989l18 48l26-42l3 71l-13 4l7 34l7 13l-1 5l11 12l27 6l-11 6l-10 13l-3 2l17 3l-16 6l14 9l-2 5l7 36l0 19l-1 56l26-282l-2 0l-17 19l8 8l8 16l8 11l-1 0l-17 11l-1 19l18 10l4 3l-11 8l-14 6l24 3l-10 3l-5 13l-2 0l4 7l7 12l-16 1l24 15l-6 15l6 4l-22 4l16 8l-3 4l-10 17l-10 4l14 6l-7 5l18 1l-7 5l-12 6l15 3l-9 15l7 0l-19 0l15 3l-15 11l17 1l6 2l-1 4l-8 7l-13 22l5 1l12 3l6 7l-6 0l-3 9l-3 2l7 6l-1 39l4 1l-1 10l-6 2l-1 40l-2 25l24-436l11 14l-3 4l13 1l-1 11l-7 4l-4 22l10 1l-17 2l2 1l18 7l-5 8l-13 1l19 8l-26 1l10 0l-5 2l7 10l5 5l5 7l-8 13l-13 7l4 14l18 2l0 8l1 6l-12 4l-11 8l25 23l-16 6l-10 9l19 4l-16 18l16 5l-15 13l-1 12l16 3l1 7l-4 14l0 7l2 13l6 3l-5 3l-13 19l8 73l1 13l32-425l-6 2l10 14l-1 1l-11 3l-9 22l11 3l8 5l7 5l-14 4l-9 5l12 7l8 1l-9 2l-7 7l19 5l-4 2l-12 1l1 16l10 3l-15 12l0 2l-7 12l5 4l13 2l0 3l-13 2l18 1l-4 2l1 32l2 1l-6 1l9 4l-21 0l-5 3l15 8l5 5l-5 13l4 1l-15 17l8 1l-8 3l8 2l-10 1l13 1l-10 3l6 0l14 16l-9 5l-9 5l5 2l15 17l-12 3l1 12l6 7l-18 29l23 13l22-347l-19 4l7 15l12 1l-2 3l-1 5l1 0l-9 1l10 2l-7 9l11 1l-1 12l-10 3l5 3l-17 3l23 6l-1 2l-8 15l-1 12l15 4l-11 6l7 2l-4 1l4 4l-19 5l18 4l-16 1l-1 5l2 2l2 5l8 8l-1 0l-15 2l7 1l-4 5l6 5l-7 2l9 2l-11 2l20 1l-1 0l-19 4l3 1l21 1l-7 5l-11 10l12 4l-3 1l-6 0l-3 5l15 1l-4 11l-10 9l-2 8l15 38l-20 17l3 29l-3 40l16 32l-12 24l30-397l8 5l7 1l2 3l-11 2l6 4l-15 0l11 7l-2 5l-9 9l-3 5l20 2l5 1l-1 1l5 5l-11 2l-16 6l8 4l-7 2l26 1l-11 0l-10 5l7 3l6 1l-11 6l-4 6l19 11l-24 7l3 5l16 2l-9 9l14 13l-1 16l5 1l-27 4l-2 21l4 0l-4 8l9 41l-7 1l4 5l18 2l-7 30l-12 10l20 16l-18 39l39-310l8 7l-6 10l-2 5l-9 0l20 1l-22 4l-1 3l-3 5l25 9l-25 6l15 5l13 5l-9 20l-7 1l0 9l15 4l-7 1l-20 3l4 2l8 4l7 0l-19 20l6 12l9 3l-15 13l9 3l-5 20l16 5l-19 23l9 5l-10 24l17 16l13-239l11 11l1 28l-12 10l2 4l1 3l2 40l-4 8l25 98l6-135l-3 5l15 4l-10 8l-5 107l30-146l48 13l-18 32"/>
<path marker-start="url(#k8)" marker-mid="url(#k8)" marker-end="url(#k8)" d="M1405 986l-9 39l10 10l12-37l5 37l16 15l-5 10l2 7l1 23l12-55l9 6l-1 24l9 21l1 1l-12 9l-3 84l30-115l12 6l-23 5l17 18l-14 35l18 1l0 3l-13 0l15 6l4 31l-16 8l6 3l5 9l-7 1l-11 3l-2 4l5 1l-1 0l0 13l20 5l-4 3l1 1l5 36l-3 51l19-255l-1 11l-10 13l2 4l14 3l-2 11l-11 0l15 6l-14 0l21 0l-8 3l8 1l0 4l-6 0l-22 5l4 14l-4 3l4 5l5 17l19 5l-2 4l-22 1l9 4l1 1l0 2l13 9l-6 4l-1 1l6 2l0 19l-4 6l-19 13l8 2l16 0l-11 4l10 0l-10 6l11 0l-8 8l-5 3l1 1l2 0l-12 1l4 9l-4 3l12 4l7 15l-23 14l24 12l-25 11l15 37l40-332l2 11l-6 5l-13 6l19 8l-7 1l7 0l-21 6l11 2l-4 0l8 5l-1 2l-16 12l17 0l-4 12l-3 1l3 6l-18 4l21 1l-5 15l-6 6l-4 1l5 9l17 1l-18 2l18 0l-25 7l-3 2l12 3l8 12l-11 4l12 1l2 3l3 1l-20 5l-6 0l0 3l29 1l-21 1l-2 5l9 3l-4 2l0 2l-7 1l7 3l5 1l2 0l-6 5l-12 0l14 0l-5 5l-9 0l7 6l21 1l-4 14l-13 1l7 2l-16 4l20 2l-16 14l5 1l5 13l-2 17l-14 1l2 27l8 3l5 4l5 1l-1 9l-12 15l-2 47l-3 11l7 52l24-424l1 8l-3 10l16 5l-13 1l25 1l-22 6l-7 7l17 0l1 2l4 4l-13 4l-7 13l8 5l-1 1l-6 2l17 2l0 1l-10 1l-9 2l14 5l2 4l-14 3l25 0l-24 0l11 5l14 1l-1 1l-26 1l23 4l-16 2l-4 1l13 6l-2 0l-12 4l10 0l-2 10l11 2l-6 0l-4 6l-5 5l3 0l15 0l-21 3l21 19l-16 4l18 3l-26 0l15 8l-17 1l10 1l-6 0l2 2l14 1l-7 2l5 1l-6 3l-8 1l24 3l-14 0l-11 2l-1 16l3 8l6 11l3 4l4 3l-17 5l7 5l-2 41l-6 26l1 50l38-345l10 6l8 2l-3 2l-19 3l15 3l-3 3l-4 1l7 0l-18 2l12 3l9 3l-15 3l5 3l4 1l2 0l7 2l-10 2l8 3l-1 8l-13 5l-2 3l15 1l4 2l-13 8l15 10l-26 2l7 9l15 2l-13 1l11 3l4 4l2 4l-27 1l21 1l6 3l-23 0l-4 0l1 1l9 5l6 6l6 12l4 20l-4 4l-4 12l-17 1l0 14l13 1l8 20l-7 52l-8 5l44-253l-20 1l20 8l-9 5l-13 4l13 2l-6 3l17 0l-14 4l0 0l3 16l-10 1l3 6l6 2l6 1l-7 21l8 2l-15 4l4 5l9 4l-9 6l8 6l8 2l-1 26l-19 2l12 9l8 42l-17 10l0 119l32-305l15 15l-19 9l-5 19l14 8l-11 9l17 4l-7 17l-3 14l-2 5l-4 32l4 3l9 96l36-179l2 38l-19 4l-7 10l12 15l23-83l10 3l-8 61"/>
<path marker-start="url(#k7)" marker-mid="url(#k7)" marker-end="url(#k7)" d="M1400 1001l6 18l-9 15l35-43l-10 3l5 8l4 3l-13 11l-6 2l-1 1l20 8l-8 11l7 22l30-60l-16 8l24 6l-24 8l22 4l-19 2l-3 1l4 4l10 9l11 1l0 22l-14 23l2 9l-3 20l9 2l-4 2l6 31l4 9l6-159l17 5l6 3l-23 4l9 2l-4 2l17 22l-19 8l3 15l-2 1l18 1l0 2l-17 4l4 23l11 1l-3 9l-2 3l-20 8l1 10l0 1l23 2l-18 1l14 4l-8 9l16 6l-6 1l-4 6l7 2l-19 5l10 0l-1 1l8 5l-19 3l19 8l-20 4l2 13l18 5l-1 1l6 4l0 2l-10 5l2 2l4 6l5 68l-11 1l41-285l-18 16l16 2l-17 3l14 2l-5 7l6 4l-3 9l7 1l-29 1l14 4l13 20l-5 1l-12 2l12 1l-8 4l-4 2l8 2l7 5l-11 1l4 0l-11 1l8 1l10 5l-14 6l13 7l-24 7l8 1l4 9l5 3l-7 0l6 0l-5 8l6 4l12 1l-17 9l-5 1l-6 3l10 3l4 1l0 3l-10 0l9 11l-12 8l5 3l21 1l-24 0l1 32l3 0l-4 4l15 9l-5 1l9 6l-5 21l7 10l-16 9l12 5l-16 37l13 13l-8 65l43-365l-3 8l-15 1l22 4l-4 5l-13 8l13 6l-21 0l5 2l16 0l-10 2l4 6l9 2l3 3l-25 1l-2 1l25 0l-15 10l-3 4l20 2l0 0l-11 2l6 0l-14 2l-4 0l-4 5l15 2l-10 3l0 2l-2 1l19 2l-3 5l-4 6l4 4l6 3l-3 3l-8 9l-3 4l14 1l-2 6l-12 0l-5 3l1 3l13 4l-1 7l-14 5l17 4l2 12l-20 7l22 5l-12 13l1 34l4 9l-20 56l37-294l2 5l5 0l-6 4l-3 1l-3 0l10 6l9 0l-17 6l14 8l-7 0l-3 0l-2 5l19 6l-22 1l7 1l4 2l-12 1l18 9l0 8l-17 1l17 9l-16 6l24 0l-24 1l19 1l-11 10l12 6l-10 3l11 1l-14 7l2 4l0 5l-8 2l22 3l-11 1l9 3l-23 4l20 5l-21 6l16 4l-5 2l-1 3l-4 4l17 1l-18 1l22 1l-22 2l13 3l-17 3l16 2l4 3l-10 7l-13 0l3 1l20 1l-19 3l0 19l8 16l-2 27l2 33l6 6l14-281l2 3l25 10l-15 2l3 0l4 6l-2 1l5 0l-16 1l-6 16l-1 7l3 9l21 2l2 0l-17 1l14 3l-22 5l16 2l7 16l-4 1l-20 14l16 8l-2 15l2 3l-13 10l6 30l18 3l-13 1l-12 2l7 2l12 1l-22 4l19 16l-14 12l14 2l-18 61l16 69l29-322l-11 6l1 15l-6 1l14 3l1 6l1 18l11 3l-26 10l1 16l15 7l-12 5l6 22l12 27l-8 15l9 20l7-147l-1 5l12 10l17 4l-12 16l-16 54l13 3l32-47l38 52"/>
<path marker-start="url(#k6)" marker-mid="url(#k6)" marker-end="url(#k6)" d="M1401 990l-5 26l30-30l-15 2l9 4l-9 7l21 0l-18 4l1 1l3 1l10 3l-17 0l6 1l15 0l-13 5l-9 4l0 0l24 6l-23 3l7 5l-5 2l17 8l2 9l-14 2l13 4l8 24l2-82l8 6l-8 0l2 4l20 4l-9 1l14 3l-20 9l-2 11l19 4l-22 11l25 2l-19 2l3 1l13 0l-5 3l0 14l-13 6l8 1l4 1l8 7l-27 4l22 2l-7 11l2 5l-1 19l-5 5l11 32l-11 1l38-175l-2 3l-8 6l3 2l8 1l-12 1l-5 6l12 2l-4 0l-3 2l-7 4l-1 2l14 10l-5 0l19 1l-27 0l28 7l-3 8l-19 5l9 2l-3 2l5 0l-16 2l26 1l-14 7l-14 0l8 3l-3 5l1 2l14 2l-10 1l13 3l-1 0l-4 3l5 8l-4 0l6 3l3 2l-7 1l-12 4l10 2l-18 9l22 0l0 1l-21 2l18 2l4 3l-1 1l-21 0l27 1l-26 2l15 4l-3 6l4 3l8 0l-16 2l3 1l5 2l-9 9l3 0l-4 0l16 3l-11 2l-14 1l3 2l11 2l-6 2l18 2l-8 5l-16 2l8 8l2 1l-2 4l-1 5l4 0l-2 3l6 8l6 1l6 2l-3 5l-1 7l4 14l-11 2l1 25l31-243l-16 3l1 2l19 1l3 0l-11 1l-16 1l0 1l18 1l-7 0l2 4l-1 4l16 1l-2 2l-22 2l17 1l6 0l-11 2l13 4l-2 1l2 8l-6 1l-11 2l-5 3l15 0l-8 0l7 4l-16 3l24 2l-13 0l12 1l-15 3l-5 2l4 2l-6 2l-4 1l26 1l-9 1l-8 1l14 1l-18 3l-4 1l21 1l-16 3l4 1l-3 0l4 2l12 3l-7 5l4 1l4 1l1 1l-2 6l0 5l-19 1l0 0l-5 0l5 9l-4 18l5 1l-7 3l29 3l-23 2l15 3l-18 12l18 0l0 1l-15 0l16 3l-9 3l-13 10l4 4l23 5l-14 1l11 0l-7 1l-11 12l-4 3l3 9l-5 4l24 7l-24 2l15 6l-8 9l16 20l1 5l-5 8l14-274l2 10l-5 6l23 1l-20 1l25 0l-19 4l-4 0l13 3l8 5l3 2l-14 6l-9 5l13 1l-13 5l3 3l14 4l-10 0l-2 1l12 5l-22 1l8 2l17 2l-23 5l22 1l-9 1l-3 1l3 4l10 1l-10 5l-9 0l5 3l3 2l-11 4l21 2l-20 8l10 1l2 7l-7 0l19 2l-13 1l-7 1l16 3l-15 4l-1 3l-1 2l2 0l9 5l3 1l-8 3l-4 10l-7 3l4 3l12 9l-18 1l23 1l-9 14l11 2l1 5l-14 12l-4 1l-4 10l15 8l-15 98l26-302l15 4l1 1l-8 3l-9 2l14 4l11 4l3 2l-11 1l-3 3l-1 3l-9 5l22 4l-10 1l6 1l-21 0l15 12l-13 5l9 9l-12 0l7 1l-1 3l7 1l2 0l-10 3l19 11l-1 14l-2 5l-9 3l10 9l-12 20l-5 5l-4 14l10 0l-6 1l-4 4l0 2l0 11l12 25l-3 1l8 3l5 26l5 46l-23 17l44-265l-4 4l-2 17l-13 9l3 41l11 0l-4 13l17 6l-3 5l-13 13l3 10l15 34l-12 71l6 8l11-189l1 11l39-42"/>
<path marker-start="url(#k5)" marker-mid="url(#k5)" marker-end="url(#k5)" d="M1393 984l12 5l4 1l-24 6l19 10l2 13l-2 12l4 27l7-81l12 1l-11 15l15 1l-21 2l8 1l21 1l-1 2l-11 2l-4 0l3 1l-1 1l4 0l0 1l1 4l7 0l-21 5l3 2l16 2l-2 12l-15 2l4 9l16 2l-12 1l-4 8l17 0l-14 3l4 0l-4 3l4 6l-5 5l12 3l3 2l0 6l-3 1l0 8l6-108l16 6l-8 1l-9 7l-1 2l11 3l-4 3l0 3l18 0l-24 2l22 11l-10 4l4 4l0 1l12 0l-21 2l-1 6l-3 2l8 4l-1 4l-10 1l2 2l12 8l-8 1l18 1l-3 2l-15 0l-2 2l12 0l1 3l-11 3l-4 1l11 5l8 3l1 3l-21 12l6 1l8 6l-3 3l10 1l4 7l-11 6l3 6l-6 10l12 2l-4 12l8 1l0 4l-2 31l10-180l18 3l-22 0l3 0l20 7l-23 0l11 1l14 0l-11 0l-17 1l10 2l10 0l6 7l-16 1l-5 1l-1 5l2 4l10 9l-2 3l15 4l-8 0l-4 1l1 0l4 2l-3 1l2 7l0 2l-19 1l19 2l-11 5l6 1l1 7l-4 6l-5 1l2 6l-1 4l20 3l-29 6l0 1l6 0l-4 1l3 6l22 18l-20 5l8 7l-6 6l20 3l-24 2l16 5l2 3l-2 5l-3 11l11 1l-14 48l11 1l8-221l25 0l-23 6l13 8l-2 4l-7 2l17 2l-16 1l-10 1l22 1l-10 4l-1 5l2 0l-1 1l11 2l-7 8l-11 3l-3 10l15 0l-17 2l13 8l-4 3l9 7l-19 1l0 1l24 0l-12 0l-11 1l6 0l11 2l-17 6l20 1l3 1l-3 3l7 7l-2 0l3 5l-27 0l1 4l12 1l-5 12l-4 3l11 0l5 5l-12 8l10 2l-14 4l-4 9l-2 28l2 4l7 2l2 28l-5 5l14 51l-4 25l26-290l-9 4l12 2l-6 1l-1 4l-4 2l19 2l-14 4l18 2l-5 1l4 1l-8 0l1 5l2 0l-14 1l-2 3l18 3l-6 13l-6 6l8 2l-5 14l2 3l0 3l11 3l-10 1l-9 0l16 28l-10 17l-10 7l24 2l-21 1l4 6l-5 4l-3 35l12 53l34-222l-15 5l15 6l9 0l-21 3l21 3l-27 0l16 1l-8 11l15 20l-22 5l9 5l8 7l8 15l-23 2l13 4l-3 10l7 6l1 1l-3 5l-16 35l18 15l-3 8l-8 8l20-167l6 7l3 0l15 5l-16 3l2 8l0 1l-4 7l0 5l-2 16l37-33l-9 23l8 29l2 13l-3 44"/>
<path marker-start="url(#k4)" marker-mid="url(#k4)" marker-end="url(#k4)" d="M1378 997l13-25l17 14l-13 12l12 39l25-57l4 4l-9 6l7 8l-23 2l4 1l5 4l6 0l9 1l-17 2l2 3l-8 1l7 3l-5 1l4 2l18 0l2 0l-16 1l2 2l5 3l-2 1l12 4l-7 7l-7 0l-8 0l1 3l13 1l1 0l-17 2l15 5l-12 1l14 6l-7 0l-9 0l22 1l-19 2l7 16l1 21l28-105l-12 2l6 1l-3 0l14 2l-12 6l18 2l-24 1l10 1l-12 1l9 8l20 0l0 1l-20 4l-8 0l20 1l-14 3l-5 0l20 4l-22 5l3 0l24 1l-16 4l15 4l-7 1l5 3l-17 1l3 1l10 0l-17 4l3 1l-3 6l22 0l-20 0l6 6l13 1l-6 2l-10 2l8 2l-8 0l10 1l9 0l-19 1l7 1l-5 0l-3 4l-3 1l3 1l5 1l-11 10l8 4l0 5l3 5l15 2l-26 6l14 19l28-128l-7 2l8 3l-13 0l14 1l5 1l-20 4l4 1l-3 0l20 2l-1 2l-3 0l-17 2l2 5l12 1l-10 0l18 1l-20 1l-2 6l15 0l5 1l9 1l-6 0l-16 1l9 2l12 0l-1 1l-16 3l7 3l-11 12l13 0l-16 1l-2 0l4 8l9 5l-12 2l7 23l-9 0l27 5l-22 3l19 1l-22 7l17 1l1 6l0 5l-15 3l-5 4l4 8l-4 1l10 5l-9 1l-2 6l28 2l-27 1l1 0l8 13l15 7l0 1l-2 8l-7 19l25-199l17 4l-18 1l15 2l0 1l-3 7l2 0l-21 5l7 1l13 0l-4 1l-2 1l-9 2l13 0l-13 3l21 2l-6 10l-20 3l16 3l5 1l-1 9l4 2l-4 1l-12 7l-10 1l9 4l0 2l10 12l-18 3l12 1l6 12l-20 7l6 1l3 2l0 12l7 0l4 5l-17 6l1 15l24 12l-1 6l-9 1l-16 8l15 0l33-177l-6 5l-8 14l14 5l-19 4l22 1l-17 2l18 2l-4 2l-8 7l-5 0l-7 2l23 1l-2 1l-2 1l-17 2l17 6l-16 10l7 0l4 2l-10 3l22 16l-22 9l7 19l3 9l8 18l-5 2l-10 2l49-125l-14 9l-7 16l2 12l4 0l-4 5l4 0l7 7l-11 8l10 16l-4 1l-1 18l-9 1l73-28l-8 21"/>
<path marker-start="url(#k3)" marker-mid="url(#k3)" marker-end="url(#k3)" d="M1405 997l-5 37l16-50l10 9l-15 0l25 1l-23 2l25 7l-10 1l-14 2l1 2l10 1l-1 5l2 0l5 2l-14 12l-2 1l16 2l-2 1l8 6l-10 0l11 1l-12 3l2 1l-7 2l12 1l-20 6l22 1l0 2l-22 15l25 2l0 5l-5 0l-8 2l15-81l7 6l-2 8l-4 7l3 6l11 2l4 1l-2 1l7 3l-21 19l15 5l8 7l-25 2l21 0l4 0l-9 3l0 22l-13 2l7 7l10 7l0 1l0 19l0 9l10-128l-1 3l20 9l-17 5l17 7l-3 2l3 2l2 1l-19 1l-3 5l17 3l-7 3l15 6l-4 1l7 3l-21 1l19 2l-3 4l-22 6l20 3l1 6l0 2l-8 1l-2 1l10 1l-10 3l6 16l7 3l-2 2l-17 4l4 0l4 15l3 4l12 7l-6 2l-2 2l23-125l12 4l3 2l-29 8l18 3l-12 5l2 2l20 1l-14 9l-12 5l8 2l-7 8l25 0l-26 1l4 21l-5 4l17 9l8 4l3 12l-16 27l5 18l-9 21l-7 2l39-169l8 3l0 6l-17 4l6 17l12 10l-8 15l5 1l-7 16l9 6l-9 23l-8 35l48-96l-14 6l7 11l16 0l-15 26l-1 79"/>
<path marker-start="url(#k2)" marker-mid="url(#k2)" marker-end="url(#k2)" d="M1407 995l-2 0l-3 17l10-33l26 14l-12 3l13 1l-27 4l15 8l-1 6l-9 9l16 14l3 4l-6 1l-5 4l14 6l-10 14l7 3l-5 4l30-68l0 3l-11 0l9 2l-6 2l-7 9l10 1l-4 10l-7 7l-1 3l-1 4l6 3l-7 0l27 7l-10 1l1 2l-15 2l-5 7l15 7l-9 3l7 9l-3 2l2 12l16 28l-9 19l5 1l27-154l-19 18l16 9l-14 6l16 6l-3 1l-15 3l11 5l-5 9l5 1l7 2l0 3l-14 2l13 17l-4 9l6 6l5 1l-3 20l-6 17l-1 8l37-110l-9 5l13 4l-2 1l-7 1l-4 32l-6 14l17 5l-11 13l24-68l14 9l9-19l19 19l52 33"/>
<path marker-start="url(#k1)" marker-mid="url(#k1)" marker-end="url(#k1)" d="M1407 984l32 2l-18 5l1 9l-11 27l11 12l14 29l9-74l3 1l12 5l-13 2l4 21l-4 0l9 5l-2 4l-5 29l-2 28l13 8l-4 11l5 35l14-134l-5 24l4 3l0 0l6 48l11 20l6 1l-14 10l13 7l-2 2l-9 40l18-136l16 7l-12 8l14 24l-7 20l26-55"/>
</g>
</g>
<line x1="246.3" y1="279.3" x2="1275.2" y2="279.3" class="rl"/>
<line x1="1353.2" y1="279.3" x2="2382.1" y2="279.3" class="rl"/>
<line x1="246.3" y1="1157.0" x2="1275.2" y2="1157.0" class="rl"/>
<line x1="1353.2" y1="1157.0" x2="2382.1" y2="1157.0" class="rl"/>
<path d="M246.7 93.2V840.6M238.7 832.6H1276.7" class="ax"/>
<path d="M238.4 94.7H246.7M238.4 242.3H246.7M238.4 389.9H246.7M238.4 537.4H246.7M238.4 685.0H246.7M238.4 832.6H246.7M503.7 832.6V840.4M760.8 832.6V840.4M1017.8 832.6V840.4M1274.8 832.6V840.4" class="tk"/>
<text x="219.3" y="104.7" class="tl" text-anchor="end">25</text>
<text x="219.3" y="252.3" class="tl" text-anchor="end">20</text>
<text x="219.3" y="399.9" class="tl" text-anchor="end">15</text>
<text x="219.3" y="547.4" class="tl" text-anchor="end">10</text>
<text x="219.3" y="695.0" class="tl" text-anchor="end">5</text>
<text x="219.3" y="842.6" class="tl" text-anchor="end">0</text>
<text transform="translate(140.2 464.2) rotate(-90)" class="tt" text-anchor="middle" textLength="504" lengthAdjust="spacingAndGlyphs">Abundance&#160; (thousands)</text>
<path d="M1353.6 93.2V840.6M1345.6 832.6H2383.6" class="ax"/>
<path d="M1345.3 94.7H1353.6M1345.3 242.3H1353.6M1345.3 389.9H1353.6M1345.3 537.4H1353.6M1345.3 685.0H1353.6M1345.3 832.6H1353.6M1610.6 832.6V840.4M1867.7 832.6V840.4M2124.7 832.6V840.4M2381.7 832.6V840.4" class="tk"/>
<path d="M246.7 970.9V1718.3M238.7 1710.3H1276.7" class="ax"/>
<path d="M238.4 972.4H246.7M238.4 1120.0H246.7M238.4 1267.6H246.7M238.4 1415.1H246.7M238.4 1562.7H246.7M238.4 1710.3H246.7M503.7 1710.3V1718.1M760.8 1710.3V1718.1M1017.8 1710.3V1718.1M1274.8 1710.3V1718.1" class="tk"/>
<text x="219.3" y="982.4" class="tl" text-anchor="end">25</text>
<text x="219.3" y="1130.0" class="tl" text-anchor="end">20</text>
<text x="219.3" y="1277.6" class="tl" text-anchor="end">15</text>
<text x="219.3" y="1425.1" class="tl" text-anchor="end">10</text>
<text x="219.3" y="1572.7" class="tl" text-anchor="end">5</text>
<text x="219.3" y="1720.3" class="tl" text-anchor="end">0</text>
<text transform="translate(140.2 1341.9) rotate(-90)" class="tt" text-anchor="middle" textLength="504" lengthAdjust="spacingAndGlyphs">Abundance&#160; (thousands)</text>
<text x="504.0" y="1765.6" class="tl" text-anchor="middle">200</text>
<text x="761.1" y="1765.6" class="tl" text-anchor="middle">400</text>
<text x="1018.1" y="1765.6" class="tl" text-anchor="middle">600</text>
<text x="1275.1" y="1765.6" class="tl" text-anchor="middle">800</text>
<text x="394.5" y="1850.2" class="tt" textLength="732" lengthAdjust="spacingAndGlyphs">Incidental bycatch (individuals yr<tspan font-size="31" dy="-19">−1</tspan><tspan dy="19">)</tspan></text>
<path d="M1353.6 970.9V1718.3M1345.6 1710.3H2383.6" class="ax"/>
<path d="M1345.3 972.4H1353.6M1345.3 1120.0H1353.6M1345.3 1267.6H1353.6M1345.3 1415.1H1353.6M1345.3 1562.7H1353.6M1345.3 1710.3H1353.6M1610.6 1710.3V1718.1M1867.7 1710.3V1718.1M2124.7 1710.3V1718.1M2381.7 1710.3V1718.1" class="tk"/>
<text x="1610.9" y="1765.6" class="tl" text-anchor="middle">200</text>
<text x="1868.0" y="1765.6" class="tl" text-anchor="middle">400</text>
<text x="2125.0" y="1765.6" class="tl" text-anchor="middle">600</text>
<text x="2382.0" y="1765.6" class="tl" text-anchor="middle">800</text>
<text x="1501.4" y="1850.2" class="tt" textLength="732" lengthAdjust="spacingAndGlyphs">Incidental bycatch (individuals yr<tspan font-size="31" dy="-19">−1</tspan><tspan dy="19">)</tspan></text>
<path d="M368.2 165.1H493.6M430.7 136.6V194.4M368.2 150.5V179.7M493.6 150.5V179.7M416.1 136.6H445.3M416.1 194.4H445.3" class="eb"/><circle cx="430.7" cy="165.1" r="11.6"/>
<path d="M475.0 230.9H673.6M574.4 177.3V284.5M475.0 216.3V245.5M673.6 216.3V245.5M559.8 177.3H589.0M559.8 284.5H589.0" class="eb"/><circle cx="574.4" cy="230.9" r="11.6"/>
<path d="M568.2 291.3H805.5M687.1 218.7V363.8M568.2 276.7V305.9M805.5 276.7V305.9M672.5 218.7H701.7M672.5 363.8H701.7" class="eb"/><circle cx="687.1" cy="291.3" r="11.6"/>
<path d="M642.2 344.7H884.5M763.7 257.7V431.9M642.2 330.1V359.3M884.5 330.1V359.3M749.1 257.7H778.3M749.1 431.9H778.3" class="eb"/><circle cx="763.7" cy="344.7" r="11.6"/>
<path d="M700.0 395.6H937.3M819.1 296.6V494.1M700.0 381.0V410.2M937.3 381.0V410.2M804.5 296.6H833.7M804.5 494.1H833.7" class="eb"/><circle cx="819.1" cy="395.6" r="11.6"/>
<path d="M1471.6 194.9H1586.5M1529.0 147.7V242.3M1471.6 180.3V209.5M1586.5 180.3V209.5M1514.4 147.7H1543.6M1514.4 242.3H1543.6" class="eb"/><circle cx="1529.0" cy="194.9" r="11.6"/>
<path d="M1563.3 287.1H1730.3M1646.8 201.8V369.7M1563.3 272.5V301.7M1730.3 272.5V301.7M1632.2 201.8H1661.4M1632.2 369.7H1661.4" class="eb"/><circle cx="1646.8" cy="287.1" r="11.6"/>
<path d="M1625.4 366.5H1821.4M1723.4 258.6V474.1M1625.4 351.9V381.1M1821.4 351.9V381.1M1708.8 258.6H1738.0M1708.8 474.1H1738.0" class="eb"/><circle cx="1723.4" cy="366.5" r="11.6"/>
<path d="M1652.7 435.8H1865.5M1759.3 312.5V559.4M1652.7 421.2V450.4M1865.5 421.2V450.4M1744.7 312.5H1773.9M1744.7 559.4H1773.9" class="eb"/><circle cx="1759.3" cy="435.8" r="11.6"/>
<path d="M1652.7 498.0H1888.2M1770.2 365.6V630.1M1652.7 483.4V512.6M1888.2 483.4V512.6M1755.6 365.6H1784.8M1755.6 630.1H1784.8" class="eb"/><circle cx="1770.2" cy="498.0" r="11.6"/>
<path d="M361.8 1086.9H472.2M416.7 1027.2V1146.9M361.8 1072.3V1101.5M472.2 1072.3V1101.5M402.1 1027.2H431.3M402.1 1146.9H431.3" class="eb"/><circle cx="416.7" cy="1086.9" r="11.6"/>
<path d="M440.0 1192.0H602.7M521.5 1086.7V1297.1M440.0 1177.4V1206.6M602.7 1177.4V1206.6M506.9 1086.7H536.1M506.9 1297.1H536.1" class="eb"/><circle cx="521.5" cy="1192.0" r="11.6"/>
<path d="M477.7 1281.4H684.8M581.3 1150.7V1411.5M477.7 1266.8V1296.0M684.8 1266.8V1296.0M566.7 1150.7H595.9M566.7 1411.5H595.9" class="eb"/><circle cx="581.3" cy="1281.4" r="11.6"/>
<path d="M475.1 1357.0H721.8M598.0 1212.6V1502.6M475.1 1342.4V1371.6M721.8 1342.4V1371.6M583.4 1212.6H612.6M583.4 1502.6H612.6" class="eb"/><circle cx="598.0" cy="1357.0" r="11.6"/>
<path d="M449.0 1423.0H734.4M592.1 1273.3V1573.0M449.0 1408.4V1437.6M734.4 1408.4V1437.6M577.5 1273.3H606.7M577.5 1573.0H606.7" class="eb"/><circle cx="592.1" cy="1423.0" r="11.6"/>
<path d="M1466.9 1094.8H1576.2M1521.7 1026.3V1164.0M1466.9 1080.2V1109.4M1576.2 1080.2V1109.4M1507.1 1026.3H1536.3M1507.1 1164.0H1536.3" class="eb"/><circle cx="1521.7" cy="1094.8" r="11.6"/>
<path d="M1535.0 1207.9H1702.4M1618.9 1088.4V1327.5M1535.0 1193.3V1222.5M1702.4 1193.3V1222.5M1604.3 1088.4H1633.5M1604.3 1327.5H1633.5" class="eb"/><circle cx="1618.9" cy="1207.9" r="11.6"/>
<path d="M1555.9 1302.4H1781.4M1668.6 1156.5V1447.0M1555.9 1287.8V1317.0M1781.4 1287.8V1317.0M1654.0 1156.5H1683.2M1654.0 1447.0H1683.2" class="eb"/><circle cx="1668.6" cy="1302.4" r="11.6"/>
<path d="M1537.0 1382.7H1814.7M1675.5 1223.0V1541.0M1537.0 1368.1V1397.3M1814.7 1368.1V1397.3M1660.9 1223.0H1690.1M1660.9 1541.0H1690.1" class="eb"/><circle cx="1675.5" cy="1382.7" r="11.6"/>
<path d="M1500.7 1449.7H1820.5M1660.6 1288.7V1610.5M1500.7 1435.1V1464.3M1820.5 1435.1V1464.3M1646.0 1288.7H1675.2M1646.0 1610.5H1675.2" class="eb"/><circle cx="1660.6" cy="1449.7" r="11.6"/>
<rect x="3.5" y="9.8" width="63.6" height="63.9" class="bx"/>
<text x="14.3" y="54.1" class="pl">A</text>
<rect x="2425.4" y="3.7" width="63.4" height="63.5" class="bx"/>
<text x="2442.9" y="46.3" class="pl">B</text>
<rect x="3.8" y="895.9" width="63.3" height="62.0" class="bx"/>
<text x="20.3" y="941.7" class="pl">C</text>
<rect x="2431.6" y="889.1" width="63.7" height="63.4" class="bx"/>
<text x="2449.9" y="935.8" class="pl">D</text>
</svg></body></html>
